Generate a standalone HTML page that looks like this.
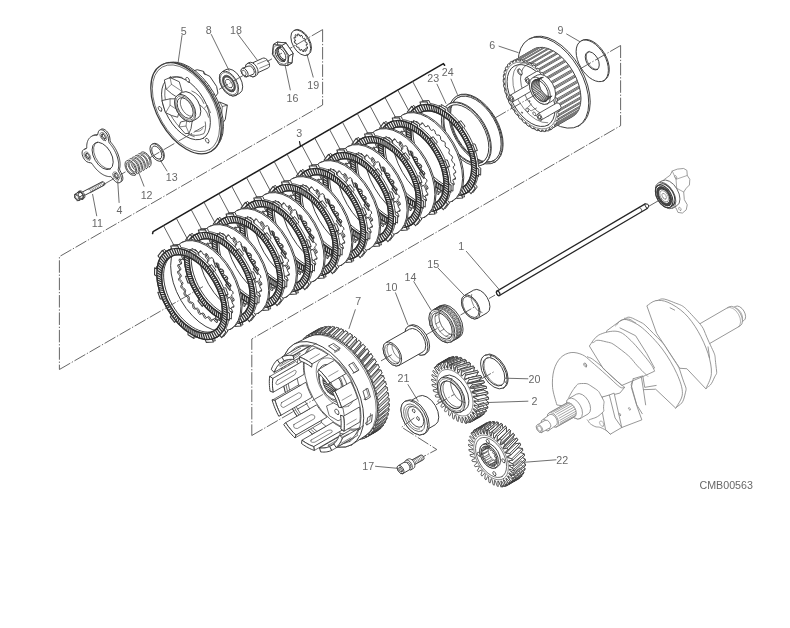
<!DOCTYPE html>
<html><head><meta charset="utf-8"><title>Clutch</title>
<style>
html,body{margin:0;padding:0;background:#fff;}
body{width:790px;height:628px;overflow:hidden;font-family:"Liberation Sans",sans-serif;}
svg{display:block;}
svg text{font-family:"Liberation Sans",sans-serif;}
</style></head><body>
<svg width="790" height="628" viewBox="0 0 790 628" stroke-linejoin="round" stroke-linecap="round">
<defs><filter id="soft" x="0" y="0" width="790" height="628" filterUnits="userSpaceOnUse"><feGaussianBlur stdDeviation="0.45"/></filter></defs>
<rect width="790" height="628" fill="#fff"/>
<g filter="url(#soft)">
<path d="M322.6 29.6 L322.6 105 L59.4 256.6 L59.4 369.5" fill="none" stroke="#4a4a4a" stroke-width="0.85" stroke-dasharray="12.5 1.8 1.3 1.8" stroke-linecap="butt"/>
<path d="M620.6 45.5 L620.6 125.7 L251.8 339 L251.8 435.5" fill="none" stroke="#4a4a4a" stroke-width="0.85" stroke-dasharray="12.5 1.8 1.3 1.8" stroke-linecap="butt"/>
<path d="M81.1 192.67 A2 1.15 60 0 0 81.1 194.98 A2 1.15 60 0 0 83.1 196.13 L104.4 185.13 A2 1.15 60 0 0 104.4 182.82 A2 1.15 60 0 0 102.4 181.67 Z" fill="#fff" stroke="#3a3a3a" stroke-width="0.98" />
<path d="M103.6 185.59 A2 1.15 60 0 0 103.6 183.28 A2 1.15 60 0 0 101.6 182.13 M102 186.52 A2 1.15 60 0 0 102 184.21 A2 1.15 60 0 0 100 183.05 M100.4 187.44 A2 1.15 60 0 0 100.4 185.13 A2 1.15 60 0 0 98.4 183.98 M98.8 188.37 A2 1.15 60 0 0 98.8 186.06 A2 1.15 60 0 0 96.8 184.9 M97.2 189.29 A2 1.15 60 0 0 97.2 186.98 A2 1.15 60 0 0 95.2 185.82 M95.6 190.21 A2 1.15 60 0 0 95.6 187.9 A2 1.15 60 0 0 93.6 186.75 M94 191.14 A2 1.15 60 0 0 94 188.83 A2 1.15 60 0 0 92 187.67 M92.4 192.06 A2 1.15 60 0 0 92.4 189.75 A2 1.15 60 0 0 90.4 188.6 M90.8 192.98 A2 1.15 60 0 0 90.8 190.67 A2 1.15 60 0 0 88.8 189.52 " fill="none" stroke="#3a3a3a" stroke-width="0.61" />
<path d="M78.4 191.47 A4.4 2.54 60 0 0 78.4 196.55 A4.4 2.54 60 0 0 82.8 199.09 L83.8 198.51 A4.4 2.54 60 0 0 83.8 193.43 A4.4 2.54 60 0 0 79.4 190.89 Z" fill="#fff" stroke="#3a3a3a" stroke-width="0.98" />
<path d="M82.8 199.09 A4.4 2.54 60 0 0 82.8 194.01 A4.4 2.54 60 0 0 78.4 191.47 A4.4 2.54 60 0 0 78.4 196.55 A4.4 2.54 60 0 0 82.8 199.09 Z" fill="#fff" stroke="#3a3a3a" stroke-width="0.98" />
<path d="M82.97 197.92 L82.74 194.78 L80.37 192.14 L78.23 192.63 L78.46 195.77 L80.83 198.42Z" fill="#fff" stroke="#3a3a3a" stroke-width="0.85" />
<path d="M79.37 200 L79.14 196.86 L82.74 194.78 L82.97 197.92Z" fill="#fff" stroke="#3a3a3a" stroke-width="0.73" />
<path d="M79.14 196.86 L76.77 194.21 L80.37 192.14 L82.74 194.78Z" fill="#fff" stroke="#3a3a3a" stroke-width="0.73" />
<path d="M76.77 194.21 L74.63 194.71 L78.23 192.63 L80.37 192.14Z" fill="#fff" stroke="#3a3a3a" stroke-width="0.73" />
<path d="M74.63 194.71 L74.86 197.85 L78.46 195.77 L78.23 192.63Z" fill="#fff" stroke="#3a3a3a" stroke-width="0.73" />
<path d="M74.86 197.85 L77.23 200.5 L80.83 198.42 L78.46 195.77Z" fill="#fff" stroke="#3a3a3a" stroke-width="0.73" />
<path d="M77.23 200.5 L79.37 200 L82.97 197.92 L80.83 198.42Z" fill="#fff" stroke="#3a3a3a" stroke-width="0.73" />
<path d="M79.37 200 L79.14 196.86 L76.77 194.21 L74.63 194.71 L74.86 197.85 L77.23 200.5Z" fill="#fff" stroke="#3a3a3a" stroke-width="0.98" />
<path d="M78.1 199.26 A2.2 1.27 60 0 0 78.1 196.72 A2.2 1.27 60 0 0 75.9 195.45 A2.2 1.27 60 0 0 75.9 197.99 A2.2 1.27 60 0 0 78.1 199.26 Z" fill="none" stroke="#3a3a3a" stroke-width="0.61" />
<path d="M119.59 182.03 L120.65 181.96 L121.53 181.55 L122.21 180.84 L122.66 179.83 L122.86 178.53 L122.74 176.92 L122.15 174.9 L120.96 172.4 L119.82 170.16 L119.54 168.88 L119.73 168.05 L119.88 167.19 L119.99 166.3 L120.06 165.37 L120.08 164.42 L120.06 163.44 L119.99 162.44 L119.88 161.42 L119.73 160.38 L119.54 159.33 L119.3 158.26 L119.02 157.19 L118.7 156.12 L118.34 155.04 L117.94 153.96 L117.5 152.88 L117.03 151.81 L116.52 150.75 L115.98 149.7 L115.4 148.67 L114.79 147.65 L114.16 146.66 L113.49 145.69 L112.8 144.74 L112.09 143.82 L111.36 142.94 L110.6 142.09 L110.11 140.59 L109.86 138.04 L109.36 135.55 L108.52 133.71 L107.53 132.2 L106.43 130.96 L105.27 130.01 L104.1 129.34 L102.94 128.99 L101.83 128.99 L100.82 129.4 L99.98 130.43 L99.41 132.28 L98.99 134.07 L98.37 134.66 L97.6 134.58 L96.84 134.56 L96.11 134.6 L95.4 134.69 L94.71 134.84 L94.04 135.04 L93.41 135.3 L92.8 135.62 L92.22 135.99 L91.68 136.41 L91.17 136.88 L90.7 137.4 L90.26 137.97 L89.86 138.59 L89.5 139.26 L89.18 139.97 L88.9 140.71 L88.66 141.5 L88.47 142.33 L88.32 143.19 L88.21 144.09 L88.14 145.01 L88.12 145.97 L88.14 146.94 L87.76 147.74 L86.5 148.25 L84.98 148.85 L84.01 149.81 L83.58 151.04 L83.48 152.43 L83.67 153.9 L84.11 155.41 L84.78 156.92 L85.67 158.37 L86.79 159.72 L88.15 160.9 L90.1 161.66 L92.2 162.06 L93.41 162.73 L94.04 163.73 L94.71 164.7 L95.4 165.64 L96.11 166.56 L96.84 167.44 L97.6 168.3 L98.37 169.11 L99.16 169.89 L99.96 170.63 L100.78 171.32 L101.6 171.97 L102.43 172.58 L103.26 173.14 L104.1 173.64 L104.94 174.1 L105.77 174.51 L106.6 174.86 L107.42 175.16 L108.24 175.4 L109.04 175.59 L109.83 175.73 L110.6 175.8 L111.36 175.82 L112.09 175.79 L113.23 176.71 L115.09 178.99 L116.92 180.88 L118.36 181.7Z" fill="#fff" stroke="#3a3a3a" stroke-width="0.98" />
<path d="M118.19 182.84 L119.25 182.77 L120.13 182.36 L120.81 181.65 L121.26 180.64 L121.46 179.34 L121.34 177.73 L120.75 175.71 L119.56 173.21 L118.42 170.97 L118.14 169.69 L118.33 168.86 L118.48 168 L118.59 167.1 L118.66 166.18 L118.68 165.23 L118.66 164.25 L118.59 163.25 L118.48 162.23 L118.33 161.19 L118.14 160.14 L117.9 159.07 L117.62 158 L117.3 156.92 L116.94 155.84 L116.54 154.76 L116.1 153.69 L115.63 152.62 L115.12 151.56 L114.58 150.51 L114 149.48 L113.39 148.46 L112.76 147.47 L112.09 146.49 L111.4 145.55 L110.69 144.63 L109.96 143.75 L109.2 142.9 L108.71 141.4 L108.46 138.84 L107.96 136.35 L107.12 134.52 L106.13 133.01 L105.03 131.77 L103.87 130.82 L102.7 130.15 L101.54 129.8 L100.43 129.79 L99.42 130.21 L98.58 131.24 L98.01 133.09 L97.59 134.88 L96.97 135.47 L96.2 135.39 L95.44 135.37 L94.71 135.41 L94 135.5 L93.31 135.65 L92.64 135.85 L92.01 136.11 L91.4 136.43 L90.82 136.8 L90.28 137.22 L89.77 137.69 L89.3 138.21 L88.86 138.78 L88.46 139.4 L88.1 140.07 L87.78 140.77 L87.5 141.52 L87.26 142.31 L87.07 143.14 L86.92 144 L86.81 144.9 L86.74 145.82 L86.72 146.77 L86.74 147.75 L86.36 148.55 L85.1 149.06 L83.58 149.65 L82.61 150.62 L82.18 151.85 L82.08 153.24 L82.27 154.71 L82.71 156.22 L83.38 157.73 L84.27 159.18 L85.39 160.53 L86.75 161.71 L88.7 162.47 L90.8 162.87 L92.01 163.54 L92.64 164.53 L93.31 165.51 L94 166.45 L94.71 167.37 L95.44 168.25 L96.2 169.1 L96.97 169.92 L97.76 170.7 L98.56 171.44 L99.38 172.13 L100.2 172.78 L101.03 173.39 L101.86 173.94 L102.7 174.45 L103.54 174.91 L104.37 175.32 L105.2 175.67 L106.02 175.97 L106.84 176.21 L107.64 176.4 L108.43 176.53 L109.2 176.61 L109.96 176.63 L110.69 176.59 L111.83 177.52 L113.69 179.8 L115.52 181.69 L116.96 182.51Z" fill="#fff" stroke="#3a3a3a" stroke-width="0.98" />
<path d="M110.2 168.99 A15 8.66 60 0 0 110.2 151.67 A15 8.66 60 0 0 95.2 143.01 A15 8.66 60 0 0 95.2 160.33 A15 8.66 60 0 0 110.2 168.99 Z" fill="#fff" stroke="#3a3a3a" stroke-width="0.98" />
<path d="M97.28 141.87 A15 8.66 60 0 0 95.41 157.2 A15 8.66 60 0 0 109.4 168.86 " fill="none" stroke="#3a3a3a" stroke-width="0.73" />
<path d="M105.63 140.6 A4.6 2.66 60 0 0 105.63 135.29 A4.6 2.66 60 0 0 101.03 132.63 A4.6 2.66 60 0 0 101.03 137.94 A4.6 2.66 60 0 0 105.63 140.6 Z" fill="none" stroke="#3a3a3a" stroke-width="0.61" />
<path d="M104.78 139.13 A2.9 1.67 60 0 0 104.78 135.78 A2.9 1.67 60 0 0 101.88 134.1 A2.9 1.67 60 0 0 101.88 137.45 A2.9 1.67 60 0 0 104.78 139.13 Z" fill="#fff" stroke="#3a3a3a" stroke-width="0.98" />
<path d="M103.32 133.69 A2.7 1.56 60 0 0 102.22 134.99 A2.7 1.56 60 0 0 103.22 137.57 A2.7 1.56 60 0 0 105.22 138.59 " fill="none" stroke="#3a3a3a" stroke-width="0.98" />
<path d="M89.7 160 A4.6 2.66 60 0 0 89.7 154.69 A4.6 2.66 60 0 0 85.1 152.03 A4.6 2.66 60 0 0 85.1 157.34 A4.6 2.66 60 0 0 89.7 160 Z" fill="none" stroke="#3a3a3a" stroke-width="0.61" />
<path d="M88.85 158.52 A2.9 1.67 60 0 0 88.85 155.18 A2.9 1.67 60 0 0 85.95 153.5 A2.9 1.67 60 0 0 85.95 156.85 A2.9 1.67 60 0 0 88.85 158.52 Z" fill="#fff" stroke="#3a3a3a" stroke-width="0.98" />
<path d="M87.39 153.09 A2.7 1.56 60 0 0 86.29 154.39 A2.7 1.56 60 0 0 87.29 156.97 A2.7 1.56 60 0 0 89.29 157.99 " fill="none" stroke="#3a3a3a" stroke-width="0.98" />
<path d="M118.45 179.97 A4.6 2.66 60 0 0 118.45 174.66 A4.6 2.66 60 0 0 113.85 172 A4.6 2.66 60 0 0 113.85 177.31 A4.6 2.66 60 0 0 118.45 179.97 Z" fill="none" stroke="#3a3a3a" stroke-width="0.61" />
<path d="M117.6 178.49 A2.9 1.67 60 0 0 117.6 175.15 A2.9 1.67 60 0 0 114.7 173.47 A2.9 1.67 60 0 0 114.7 176.82 A2.9 1.67 60 0 0 117.6 178.49 Z" fill="#fff" stroke="#3a3a3a" stroke-width="0.98" />
<path d="M116.14 173.06 A2.7 1.56 60 0 0 115.04 174.36 A2.7 1.56 60 0 0 116.04 176.94 A2.7 1.56 60 0 0 118.04 177.96 " fill="none" stroke="#3a3a3a" stroke-width="0.98" />
<path d="M149.2 166.11 A7.6 4.39 60 0 0 149.2 157.33 A7.6 4.39 60 0 0 141.6 152.95 A7.6 4.39 60 0 0 141.6 161.72 A7.6 4.39 60 0 0 149.2 166.11 Z" fill="none" stroke="#fff" stroke-width="3.17" />
<path d="M149.6 166.8 A8.4 4.85 60 0 0 149.6 157.1 A8.4 4.85 60 0 0 141.2 152.25 A8.4 4.85 60 0 0 141.2 161.95 A8.4 4.85 60 0 0 149.6 166.8 ZM148.75 165.33 A6.7 3.87 60 0 0 148.75 157.59 A6.7 3.87 60 0 0 142.05 153.73 A6.7 3.87 60 0 0 142.05 161.46 A6.7 3.87 60 0 0 148.75 165.33 Z" fill="#fff" stroke="#3a3a3a" stroke-width="0.88" fill-rule="evenodd"/>
<path d="M146.3 167.78 A7.6 4.39 60 0 0 146.3 159.01 A7.6 4.39 60 0 0 138.7 154.62 A7.6 4.39 60 0 0 138.7 163.4 A7.6 4.39 60 0 0 146.3 167.78 Z" fill="none" stroke="#fff" stroke-width="3.17" />
<path d="M146.7 168.48 A8.4 4.85 60 0 0 146.7 158.78 A8.4 4.85 60 0 0 138.3 153.93 A8.4 4.85 60 0 0 138.3 163.63 A8.4 4.85 60 0 0 146.7 168.48 ZM145.85 167.01 A6.7 3.87 60 0 0 145.85 159.27 A6.7 3.87 60 0 0 139.15 155.4 A6.7 3.87 60 0 0 139.15 163.14 A6.7 3.87 60 0 0 145.85 167.01 Z" fill="#fff" stroke="#3a3a3a" stroke-width="0.88" fill-rule="evenodd"/>
<path d="M143.4 169.46 A7.6 4.39 60 0 0 143.4 160.68 A7.6 4.39 60 0 0 135.8 156.3 A7.6 4.39 60 0 0 135.8 165.07 A7.6 4.39 60 0 0 143.4 169.46 Z" fill="none" stroke="#fff" stroke-width="3.17" />
<path d="M143.8 170.15 A8.4 4.85 60 0 0 143.8 160.45 A8.4 4.85 60 0 0 135.4 155.6 A8.4 4.85 60 0 0 135.4 165.3 A8.4 4.85 60 0 0 143.8 170.15 ZM142.95 168.68 A6.7 3.87 60 0 0 142.95 160.94 A6.7 3.87 60 0 0 136.25 157.07 A6.7 3.87 60 0 0 136.25 164.81 A6.7 3.87 60 0 0 142.95 168.68 Z" fill="#fff" stroke="#3a3a3a" stroke-width="0.88" fill-rule="evenodd"/>
<path d="M140.5 171.13 A7.6 4.39 60 0 0 140.5 162.36 A7.6 4.39 60 0 0 132.9 157.97 A7.6 4.39 60 0 0 132.9 166.75 A7.6 4.39 60 0 0 140.5 171.13 Z" fill="none" stroke="#fff" stroke-width="3.17" />
<path d="M140.9 171.83 A8.4 4.85 60 0 0 140.9 162.13 A8.4 4.85 60 0 0 132.5 157.28 A8.4 4.85 60 0 0 132.5 166.98 A8.4 4.85 60 0 0 140.9 171.83 ZM140.05 170.35 A6.7 3.87 60 0 0 140.05 162.62 A6.7 3.87 60 0 0 133.35 158.75 A6.7 3.87 60 0 0 133.35 166.49 A6.7 3.87 60 0 0 140.05 170.35 Z" fill="#fff" stroke="#3a3a3a" stroke-width="0.88" fill-rule="evenodd"/>
<path d="M137.6 172.81 A7.6 4.39 60 0 0 137.6 164.03 A7.6 4.39 60 0 0 130 159.64 A7.6 4.39 60 0 0 130 168.42 A7.6 4.39 60 0 0 137.6 172.81 Z" fill="none" stroke="#fff" stroke-width="3.17" />
<path d="M138 173.5 A8.4 4.85 60 0 0 138 163.8 A8.4 4.85 60 0 0 129.6 158.95 A8.4 4.85 60 0 0 129.6 168.65 A8.4 4.85 60 0 0 138 173.5 ZM137.15 172.03 A6.7 3.87 60 0 0 137.15 164.29 A6.7 3.87 60 0 0 130.45 160.42 A6.7 3.87 60 0 0 130.45 168.16 A6.7 3.87 60 0 0 137.15 172.03 Z" fill="#fff" stroke="#3a3a3a" stroke-width="0.88" fill-rule="evenodd"/>
<path d="M134.7 174.48 A7.6 4.39 60 0 0 134.7 165.71 A7.6 4.39 60 0 0 127.1 161.32 A7.6 4.39 60 0 0 127.1 170.09 A7.6 4.39 60 0 0 134.7 174.48 Z" fill="none" stroke="#fff" stroke-width="3.17" />
<path d="M135.1 175.17 A8.4 4.85 60 0 0 135.1 165.48 A8.4 4.85 60 0 0 126.7 160.63 A8.4 4.85 60 0 0 126.7 170.32 A8.4 4.85 60 0 0 135.1 175.17 ZM134.25 173.7 A6.7 3.87 60 0 0 134.25 165.97 A6.7 3.87 60 0 0 127.55 162.1 A6.7 3.87 60 0 0 127.55 169.83 A6.7 3.87 60 0 0 134.25 173.7 Z" fill="#fff" stroke="#3a3a3a" stroke-width="0.88" fill-rule="evenodd"/>
<path d="M162.45 160.54 A9.7 5.6 60 0 0 162.45 149.34 A9.7 5.6 60 0 0 152.75 143.74 A9.7 5.6 60 0 0 152.75 154.94 A9.7 5.6 60 0 0 162.45 160.54 Z" fill="#fff" stroke="#3a3a3a" stroke-width="0.98" />
<path d="M161.65 161 A9.7 5.6 60 0 0 161.65 149.8 A9.7 5.6 60 0 0 151.95 144.2 A9.7 5.6 60 0 0 151.95 155.4 A9.7 5.6 60 0 0 161.65 161 ZM160.4 158.84 A7.2 4.16 60 0 0 160.4 150.52 A7.2 4.16 60 0 0 153.2 146.36 A7.2 4.16 60 0 0 153.2 154.68 A7.2 4.16 60 0 0 160.4 158.84 Z" fill="#fff" stroke="#3a3a3a" stroke-width="0.98" fill-rule="evenodd"/>
<path d="M193.51 70.89 L197.19 69.72 L203.55 71.39 L203.88 73.4 L209.9 76.41 L216.6 86.45 L217.93 93.14 L215.26 96.82 L208.57 88.46Z" fill="#fff" stroke="#3a3a3a" stroke-width="0.98" />
<path d="M203.55 71.39 L205.56 75.07 L203.88 73.4" fill="none" stroke="#3a3a3a" stroke-width="0.73" />
<path d="M216.93 102.67 L219.94 102.17 L227.3 105.18 L225.29 119.4 L223.62 121.91 L220.28 122.75 L218.6 118.57Z" fill="#fff" stroke="#3a3a3a" stroke-width="0.98" />
<path d="M219.94 102.17 L222.28 106.52 L221.11 121.91" fill="none" stroke="#3a3a3a" stroke-width="0.73" />
<path d="M222.28 106.52 L227.3 105.18" fill="none" stroke="#3a3a3a" stroke-width="0.73" />
<path d="M213.5 148.54 A48.6 28.06 60 0 0 213.5 92.42 A48.6 28.06 60 0 0 164.9 64.36 A48.6 28.06 60 0 0 164.9 120.48 A48.6 28.06 60 0 0 213.5 148.54 Z" fill="#fff" stroke="#3a3a3a" stroke-width="0.98" />
<path d="M222.27 116.73 L221.26 117.93 M221.29 112.22 L220.26 113.32 M219.96 107.65 L218.9 108.66 M218.29 103.06 L217.2 103.98 M216.31 98.52 L215.17 99.33 M214.02 94.06 L212.84 94.78 M211.47 89.73 L210.23 90.36 M208.67 85.59 L207.37 86.13 M205.65 81.67 L204.3 82.14 " fill="none" stroke="#3a3a3a" stroke-width="0.73" />
<path d="M212.1 150.74 A49.8 28.75 60 0 0 212.1 93.23 A49.8 28.75 60 0 0 162.3 64.48 A49.8 28.75 60 0 0 162.3 121.98 A49.8 28.75 60 0 0 212.1 150.74 Z" fill="#fff" stroke="#3a3a3a" stroke-width="0.98" />
<path d="M210.9 151.43 A49.8 28.75 60 0 0 210.9 93.92 A49.8 28.75 60 0 0 161.1 65.17 A49.8 28.75 60 0 0 161.1 122.68 A49.8 28.75 60 0 0 210.9 151.43 Z" fill="#fff" stroke="#3a3a3a" stroke-width="1.22" />
<path d="M209.8 149.52 A47.6 27.48 60 0 0 209.8 94.56 A47.6 27.48 60 0 0 162.2 67.08 A47.6 27.48 60 0 0 162.2 122.04 A47.6 27.48 60 0 0 209.8 149.52 Z" fill="none" stroke="#3a3a3a" stroke-width="0.73" />
<path d="M203.3 138.26 A34.6 19.98 60 0 0 203.3 98.31 A34.6 19.98 60 0 0 168.7 78.34 A34.6 19.98 60 0 0 168.7 118.29 A34.6 19.98 60 0 0 203.3 138.26 Z" fill="none" stroke="#3a3a3a" stroke-width="0.98" />
<path d="M182.12 77.34 A33.2 19.17 60 0 0 165.52 100.95 A33.2 19.17 60 0 0 194.28 136.72 " fill="none" stroke="#3a3a3a" stroke-width="0.73" />
<path d="M164.74 79.76 L170.09 77.58 L179.29 81.76 L182.14 91.47 L176.45 96.82 L171.76 93.81 L166.41 89.29Z" fill="#fff" stroke="#3a3a3a" stroke-width="0.85" />
<path d="M162.23 100.5 L170.09 98.83 L176.11 98.83 L178.46 105.18 L179.29 111.04 L177.62 117.23 L171.76 115.56 L165.74 112.71Z" fill="#fff" stroke="#3a3a3a" stroke-width="0.85" />
<path d="M180.97 121.91 L186.82 120.57 L192.17 121.08 L191 128.6 L188.99 133.29 L185.15 133.62 L179.29 126.93Z" fill="#fff" stroke="#3a3a3a" stroke-width="0.85" />
<path d="M170.09 77.58 L171.43 84.27 L166.41 89.29" fill="none" stroke="#3a3a3a" stroke-width="0.61" />
<path d="M171.43 84.27 L182.14 91.47" fill="none" stroke="#3a3a3a" stroke-width="0.61" />
<path d="M170.09 98.83 L170.09 105.18 L165.74 112.71" fill="none" stroke="#3a3a3a" stroke-width="0.61" />
<path d="M170.09 105.18 L179.29 111.04" fill="none" stroke="#3a3a3a" stroke-width="0.61" />
<path d="M186.82 120.57 L185.98 126.09 L188.99 133.29" fill="none" stroke="#3a3a3a" stroke-width="0.61" />
<path d="M185.98 126.09 L179.29 126.93" fill="none" stroke="#3a3a3a" stroke-width="0.61" />
<path d="M188.83 133.62 Q195.18 137.3 203.88 133.62 Q206.56 128.6 205.22 121.91" fill="none" stroke="#3a3a3a" stroke-width="0.73" />
<path d="M195.18 131.11 Q200.2 132.28 202.71 128.6" fill="none" stroke="#3a3a3a" stroke-width="0.61" />
<path d="M200.2 105.18 Q207.23 110.2 208.57 117.23" fill="none" stroke="#3a3a3a" stroke-width="0.73" />
<path d="M204.38 108.2 L207.23 105.18 L210.57 112.71" fill="none" stroke="#3a3a3a" stroke-width="0.61" />
<path d="M191.84 90.97 Q200.2 94.31 203.88 103.51" fill="none" stroke="#3a3a3a" stroke-width="0.73" />
<path d="M169.76 78.42 L170.43 76.41 L171.76 77.75" fill="none" stroke="#3a3a3a" stroke-width="0.73" />
<path d="M177.7 95.08 A15 8.66 60 0 0 177.7 112.4 A15 8.66 60 0 0 192.7 121.06 L197.7 118.17 A15 8.66 60 0 0 197.7 100.85 A15 8.66 60 0 0 182.7 92.19 Z" fill="#fff" stroke="#3a3a3a" stroke-width="0.98" />
<path d="M192.7 121.06 A15 8.66 60 0 0 192.7 103.74 A15 8.66 60 0 0 177.7 95.08 A15 8.66 60 0 0 177.7 112.4 A15 8.66 60 0 0 192.7 121.06 Z" fill="#fff" stroke="#3a3a3a" stroke-width="0.98" />
<path d="M191.9 119.67 A13.4 7.74 60 0 0 191.9 104.2 A13.4 7.74 60 0 0 178.5 96.46 A13.4 7.74 60 0 0 178.5 111.93 A13.4 7.74 60 0 0 191.9 119.67 Z" fill="none" stroke="#3a3a3a" stroke-width="0.61" />
<path d="M190.9 117.94 A11.4 6.58 60 0 0 190.9 104.78 A11.4 6.58 60 0 0 179.5 98.19 A11.4 6.58 60 0 0 179.5 111.36 A11.4 6.58 60 0 0 190.9 117.94 Z" fill="#fff" stroke="#3a3a3a" stroke-width="0.98" />
<path d="M183.4 97.05 A10.6 6.12 60 0 0 181.56 108.04 A10.6 6.12 60 0 0 192 116.19 " fill="none" stroke="#3a3a3a" stroke-width="0.73" />
<path d="M188.96 82.01 A2.6 1.5 60 0 0 188.96 79.01 A2.6 1.5 60 0 0 186.36 77.51 A2.6 1.5 60 0 0 186.36 80.51 A2.6 1.5 60 0 0 188.96 82.01 Z" fill="#fff" stroke="#3a3a3a" stroke-width="0.85" />
<path d="M161.36 111.12 A2.6 1.5 60 0 0 161.36 108.11 A2.6 1.5 60 0 0 158.76 106.61 A2.6 1.5 60 0 0 158.76 109.61 A2.6 1.5 60 0 0 161.36 111.12 Z" fill="#fff" stroke="#3a3a3a" stroke-width="0.85" />
<path d="M208.53 142.9 A2.6 1.5 60 0 0 208.53 139.9 A2.6 1.5 60 0 0 205.93 138.4 A2.6 1.5 60 0 0 205.93 141.4 A2.6 1.5 60 0 0 208.53 142.9 Z" fill="#fff" stroke="#3a3a3a" stroke-width="0.85" />
<path d="M222.15 71.74 A13.7 7.91 60 0 0 222.15 87.55 A13.7 7.91 60 0 0 235.85 95.46 L239.85 93.16 A13.7 7.91 60 0 0 239.85 77.34 A13.7 7.91 60 0 0 226.15 69.43 Z" fill="#fff" stroke="#3a3a3a" stroke-width="0.98" />
<path d="M235.85 95.46 A13.7 7.91 60 0 0 235.85 79.65 A13.7 7.91 60 0 0 222.15 71.74 A13.7 7.91 60 0 0 222.15 87.55 A13.7 7.91 60 0 0 235.85 95.46 Z" fill="#fff" stroke="#3a3a3a" stroke-width="0.98" />
<path d="M235.15 94.25 A12.3 7.1 60 0 0 235.15 80.05 A12.3 7.1 60 0 0 222.85 72.95 A12.3 7.1 60 0 0 222.85 87.15 A12.3 7.1 60 0 0 235.15 94.25 Z" fill="none" stroke="#3a3a3a" stroke-width="0.61" />
<path d="M233.6 91.57 A9.2 5.31 60 0 0 233.6 80.94 A9.2 5.31 60 0 0 224.4 75.63 A9.2 5.31 60 0 0 224.4 86.26 A9.2 5.31 60 0 0 233.6 91.57 ZM232.6 89.84 A7.2 4.16 60 0 0 232.6 81.52 A7.2 4.16 60 0 0 225.4 77.36 A7.2 4.16 60 0 0 225.4 85.68 A7.2 4.16 60 0 0 232.6 89.84 Z" fill="#555" stroke="#3a3a3a" stroke-width="0.73" fill-rule="evenodd"/>
<path d="M231.4 87.76 A4.8 2.77 60 0 0 231.4 82.21 A4.8 2.77 60 0 0 226.6 79.44 A4.8 2.77 60 0 0 226.6 84.99 A4.8 2.77 60 0 0 231.4 87.76 Z" fill="#fff" stroke="#3a3a3a" stroke-width="0.85" />
<path d="M250.04 64.06 A5.6 3.23 60 0 0 250.04 70.53 A5.6 3.23 60 0 0 255.64 73.76 L268.4 67.84 A5.6 3.23 60 0 0 268.4 61.37 A5.6 3.23 60 0 0 262.8 58.14 Z" fill="#fff" stroke="#3a3a3a" stroke-width="0.98" />
<path d="M255.64 73.76 A5.6 3.23 60 0 0 255.64 67.3 A5.6 3.23 60 0 0 250.04 64.06 A5.6 3.23 60 0 0 250.04 70.53 A5.6 3.23 60 0 0 255.64 73.76 Z" fill="#fff" stroke="#3a3a3a" stroke-width="0.98" />
<path d="M259.66 68.21 L268.92 64.3" fill="none" stroke="#3a3a3a" stroke-width="0.61" />
<path d="M257.51 64 L266.77 60.1" fill="none" stroke="#3a3a3a" stroke-width="0.61" />
<path d="M247.01 63.72 A7.4 4.27 60 0 0 247.01 72.27 A7.4 4.27 60 0 0 254.41 76.54 L256.54 75.32 A7.4 4.27 60 0 0 256.54 66.78 A7.4 4.27 60 0 0 249.14 62.51 Z" fill="#fff" stroke="#3a3a3a" stroke-width="0.98" />
<path d="M254.41 76.54 A7.4 4.27 60 0 0 254.41 67.99 A7.4 4.27 60 0 0 247.01 63.72 A7.4 4.27 60 0 0 247.01 72.27 A7.4 4.27 60 0 0 254.41 76.54 Z" fill="#fff" stroke="#3a3a3a" stroke-width="0.98" />
<path d="M242.23 68.4 A4.8 2.77 60 0 0 242.23 73.95 A4.8 2.77 60 0 0 247.03 76.72 L253.11 74.29 A4.8 2.77 60 0 0 253.11 68.74 A4.8 2.77 60 0 0 248.31 65.97 Z" fill="#fff" stroke="#3a3a3a" stroke-width="0.98" />
<path d="M247.03 76.72 A4.8 2.77 60 0 0 247.03 71.17 A4.8 2.77 60 0 0 242.23 68.4 A4.8 2.77 60 0 0 242.23 73.95 A4.8 2.77 60 0 0 247.03 76.72 Z" fill="#fff" stroke="#3a3a3a" stroke-width="0.98" />
<path d="M245.53 75.5 A3 1.73 60 0 0 245.53 72.04 A3 1.73 60 0 0 242.53 70.31 A3 1.73 60 0 0 242.53 73.77 A3 1.73 60 0 0 245.53 75.5 Z" fill="#fff" stroke="#3a3a3a" stroke-width="0.73" />
<path d="M291.92 62.77 L293 53.19 L285.89 42.89 L277.68 42.18 L276.6 51.76 L283.71 62.06Z" fill="#fff" stroke="#3a3a3a" stroke-width="0.98" />
<path d="M287.72 65.2 L288.8 55.62 L293 53.19 L291.92 62.77Z" fill="#fff" stroke="#3a3a3a" stroke-width="0.85" />
<path d="M288.8 55.62 L281.69 45.32 L285.89 42.89 L293 53.19Z" fill="#fff" stroke="#3a3a3a" stroke-width="0.85" />
<path d="M281.69 45.32 L273.48 44.6 L277.68 42.18 L285.89 42.89Z" fill="#fff" stroke="#3a3a3a" stroke-width="0.85" />
<path d="M273.48 44.6 L272.4 54.18 L276.6 51.76 L277.68 42.18Z" fill="#fff" stroke="#3a3a3a" stroke-width="0.85" />
<path d="M272.4 54.18 L279.51 64.48 L283.71 62.06 L276.6 51.76Z" fill="#fff" stroke="#3a3a3a" stroke-width="0.85" />
<path d="M279.51 64.48 L287.72 65.2 L291.92 62.77 L283.71 62.06Z" fill="#fff" stroke="#3a3a3a" stroke-width="0.85" />
<path d="M287.72 65.2 L288.8 55.62 L281.69 45.32 L273.48 44.6 L272.4 54.18 L279.51 64.48Z" fill="#fff" stroke="#3a3a3a" stroke-width="0.98" />
<path d="M285.8 63.91 A10.4 6 60 0 0 285.8 51.9 A10.4 6 60 0 0 275.4 45.89 A10.4 6 60 0 0 275.4 57.9 A10.4 6 60 0 0 285.8 63.91 Z" fill="none" stroke="#3a3a3a" stroke-width="0.61" />
<path d="M284.4 61.48 A7.6 4.39 60 0 0 284.4 52.71 A7.6 4.39 60 0 0 276.8 48.32 A7.6 4.39 60 0 0 276.8 57.09 A7.6 4.39 60 0 0 284.4 61.48 Z" fill="#fff" stroke="#3a3a3a" stroke-width="0.98" />
<path d="M280.81 47.18 A7.6 4.39 60 0 0 276.94 49.68 A7.6 4.39 60 0 0 278.87 56.92 A7.6 4.39 60 0 0 284.47 60.91 " fill="none" stroke="#3a3a3a" stroke-width="1.46" />
<path d="M280.98 46.42 A7.4 4.27 60 0 0 278.77 52.69 A7.4 4.27 60 0 0 284.95 59.79 " fill="none" stroke="#3a3a3a" stroke-width="0.98" />
<path d="M308.65 54.55 A14.1 8.14 60 0 0 308.65 38.27 A14.1 8.14 60 0 0 294.55 30.13 A14.1 8.14 60 0 0 294.55 46.41 A14.1 8.14 60 0 0 308.65 54.55 Z" fill="#fff" stroke="#3a3a3a" stroke-width="0.98" />
<path d="M307.85 55.01 A14.1 8.14 60 0 0 307.85 38.73 A14.1 8.14 60 0 0 293.75 30.59 A14.1 8.14 60 0 0 293.75 46.87 A14.1 8.14 60 0 0 307.85 55.01 ZM305.6 51.11 L306.59 50.24 L305.65 48.64 L306.05 47.8 L307.36 48.61 L307.59 46.92 L306.31 45.82 L306.19 44.59 L307.36 44.56 L306.77 42.5 L305.5 42.19 L304.9 40.9 L305.6 40.03 L304.35 38.16 L303.43 38.72 L302.5 37.73 L302.56 36.24 L300.98 35.07 L300.66 36.35 L299.65 35.91 L299.04 34.21 L297.56 34.04 L297.92 35.71 L297.11 35.94 L296 34.49 L295.01 35.36 L295.95 36.96 L295.55 37.8 L294.24 36.99 L294.01 38.68 L295.29 39.78 L295.41 41.01 L294.24 41.04 L294.83 43.1 L296.1 43.41 L296.7 44.7 L296 45.57 L297.25 47.44 L298.17 46.88 L299.1 47.87 L299.04 49.36 L300.62 50.53 L300.94 49.25 L301.95 49.69 L302.56 51.39 L304.04 51.56 L303.68 49.89 L304.49 49.66Z" fill="#fff" stroke="#3a3a3a" stroke-width="0.98" fill-rule="evenodd"/>
<path d="M604.65 80.21 A22.9 13.22 60 0 0 604.65 53.77 A22.9 13.22 60 0 0 581.75 40.55 A22.9 13.22 60 0 0 581.75 66.99 A22.9 13.22 60 0 0 604.65 80.21 Z" fill="#fff" stroke="#3a3a3a" stroke-width="0.98" />
<path d="M603.75 80.73 A22.9 13.22 60 0 0 603.75 54.29 A22.9 13.22 60 0 0 580.85 41.07 A22.9 13.22 60 0 0 580.85 67.51 A22.9 13.22 60 0 0 603.75 80.73 ZM597.3 69.56 A10 5.77 60 0 0 597.3 58.01 A10 5.77 60 0 0 587.3 52.24 A10 5.77 60 0 0 587.3 63.79 A10 5.77 60 0 0 597.3 69.56 Z" fill="#fff" stroke="#3a3a3a" stroke-width="0.98" fill-rule="evenodd"/>
<path d="M589.14 51.35 A10 5.77 60 0 0 587.41 61.72 A10 5.77 60 0 0 597.26 69.41 " fill="none" stroke="#3a3a3a" stroke-width="0.73" />
<path d="M580 125.1 A50 28.87 60 0 0 580 67.37 A50 28.87 60 0 0 530 38.5 A50 28.87 60 0 0 530 96.24 A50 28.87 60 0 0 580 125.1 Z" fill="#fff" stroke="#3a3a3a" stroke-width="0.98" />
<path d="M578.5 125.97 A50 28.87 60 0 0 578.5 68.23 A50 28.87 60 0 0 528.5 39.37 A50 28.87 60 0 0 528.5 97.1 A50 28.87 60 0 0 578.5 125.97 Z" fill="#fff" stroke="#3a3a3a" stroke-width="0.98" />
<path d="M511.65 61.91 A38.9 22.46 60 0 0 511.65 106.83 A38.9 22.46 60 0 0 550.55 129.29 L572.95 116.36 A38.9 22.46 60 0 0 572.95 71.44 A38.9 22.46 60 0 0 534.05 48.98 Z" fill="#fff" stroke="#3a3a3a" stroke-width="0.98" />
<path d="M553.35 127.12 L575.25 114.47 M554.1 126 L576 113.35 M555.61 124.17 L577.51 111.53 M556.14 122.81 L578.04 110.16 M557.26 120.52 L579.16 107.87 M557.56 118.95 L579.46 106.3 M558.27 116.25 L580.17 103.61 M558.32 114.51 L580.22 101.87 M558.61 111.48 L580.51 98.84 M558.42 109.61 L580.32 96.97 M558.27 106.32 L580.17 93.67 M557.85 104.36 L579.75 91.72 M557.26 100.89 L579.16 88.24 M556.61 98.9 L578.51 86.26 M555.61 95.33 L577.51 82.69 M554.75 93.36 L576.65 80.72 M553.35 89.78 L575.25 77.13 M552.31 87.87 L574.21 75.23 M550.55 84.37 L572.45 71.73 M549.34 82.57 L571.24 69.93 M547.27 79.24 L569.17 66.59 M545.92 77.6 L567.82 64.95 M543.59 74.51 L565.49 61.87 M542.14 73.06 L564.04 60.42 M539.6 70.3 L561.5 57.66 M538.09 69.09 L559.99 56.44 M535.4 66.71 L557.3 54.07 M533.87 65.76 L555.77 53.12 M531.1 63.84 L553 51.19 M529.57 63.17 L551.47 50.52 M526.8 61.75 L548.7 49.1 M525.32 61.38 L547.22 48.73 M522.6 60.49 L544.5 47.84 M521.2 60.43 L543.1 47.78 M518.61 60.09 L540.51 47.45 M517.33 60.34 L539.23 47.7 M514.93 60.57 L536.83 47.93 M513.8 61.13 L535.7 48.48 " fill="none" stroke="#3a3a3a" stroke-width="0.79" />
<path d="M553.8 126.65 L575.7 114 M555.95 123.57 L577.85 110.93 M557.49 119.8 L579.39 107.16 M558.38 115.44 L580.28 102.8 M558.6 110.59 L580.5 97.94 M558.14 105.37 L580.04 92.72 M557.01 99.91 L578.91 87.26 M555.25 94.34 L577.15 81.7 M552.89 88.8 L574.79 76.16 M550 83.43 L571.9 70.79 M546.64 78.37 L568.54 65.72 M542.9 73.72 L564.8 61.08 M538.87 69.61 L560.77 56.97 M534.64 66.15 L556.54 53.5 M530.33 63.41 L552.23 50.76 M526.04 61.46 L547.94 48.82 M521.87 60.35 L543.77 47.71 M517.93 60.11 L539.83 47.47 M514.32 60.75 L536.22 48.1 " fill="none" stroke="#7a7a7a" stroke-width="1.22" />
<path d="M550.85 129.81 L552.34 128.81 L551.61 127.36 L552.66 126.43 L553.7 127.6 L554.91 126.2 L554.06 124.82 L554.88 123.6 L555.99 124.61 L556.9 122.84 L555.94 121.56 L556.52 120.07 L557.66 120.9 L558.26 118.81 L557.21 117.66 L557.54 115.94 L558.69 116.57 L558.94 114.21 L557.83 113.22 L557.9 111.32 L559.03 111.73 L558.94 109.15 L557.8 108.34 L557.6 106.3 L558.69 106.48 L558.26 103.75 L557.11 103.16 L556.65 101.02 L557.66 100.97 L556.9 98.16 L555.78 97.78 L555.07 95.61 L555.99 95.33 L554.91 92.5 L553.84 92.35 L552.9 90.2 L553.7 89.69 L552.34 86.92 L551.34 87 L550.2 84.92 L550.85 84.2 L549.24 81.55 L548.34 81.87 L547.02 79.9 L547.52 78.99 L545.69 76.53 L544.92 77.07 L543.45 75.27 L543.78 74.18 L541.79 71.97 L541.16 72.73 L539.58 71.14 L539.73 69.91 L537.62 68 L537.15 68.95 L535.5 67.62 L535.47 66.27 L533.29 64.71 L532.99 65.82 L531.31 64.78 L531.1 63.35 L528.91 62.18 L528.79 63.44 L527.12 62.7 L526.73 61.22 L524.58 60.48 L524.64 61.84 L523.02 61.43 L522.47 59.94 L520.41 59.63 L520.65 61.07 L519.12 61 L518.42 59.54 L516.51 59.68 L516.92 61.15 L515.52 61.43 L514.68 60.03 L512.96 60.6 L513.54 62.09 L512.3 62.69 L511.35 61.39 L509.86 62.39 L510.59 63.84 L509.54 64.77 L508.5 63.6 L507.29 65 L508.14 66.38 L507.32 67.6 L506.21 66.59 L505.3 68.36 L506.26 69.64 L505.68 71.13 L504.54 70.3 L503.94 72.39 L504.99 73.54 L504.66 75.26 L503.51 74.63 L503.26 76.99 L504.37 77.98 L504.3 79.88 L503.17 79.47 L503.26 82.05 L504.4 82.86 L504.6 84.9 L503.51 84.72 L503.94 87.45 L505.09 88.04 L505.55 90.18 L504.54 90.23 L505.3 93.04 L506.42 93.42 L507.13 95.59 L506.21 95.87 L507.29 98.7 L508.36 98.85 L509.3 101 L508.5 101.51 L509.86 104.28 L510.86 104.2 L512 106.28 L511.35 107 L512.96 109.65 L513.86 109.33 L515.18 111.3 L514.68 112.21 L516.51 114.67 L517.28 114.13 L518.75 115.93 L518.42 117.02 L520.41 119.23 L521.04 118.47 L522.62 120.06 L522.47 121.29 L524.58 123.2 L525.05 122.25 L526.7 123.58 L526.73 124.93 L528.91 126.49 L529.21 125.38 L530.89 126.42 L531.1 127.85 L533.29 129.02 L533.41 127.76 L535.08 128.5 L535.47 129.98 L537.62 130.72 L537.56 129.36 L539.18 129.77 L539.73 131.26 L541.79 131.57 L541.55 130.13 L543.08 130.2 L543.78 131.66 L545.69 131.52 L545.28 130.05 L546.68 129.77 L547.52 131.17 L549.24 130.6 L548.66 129.11 L549.9 128.51Z" fill="#fff" stroke="#3a3a3a" stroke-width="0.85" />
<path d="M549.45 127.38 A36.7 21.19 60 0 0 549.45 85.01 A36.7 21.19 60 0 0 512.75 63.82 A36.7 21.19 60 0 0 512.75 106.19 A36.7 21.19 60 0 0 549.45 127.38 Z" fill="none" stroke="#3a3a3a" stroke-width="0.61" />
<path d="M548.1 125.04 A34 19.63 60 0 0 548.1 85.79 A34 19.63 60 0 0 514.1 66.16 A34 19.63 60 0 0 514.1 105.41 A34 19.63 60 0 0 548.1 125.04 Z" fill="#fff" stroke="#3a3a3a" stroke-width="0.98" />
<path d="M526.24 62.6 A33 19.05 60 0 0 512.8 77.7 A33 19.05 60 0 0 523.85 108.57 A33 19.05 60 0 0 547.77 122.78 " fill="none" stroke="#3a3a3a" stroke-width="0.61" />
<path d="M535.79 63.89 A29 16.74 60 0 0 521.15 72.85 A29 16.74 60 0 0 527.47 99.64 A29 16.74 60 0 0 548.11 116.13 " fill="none" stroke="#3a3a3a" stroke-width="0.73" />
<path d="M521.6 74.94 A3.4 1.96 60 0 0 521.6 71.02 A3.4 1.96 60 0 0 518.2 69.06 A3.4 1.96 60 0 0 518.2 72.98 A3.4 1.96 60 0 0 521.6 74.94 Z" fill="#fff" stroke="#3a3a3a" stroke-width="0.85" />
<path d="M519.3 68.71 A3.2 1.85 60 0 0 518.75 72.03 A3.2 1.85 60 0 0 521.9 74.49 " fill="none" stroke="#3a3a3a" stroke-width="0.73" />
<path d="M528.2 111.73 A2 1.15 60 0 0 528.2 109.42 A2 1.15 60 0 0 526.2 108.27 A2 1.15 60 0 0 526.2 110.58 A2 1.15 60 0 0 528.2 111.73 Z" fill="#fff" stroke="#3a3a3a" stroke-width="0.73" />
<path d="M522.35 113.11 A0.7 0.4 60 0 0 522.35 112.3 A0.7 0.4 60 0 0 521.65 111.89 A0.7 0.4 60 0 0 521.65 112.7 A0.7 0.4 60 0 0 522.35 113.11 Z" fill="#3a3a3a" stroke="#3a3a3a" stroke-width="0.49" />
<path d="M529.9 101.52 A0.6 0.35 60 0 0 529.9 100.83 A0.6 0.35 60 0 0 529.3 100.48 A0.6 0.35 60 0 0 529.3 101.17 A0.6 0.35 60 0 0 529.9 101.52 Z" fill="#3a3a3a" stroke="#3a3a3a" stroke-width="0.49" />
<path d="M525.92 77.59 A3.5 2.02 60 0 0 525.92 81.63 A3.5 2.02 60 0 0 529.42 83.65 L540.42 77.3 A3.5 2.02 60 0 0 540.42 73.26 A3.5 2.02 60 0 0 536.92 71.23 Z" fill="#fff" stroke="#3a3a3a" stroke-width="0.85" />
<path d="M529.42 83.65 A3.5 2.02 60 0 0 529.42 79.61 A3.5 2.02 60 0 0 525.92 77.59 A3.5 2.02 60 0 0 525.92 81.63 A3.5 2.02 60 0 0 529.42 83.65 Z" fill="#fff" stroke="#3a3a3a" stroke-width="0.85" />
<path d="M528.62 82.26 A1.9 1.1 60 0 0 528.62 80.07 A1.9 1.1 60 0 0 526.72 78.97 A1.9 1.1 60 0 0 526.72 81.16 A1.9 1.1 60 0 0 528.62 82.26 Z" fill="#fff" stroke="#3a3a3a" stroke-width="0.98" />
<path d="M509.74 95.47 A3.5 2.02 60 0 0 509.74 99.51 A3.5 2.02 60 0 0 513.24 101.53 L532.24 90.56 A3.5 2.02 60 0 0 532.24 86.52 A3.5 2.02 60 0 0 528.74 84.5 Z" fill="#fff" stroke="#3a3a3a" stroke-width="0.85" />
<path d="M513.24 101.53 A3.5 2.02 60 0 0 513.24 97.49 A3.5 2.02 60 0 0 509.74 95.47 A3.5 2.02 60 0 0 509.74 99.51 A3.5 2.02 60 0 0 513.24 101.53 Z" fill="#fff" stroke="#3a3a3a" stroke-width="0.85" />
<path d="M512.44 100.15 A1.9 1.1 60 0 0 512.44 97.95 A1.9 1.1 60 0 0 510.54 96.85 A1.9 1.1 60 0 0 510.54 99.05 A1.9 1.1 60 0 0 512.44 100.15 Z" fill="#fff" stroke="#3a3a3a" stroke-width="0.98" />
<path d="M532.5 77.81 A15 8.66 60 0 0 532.5 95.13 A15 8.66 60 0 0 547.5 103.79 L552.5 100.9 A15 8.66 60 0 0 552.5 83.58 A15 8.66 60 0 0 537.5 74.92 Z" fill="#fff" stroke="#3a3a3a" stroke-width="0.85" />
<path d="M547.5 103.79 A15 8.66 60 0 0 547.5 86.47 A15 8.66 60 0 0 532.5 77.81 A15 8.66 60 0 0 532.5 95.13 A15 8.66 60 0 0 547.5 103.79 Z" fill="#fff" stroke="#3a3a3a" stroke-width="0.85" />
<path d="M546 101.19 A12 6.93 60 0 0 546 87.34 A12 6.93 60 0 0 534 80.41 A12 6.93 60 0 0 534 94.26 A12 6.93 60 0 0 546 101.19 Z" fill="#fff" stroke="#3a3a3a" stroke-width="0.98" />
<path d="M536.41 79.85 L543.33 77.37 M535.38 79.91 L542.42 77.43 M534.43 80.19 L541.58 77.68 M533.6 80.67 L540.84 78.1 M532.88 81.36 L540.21 78.7 M532.31 82.22 L539.71 79.47 M531.89 83.25 L539.33 80.38 M531.62 84.43 L539.1 81.42 M531.52 85.73 L539.01 82.57 M531.58 87.13 L539.06 83.81 M531.8 88.6 L539.26 85.11 M532.19 90.12 L539.6 86.45 M532.73 91.65 L540.08 87.8 M533.41 93.16 L540.68 89.13 M534.21 94.62 L541.39 90.43 M535.13 96.02 L542.2 91.65 M536.15 97.31 L543.1 92.79 M537.24 98.47 L544.06 93.82 M538.38 99.48 L545.07 94.72 M539.56 100.33 L546.11 95.46 M540.74 100.99 L547.15 96.05 M541.91 101.45 L548.19 96.45 M543.04 101.7 L549.19 96.68 M544.11 101.74 L550.13 96.71 M545.11 101.57 L551.01 96.56 M546 101.19 L551.8 96.23 " fill="none" stroke="#3a3a3a" stroke-width="0.85" />
<path d="M542.2 77.48 A10.6 6.12 60 0 0 539.08 84.02 A10.6 6.12 60 0 0 544.14 93.9 A10.6 6.12 60 0 0 551.8 96.23 " fill="none" stroke="#3a3a3a" stroke-width="0.73" />
<path d="M531.5 104 L527.5 107.5 L531 111 L536.5 108" fill="none" stroke="#3a3a3a" stroke-width="0.61" />
<path d="M537.78 113.95 A3.5 2.02 60 0 0 537.78 117.99 A3.5 2.02 60 0 0 541.28 120.01 L560.28 109.04 A3.5 2.02 60 0 0 560.28 105 A3.5 2.02 60 0 0 556.78 102.98 Z" fill="#fff" stroke="#3a3a3a" stroke-width="0.85" />
<path d="M541.28 120.01 A3.5 2.02 60 0 0 541.28 115.97 A3.5 2.02 60 0 0 537.78 113.95 A3.5 2.02 60 0 0 537.78 117.99 A3.5 2.02 60 0 0 541.28 120.01 Z" fill="#fff" stroke="#3a3a3a" stroke-width="0.85" />
<path d="M540.48 118.62 A1.9 1.1 60 0 0 540.48 116.43 A1.9 1.1 60 0 0 538.58 115.33 A1.9 1.1 60 0 0 538.58 117.53 A1.9 1.1 60 0 0 540.48 118.62 Z" fill="#fff" stroke="#3a3a3a" stroke-width="0.98" />
<path d="M535.35 115.62 A2.1 1.21 60 0 0 535.35 113.19 A2.1 1.21 60 0 0 533.25 111.98 A2.1 1.21 60 0 0 533.25 114.41 A2.1 1.21 60 0 0 535.35 115.62 Z" fill="#fff" stroke="#3a3a3a" stroke-width="0.73" />
<path d="M377.15 426.44 L379.54 429.11 L380.83 427.99 L379.2 424.65 L379.74 424.09 L382.23 426.53 L383.34 425.15 L381.5 421.9 L381.95 421.23 L384.52 423.39 L385.43 421.78 L383.4 418.66 L383.76 417.89 L386.38 419.75 L387.09 417.92 L384.88 414.97 L385.15 414.1 L387.79 415.65 L388.28 413.61 L385.93 410.87 L386.1 409.91 L388.73 411.12 L389 408.91 L386.54 406.4 L386.61 405.38 L389.19 406.23 L389.24 403.88 L386.68 401.63 L386.66 400.54 L389.16 401.04 L388.99 398.56 L386.38 396.6 L386.25 395.47 L388.65 395.59 L388.25 393.03 L385.62 391.38 L385.39 390.21 L387.66 389.97 L387.05 387.34 L384.41 386.03 L384.09 384.84 L386.2 384.23 L385.38 381.57 L382.78 380.6 L382.37 379.41 L384.29 378.44 L383.27 375.78 L380.74 375.17 L380.24 373.98 L381.96 372.67 L380.75 370.04 L378.31 369.8 L377.73 368.63 L379.22 366.98 L377.84 364.41 L375.52 364.54 L374.87 363.41 L376.12 361.45 L374.58 358.97 L372.41 359.47 L371.69 358.38 L372.68 356.13 L371 353.78 L369.01 354.64 L368.23 353.61 L368.95 351.1 L367.15 348.89 L365.36 350.1 L364.53 349.15 L364.98 346.4 L363.08 344.37 L361.51 345.92 L360.64 345.05 L360.8 342.1 L358.82 340.27 L357.49 342.14 L356.59 341.36 L356.47 338.25 L354.44 336.63 L353.37 338.8 L352.45 338.13 L352.04 334.88 L349.98 333.51 L349.17 335.94 L348.24 335.38 L347.56 332.04 L345.49 330.92 L344.96 333.6 L344.04 333.16 L343.08 329.77 L341.03 328.92 L340.78 331.81 L339.87 331.49 L338.65 328.08 L336.65 327.51 L336.69 330.58 L335.8 330.39 L334.34 327.01 L332.4 326.72 L332.72 329.93 L331.87 329.86 L330.18 326.55 L328.33 326.55 L328.94 329.87 L328.13 329.93 L326.23 326.72 L324.49 327.01 L325.37 330.39 L324.62 330.59 L322.53 327.52 L320.93 328.09 L322.07 331.5 L321.38 331.82 L319.13 328.93 L317.67 329.78 L319.07 333.18 L318.45 333.62 L316.06 330.94 L314.77 332.06 L316.4 335.4 L315.86 335.96 L313.37 333.53 L312.26 334.91 L314.1 338.15 L313.65 338.82 L311.08 336.66 L310.17 338.28 L312.2 341.39 L311.84 342.17 L309.22 340.31 L308.51 342.14 L310.72 345.09 L310.45 345.96 L307.81 344.41 L307.32 346.44 L309.67 349.19 L309.5 350.14 L306.87 348.94 L306.6 351.14 L309.06 353.65 L308.99 354.68 L306.41 353.82 L306.36 356.18 L308.92 358.43 L308.94 359.51 L306.44 359.02 L306.61 361.5 L309.22 363.45 L309.35 364.59 L306.95 364.46 L307.35 367.03 L309.98 368.68 L310.21 369.84 L307.94 370.09 L308.55 372.72 L311.19 374.03 L311.51 375.22 L309.4 375.83 L310.22 378.49 L312.82 379.45 L313.23 380.65 L311.31 381.62 L312.33 384.28 L314.86 384.89 L315.36 386.08 L313.64 387.39 L314.85 390.02 L317.29 390.26 L317.87 391.43 L316.38 393.08 L317.76 395.64 L320.08 395.52 L320.73 396.65 L319.48 398.61 L321.02 401.08 L323.19 400.59 L323.91 401.67 L322.92 403.92 L324.6 406.28 L326.59 405.42 L327.37 406.45 L326.65 408.96 L328.45 411.16 L330.24 409.95 L331.07 410.91 L330.62 413.65 L332.52 415.68 L334.09 414.14 L334.96 415.01 L334.8 417.96 L336.78 419.79 L338.11 417.92 L339.01 418.7 L339.13 421.81 L341.16 423.42 L342.23 421.26 L343.15 421.93 L343.56 425.18 L345.62 426.55 L346.43 424.12 L347.36 424.68 L348.04 428.02 L350.11 429.13 L350.64 426.46 L351.56 426.9 L352.52 430.29 L354.57 431.14 L354.82 428.25 L355.73 428.57 L356.95 431.98 L358.95 432.55 L358.91 429.48 L359.8 429.67 L361.26 433.05 L363.2 433.34 L362.88 430.13 L363.73 430.19 L365.42 433.51 L367.27 433.51 L366.66 430.19 L367.47 430.13 L369.37 433.33 L371.11 433.05 L370.23 429.66 L370.98 429.47 L373.07 432.54 L374.67 431.96 L373.53 428.56 L374.22 428.24 L376.47 431.12 L377.93 430.27 L376.53 426.88Z" fill="#fff" stroke="#3a3a3a" stroke-width="0.73" />
<path d="M367.02 432.21 L367.61 431.73 L379.74 424.09 L379.2 424.65ZM369.56 429.8 L370.07 429.2 L381.95 421.23 L381.5 421.9ZM371.72 426.87 L372.14 426.16 L383.76 417.89 L383.4 418.66ZM373.48 423.46 L373.81 422.65 L385.15 414.1 L384.88 414.97ZM374.81 419.62 L375.04 418.72 L386.1 409.91 L385.93 410.87ZM375.7 415.38 L375.83 414.4 L386.61 405.38 L386.54 406.4ZM376.14 410.8 L376.18 409.75 L386.66 400.54 L386.68 401.63ZM376.13 405.93 L376.06 404.83 L386.25 395.47 L386.38 396.6ZM375.66 400.83 L375.49 399.68 L385.39 390.21 L385.62 391.38ZM374.74 395.55 L374.48 394.37 L384.09 384.84 L384.41 386.03ZM373.38 390.17 L373.03 388.97 L382.37 379.41 L382.78 380.6ZM371.6 384.73 L371.15 383.54 L380.24 373.98 L380.74 375.17ZM369.42 379.31 L368.89 378.13 L377.73 368.63 L378.31 369.8ZM366.86 373.97 L366.25 372.82 L374.87 363.41 L375.52 364.54ZM363.95 368.78 L363.27 367.66 L371.69 358.38 L372.41 359.47ZM360.74 363.78 L359.99 362.72 L368.23 353.61 L369.01 354.64ZM357.24 359.05 L356.44 358.05 L364.53 349.15 L365.36 350.1ZM353.52 354.63 L352.67 353.71 L360.64 345.05 L361.51 345.92ZM349.6 350.59 L348.72 349.75 L356.59 341.36 L357.49 342.14ZM345.54 346.96 L344.63 346.22 L352.45 338.13 L353.37 338.8ZM341.38 343.79 L340.46 343.15 L348.24 335.38 L349.17 335.94ZM337.17 341.11 L336.25 340.59 L344.04 333.16 L344.96 333.6ZM332.97 338.96 L332.05 338.56 L339.87 331.49 L340.78 331.81ZM328.82 337.37 L327.91 337.09 L335.8 330.39 L336.69 330.58ZM324.76 336.34 L323.89 336.2 L331.87 329.86 L332.72 329.93ZM320.86 335.9 L320.02 335.88 L328.13 329.93 L328.94 329.87ZM317.14 336.05 L316.35 336.16 L324.62 330.59 L325.37 330.39ZM313.66 336.78 L312.93 337.02 L321.38 331.82 L322.07 331.5ZM310.46 338.09 L309.8 338.46 L318.45 333.62 L319.07 333.18ZM307.58 339.97 L306.99 340.46 L315.86 335.96 L316.4 335.4ZM305.04 342.38 L304.53 342.99 L313.65 338.82 L314.1 338.15ZM360.94 435.4 L361.67 435.16 L374.22 428.24 L373.53 428.56ZM364.14 434.09 L364.8 433.72 L377.15 426.44 L376.53 426.88Z" fill="#c4c4c4" stroke="#3a3a3a" stroke-width="0.73" />
<path d="M364.8 433.72 L367.1 436.54 L379.54 429.11 L377.15 426.44ZM367.61 431.73 L370.04 434.32 L382.23 426.53 L379.74 424.09ZM370.07 429.2 L372.6 431.53 L384.52 423.39 L381.95 421.23ZM372.14 426.16 L374.74 428.22 L386.38 419.75 L383.76 417.89ZM373.81 422.65 L376.44 424.41 L387.79 415.65 L385.15 414.1ZM375.04 418.72 L377.68 420.14 L388.73 411.12 L386.1 409.91ZM375.83 414.4 L378.45 415.48 L389.19 406.23 L386.61 405.38ZM376.18 409.75 L378.73 410.48 L389.16 401.04 L386.66 400.54ZM376.06 404.83 L378.54 405.19 L388.65 395.59 L386.25 395.47ZM375.49 399.68 L377.85 399.67 L387.66 389.97 L385.39 390.21ZM374.48 394.37 L376.69 394 L386.2 384.23 L384.09 384.84ZM373.03 388.97 L375.07 388.23 L384.29 378.44 L382.37 379.41ZM371.15 383.54 L373.01 382.44 L381.96 372.67 L380.24 373.98ZM368.89 378.13 L370.53 376.69 L379.22 366.98 L377.73 368.63ZM366.25 372.82 L367.66 371.05 L376.12 361.45 L374.87 363.41ZM363.27 367.66 L364.43 365.59 L372.68 356.13 L371.69 358.38ZM359.99 362.72 L360.89 360.37 L368.95 351.1 L368.23 353.61ZM356.44 358.05 L357.07 355.45 L364.98 346.4 L364.53 349.15ZM352.67 353.71 L353.01 350.89 L360.8 342.1 L360.64 345.05ZM348.72 349.75 L348.77 346.74 L356.47 338.25 L356.59 341.36ZM344.63 346.22 L344.4 343.05 L352.04 334.88 L352.45 338.13ZM340.46 343.15 L339.95 339.87 L347.56 332.04 L348.24 335.38ZM336.25 340.59 L335.46 337.23 L343.08 329.77 L344.04 333.16ZM332.05 338.56 L331 335.16 L338.65 328.08 L339.87 331.49ZM327.91 337.09 L326.6 333.69 L334.34 327.01 L335.8 330.39ZM323.89 336.2 L322.34 332.83 L330.18 326.55 L331.87 329.86ZM320.02 335.88 L318.25 332.6 L326.23 326.72 L328.13 329.93ZM316.35 336.16 L314.38 333 L322.53 327.52 L324.62 330.59ZM312.93 337.02 L310.78 334.01 L319.13 328.93 L321.38 331.82ZM309.8 338.46 L307.5 335.64 L316.06 330.94 L318.45 333.62ZM306.99 340.46 L304.56 337.86 L313.37 333.53 L315.86 335.96ZM358.25 436.02 L360.22 439.18 L373.07 432.54 L370.98 429.47ZM361.67 435.16 L363.82 438.17 L376.47 431.12 L374.22 428.24Z" fill="#c4c4c4" stroke="#3a3a3a" stroke-width="0.73" />
<path d="M368.5 435.59 L367.02 432.21 L379.2 424.65 L380.83 427.99ZM371.27 433.11 L369.56 429.8 L381.5 421.9 L383.34 425.15ZM373.63 430.07 L371.72 426.87 L383.4 418.66 L385.43 421.78ZM375.57 426.52 L373.48 423.46 L384.88 414.97 L387.09 417.92ZM377.07 422.5 L374.81 419.62 L385.93 410.87 L388.28 413.61ZM378.09 418.05 L375.7 415.38 L386.54 406.4 L389 408.91ZM378.64 413.22 L376.14 410.8 L386.68 401.63 L389.24 403.88ZM378.7 408.08 L376.13 405.93 L386.38 396.6 L388.99 398.56ZM378.28 402.68 L375.66 400.83 L385.62 391.38 L388.25 393.03ZM377.38 397.08 L374.74 395.55 L384.41 386.03 L387.05 387.34ZM376.01 391.36 L373.38 390.17 L382.78 380.6 L385.38 381.57ZM374.18 385.57 L371.6 384.73 L380.74 375.17 L383.27 375.78ZM371.92 379.79 L369.42 379.31 L378.31 369.8 L380.75 370.04ZM369.26 374.08 L366.86 373.97 L375.52 364.54 L377.84 364.41ZM366.22 368.52 L363.95 368.78 L372.41 359.47 L374.58 358.97ZM362.84 363.16 L360.74 363.78 L369.01 354.64 L371 353.78ZM359.16 358.07 L357.24 359.05 L365.36 350.1 L367.15 348.89ZM355.23 353.3 L353.52 354.63 L361.51 345.92 L363.08 344.37ZM351.08 348.93 L349.6 350.59 L357.49 342.14 L358.82 340.27ZM346.78 344.98 L345.54 346.96 L353.37 338.8 L354.44 336.63ZM342.36 341.52 L341.38 343.79 L349.17 335.94 L349.98 333.51ZM337.88 338.59 L337.17 341.11 L344.96 333.6 L345.49 330.92ZM333.4 336.21 L332.97 338.96 L340.78 331.81 L341.03 328.92ZM328.96 334.41 L328.82 337.37 L336.69 330.58 L336.65 327.51ZM324.62 333.22 L324.76 336.34 L332.72 329.93 L332.4 326.72ZM320.43 332.65 L320.86 335.9 L328.94 329.87 L328.33 326.55ZM316.44 332.71 L317.14 336.05 L325.37 330.39 L324.49 327.01ZM312.69 333.39 L313.66 336.78 L322.07 331.5 L320.93 328.09ZM309.23 334.69 L310.46 338.09 L319.07 333.18 L317.67 329.78ZM306.1 336.59 L307.58 339.97 L316.4 335.4 L314.77 332.06ZM303.33 339.07 L305.04 342.38 L314.1 338.15 L312.26 334.91ZM361.91 438.79 L360.94 435.4 L373.53 428.56 L374.67 431.96ZM365.37 437.49 L364.14 434.09 L376.53 426.88 L377.93 430.27Z" fill="#c4c4c4" stroke="#3a3a3a" stroke-width="0.73" />
<path d="M367.1 436.54 L368.5 435.59 L380.83 427.99 L379.54 429.11ZM370.04 434.32 L371.27 433.11 L383.34 425.15 L382.23 426.53ZM372.6 431.53 L373.63 430.07 L385.43 421.78 L384.52 423.39ZM374.74 428.22 L375.57 426.52 L387.09 417.92 L386.38 419.75ZM376.44 424.41 L377.07 422.5 L388.28 413.61 L387.79 415.65ZM377.68 420.14 L378.09 418.05 L389 408.91 L388.73 411.12ZM378.45 415.48 L378.64 413.22 L389.24 403.88 L389.19 406.23ZM378.73 410.48 L378.7 408.08 L388.99 398.56 L389.16 401.04ZM378.54 405.19 L378.28 402.68 L388.25 393.03 L388.65 395.59ZM377.85 399.67 L377.38 397.08 L387.05 387.34 L387.66 389.97ZM376.69 394 L376.01 391.36 L385.38 381.57 L386.2 384.23ZM375.07 388.23 L374.18 385.57 L383.27 375.78 L384.29 378.44ZM373.01 382.44 L371.92 379.79 L380.75 370.04 L381.96 372.67ZM370.53 376.69 L369.26 374.08 L377.84 364.41 L379.22 366.98ZM367.66 371.05 L366.22 368.52 L374.58 358.97 L376.12 361.45ZM364.43 365.59 L362.84 363.16 L371 353.78 L372.68 356.13ZM360.89 360.37 L359.16 358.07 L367.15 348.89 L368.95 351.1ZM357.07 355.45 L355.23 353.3 L363.08 344.37 L364.98 346.4ZM353.01 350.89 L351.08 348.93 L358.82 340.27 L360.8 342.1ZM348.77 346.74 L346.78 344.98 L354.44 336.63 L356.47 338.25ZM344.4 343.05 L342.36 341.52 L349.98 333.51 L352.04 334.88ZM339.95 339.87 L337.88 338.59 L345.49 330.92 L347.56 332.04ZM335.46 337.23 L333.4 336.21 L341.03 328.92 L343.08 329.77ZM331 335.16 L328.96 334.41 L336.65 327.51 L338.65 328.08ZM326.6 333.69 L324.62 333.22 L332.4 326.72 L334.34 327.01ZM322.34 332.83 L320.43 332.65 L328.33 326.55 L330.18 326.55ZM318.25 332.6 L316.44 332.71 L324.49 327.01 L326.23 326.72ZM314.38 333 L312.69 333.39 L320.93 328.09 L322.53 327.52ZM310.78 334.01 L309.23 334.69 L317.67 329.78 L319.13 328.93ZM307.5 335.64 L306.1 336.59 L314.77 332.06 L316.06 330.94ZM304.56 337.86 L303.33 339.07 L312.26 334.91 L313.37 333.53ZM360.22 439.18 L361.91 438.79 L374.67 431.96 L373.07 432.54ZM363.82 438.17 L365.37 437.49 L377.93 430.27 L376.47 431.12Z" fill="#fff" stroke="#3a3a3a" stroke-width="0.73" />
<path d="M364.8 433.72 L367.1 436.54 L368.5 435.59 L367.02 432.21 L367.61 431.73 L370.04 434.32 L371.27 433.11 L369.56 429.8 L370.07 429.2 L372.6 431.53 L373.63 430.07 L371.72 426.87 L372.14 426.16 L374.74 428.22 L375.57 426.52 L373.48 423.46 L373.81 422.65 L376.44 424.41 L377.07 422.5 L374.81 419.62 L375.04 418.72 L377.68 420.14 L378.09 418.05 L375.7 415.38 L375.83 414.4 L378.45 415.48 L378.64 413.22 L376.14 410.8 L376.18 409.75 L378.73 410.48 L378.7 408.08 L376.13 405.93 L376.06 404.83 L378.54 405.19 L378.28 402.68 L375.66 400.83 L375.49 399.68 L377.85 399.67 L377.38 397.08 L374.74 395.55 L374.48 394.37 L376.69 394 L376.01 391.36 L373.38 390.17 L373.03 388.97 L375.07 388.23 L374.18 385.57 L371.6 384.73 L371.15 383.54 L373.01 382.44 L371.92 379.79 L369.42 379.31 L368.89 378.13 L370.53 376.69 L369.26 374.08 L366.86 373.97 L366.25 372.82 L367.66 371.05 L366.22 368.52 L363.95 368.78 L363.27 367.66 L364.43 365.59 L362.84 363.16 L360.74 363.78 L359.99 362.72 L360.89 360.37 L359.16 358.07 L357.24 359.05 L356.44 358.05 L357.07 355.45 L355.23 353.3 L353.52 354.63 L352.67 353.71 L353.01 350.89 L351.08 348.93 L349.6 350.59 L348.72 349.75 L348.77 346.74 L346.78 344.98 L345.54 346.96 L344.63 346.22 L344.4 343.05 L342.36 341.52 L341.38 343.79 L340.46 343.15 L339.95 339.87 L337.88 338.59 L337.17 341.11 L336.25 340.59 L335.46 337.23 L333.4 336.21 L332.97 338.96 L332.05 338.56 L331 335.16 L328.96 334.41 L328.82 337.37 L327.91 337.09 L326.6 333.69 L324.62 333.22 L324.76 336.34 L323.89 336.2 L322.34 332.83 L320.43 332.65 L320.86 335.9 L320.02 335.88 L318.25 332.6 L316.44 332.71 L317.14 336.05 L316.35 336.16 L314.38 333 L312.69 333.39 L313.66 336.78 L312.93 337.02 L310.78 334.01 L309.23 334.69 L310.46 338.09 L309.8 338.46 L307.5 335.64 L306.1 336.59 L307.58 339.97 L306.99 340.46 L304.56 337.86 L303.33 339.07 L305.04 342.38 L304.53 342.99 L302 340.65 L300.97 342.11 L302.88 345.31 L302.46 346.02 L299.86 343.96 L299.03 345.66 L301.12 348.72 L300.79 349.53 L298.16 347.78 L297.53 349.68 L299.79 352.56 L299.56 353.46 L296.92 352.04 L296.51 354.13 L298.9 356.8 L298.77 357.78 L296.15 356.7 L295.96 358.96 L298.46 361.38 L298.42 362.43 L295.87 361.7 L295.9 364.1 L298.47 366.25 L298.54 367.36 L296.06 366.99 L296.32 369.51 L298.94 371.35 L299.11 372.5 L296.75 372.51 L297.22 375.1 L299.86 376.63 L300.12 377.81 L297.91 378.18 L298.59 380.83 L301.22 382.02 L301.57 383.21 L299.53 383.95 L300.42 386.61 L303 387.45 L303.45 388.65 L301.59 389.74 L302.68 392.39 L305.18 392.87 L305.71 394.05 L304.07 395.49 L305.34 398.1 L307.74 398.21 L308.35 399.37 L306.94 401.13 L308.38 403.67 L310.65 403.41 L311.33 404.52 L310.17 406.59 L311.76 409.03 L313.86 408.4 L314.61 409.46 L313.71 411.81 L315.44 414.12 L317.36 413.13 L318.16 414.13 L317.53 416.73 L319.37 418.88 L321.08 417.55 L321.93 418.47 L321.59 421.29 L323.52 423.26 L325 421.59 L325.88 422.43 L325.83 425.44 L327.82 427.2 L329.06 425.22 L329.97 425.96 L330.2 429.13 L332.24 430.66 L333.22 428.4 L334.14 429.03 L334.65 432.31 L336.72 433.6 L337.43 431.07 L338.35 431.59 L339.14 434.95 L341.2 435.98 L341.63 433.22 L342.55 433.62 L343.6 437.02 L345.64 437.77 L345.78 434.81 L346.69 435.09 L348 438.49 L349.98 438.96 L349.84 435.84 L350.71 435.99 L352.26 439.35 L354.17 439.53 L353.74 436.28 L354.58 436.3 L356.35 439.58 L358.16 439.48 L357.46 436.13 L358.25 436.02 L360.22 439.18 L361.91 438.79 L360.94 435.4 L361.67 435.16 L363.82 438.17 L365.37 437.49 L364.14 434.09Z" fill="#fff" stroke="#3a3a3a" stroke-width="0.73" />
<path d="M293.8 344.23 A58 33.49 60 0 0 293.8 411.21 A58 33.49 60 0 0 351.8 444.69 L365.8 435.45 A57 32.91 60 0 0 365.8 369.64 A57 32.91 60 0 0 308.8 336.73 Z" fill="#fff" stroke="#3a3a3a" stroke-width="0.98" />
<path d="M351.8 444.69 A58 33.49 60 0 0 351.8 377.72 A58 33.49 60 0 0 293.8 344.23 A58 33.49 60 0 0 293.8 411.21 A58 33.49 60 0 0 351.8 444.69 Z" fill="#fff" stroke="#3a3a3a" stroke-width="0.98" />
<path d="M364.45 436.58 A57.3 33.08 60 0 0 364.45 370.42 A57.3 33.08 60 0 0 307.15 337.33 " fill="none" stroke="#3a3a3a" stroke-width="0.61" />
<path d="M366.78 424.71 L367.58 417.67 L372.34 414.63 L371.54 421.63Z" fill="#fff" stroke="#3a3a3a" stroke-width="0.85" />
<path d="M366.78 424.71 L365.05 423.3 L369.81 420.22 L370.57 413.53" fill="none" stroke="#3a3a3a" stroke-width="0.61" />
<path d="M365.53 399.64 L362.97 391.2 L367.76 388.32 L370.3 396.71Z" fill="#fff" stroke="#3a3a3a" stroke-width="0.85" />
<path d="M365.53 399.64 L363.85 399.31 L368.62 396.38 L366.19 388.36" fill="none" stroke="#3a3a3a" stroke-width="0.61" />
<path d="M353.9 372.55 L348.67 364.99 L353.54 362.26 L358.74 369.78Z" fill="#fff" stroke="#3a3a3a" stroke-width="0.85" />
<path d="M353.9 372.55 L352.73 373.4 L357.56 370.63 L352.59 363.44" fill="none" stroke="#3a3a3a" stroke-width="0.61" />
<path d="M335.01 350.72 L328.51 346.05 L333.5 343.44 L339.96 348.08Z" fill="#fff" stroke="#3a3a3a" stroke-width="0.85" />
<path d="M335.01 350.72 L334.65 352.52 L339.6 349.88 L333.43 345.43" fill="none" stroke="#3a3a3a" stroke-width="0.61" />
<path d="M349.9 441.4 A54.2 31.29 60 0 0 349.9 378.82 A54.2 31.29 60 0 0 295.7 347.52 A54.2 31.29 60 0 0 295.7 410.11 A54.2 31.29 60 0 0 349.9 441.4 Z" fill="#fff" stroke="#3a3a3a" stroke-width="0.73" />
<path d="M316.16 343.54 A47.6 27.48 60 0 0 305.05 375.86 A47.6 27.48 60 0 0 330.04 419.14 A47.6 27.48 60 0 0 363.58 425.67 " fill="none" stroke="#3a3a3a" stroke-width="0.73" />
<path d="M348.8 405.87 A27 15.59 60 0 0 348.8 374.7 A27 15.59 60 0 0 321.8 359.11 A27 15.59 60 0 0 321.8 390.28 A27 15.59 60 0 0 348.8 405.87 Z" fill="none" stroke="#3a3a3a" stroke-width="0.61" />
<path d="M343.8 401.83 A21 12.12 60 0 0 343.8 377.58 A21 12.12 60 0 0 322.8 365.46 A21 12.12 60 0 0 322.8 389.71 A21 12.12 60 0 0 343.8 401.83 Z" fill="#fff" stroke="#3a3a3a" stroke-width="0.85" />
<path d="M339.8 399.52 A17 9.81 60 0 0 339.8 379.89 A17 9.81 60 0 0 322.8 370.08 A17 9.81 60 0 0 322.8 389.71 A17 9.81 60 0 0 339.8 399.52 Z" fill="#fff" stroke="#3a3a3a" stroke-width="0.85" />
<path d="M337.3 395.19 A12 6.93 60 0 0 337.3 381.34 A12 6.93 60 0 0 325.3 374.41 A12 6.93 60 0 0 325.3 388.26 A12 6.93 60 0 0 337.3 395.19 Z" fill="#fff" stroke="#3a3a3a" stroke-width="0.85" />
<path d="M326.64 374.42 L332.15 374.07 M325.6 374.81 L331.34 374.39 M324.72 375.48 L330.65 374.91 M324.02 376.41 L330.1 375.63 M323.52 377.57 L329.71 376.54 M323.24 378.92 L329.49 377.6 M323.17 380.44 L329.44 378.79 M323.33 382.07 L329.56 380.07 M323.71 383.78 L329.86 381.41 M324.29 385.52 L330.32 382.77 M325.07 387.24 L330.92 384.11 M326.02 388.89 L331.67 385.4 M327.11 390.43 L332.52 386.61 M328.32 391.82 L333.47 387.69 M329.61 393.01 L334.48 388.63 M330.95 393.98 L335.52 389.38 M332.29 394.69 L336.58 389.94 M333.61 395.14 L337.61 390.29 M334.86 395.3 L338.59 390.42 M336.02 395.17 L339.5 390.32 " fill="none" stroke="#3a3a3a" stroke-width="1.1" />
<path d="M339.8 389.13 A8 4.62 60 0 0 339.8 379.89 A8 4.62 60 0 0 331.8 375.27 A8 4.62 60 0 0 331.8 384.51 A8 4.62 60 0 0 339.8 389.13 Z" fill="#fff" stroke="#3a3a3a" stroke-width="0.73" />
<path d="M326.87 405.82 L333.56 402.92 L342.92 408.05 L344.71 418.08 L338.02 420.76 L329.55 415.85Z" fill="#fff" stroke="#3a3a3a" stroke-width="0.73" />
<path d="M338.41 414.44 A3 1.73 60 0 0 338.41 410.98 A3 1.73 60 0 0 335.41 409.24 A3 1.73 60 0 0 335.41 412.71 A3 1.73 60 0 0 338.41 414.44 Z" fill="#fff" stroke="#3a3a3a" stroke-width="0.85" />
<path d="M323.53 373.5 L331.33 371.72 L340.7 378.4 L345.82 393.56 L342.92 404.71" fill="none" stroke="#3a3a3a" stroke-width="0.73" />
<path d="M289.19 363.69 L287.74 370.13 L296.74 364.93 L298.19 358.49Z" fill="#fff" stroke="#3a3a3a" stroke-width="0.73" />
<path d="M288.14 383.58 L290.03 391.82 L299.03 386.62 L297.14 378.39Z" fill="#fff" stroke="#3a3a3a" stroke-width="0.73" />
<path d="M296.1 406.55 L300.83 414.37 L309.83 409.18 L305.1 401.35Z" fill="#fff" stroke="#3a3a3a" stroke-width="0.73" />
<path d="M310.95 426.43 L317.25 431.75 L326.25 426.55 L319.95 421.23Z" fill="#fff" stroke="#3a3a3a" stroke-width="0.73" />
<path d="M328.71 437.9 L334.9 439.29 L343.9 434.09 L337.71 432.7Z" fill="#fff" stroke="#3a3a3a" stroke-width="0.73" />
<path d="M279.57 363.77 L277.11 360.15 L303.11 345.14 L305.57 348.76Z" fill="#fff" stroke="#3a3a3a" stroke-width="0.73" />
<path d="M272.74 378.79 L269.65 376.53 L295.65 361.52 L298.74 363.77Z" fill="#fff" stroke="#3a3a3a" stroke-width="0.73" />
<path d="M275.03 400.48 L272.15 400.19 L298.15 385.17 L301.03 385.47Z" fill="#fff" stroke="#3a3a3a" stroke-width="0.73" />
<path d="M295.95 435.09 L294.97 437.93 L320.97 422.92 L321.95 420.08Z" fill="#fff" stroke="#3a3a3a" stroke-width="0.73" />
<path d="M313.71 446.56 L314.34 450.44 L340.34 435.43 L339.71 431.55Z" fill="#fff" stroke="#3a3a3a" stroke-width="0.73" />
<path d="M329.62 446.55 L331.68 450.43 L357.68 435.41 L355.62 431.54Z" fill="#fff" stroke="#3a3a3a" stroke-width="0.73" />
<path d="M279.57 363.77 L278.72 364.61 L277.91 365.53 L277.16 366.51 L276.46 367.55 L275.81 368.66 L275.21 369.83 L274.67 371.06 L274.19 372.35 L305.19 354.45 L305.67 353.16 L306.21 351.93 L306.81 350.76 L307.46 349.65 L308.16 348.61 L308.91 347.63 L309.72 346.72 L310.57 345.87Z" fill="#fff" stroke="#3a3a3a" stroke-width="0.85" />
<path d="M282.41 363.29 L299.41 353.47 Q301.96 352.83 297.6 356.34 L280.6 366.16 Q277.96 366.69 282.41 363.29 Z" fill="none" stroke="#3a3a3a" stroke-width="0.61" />
<path d="M272.74 378.79 L272.58 380.34 L272.48 381.94 L272.44 383.58 L272.46 385.26 L272.54 386.96 L272.68 388.7 L272.88 390.46 L273.14 392.24 L304.14 374.35 L303.88 372.56 L303.68 370.8 L303.54 369.06 L303.46 367.36 L303.44 365.68 L303.48 364.05 L303.58 362.45 L303.74 360.89Z" fill="#fff" stroke="#3a3a3a" stroke-width="0.85" />
<path d="M277.44 380.15 L294.44 370.33 Q297.96 370.53 294.58 374.84 L277.58 384.65 Q273.96 384.39 277.44 380.15 Z" fill="none" stroke="#3a3a3a" stroke-width="0.61" />
<path d="M275.03 400.48 L275.6 402.33 L276.23 404.19 L276.92 406.05 L277.66 407.9 L278.44 409.75 L279.28 411.58 L280.17 413.4 L281.1 415.21 L312.1 397.31 L311.17 395.51 L310.28 393.69 L309.44 391.85 L308.66 390 L307.92 388.15 L307.23 386.29 L306.6 384.44 L306.03 382.58Z" fill="#fff" stroke="#3a3a3a" stroke-width="0.85" />
<path d="M281.69 402.54 L298.69 392.73 Q303.16 393.18 300.72 397.66 L283.72 407.47 Q279.16 407.04 281.69 402.54 Z" fill="none" stroke="#3a3a3a" stroke-width="0.61" />
<path d="M285.83 423.03 L286.99 424.69 L288.18 426.31 L289.41 427.89 L290.67 429.42 L291.95 430.91 L293.26 432.36 L294.6 433.75 L295.95 435.09 L326.95 417.19 L325.6 415.85 L324.26 414.46 L322.95 413.02 L321.67 411.52 L320.41 409.99 L319.18 408.41 L317.99 406.79 L316.83 405.14Z" fill="#fff" stroke="#3a3a3a" stroke-width="0.85" />
<path d="M294 424.48 L311 414.66 Q316.17 414.7 314.39 418.7 L297.39 428.51 Q292.17 428.56 294 424.48 Z" fill="none" stroke="#3a3a3a" stroke-width="0.61" />
<path d="M302.25 440.41 L303.69 441.42 L305.12 442.37 L306.56 443.24 L308 444.05 L309.44 444.79 L310.87 445.45 L312.29 446.04 L313.71 446.56 L344.71 428.66 L343.29 428.15 L341.87 427.55 L340.44 426.89 L339 426.15 L337.56 425.34 L336.12 424.47 L334.69 423.52 L333.25 422.51Z" fill="#fff" stroke="#3a3a3a" stroke-width="0.85" />
<path d="M311.08 440.07 L328.08 430.26 Q333.5 429.33 331.91 432.31 L314.91 442.13 Q309.5 443.18 311.08 440.07 Z" fill="none" stroke="#3a3a3a" stroke-width="0.61" />
<path d="M319.9 447.95 L321.21 448.04 L322.51 448.06 L323.77 448 L325.01 447.87 L326.22 447.65 L327.39 447.36 L328.52 446.99 L329.62 446.55 L360.62 428.65 L359.52 429.09 L358.39 429.46 L357.22 429.75 L356.01 429.97 L354.77 430.11 L353.51 430.16 L352.21 430.15 L350.9 430.05Z" fill="#fff" stroke="#3a3a3a" stroke-width="0.85" />
<path d="M328.36 445.15 L345.36 435.33 Q350.51 433.14 348.61 434.86 L331.61 444.68 Q326.51 447 328.36 445.15 Z" fill="none" stroke="#3a3a3a" stroke-width="0.61" />
<path d="M336.49 447.25 L337.42 446.33 L338.3 445.33 L339.12 444.26 L339.89 443.12 L340.6 441.91 L341.25 440.64 L341.83 439.29 L342.36 437.89 L358.36 428.65 L357.83 430.06 L357.25 431.4 L356.6 432.67 L355.89 433.88 L355.12 435.02 L354.3 436.09 L353.42 437.09 L352.49 438.01Z" fill="#fff" stroke="#3a3a3a" stroke-width="0.85" />
<path d="M341.42 443.09 L350.92 437.61" fill="none" stroke="#3a3a3a" stroke-width="0.55" />
<path d="M343.95 430.87 L344.12 429.17 L344.23 427.43 L344.28 425.64 L344.25 423.81 L344.17 421.95 L344.01 420.06 L343.79 418.14 L343.51 416.19 L359.51 406.96 L359.79 408.9 L360.01 410.82 L360.17 412.72 L360.25 414.58 L360.28 416.4 L360.23 418.19 L360.12 419.93 L359.95 421.63Z" fill="#fff" stroke="#3a3a3a" stroke-width="0.85" />
<path d="M346.77 424.65 L356.27 419.16" fill="none" stroke="#3a3a3a" stroke-width="0.55" />
<path d="M341.45 407.21 L340.82 405.19 L340.13 403.16 L339.39 401.14 L338.58 399.12 L337.72 397.1 L336.81 395.1 L335.84 393.12 L334.82 391.15 L350.82 381.91 L351.84 383.88 L352.81 385.87 L353.72 387.87 L354.58 389.88 L355.39 391.9 L356.13 393.93 L356.82 395.95 L357.45 397.98Z" fill="#fff" stroke="#3a3a3a" stroke-width="0.85" />
<path d="M342.08 400.2 L351.58 394.72" fill="none" stroke="#3a3a3a" stroke-width="0.55" />
<path d="M329.67 382.62 L328.4 380.81 L327.1 379.05 L325.76 377.32 L324.39 375.65 L322.99 374.02 L321.56 372.45 L320.11 370.93 L318.63 369.47 L334.63 360.23 L336.11 361.69 L337.56 363.21 L338.99 364.79 L340.39 366.41 L341.76 368.09 L343.1 369.81 L344.4 371.57 L345.67 373.38Z" fill="#fff" stroke="#3a3a3a" stroke-width="0.85" />
<path d="M328.6 376.31 L338.1 370.82" fill="none" stroke="#3a3a3a" stroke-width="0.55" />
<path d="M311.76 363.67 L310.2 362.56 L308.63 361.53 L307.06 360.58 L305.49 359.7 L303.92 358.89 L302.36 358.17 L300.81 357.52 L299.26 356.96 L315.26 347.72 L316.81 348.29 L318.36 348.93 L319.92 349.66 L321.49 350.46 L323.06 351.34 L324.63 352.3 L326.2 353.33 L327.76 354.43Z" fill="#fff" stroke="#3a3a3a" stroke-width="0.85" />
<path d="M309.95 359.37 L319.45 353.88" fill="none" stroke="#3a3a3a" stroke-width="0.55" />
<path d="M292.52 355.45 L291.08 355.34 L289.67 355.32 L288.29 355.39 L286.94 355.54 L285.63 355.77 L284.35 356.09 L283.11 356.49 L281.92 356.97 L297.92 347.74 L299.11 347.25 L300.35 346.85 L301.63 346.53 L302.94 346.3 L304.29 346.15 L305.67 346.08 L307.08 346.1 L308.52 346.21Z" fill="#fff" stroke="#3a3a3a" stroke-width="0.85" />
<path d="M291.13 353.92 L300.63 348.43" fill="none" stroke="#3a3a3a" stroke-width="0.55" />
<path d="M336.49 447.25 L337.42 446.33 L338.3 445.33 L339.12 444.26 L339.89 443.12 L340.6 441.91 L341.25 440.64 L341.83 439.29 L342.36 437.89 L339.41 435.05 L338.93 436.34 L338.39 437.57 L337.79 438.74 L337.14 439.85 L336.44 440.89 L335.69 441.87 L334.88 442.79 L334.03 443.63Z" fill="#fff" stroke="#3a3a3a" stroke-width="0.98" />
<path d="M343.95 430.87 L344.12 429.17 L344.23 427.43 L344.28 425.64 L344.25 423.81 L344.17 421.95 L344.01 420.06 L343.79 418.14 L343.51 416.19 L340.46 415.16 L340.72 416.94 L340.92 418.7 L341.06 420.44 L341.14 422.14 L341.16 423.82 L341.12 425.46 L341.02 427.06 L340.86 428.61Z" fill="#fff" stroke="#3a3a3a" stroke-width="0.98" />
<path d="M341.45 407.21 L340.82 405.19 L340.13 403.16 L339.39 401.14 L338.58 399.12 L337.72 397.1 L336.81 395.1 L335.84 393.12 L334.82 391.15 L332.5 392.19 L333.43 394 L334.32 395.82 L335.16 397.65 L335.94 399.5 L336.68 401.35 L337.37 403.21 L338 405.07 L338.57 406.92Z" fill="#fff" stroke="#3a3a3a" stroke-width="0.98" />
<path d="M329.67 382.62 L328.4 380.81 L327.1 379.05 L325.76 377.32 L324.39 375.65 L322.99 374.02 L321.56 372.45 L320.11 370.93 L318.63 369.47 L317.65 372.31 L319 373.65 L320.34 375.04 L321.65 376.49 L322.93 377.98 L324.19 379.51 L325.42 381.09 L326.61 382.71 L327.77 384.37Z" fill="#fff" stroke="#3a3a3a" stroke-width="0.98" />
<path d="M311.76 363.67 L310.2 362.56 L308.63 361.53 L307.06 360.58 L305.49 359.7 L303.92 358.89 L302.36 358.17 L300.81 357.52 L299.26 356.96 L299.89 360.84 L301.31 361.36 L302.73 361.95 L304.16 362.61 L305.6 363.35 L307.04 364.16 L308.48 365.03 L309.91 365.98 L311.35 366.99Z" fill="#fff" stroke="#3a3a3a" stroke-width="0.98" />
<path d="M292.52 355.45 L291.08 355.34 L289.67 355.32 L288.29 355.39 L286.94 355.54 L285.63 355.77 L284.35 356.09 L283.11 356.49 L281.92 356.97 L283.98 360.85 L285.08 360.41 L286.21 360.04 L287.38 359.75 L288.59 359.53 L289.83 359.4 L291.09 359.34 L292.39 359.36 L293.7 359.45Z" fill="#fff" stroke="#3a3a3a" stroke-width="0.98" />
<path d="M277.11 360.15 L276.18 361.07 L275.3 362.07 L274.48 363.14 L273.71 364.28 L273 365.49 L272.35 366.76 L271.77 368.11 L271.24 369.51 L274.19 372.35 L274.67 371.06 L275.21 369.83 L275.81 368.66 L276.46 367.55 L277.16 366.51 L277.91 365.53 L278.72 364.61 L279.57 363.77Z" fill="#fff" stroke="#3a3a3a" stroke-width="0.98" />
<path d="M269.65 376.53 L269.48 378.23 L269.37 379.97 L269.32 381.76 L269.35 383.59 L269.43 385.45 L269.59 387.34 L269.81 389.26 L270.09 391.21 L273.14 392.24 L272.88 390.46 L272.68 388.7 L272.54 386.96 L272.46 385.26 L272.44 383.58 L272.48 381.94 L272.58 380.34 L272.74 378.79Z" fill="#fff" stroke="#3a3a3a" stroke-width="0.98" />
<path d="M272.15 400.19 L272.78 402.21 L273.47 404.24 L274.21 406.26 L275.02 408.28 L275.88 410.3 L276.79 412.3 L277.76 414.28 L278.78 416.25 L281.1 415.21 L280.17 413.4 L279.28 411.58 L278.44 409.75 L277.66 407.9 L276.92 406.05 L276.23 404.19 L275.6 402.33 L275.03 400.48Z" fill="#fff" stroke="#3a3a3a" stroke-width="0.98" />
<path d="M283.93 424.78 L285.2 426.59 L286.5 428.35 L287.84 430.08 L289.21 431.75 L290.61 433.38 L292.04 434.95 L293.49 436.47 L294.97 437.93 L295.95 435.09 L294.6 433.75 L293.26 432.36 L291.95 430.91 L290.67 429.42 L289.41 427.89 L288.18 426.31 L286.99 424.69 L285.83 423.03Z" fill="#fff" stroke="#3a3a3a" stroke-width="0.98" />
<path d="M301.84 443.73 L303.4 444.84 L304.97 445.87 L306.54 446.82 L308.11 447.7 L309.68 448.51 L311.24 449.23 L312.79 449.88 L314.34 450.44 L313.71 446.56 L312.29 446.04 L310.87 445.45 L309.44 444.79 L308 444.05 L306.56 443.24 L305.12 442.37 L303.69 441.42 L302.25 440.41Z" fill="#fff" stroke="#3a3a3a" stroke-width="0.98" />
<path d="M321.08 451.95 L322.52 452.06 L323.93 452.08 L325.31 452.01 L326.66 451.86 L327.97 451.63 L329.25 451.31 L330.49 450.91 L331.68 450.43 L329.62 446.55 L328.52 446.99 L327.39 447.36 L326.22 447.65 L325.01 447.87 L323.77 448 L322.51 448.06 L321.21 448.04 L319.9 447.95Z" fill="#fff" stroke="#3a3a3a" stroke-width="0.98" />
<path d="M730.6 309.2 A8.2 4.73 60 0 0 730.6 318.67 A8.2 4.73 60 0 0 738.8 323.4 L743.9 320.5 A8.2 4.73 60 0 0 743.9 311.03 A8.2 4.73 60 0 0 735.7 306.3 Z" fill="#fff" stroke="#858585" stroke-width="0.85" />
<path d="M741 322.13 A8.2 4.73 60 0 0 741 312.66 A8.2 4.73 60 0 0 732.8 307.93 " fill="none" stroke="#858585" stroke-width="0.61" />
<path d="M694.5 326.87 A11 6.35 60 0 0 694.5 339.58 A11 6.35 60 0 0 705.5 345.93 L740.2 325.83 A11 6.35 60 0 0 740.2 313.12 A11 6.35 60 0 0 729.2 306.77 Z" fill="#fff" stroke="#858585" stroke-width="0.85" />
<path d="M738.4 326.87 A11 6.35 60 0 0 738.4 314.16 A11 6.35 60 0 0 727.4 307.81 " fill="none" stroke="#858585" stroke-width="0.61" />
<path d="M655.67 300.73 C660.87 300.95 658.64 296.05 671.27 301.4 C683.9 306.75 680.93 303.11 693.56 316.78 C706.19 330.45 701.74 326.44 709.17 342.42 C716.6 358.39 714.37 352.45 715.85 364.71 C717.34 376.97 716.97 371.17 713.62 379.2 C710.28 387.22 708.42 385.59 705.82 388.78 " fill="#fff" stroke="#858585" stroke-width="0.85" />
<path d="M647.2 305.64 C648.61 304.82 652.21 301.29 655.67 300.73 C659.12 300.17 663.1 300.17 667.93 302.29 C672.76 304.41 679.63 308.61 684.65 313.44 C689.66 318.27 694.12 324.58 698.02 331.27 C701.92 337.96 705.82 346.5 708.05 353.56 C710.28 360.62 711.77 367.75 711.4 373.62 C711.02 379.49 706.75 386.26 705.82 388.78 L686.87 368.72 L679.74 368.27 L656.78 333.5 Z" fill="#fff" stroke="#858585" stroke-width="0.85" />
<path d="M670.16 307.86 L674.61 310.09" fill="none" stroke="#858585" stroke-width="0.85" />
<path d="M708.05 346.87 L709.61 358.02" fill="none" stroke="#858585" stroke-width="0.85" />
<path d="M624.46 318.34 C628.17 318.79 625.94 314.63 635.6 319.68 C645.26 324.73 641.55 321.46 653.44 333.5 C665.33 345.54 661.61 340.93 671.27 355.79 C680.93 370.65 677.96 364.71 682.42 378.08 C686.87 391.46 686.87 385.88 684.65 395.92 C682.42 405.95 678.7 404.09 675.73 408.18 " fill="#fff" stroke="#858585" stroke-width="0.85" />
<path d="M620 321.24 C621.11 320.98 622.97 318.56 626.69 319.68 C630.4 320.79 636.35 323.02 642.29 327.93 C648.24 332.83 656.6 341.49 662.35 349.1 C668.11 356.72 673.5 366.19 676.84 373.62 C680.19 381.06 682.6 387.93 682.42 393.69 C682.23 399.45 676.84 405.76 675.73 408.18 L655.67 389.23 L643.41 389.67 L641.18 375.85 L633.37 378.08 L611.08 353.56 L606.63 331.27 Z" fill="#fff" stroke="#858585" stroke-width="0.85" />
<path d="M641.18 375.85 L654.55 368.05 L646.75 353.56 L635.6 335.73 L620 327.93" fill="none" stroke="#858585" stroke-width="0.85" />
<path d="M633.37 378.08 L631.15 384.77 L636.72 404.83 L642.29 413.75" fill="none" stroke="#858585" stroke-width="0.85" />
<path d="M643.41 389.67 L645.64 404.83" fill="none" stroke="#858585" stroke-width="0.85" />
<path d="M620 337.96 C622.97 339.44 622.23 336.47 628.92 342.42 C635.6 348.36 633.75 346.87 640.06 355.79 C646.38 364.71 645.26 364.71 647.86 369.17 " fill="none" stroke="#858585" stroke-width="0.85" />
<path d="M589.61 345.73 C591.14 343.95 594.2 337.42 598.79 335.03 C603.37 332.63 611.78 330.44 617.13 331.36 C622.48 332.28 625.54 335.44 630.89 340.53 C636.24 345.63 645.26 356.84 649.23 361.93 C653.2 367.03 653.82 369.58 654.73 371.1 L645.56 375.38 L621.72 385.47 L603.37 368.66 Z" fill="#fff" stroke="#858585" stroke-width="0.85" />
<path d="M592.67 342.67 C596.24 342.16 593.69 338.6 603.37 341.14 C613.05 343.69 609.49 341.14 621.72 350.31 C633.94 359.49 631.4 360 640.06 368.66 C648.72 377.32 645.15 373.75 647.7 376.3 " fill="none" stroke="#858585" stroke-width="0.85" />
<path d="M615.6 325.86 C618.66 323.62 618.15 320.15 624.77 319.13 C631.4 318.11 631.91 321.58 635.47 322.8 " fill="none" stroke="#858585" stroke-width="0.85" />
<path d="M556.76 404.56 C556.06 401.69 553.04 393.09 552.56 387.35 C552.08 381.62 552.56 375.08 553.9 370.15 C555.23 365.21 557.72 360.65 560.59 357.72 C563.45 354.79 567.44 353.04 571.1 352.56 C574.77 352.08 579.23 353.35 582.57 354.85 C585.92 356.35 587.19 358.2 591.17 361.54 C595.16 364.89 601.69 370.69 606.47 374.92 C611.25 379.16 616.82 384.9 619.85 386.97 C622.88 389.04 623.83 387.29 624.63 387.35 L619.85 393.09 L604.56 396.91 L587.35 398.82 L568.23 406.47 Z" fill="#fff" stroke="#858585" stroke-width="0.85" />
<path d="M587.35 356.76 C590.54 358.68 588.62 355.81 596.91 362.5 C605.19 369.19 602.96 368.55 612.2 376.84 C621.44 385.12 620.49 383.85 624.63 387.35 " fill="none" stroke="#858585" stroke-width="0.85" />
<path d="M586.35 366.89 A2.2 1.27 60 0 0 586.35 364.35 A2.2 1.27 60 0 0 584.15 363.08 A2.2 1.27 60 0 0 584.15 365.62 A2.2 1.27 60 0 0 586.35 366.89 Z" fill="#fff" stroke="#858585" stroke-width="0.85" />
<path d="M586.23 365.83 A1.2 0.69 60 0 0 586.23 364.45 A1.2 0.69 60 0 0 585.03 363.75 A1.2 0.69 60 0 0 585.03 365.14 A1.2 0.69 60 0 0 586.23 365.83 Z" fill="none" stroke="#858585" stroke-width="0.61" />
<path d="M602.64 396.91 L609.33 395 L614.11 393.09 L621.76 427.5 L610.29 434.19 L605.51 429.41 L602.64 414.11Z" fill="#fff" stroke="#858585" stroke-width="0.85" />
<path d="M609.33 395 L615.07 417.94 L621.76 427.5" fill="none" stroke="#858585" stroke-width="0.85" />
<path d="M633.23 378.75 L642.79 375.88 L644.7 387.35 L656.17 385.44" fill="none" stroke="#858585" stroke-width="0.85" />
<path d="M633.23 378.75 L631.32 387.35 L637.05 406.47 L641.83 419.85 L621.76 427.5" fill="none" stroke="#858585" stroke-width="0.85" />
<path d="M620.5 415.62 A1.3 0.75 60 0 0 620.5 414.12 A1.3 0.75 60 0 0 619.2 413.37 A1.3 0.75 60 0 0 619.2 414.87 A1.3 0.75 60 0 0 620.5 415.62 Z" fill="none" stroke="#858585" stroke-width="0.73" />
<path d="M630.06 409.89 A1.3 0.75 60 0 0 630.06 408.39 A1.3 0.75 60 0 0 628.76 407.64 A1.3 0.75 60 0 0 628.76 409.14 A1.3 0.75 60 0 0 630.06 409.89 Z" fill="none" stroke="#858585" stroke-width="0.73" />
<path d="M587.35 419.85 C589.26 421.76 587.99 422.72 593.09 425.58 C598.18 428.45 596.91 425.58 602.64 428.45 C608.38 431.32 607.74 432.27 610.29 434.19 " fill="none" stroke="#858585" stroke-width="0.85" />
<path d="M603.19 426.27 A3 1.73 60 0 0 603.19 422.81 A3 1.73 60 0 0 600.19 421.07 A3 1.73 60 0 0 600.19 424.54 A3 1.73 60 0 0 603.19 426.27 Z" fill="none" stroke="#858585" stroke-width="0.61" />
<path d="M574.92 387.35 C577.15 386.08 575.56 383.53 581.62 383.53 C587.67 383.53 586.39 382.89 593.09 387.35 C599.78 391.81 598.18 390.54 601.69 396.91 C605.19 403.28 603.92 400.73 603.6 406.47 C603.28 412.2 605.51 409.65 600.73 414.11 C595.95 418.57 593.09 417.94 589.26 419.85 " fill="#fff" stroke="#858585" stroke-width="0.85" />
<path d="M574.92 387.35 C573.65 389.26 573.33 389.26 571.1 393.09 C568.87 396.91 569.19 396.91 568.23 398.82 " fill="none" stroke="#858585" stroke-width="0.85" />
<path d="M568.7 398.62 A11.5 6.64 60 0 0 568.7 411.9 A11.5 6.64 60 0 0 580.2 418.54 L588.2 413.92 A11.5 6.64 60 0 0 588.2 400.64 A11.5 6.64 60 0 0 576.7 394 Z" fill="#fff" stroke="#858585" stroke-width="0.85" />
<path d="M580.2 418.54 A11.5 6.64 60 0 0 580.2 405.26 A11.5 6.64 60 0 0 568.7 398.62 A11.5 6.64 60 0 0 568.7 411.9 A11.5 6.64 60 0 0 580.2 418.54 Z" fill="#fff" stroke="#858585" stroke-width="0.85" />
<path d="M548.94 412.92 A8 4.62 60 0 0 548.94 422.16 A8 4.62 60 0 0 556.94 426.78 L574.53 416.84 A8 4.62 60 0 0 574.53 407.6 A8 4.62 60 0 0 566.53 402.98 Z" fill="#fff" stroke="#858585" stroke-width="0.85" />
<path d="M556.94 426.78 A8 4.62 60 0 0 556.94 417.54 A8 4.62 60 0 0 548.94 412.92 A8 4.62 60 0 0 548.94 422.16 A8 4.62 60 0 0 556.94 426.78 Z" fill="#fff" stroke="#858585" stroke-width="0.85" />
<path d="M559.07 425.4 L575.16 416.33 M559.82 424.11 L575.91 415.03 M560.1 422.36 L576.18 413.29 M559.88 420.32 L575.97 411.25 M559.18 418.16 L575.27 409.09 M558.08 416.08 L574.16 407 M556.65 414.25 L572.74 405.17 M555.03 412.83 L571.12 403.75 M553.36 411.95 L569.45 402.87 M551.78 411.68 L567.87 402.61 " fill="none" stroke="#858585" stroke-width="0.73" />
<path d="M542.46 419.81 A6.2 3.58 60 0 0 542.46 426.97 A6.2 3.58 60 0 0 548.66 430.55 L556.04 425.22 A6.2 3.58 60 0 0 556.04 418.06 A6.2 3.58 60 0 0 549.84 414.48 Z" fill="#fff" stroke="#858585" stroke-width="0.85" />
<path d="M548.66 430.55 A6.2 3.58 60 0 0 548.66 423.39 A6.2 3.58 60 0 0 542.46 419.81 A6.2 3.58 60 0 0 542.46 426.97 A6.2 3.58 60 0 0 548.66 430.55 Z" fill="#fff" stroke="#858585" stroke-width="0.85" />
<path d="M537.36 424.83 A4.4 2.54 60 0 0 537.36 429.91 A4.4 2.54 60 0 0 541.76 432.45 L549.76 427.83 A4.4 2.54 60 0 0 549.76 422.75 A4.4 2.54 60 0 0 545.36 420.21 Z" fill="#fff" stroke="#858585" stroke-width="0.85" />
<path d="M541.76 432.45 A4.4 2.54 60 0 0 541.76 427.37 A4.4 2.54 60 0 0 537.36 424.83 A4.4 2.54 60 0 0 537.36 429.91 A4.4 2.54 60 0 0 541.76 432.45 Z" fill="#fff" stroke="#858585" stroke-width="0.85" />
<path d="M541.06 431.24 A3 1.73 60 0 0 541.06 427.78 A3 1.73 60 0 0 538.06 426.04 A3 1.73 60 0 0 538.06 429.51 A3 1.73 60 0 0 541.06 431.24 Z" fill="none" stroke="#858585" stroke-width="0.73" />
<path d="M670.32 174.84 L672.23 171.02 L677.32 169.11 L683.69 168.47 L686.88 170.38 L687.26 175.48 L689.81 179.3 L689.43 185.03 L686.24 188.22 L683.69 192.04 L684.33 199.68 L687.26 204.78 L686.24 209.87 L682.42 213.06 L677.96 212.42 L676.05 207.96 L670.96 206.05 L662.04 188.22 L663.31 180.57Z" fill="#fff" stroke="#8a8a8a" stroke-width="0.85" />
<path d="M672.23 171.02 L676.05 179.3 L676.69 188.22 L683.69 192.04" fill="none" stroke="#8a8a8a" stroke-width="0.73" />
<path d="M676.05 179.3 L687.26 175.48" fill="none" stroke="#8a8a8a" stroke-width="0.73" />
<path d="M676.47 178.39 A1.6 0.92 60 0 0 676.47 176.54 A1.6 0.92 60 0 0 674.87 175.62 A1.6 0.92 60 0 0 674.87 177.47 A1.6 0.92 60 0 0 676.47 178.39 Z" fill="none" stroke="#8a8a8a" stroke-width="0.73" />
<path d="M680.77 210.41 A1.8 1.04 60 0 0 680.77 208.33 A1.8 1.04 60 0 0 678.97 207.29 A1.8 1.04 60 0 0 678.97 209.37 A1.8 1.04 60 0 0 680.77 210.41 Z" fill="none" stroke="#8a8a8a" stroke-width="0.73" />
<path d="M658.45 182.88 A14.5 8.37 60 0 0 658.45 199.62 A14.5 8.37 60 0 0 672.95 207.99 L676.95 205.68 A14.5 8.37 60 0 0 676.95 188.94 A14.5 8.37 60 0 0 662.45 180.57 Z" fill="#fff" stroke="#666" stroke-width="0.98" />
<path d="M672.95 207.99 A14.5 8.37 60 0 0 672.95 191.25 A14.5 8.37 60 0 0 658.45 182.88 A14.5 8.37 60 0 0 658.45 199.62 A14.5 8.37 60 0 0 672.95 207.99 Z" fill="#fff" stroke="#666" stroke-width="0.98" />
<path d="M658 185.56 A12.4 7.16 60 0 0 658 199.88 A12.4 7.16 60 0 0 670.4 207.04 L672.4 205.88 A12.4 7.16 60 0 0 672.4 191.57 A12.4 7.16 60 0 0 660 184.41 Z" fill="#fff" stroke="#3a3a3a" stroke-width="1.1" />
<path d="M670.4 207.04 A12.4 7.16 60 0 0 670.4 192.72 A12.4 7.16 60 0 0 658 185.56 A12.4 7.16 60 0 0 658 199.88 A12.4 7.16 60 0 0 670.4 207.04 Z" fill="#fff" stroke="#3a3a3a" stroke-width="1.1" />
<path d="M669.5 205.48 A10.6 6.12 60 0 0 669.5 193.24 A10.6 6.12 60 0 0 658.9 187.12 A10.6 6.12 60 0 0 658.9 199.36 A10.6 6.12 60 0 0 669.5 205.48 ZM668.2 203.23 A8 4.62 60 0 0 668.2 193.99 A8 4.62 60 0 0 660.2 189.37 A8 4.62 60 0 0 660.2 198.61 A8 4.62 60 0 0 668.2 203.23 Z" fill="#444" stroke="#3a3a3a" stroke-width="0.98" fill-rule="evenodd"/>
<path d="M667.3 201.67 A6.2 3.58 60 0 0 667.3 194.51 A6.2 3.58 60 0 0 661.1 190.93 A6.2 3.58 60 0 0 661.1 198.09 A6.2 3.58 60 0 0 667.3 201.67 Z" fill="none" stroke="#777" stroke-width="0.73" />
<path d="M665.8 199.07 A3.2 1.85 60 0 0 665.8 195.38 A3.2 1.85 60 0 0 662.6 193.53 A3.2 1.85 60 0 0 662.6 197.22 A3.2 1.85 60 0 0 665.8 199.07 Z" fill="none" stroke="#777" stroke-width="0.73" />
<path d="M496.95 291.13 A2.5 1.44 60 0 0 496.95 294.02 A2.5 1.44 60 0 0 499.45 295.47 L647.25 208.47 A2.5 1.44 60 0 0 647.25 205.58 A2.5 1.44 60 0 0 644.75 204.13 Z" fill="#fff" stroke="#262626" stroke-width="1.28" />
<path d="M499.45 295.47 A2.5 1.44 60 0 0 499.45 292.58 A2.5 1.44 60 0 0 496.95 291.13 A2.5 1.44 60 0 0 496.95 294.02 A2.5 1.44 60 0 0 499.45 295.47 Z" fill="#fff" stroke="#262626" stroke-width="1.28" />
<path d="M647.25 208.47 L648.8 206.07 L647.6 203.99 L644.75 204.13Z" fill="#fff" stroke="#2a2a2a" stroke-width="0.98" />
<path d="M641.25 211.93 A2.5 1.44 60 0 0 641.25 209.04 A2.5 1.44 60 0 0 638.75 207.6 " fill="none" stroke="#2a2a2a" stroke-width="0.73" />
<path d="M464.2 295.57 A13.2 7.62 60 0 0 464.2 310.81 A13.2 7.62 60 0 0 477.4 318.43 L487.2 312.77 A13.2 7.62 60 0 0 487.2 297.53 A13.2 7.62 60 0 0 474 289.91 Z" fill="#fff" stroke="#3a3a3a" stroke-width="0.98" />
<path d="M477.4 318.43 A13.2 7.62 60 0 0 477.4 303.19 A13.2 7.62 60 0 0 464.2 295.57 A13.2 7.62 60 0 0 464.2 310.81 A13.2 7.62 60 0 0 477.4 318.43 Z" fill="#fff" stroke="#3a3a3a" stroke-width="0.98" />
<path d="M476.6 317.05 A11.6 6.7 60 0 0 476.6 303.65 A11.6 6.7 60 0 0 465 296.95 A11.6 6.7 60 0 0 465 310.35 A11.6 6.7 60 0 0 476.6 317.05 Z" fill="#fff" stroke="#3a3a3a" stroke-width="0.85" />
<path d="M471.59 294.4 A11.6 6.7 60 0 0 473.5 305.44 A11.6 6.7 60 0 0 482.11 312.61 " fill="none" stroke="#3a3a3a" stroke-width="0.61" />
<path d="M432.8 310.07 A18.4 10.62 60 0 0 432.8 331.31 A18.4 10.62 60 0 0 451.2 341.93 L459.2 337.32 A18.4 10.62 60 0 0 459.2 316.07 A18.4 10.62 60 0 0 440.8 305.45 Z" fill="#fff" stroke="#3a3a3a" stroke-width="0.98" />
<path d="M454.79 339.65 L455.67 338.63 L459.27 336.55 L458.39 337.58ZM456.19 337.77 L456.77 336.4 L460.37 334.32 L459.79 335.69ZM457.08 335.31 L457.34 333.66 L460.94 331.58 L460.68 333.23ZM457.41 332.39 L457.34 330.51 L460.94 328.44 L461.01 330.31ZM457.17 329.12 L456.77 327.12 L460.37 325.04 L460.77 327.04ZM456.38 325.66 L455.67 323.61 L459.27 321.53 L459.98 323.58ZM455.06 322.15 L454.07 320.14 L457.67 318.07 L458.66 320.07ZM453.27 318.75 L452.05 316.88 L455.65 314.8 L456.87 316.67ZM451.1 315.61 L449.69 313.94 L453.29 311.87 L454.7 313.53ZM448.64 312.85 L447.11 311.48 L450.71 309.4 L452.24 310.78ZM445.99 310.62 L444.4 309.59 L448 307.51 L449.59 308.54ZM443.27 308.99 L441.69 308.36 L445.29 306.28 L446.87 306.91ZM440.6 308.05 L439.11 307.83 L442.71 305.76 L444.2 305.97ZM438.09 307.83 L436.75 308.04 L440.35 305.97 L441.69 305.75ZM435.86 308.35 L434.73 308.98 L438.33 306.9 L439.46 306.27Z" fill="#bbb" stroke="#3a3a3a" stroke-width="0.73" />
<path d="M453 340.9 A18.4 10.62 60 0 0 453 319.65 A18.4 10.62 60 0 0 434.6 309.03 " fill="none" stroke="#3a3a3a" stroke-width="0.73" />
<path d="M457.8 338.12 A18.4 10.62 60 0 0 457.8 316.88 A18.4 10.62 60 0 0 439.4 306.25 " fill="none" stroke="#3a3a3a" stroke-width="0.73" />
<path d="M451.2 341.93 A18.4 10.62 60 0 0 451.2 320.69 A18.4 10.62 60 0 0 432.8 310.07 A18.4 10.62 60 0 0 432.8 331.31 A18.4 10.62 60 0 0 451.2 341.93 ZM449.3 338.64 A14.6 8.43 60 0 0 449.3 321.79 A14.6 8.43 60 0 0 434.7 313.36 A14.6 8.43 60 0 0 434.7 330.21 A14.6 8.43 60 0 0 449.3 338.64 Z" fill="#fff" stroke="#3a3a3a" stroke-width="0.98" fill-rule="evenodd"/>
<path d="M450.3 340.38 A16.6 9.58 60 0 0 450.3 321.21 A16.6 9.58 60 0 0 433.7 311.62 A16.6 9.58 60 0 0 433.7 330.79 A16.6 9.58 60 0 0 450.3 340.38 Z" fill="none" stroke="#3a3a3a" stroke-width="0.61" />
<path d="M438.06 311.66 A14.4 8.31 60 0 0 437.37 327.66 A14.4 8.31 60 0 0 451.55 337.05 " fill="none" stroke="#3a3a3a" stroke-width="0.61" />
<path d="M440.66 310.4 A14.4 8.31 60 0 0 441.49 325.57 A14.4 8.31 60 0 0 454.09 335.08 " fill="none" stroke="#3a3a3a" stroke-width="0.73" />
<path d="M434.97 316.44 L438.97 314.13" fill="none" stroke="#3a3a3a" stroke-width="0.61" />
<path d="M435.77 323.91 L439.77 321.6" fill="none" stroke="#3a3a3a" stroke-width="0.61" />
<path d="M439.91 331.51 L443.91 329.2" fill="none" stroke="#3a3a3a" stroke-width="0.61" />
<path d="M445.89 336.49 L449.89 334.18" fill="none" stroke="#3a3a3a" stroke-width="0.61" />
<path d="M438.63 309.54 L438.96 311.15" fill="none" stroke="#3a3a3a" stroke-width="0.73" />
<path d="M430.21 312.84 L431.36 314.13" fill="none" stroke="#3a3a3a" stroke-width="0.73" />
<path d="M430.21 325.54 L431.36 325.59" fill="none" stroke="#3a3a3a" stroke-width="0.73" />
<path d="M445.37 342.46 L445.04 340.85" fill="none" stroke="#3a3a3a" stroke-width="0.73" />
<path d="M408.2 326.2 A16.4 9.47 60 0 0 408.2 345.13 A16.4 9.47 60 0 0 424.6 354.6 L426.2 353.68 A16.4 9.47 60 0 0 426.2 334.74 A16.4 9.47 60 0 0 409.8 325.27 Z" fill="#fff" stroke="#3a3a3a" stroke-width="0.98" />
<path d="M424.6 354.6 A16.4 9.47 60 0 0 424.6 335.67 A16.4 9.47 60 0 0 408.2 326.2 A16.4 9.47 60 0 0 408.2 345.13 A16.4 9.47 60 0 0 424.6 354.6 Z" fill="#fff" stroke="#3a3a3a" stroke-width="0.98" />
<path d="M385.8 342.57 A13.2 7.62 60 0 0 385.8 357.81 A13.2 7.62 60 0 0 399 365.43 L423 351.83 A13.2 7.62 60 0 0 423 336.59 A13.2 7.62 60 0 0 409.8 328.97 Z" fill="#fff" stroke="#3a3a3a" stroke-width="0.98" />
<path d="M399 365.43 A13.2 7.62 60 0 0 399 350.19 A13.2 7.62 60 0 0 385.8 342.57 A13.2 7.62 60 0 0 385.8 357.81 A13.2 7.62 60 0 0 399 365.43 Z" fill="#fff" stroke="#3a3a3a" stroke-width="0.98" />
<path d="M397.9 363.53 A11 6.35 60 0 0 397.9 350.82 A11 6.35 60 0 0 386.9 344.47 A11 6.35 60 0 0 386.9 357.18 A11 6.35 60 0 0 397.9 363.53 Z" fill="#fff" stroke="#3a3a3a" stroke-width="0.85" />
<path d="M389.58 343.43 A10.6 6.12 60 0 0 388.45 354.68 A10.6 6.12 60 0 0 398.7 362.42 " fill="none" stroke="#3a3a3a" stroke-width="0.61" />
<path d="M392.16 343.54 A10.6 6.12 60 0 0 394.1 353.02 A10.6 6.12 60 0 0 401.34 359.44 " fill="none" stroke="#3a3a3a" stroke-width="0.61" />
<path d="M504.3 387.5 A18.8 10.85 60 0 0 504.3 365.8 A18.8 10.85 60 0 0 485.5 354.94 A18.8 10.85 60 0 0 485.5 376.65 A18.8 10.85 60 0 0 504.3 387.5 Z" fill="#fff" stroke="#3a3a3a" stroke-width="0.98" />
<path d="M503.3 388.08 A18.8 10.85 60 0 0 503.3 366.37 A18.8 10.85 60 0 0 484.5 355.52 A18.8 10.85 60 0 0 484.5 377.23 A18.8 10.85 60 0 0 503.3 388.08 ZM501.7 385.31 A15.6 9.01 60 0 0 501.7 367.3 A15.6 9.01 60 0 0 486.1 358.29 A15.6 9.01 60 0 0 486.1 376.3 A15.6 9.01 60 0 0 501.7 385.31 Z" fill="#fff" stroke="#3a3a3a" stroke-width="0.98" fill-rule="evenodd"/>
<path d="M487.81 357.37 A15.6 9.01 60 0 0 486.15 373.92 A15.6 9.01 60 0 0 501.23 385.31 " fill="none" stroke="#3a3a3a" stroke-width="0.61" />
<path d="M490.64 355.88 L490.9 357.13" fill="none" stroke="#3a3a3a" stroke-width="0.98" />
<path d="M485 376.94 L485.7 376.53" fill="none" stroke="#3a3a3a" stroke-width="0.98" />
<path d="M506.06 382.58 L505.1 381.73" fill="none" stroke="#3a3a3a" stroke-width="0.98" />
<path d="M476.95 411.07 L480.38 416.25 L481.28 415.83 L478.9 410.18 L479.52 409.76 L483.4 414.42 L484.13 413.73 L481.11 408.29 L481.6 407.67 L485.79 411.65 L486.34 410.72 L482.78 405.67 L483.11 404.88 L487.48 408.04 L487.83 406.89 L483.85 402.41 L484.02 401.47 L488.42 403.71 L488.54 402.39 L484.28 398.63 L484.29 397.57 L488.56 398.81 L488.46 397.36 L484.07 394.44 L483.91 393.31 L487.91 393.5 L487.59 391.97 L483.21 390 L482.89 388.82 L486.49 387.97 L485.96 386.41 L481.74 385.45 L481.26 384.27 L484.34 382.41 L483.62 380.87 L479.71 380.96 L479.1 379.82 L481.54 376.99 L480.65 375.53 L477.18 376.66 L476.45 375.6 L478.18 371.92 L477.16 370.58 L474.25 372.72 L473.43 371.77 L474.38 367.35 L473.25 366.19 L471 369.26 L470.12 368.45 L470.27 363.45 L469.08 362.5 L467.56 366.4 L466.65 365.77 L465.98 360.35 L464.77 359.64 L464.04 364.24 L463.13 363.8 L461.67 358.16 L460.48 357.72 L460.56 362.85 L459.67 362.62 L457.48 356.94 L456.35 356.78 L457.23 362.28 L456.41 362.27 L453.55 356.74 L452.52 356.87 L454.18 362.55 L453.45 362.75 L450.02 357.58 L449.12 357.99 L451.5 363.64 L450.88 364.06 L447 359.41 L446.27 360.09 L449.29 365.54 L448.8 366.15 L444.61 362.17 L444.06 363.1 L447.62 368.15 L447.29 368.94 L442.92 365.78 L442.57 366.93 L446.55 371.41 L446.38 372.35 L441.98 370.11 L441.86 371.43 L446.12 375.2 L446.11 376.25 L441.84 375.01 L441.94 376.47 L446.33 379.38 L446.49 380.52 L442.49 380.32 L442.81 381.85 L447.19 383.82 L447.51 385 L443.91 385.85 L444.44 387.41 L448.66 388.37 L449.14 389.55 L446.06 391.42 L446.78 392.96 L450.69 392.86 L451.3 394.01 L448.86 396.83 L449.75 398.29 L453.22 397.16 L453.95 398.22 L452.22 401.91 L453.24 403.24 L456.15 401.1 L456.97 402.05 L456.02 406.47 L457.15 407.64 L459.4 404.56 L460.28 405.37 L460.13 410.37 L461.32 411.32 L462.84 407.42 L463.75 408.06 L464.42 413.47 L465.63 414.18 L466.36 409.59 L467.27 410.02 L468.73 415.67 L469.92 416.11 L469.84 410.97 L470.73 411.2 L472.92 416.88 L474.05 417.04 L473.17 411.54 L473.99 411.56 L476.85 417.08 L477.88 416.95 L476.22 411.28Z" fill="#fff" stroke="#3a3a3a" stroke-width="0.79" />
<path d="M470.21 414.9 L470.75 414.35 L479.52 409.76 L478.9 410.18ZM472.07 412.52 L472.47 411.79 L481.6 407.67 L481.11 408.29ZM473.35 409.47 L473.58 408.58 L483.11 404.88 L482.78 405.67ZM474.01 405.85 L474.07 404.83 L484.02 401.47 L483.85 402.41ZM474.01 401.78 L473.91 400.67 L484.29 397.57 L484.28 398.63ZM473.37 397.41 L473.1 396.25 L483.91 393.31 L484.07 394.44ZM472.11 392.89 L471.68 391.7 L482.89 388.82 L483.21 390ZM470.26 388.36 L469.69 387.2 L481.26 384.27 L481.74 385.45ZM467.89 383.98 L467.2 382.88 L479.1 379.82 L479.71 380.96ZM465.08 379.9 L464.29 378.9 L476.45 375.6 L477.18 376.66ZM461.93 376.26 L461.07 375.4 L473.43 371.77 L474.25 372.72ZM458.54 373.18 L457.64 372.49 L470.12 368.45 L471 369.26ZM455.04 370.77 L454.12 370.27 L466.65 365.77 L467.56 366.4ZM451.53 369.12 L450.63 368.82 L463.13 363.8 L464.04 364.24ZM448.14 368.27 L447.29 368.18 L459.67 362.62 L460.56 362.85ZM444.98 368.25 L444.21 368.38 L456.41 362.27 L457.23 362.28ZM442.16 369.07 L441.5 369.42 L453.45 362.75 L454.18 362.55ZM439.79 370.7 L439.25 371.25 L450.88 364.06 L451.5 363.64ZM437.93 373.08 L437.53 373.81 L448.8 366.15 L449.29 365.54ZM465.02 417.35 L465.79 417.22 L473.99 411.56 L473.17 411.54ZM467.84 416.53 L468.5 416.18 L476.95 411.07 L476.22 411.28Z" fill="#fff" stroke="#3a3a3a" stroke-width="0.79" />
<path d="M468.5 416.18 L472.24 421.03 L480.38 416.25 L476.95 411.07ZM470.75 414.35 L474.85 418.57 L483.4 414.42 L479.52 409.76ZM472.47 411.79 L476.79 415.24 L485.79 411.65 L481.6 407.67ZM473.58 408.58 L477.99 411.14 L487.48 408.04 L483.11 404.88ZM474.07 404.83 L478.41 406.41 L488.42 403.71 L484.02 401.47ZM473.91 400.67 L478.02 401.22 L488.56 398.81 L484.29 397.57ZM473.1 396.25 L476.86 395.75 L487.91 393.5 L483.91 393.31ZM471.68 391.7 L474.94 390.17 L486.49 387.97 L482.89 388.82ZM469.69 387.2 L472.35 384.69 L484.34 382.41 L481.26 384.27ZM467.2 382.88 L469.17 379.48 L481.54 376.99 L479.1 379.82ZM464.29 378.9 L465.51 374.72 L478.18 371.92 L476.45 375.6ZM461.07 375.4 L461.49 370.58 L474.38 367.35 L473.43 371.77ZM457.64 372.49 L457.25 367.2 L470.27 363.45 L470.12 368.45ZM454.12 370.27 L452.93 364.68 L465.98 360.35 L466.65 365.77ZM450.63 368.82 L448.68 363.13 L461.67 358.16 L463.13 363.8ZM447.29 368.18 L444.64 362.58 L457.48 356.94 L459.67 362.62ZM444.21 368.38 L440.96 363.07 L453.55 356.74 L456.41 362.27ZM441.5 369.42 L437.76 364.57 L450.02 357.58 L453.45 362.75ZM439.25 371.25 L435.15 367.03 L447 359.41 L450.88 364.06ZM462.71 417.42 L465.36 423.02 L472.92 416.88 L470.73 411.2ZM465.79 417.22 L469.04 422.53 L476.85 417.08 L473.99 411.56Z" fill="#fff" stroke="#3a3a3a" stroke-width="0.79" />
<path d="M473.03 420.44 L470.21 414.9 L478.9 410.18 L481.28 415.83ZM475.47 417.72 L472.07 412.52 L481.11 408.29 L484.13 413.73ZM477.21 414.16 L473.35 409.47 L482.78 405.67 L486.34 410.72ZM478.19 409.87 L474.01 405.85 L483.85 402.41 L487.83 406.89ZM478.38 405 L474.01 401.78 L484.28 398.63 L488.54 402.39ZM477.77 399.71 L473.37 397.41 L484.07 394.44 L488.46 397.36ZM476.39 394.19 L472.11 392.89 L483.21 390 L487.59 391.97ZM474.28 388.62 L470.26 388.36 L481.74 385.45 L485.96 386.41ZM471.52 383.19 L467.89 383.98 L479.71 380.96 L483.62 380.87ZM468.19 378.09 L465.08 379.9 L477.18 376.66 L480.65 375.53ZM464.41 373.49 L461.93 376.26 L474.25 372.72 L477.16 370.58ZM460.32 369.55 L458.54 373.18 L471 369.26 L473.25 366.19ZM456.04 366.4 L455.04 370.77 L467.56 366.4 L469.08 362.5ZM451.72 364.15 L451.53 369.12 L464.04 364.24 L464.77 359.64ZM447.52 362.87 L448.14 368.27 L460.56 362.85 L460.48 357.72ZM443.57 362.62 L444.98 368.25 L457.23 362.28 L456.35 356.78ZM440.01 363.39 L442.16 369.07 L454.18 362.55 L452.52 356.87ZM436.97 365.16 L439.79 370.7 L451.5 363.64 L449.12 357.99ZM434.53 367.88 L437.93 373.08 L449.29 365.54 L446.27 360.09ZM466.43 422.98 L465.02 417.35 L473.17 411.54 L474.05 417.04ZM469.99 422.21 L467.84 416.53 L476.22 411.28 L477.88 416.95Z" fill="#fff" stroke="#3a3a3a" stroke-width="0.79" />
<path d="M472.24 421.03 L473.03 420.44 L481.28 415.83 L480.38 416.25ZM474.85 418.57 L475.47 417.72 L484.13 413.73 L483.4 414.42ZM476.79 415.24 L477.21 414.16 L486.34 410.72 L485.79 411.65ZM477.99 411.14 L478.19 409.87 L487.83 406.89 L487.48 408.04ZM478.41 406.41 L478.38 405 L488.54 402.39 L488.42 403.71ZM478.02 401.22 L477.77 399.71 L488.46 397.36 L488.56 398.81ZM476.86 395.75 L476.39 394.19 L487.59 391.97 L487.91 393.5ZM474.94 390.17 L474.28 388.62 L485.96 386.41 L486.49 387.97ZM472.35 384.69 L471.52 383.19 L483.62 380.87 L484.34 382.41ZM469.17 379.48 L468.19 378.09 L480.65 375.53 L481.54 376.99ZM465.51 374.72 L464.41 373.49 L477.16 370.58 L478.18 371.92ZM461.49 370.58 L460.32 369.55 L473.25 366.19 L474.38 367.35ZM457.25 367.2 L456.04 366.4 L469.08 362.5 L470.27 363.45ZM452.93 364.68 L451.72 364.15 L464.77 359.64 L465.98 360.35ZM448.68 363.13 L447.52 362.87 L460.48 357.72 L461.67 358.16ZM444.64 362.58 L443.57 362.62 L456.35 356.78 L457.48 356.94ZM440.96 363.07 L440.01 363.39 L452.52 356.87 L453.55 356.74ZM437.76 364.57 L436.97 365.16 L449.12 357.99 L450.02 357.58ZM435.15 367.03 L434.53 367.88 L446.27 360.09 L447 359.41ZM465.36 423.02 L466.43 422.98 L474.05 417.04 L472.92 416.88ZM469.04 422.53 L469.99 422.21 L477.88 416.95 L476.85 417.08Z" fill="#fff" stroke="#3a3a3a" stroke-width="0.79" />
<path d="M468.5 416.18 L472.24 421.03 L473.03 420.44 L470.21 414.9 L470.75 414.35 L474.85 418.57 L475.47 417.72 L472.07 412.52 L472.47 411.79 L476.79 415.24 L477.21 414.16 L473.35 409.47 L473.58 408.58 L477.99 411.14 L478.19 409.87 L474.01 405.85 L474.07 404.83 L478.41 406.41 L478.38 405 L474.01 401.78 L473.91 400.67 L478.02 401.22 L477.77 399.71 L473.37 397.41 L473.1 396.25 L476.86 395.75 L476.39 394.19 L472.11 392.89 L471.68 391.7 L474.94 390.17 L474.28 388.62 L470.26 388.36 L469.69 387.2 L472.35 384.69 L471.52 383.19 L467.89 383.98 L467.2 382.88 L469.17 379.48 L468.19 378.09 L465.08 379.9 L464.29 378.9 L465.51 374.72 L464.41 373.49 L461.93 376.26 L461.07 375.4 L461.49 370.58 L460.32 369.55 L458.54 373.18 L457.64 372.49 L457.25 367.2 L456.04 366.4 L455.04 370.77 L454.12 370.27 L452.93 364.68 L451.72 364.15 L451.53 369.12 L450.63 368.82 L448.68 363.13 L447.52 362.87 L448.14 368.27 L447.29 368.18 L444.64 362.58 L443.57 362.62 L444.98 368.25 L444.21 368.38 L440.96 363.07 L440.01 363.39 L442.16 369.07 L441.5 369.42 L437.76 364.57 L436.97 365.16 L439.79 370.7 L439.25 371.25 L435.15 367.03 L434.53 367.88 L437.93 373.08 L437.53 373.81 L433.21 370.36 L432.79 371.44 L436.65 376.13 L436.42 377.02 L432.01 374.46 L431.81 375.73 L435.99 379.75 L435.93 380.77 L431.59 379.19 L431.62 380.6 L435.99 383.82 L436.09 384.93 L431.98 384.38 L432.23 385.89 L436.63 388.19 L436.9 389.35 L433.14 389.85 L433.61 391.41 L437.89 392.71 L438.32 393.9 L435.06 395.43 L435.72 396.98 L439.74 397.24 L440.31 398.4 L437.65 400.91 L438.48 402.41 L442.11 401.62 L442.8 402.72 L440.83 406.12 L441.81 407.51 L444.92 405.7 L445.71 406.7 L444.49 410.88 L445.59 412.11 L448.07 409.34 L448.93 410.2 L448.51 415.02 L449.68 416.05 L451.46 412.42 L452.36 413.11 L452.75 418.4 L453.96 419.2 L454.96 414.83 L455.88 415.33 L457.07 420.92 L458.28 421.45 L458.47 416.48 L459.37 416.78 L461.32 422.47 L462.48 422.73 L461.86 417.33 L462.71 417.42 L465.36 423.02 L466.43 422.98 L465.02 417.35 L465.79 417.22 L469.04 422.53 L469.99 422.21 L467.84 416.53Z" fill="#fff" stroke="#3a3a3a" stroke-width="0.79" />
<path d="M467.8 414.97 A25.6 14.78 60 0 0 467.8 385.41 A25.6 14.78 60 0 0 442.2 370.63 A25.6 14.78 60 0 0 442.2 400.19 A25.6 14.78 60 0 0 467.8 414.97 Z" fill="none" stroke="#3a3a3a" stroke-width="0.61" />
<path d="M441.5 377.93 A19.6 11.32 60 0 0 441.5 400.56 A19.6 11.32 60 0 0 461.1 411.87 L464.8 409.77 A19.6 11.32 60 0 0 464.8 387.14 A19.6 11.32 60 0 0 445.2 375.83 Z" fill="#fff" stroke="#3a3a3a" stroke-width="0.98" />
<path d="M461.1 411.87 A19.6 11.32 60 0 0 461.1 389.24 A19.6 11.32 60 0 0 441.5 377.93 A19.6 11.32 60 0 0 441.5 400.56 A19.6 11.32 60 0 0 461.1 411.87 Z" fill="#fff" stroke="#3a3a3a" stroke-width="0.98" />
<path d="M460.3 410.49 A18 10.39 60 0 0 460.3 389.7 A18 10.39 60 0 0 442.3 379.31 A18 10.39 60 0 0 442.3 400.1 A18 10.39 60 0 0 460.3 410.49 Z" fill="none" stroke="#3a3a3a" stroke-width="0.61" />
<path d="M458.9 408.06 A15.2 8.78 60 0 0 458.9 390.51 A15.2 8.78 60 0 0 443.7 381.74 A15.2 8.78 60 0 0 443.7 399.29 A15.2 8.78 60 0 0 458.9 408.06 Z" fill="#fff" stroke="#3a3a3a" stroke-width="1.1" />
<path d="M446.96 380.37 A14.9 8.6 60 0 0 444.89 396.21 A14.9 8.6 60 0 0 459.64 407.12 " fill="none" stroke="#3a3a3a" stroke-width="0.73" />
<path d="M451.75 378.47 A14.9 8.6 60 0 0 453.53 392.86 A14.9 8.6 60 0 0 464.9 402.64 " fill="none" stroke="#3a3a3a" stroke-width="0.73" />
<path d="M517.29 472.18 L521.21 476.57 L521.86 475.83 L518.7 470.59 L519.12 469.94 L523.31 473.62 L523.78 472.65 L520.12 467.86 L520.4 467.05 L524.72 469.89 L524.98 468.73 L520.96 464.55 L521.08 463.6 L525.38 465.51 L525.43 464.19 L521.18 460.76 L521.13 459.72 L525.27 460.63 L525.1 459.19 L520.77 456.64 L520.56 455.53 L524.39 455.41 L524.02 453.91 L519.75 452.31 L519.39 451.17 L522.79 450.03 L522.21 448.52 L518.15 447.93 L517.65 446.81 L520.5 444.68 L519.74 443.21 L516.04 443.65 L515.41 442.57 L517.6 439.53 L516.7 438.15 L513.47 439.61 L512.73 438.62 L514.21 434.76 L513.18 433.52 L510.53 435.95 L509.72 435.07 L510.42 430.54 L509.31 429.48 L507.34 432.79 L506.47 432.07 L506.38 427.01 L505.22 426.16 L503.98 430.24 L503.1 429.69 L502.21 424.29 L501.04 423.68 L500.59 428.4 L499.72 428.04 L498.06 422.46 L496.93 422.12 L497.28 427.31 L496.44 427.16 L494.08 421.6 L493.01 421.54 L494.15 427.02 L493.38 427.08 L490.39 421.73 L489.43 421.95 L491.32 427.54 L490.64 427.8 L487.13 422.85 L486.3 423.34 L488.87 428.85 L488.31 429.31 L484.39 424.92 L483.74 425.66 L486.9 430.9 L486.48 431.55 L482.29 427.87 L481.82 428.84 L485.48 433.63 L485.2 434.44 L480.88 431.6 L480.62 432.76 L484.64 436.94 L484.52 437.89 L480.22 435.98 L480.17 437.3 L484.42 440.73 L484.47 441.77 L480.33 440.86 L480.5 442.3 L484.83 444.85 L485.04 445.96 L481.21 446.08 L481.58 447.58 L485.85 449.18 L486.21 450.32 L482.81 451.46 L483.39 452.97 L487.45 453.56 L487.95 454.68 L485.1 456.81 L485.86 458.28 L489.56 457.84 L490.19 458.92 L488 461.96 L488.9 463.34 L492.13 461.88 L492.87 462.87 L491.39 466.73 L492.42 467.97 L495.07 465.54 L495.88 466.42 L495.18 470.95 L496.29 472.01 L498.26 468.7 L499.13 469.42 L499.22 474.48 L500.38 475.33 L501.62 471.25 L502.5 471.8 L503.39 477.2 L504.56 477.81 L505.01 473.09 L505.88 473.45 L507.54 479.03 L508.67 479.37 L508.32 474.18 L509.16 474.33 L511.52 479.89 L512.59 479.95 L511.45 474.47 L512.22 474.41 L515.21 479.76 L516.17 479.54 L514.28 473.95 L514.96 473.69 L518.47 478.64 L519.3 478.15 L516.73 472.64Z" fill="#fff" stroke="#3a3a3a" stroke-width="0.79" />
<path d="M505.75 478.78 L506.27 478.25 L519.12 469.94 L518.7 470.59ZM507.54 476.49 L507.92 475.78 L520.4 467.05 L520.12 467.86ZM508.77 473.55 L509 472.69 L521.08 463.6 L520.96 464.55ZM509.4 470.07 L509.47 469.08 L521.13 459.72 L521.18 460.76ZM509.41 466.15 L509.31 465.08 L520.56 455.53 L520.77 456.64ZM508.79 461.94 L508.53 460.82 L519.39 451.17 L519.75 452.31ZM507.57 457.58 L507.16 456.44 L517.65 446.81 L518.15 447.93ZM505.79 453.22 L505.24 452.1 L515.41 442.57 L516.04 443.65ZM503.51 449 L502.85 447.95 L512.73 438.62 L513.47 439.61ZM500.81 445.08 L500.05 444.12 L509.72 435.07 L510.53 435.95ZM497.77 441.57 L496.94 440.74 L506.47 432.07 L507.34 432.79ZM494.51 438.61 L493.64 437.94 L503.1 429.69 L503.98 430.24ZM491.13 436.29 L490.25 435.8 L499.72 428.04 L500.59 428.4ZM487.76 434.69 L486.89 434.4 L496.44 427.16 L497.28 427.31ZM484.49 433.87 L483.67 433.79 L493.38 427.08 L494.15 427.02ZM481.45 433.86 L480.71 433.99 L490.64 427.8 L491.32 427.54ZM478.74 434.65 L478.1 434.98 L488.31 429.31 L488.87 428.85ZM476.45 436.22 L475.93 436.75 L486.48 431.55 L486.9 430.9ZM474.66 438.51 L474.28 439.22 L485.2 434.44 L485.48 433.63ZM500.75 481.14 L501.49 481.01 L514.96 473.69 L514.28 473.95ZM503.46 480.35 L504.1 480.02 L517.29 472.18 L516.73 472.64Z" fill="#fff" stroke="#3a3a3a" stroke-width="0.79" />
<path d="M504.1 480.02 L507.77 484.8 L521.21 476.57 L517.29 472.18ZM506.27 478.25 L510.29 482.42 L523.31 473.62 L519.12 469.94ZM507.92 475.78 L512.17 479.19 L524.72 469.89 L520.4 467.05ZM509 472.69 L513.33 475.23 L525.38 465.51 L521.08 463.6ZM509.47 469.08 L513.73 470.66 L525.27 460.63 L521.13 459.72ZM509.31 465.08 L513.36 465.64 L524.39 455.41 L520.56 455.53ZM508.53 460.82 L512.23 460.35 L522.79 450.03 L519.39 451.17ZM507.16 456.44 L510.38 454.96 L520.5 444.68 L517.65 446.81ZM505.24 452.1 L507.88 449.66 L517.6 439.53 L515.41 442.57ZM502.85 447.95 L504.8 444.62 L514.21 434.76 L512.73 438.62ZM500.05 444.12 L501.26 440.02 L510.42 430.54 L509.72 435.07ZM496.94 440.74 L497.37 436.02 L506.38 427.01 L506.47 432.07ZM493.64 437.94 L493.27 432.75 L502.21 424.29 L503.1 429.69ZM490.25 435.8 L489.1 430.32 L498.06 422.46 L499.72 428.04ZM486.89 434.4 L484.99 428.81 L494.08 421.6 L496.44 427.16ZM483.67 433.79 L481.09 428.29 L490.39 421.73 L493.38 427.08ZM480.71 433.99 L477.53 428.76 L487.13 422.85 L490.64 427.8ZM478.1 434.98 L474.43 430.2 L484.39 424.92 L488.31 429.31ZM475.93 436.75 L471.91 432.58 L482.29 427.87 L486.48 431.55ZM498.53 481.21 L501.11 486.71 L515.21 479.76 L512.22 474.41ZM501.49 481.01 L504.67 486.24 L518.47 478.64 L514.96 473.69Z" fill="#fff" stroke="#3a3a3a" stroke-width="0.79" />
<path d="M508.53 484.22 L505.75 478.78 L518.7 470.59 L521.86 475.83ZM510.89 481.6 L507.54 476.49 L520.12 467.86 L523.78 472.65ZM512.57 478.15 L508.77 473.55 L520.96 464.55 L524.98 468.73ZM513.52 474 L509.4 470.07 L521.18 460.76 L525.43 464.19ZM513.7 469.29 L509.41 466.15 L520.77 456.64 L525.1 459.19ZM513.12 464.18 L508.79 461.94 L519.75 452.31 L524.02 453.91ZM511.78 458.84 L507.57 457.58 L518.15 447.93 L522.21 448.52ZM509.74 453.46 L505.79 453.22 L516.04 443.65 L519.74 443.21ZM507.07 448.21 L503.51 449 L513.47 439.61 L516.7 438.15ZM503.85 443.28 L500.81 445.08 L510.53 435.95 L513.18 433.52ZM500.2 438.83 L497.77 441.57 L507.34 432.79 L509.31 429.48ZM496.24 435.02 L494.51 438.61 L503.98 430.24 L505.22 426.16ZM492.1 431.98 L491.13 436.29 L500.59 428.4 L501.04 423.68ZM487.93 429.8 L487.76 434.69 L497.28 427.31 L496.93 422.12ZM483.87 428.57 L484.49 433.87 L494.15 427.02 L493.01 421.54ZM480.05 428.32 L481.45 433.86 L491.32 427.54 L489.43 421.95ZM476.61 429.07 L478.74 434.65 L488.87 428.85 L486.3 423.34ZM473.67 430.78 L476.45 436.22 L486.9 430.9 L483.74 425.66ZM471.31 433.4 L474.66 438.51 L485.48 433.63 L481.82 428.84ZM502.15 486.68 L500.75 481.14 L514.28 473.95 L516.17 479.54ZM505.59 485.93 L503.46 480.35 L516.73 472.64 L519.3 478.15Z" fill="#fff" stroke="#3a3a3a" stroke-width="0.79" />
<path d="M507.77 484.8 L508.53 484.22 L521.86 475.83 L521.21 476.57ZM510.29 482.42 L510.89 481.6 L523.78 472.65 L523.31 473.62ZM512.17 479.19 L512.57 478.15 L524.98 468.73 L524.72 469.89ZM513.33 475.23 L513.52 474 L525.43 464.19 L525.38 465.51ZM513.73 470.66 L513.7 469.29 L525.1 459.19 L525.27 460.63ZM513.36 465.64 L513.12 464.18 L524.02 453.91 L524.39 455.41ZM512.23 460.35 L511.78 458.84 L522.21 448.52 L522.79 450.03ZM510.38 454.96 L509.74 453.46 L519.74 443.21 L520.5 444.68ZM507.88 449.66 L507.07 448.21 L516.7 438.15 L517.6 439.53ZM504.8 444.62 L503.85 443.28 L513.18 433.52 L514.21 434.76ZM501.26 440.02 L500.2 438.83 L509.31 429.48 L510.42 430.54ZM497.37 436.02 L496.24 435.02 L505.22 426.16 L506.38 427.01ZM493.27 432.75 L492.1 431.98 L501.04 423.68 L502.21 424.29ZM489.1 430.32 L487.93 429.8 L496.93 422.12 L498.06 422.46ZM484.99 428.81 L483.87 428.57 L493.01 421.54 L494.08 421.6ZM481.09 428.29 L480.05 428.32 L489.43 421.95 L490.39 421.73ZM477.53 428.76 L476.61 429.07 L486.3 423.34 L487.13 422.85ZM474.43 430.2 L473.67 430.78 L483.74 425.66 L484.39 424.92ZM471.91 432.58 L471.31 433.4 L481.82 428.84 L482.29 427.87ZM501.11 486.71 L502.15 486.68 L516.17 479.54 L515.21 479.76ZM504.67 486.24 L505.59 485.93 L519.3 478.15 L518.47 478.64Z" fill="#fff" stroke="#3a3a3a" stroke-width="0.79" />
<path d="M504.1 480.02 L507.77 484.8 L508.53 484.22 L505.75 478.78 L506.27 478.25 L510.29 482.42 L510.89 481.6 L507.54 476.49 L507.92 475.78 L512.17 479.19 L512.57 478.15 L508.77 473.55 L509 472.69 L513.33 475.23 L513.52 474 L509.4 470.07 L509.47 469.08 L513.73 470.66 L513.7 469.29 L509.41 466.15 L509.31 465.08 L513.36 465.64 L513.12 464.18 L508.79 461.94 L508.53 460.82 L512.23 460.35 L511.78 458.84 L507.57 457.58 L507.16 456.44 L510.38 454.96 L509.74 453.46 L505.79 453.22 L505.24 452.1 L507.88 449.66 L507.07 448.21 L503.51 449 L502.85 447.95 L504.8 444.62 L503.85 443.28 L500.81 445.08 L500.05 444.12 L501.26 440.02 L500.2 438.83 L497.77 441.57 L496.94 440.74 L497.37 436.02 L496.24 435.02 L494.51 438.61 L493.64 437.94 L493.27 432.75 L492.1 431.98 L491.13 436.29 L490.25 435.8 L489.1 430.32 L487.93 429.8 L487.76 434.69 L486.89 434.4 L484.99 428.81 L483.87 428.57 L484.49 433.87 L483.67 433.79 L481.09 428.29 L480.05 428.32 L481.45 433.86 L480.71 433.99 L477.53 428.76 L476.61 429.07 L478.74 434.65 L478.1 434.98 L474.43 430.2 L473.67 430.78 L476.45 436.22 L475.93 436.75 L471.91 432.58 L471.31 433.4 L474.66 438.51 L474.28 439.22 L470.03 435.81 L469.63 436.85 L473.43 441.45 L473.2 442.31 L468.87 439.77 L468.68 441 L472.8 444.93 L472.73 445.92 L468.47 444.34 L468.5 445.71 L472.79 448.85 L472.89 449.92 L468.84 449.36 L469.08 450.82 L473.41 453.06 L473.67 454.18 L469.97 454.65 L470.42 456.16 L474.63 457.42 L475.04 458.56 L471.82 460.04 L472.46 461.54 L476.41 461.78 L476.96 462.9 L474.32 465.34 L475.13 466.79 L478.69 466 L479.35 467.05 L477.4 470.38 L478.35 471.72 L481.39 469.92 L482.15 470.88 L480.94 474.98 L482 476.17 L484.43 473.43 L485.26 474.26 L484.83 478.98 L485.96 479.98 L487.69 476.39 L488.56 477.06 L488.93 482.25 L490.1 483.02 L491.07 478.71 L491.95 479.2 L493.1 484.68 L494.27 485.2 L494.44 480.31 L495.31 480.6 L497.21 486.19 L498.33 486.43 L497.71 481.13 L498.53 481.21 L501.11 486.71 L502.15 486.68 L500.75 481.14 L501.49 481.01 L504.67 486.24 L505.59 485.93 L503.46 480.35Z" fill="#fff" stroke="#3a3a3a" stroke-width="0.79" />
<path d="M503.4 478.8 A24.6 14.2 60 0 0 503.4 450.4 A24.6 14.2 60 0 0 478.8 436.2 A24.6 14.2 60 0 0 478.8 464.6 A24.6 14.2 60 0 0 503.4 478.8 Z" fill="none" stroke="#3a3a3a" stroke-width="0.61" />
<path d="M502.1 476.55 A22 12.7 60 0 0 502.1 451.15 A22 12.7 60 0 0 480.1 438.45 A22 12.7 60 0 0 480.1 463.85 A22 12.7 60 0 0 502.1 476.55 Z" fill="none" stroke="#3a3a3a" stroke-width="0.73" />
<path d="M504.49 462.7 A2.2 1.27 60 0 0 504.49 460.16 A2.2 1.27 60 0 0 502.29 458.89 A2.2 1.27 60 0 0 502.29 461.43 A2.2 1.27 60 0 0 504.49 462.7 Z" fill="#fff" stroke="#3a3a3a" stroke-width="0.85" />
<path d="M488.91 443.31 A2.2 1.27 60 0 0 488.91 440.77 A2.2 1.27 60 0 0 486.71 439.5 A2.2 1.27 60 0 0 486.71 442.04 A2.2 1.27 60 0 0 488.91 443.31 Z" fill="#fff" stroke="#3a3a3a" stroke-width="0.85" />
<path d="M479.91 456.11 A2.2 1.27 60 0 0 479.91 453.57 A2.2 1.27 60 0 0 477.71 452.3 A2.2 1.27 60 0 0 477.71 454.84 A2.2 1.27 60 0 0 479.91 456.11 Z" fill="#fff" stroke="#3a3a3a" stroke-width="0.85" />
<path d="M495.49 475.5 A2.2 1.27 60 0 0 495.49 472.96 A2.2 1.27 60 0 0 493.29 471.69 A2.2 1.27 60 0 0 493.29 474.23 A2.2 1.27 60 0 0 495.49 475.5 Z" fill="#fff" stroke="#3a3a3a" stroke-width="0.85" />
<path d="M482.45 444.78 A13.3 7.68 60 0 0 482.45 460.14 A13.3 7.68 60 0 0 495.75 467.82 L497.75 466.66 A13.3 7.68 60 0 0 497.75 451.31 A13.3 7.68 60 0 0 484.45 443.63 Z" fill="#fff" stroke="#3a3a3a" stroke-width="0.98" />
<path d="M495.75 467.82 A13.3 7.68 60 0 0 495.75 452.46 A13.3 7.68 60 0 0 482.45 444.78 A13.3 7.68 60 0 0 482.45 460.14 A13.3 7.68 60 0 0 495.75 467.82 Z" fill="#fff" stroke="#3a3a3a" stroke-width="0.98" />
<path d="M494.7 466 A11.2 6.47 60 0 0 494.7 453.07 A11.2 6.47 60 0 0 483.5 446.6 A11.2 6.47 60 0 0 483.5 459.53 A11.2 6.47 60 0 0 494.7 466 Z" fill="#fff" stroke="#3a3a3a" stroke-width="0.98" />
<path d="M494.2 465.13 L495.12 464.36 L494.32 462.92 L494.79 462.05 L495.91 462.98 L496.25 461.54 L495.16 460.43 L495.16 459.17 L496.27 459.51 L495.96 457.69 L494.79 457.12 L494.32 455.71 L495.21 455.39 L494.31 453.55 L493.3 453.65 L492.45 452.37 L492.94 451.46 L491.63 449.97 L490.98 450.71 L489.92 449.81 L489.91 448.49 L488.45 447.63 L488.28 448.87 L487.22 448.54 L486.72 447.06 L485.4 447.01 L485.75 448.51 L484.9 448.8 L484 447.47 L483.08 448.24 L483.88 449.68 L483.41 450.55 L482.29 449.62 L481.95 451.06 L483.04 452.17 L483.04 453.43 L481.93 453.09 L482.24 454.91 L483.41 455.48 L483.88 456.89 L482.99 457.21 L483.89 459.05 L484.9 458.95 L485.75 460.23 L485.26 461.14 L486.57 462.63 L487.22 461.89 L488.28 462.79 L488.29 464.11 L489.75 464.97 L489.92 463.73 L490.98 464.06 L491.48 465.54 L492.8 465.59 L492.45 464.09 L493.3 463.8Z" fill="#fff" stroke="#3a3a3a" stroke-width="0.73" />
<path d="M484.8 448.85 L489.8 445.97 M483.12 448.19 L488.12 445.3 M483.36 450.67 L488.36 447.78 M481.96 450.98 L486.96 448.09 M483.06 453.6 L488.06 450.71 M482.22 454.82 L487.22 451.93 M483.95 457.06 L488.95 454.18 M483.84 458.96 L488.84 456.07 M485.86 460.38 L490.86 457.49 M486.5 462.57 L491.5 459.68 M488.42 462.88 L493.42 460 M489.67 464.93 L494.67 462.05 M491.11 464.09 L496.11 461.2 M492.74 465.59 L497.74 462.7 " fill="none" stroke="#3a3a3a" stroke-width="0.73" />
<path d="M489.44 446.21 A8.6 4.97 60 0 0 489.62 455.57 A8.6 4.97 60 0 0 497.59 461.18 " fill="none" stroke="#3a3a3a" stroke-width="0.61" />
<path d="M407.55 402.64 A16.5 9.53 60 0 0 407.55 421.7 A16.5 9.53 60 0 0 424.05 431.22 L435.35 424.7 A16.5 9.53 60 0 0 435.35 405.65 A16.5 9.53 60 0 0 418.85 396.12 Z" fill="#fff" stroke="#3a3a3a" stroke-width="0.98" />
<path d="M404.85 401.43 A18.9 10.91 60 0 0 404.85 423.26 A18.9 10.91 60 0 0 423.75 434.17 L425.25 433.3 A18.9 10.91 60 0 0 425.25 411.48 A18.9 10.91 60 0 0 406.35 400.57 Z" fill="#fff" stroke="#3a3a3a" stroke-width="0.98" />
<path d="M423.75 434.17 A18.9 10.91 60 0 0 423.75 412.34 A18.9 10.91 60 0 0 404.85 401.43 A18.9 10.91 60 0 0 404.85 423.26 A18.9 10.91 60 0 0 423.75 434.17 Z" fill="#fff" stroke="#3a3a3a" stroke-width="0.98" />
<path d="M421.9 430.96 A15.2 8.78 60 0 0 421.9 413.41 A15.2 8.78 60 0 0 406.7 404.64 A15.2 8.78 60 0 0 406.7 422.19 A15.2 8.78 60 0 0 421.9 430.96 Z" fill="none" stroke="#3a3a3a" stroke-width="0.73" />
<path d="M421.5 426.81 A11.4 6.58 60 0 0 421.5 413.64 A11.4 6.58 60 0 0 410.1 407.06 A11.4 6.58 60 0 0 410.1 420.22 A11.4 6.58 60 0 0 421.5 426.81 Z" fill="#fff" stroke="#3a3a3a" stroke-width="0.85" />
<path d="M412.19 406.42 A12.6 7.27 60 0 0 405.68 411.1 A12.6 7.27 60 0 0 409.82 423.74 A12.6 7.27 60 0 0 419.61 429.06 " fill="none" stroke="#3a3a3a" stroke-width="0.61" />
<path d="M414.7 412.53 A2 1.15 60 0 0 414.7 410.22 A2 1.15 60 0 0 412.7 409.07 A2 1.15 60 0 0 412.7 411.38 A2 1.15 60 0 0 414.7 412.53 Z" fill="#fff" stroke="#3a3a3a" stroke-width="0.85" />
<path d="M419 420.23 A2 1.15 60 0 0 419 417.92 A2 1.15 60 0 0 417 416.77 A2 1.15 60 0 0 417 419.08 A2 1.15 60 0 0 419 420.23 Z" fill="#fff" stroke="#3a3a3a" stroke-width="0.85" />
<path d="M409.75 461.2 A2.7 1.56 60 0 0 409.75 464.32 A2.7 1.56 60 0 0 412.45 465.88 L423.55 459.64 A2.7 1.56 60 0 0 423.55 456.52 A2.7 1.56 60 0 0 420.85 454.96 Z" fill="#fff" stroke="#3a3a3a" stroke-width="0.85" />
<path d="M422.65 460.16 A2.7 1.56 60 0 0 422.65 457.04 A2.7 1.56 60 0 0 419.95 455.48 M421.15 461.02 A2.7 1.56 60 0 0 421.15 457.91 A2.7 1.56 60 0 0 418.45 456.35 M419.65 461.89 A2.7 1.56 60 0 0 419.65 458.77 A2.7 1.56 60 0 0 416.95 457.21 M418.15 462.76 A2.7 1.56 60 0 0 418.15 459.64 A2.7 1.56 60 0 0 415.45 458.08 M416.65 463.62 A2.7 1.56 60 0 0 416.65 460.5 A2.7 1.56 60 0 0 413.95 458.95 M415.15 464.49 A2.7 1.56 60 0 0 415.15 461.37 A2.7 1.56 60 0 0 412.45 459.81 " fill="none" stroke="#3a3a3a" stroke-width="0.61" />
<path d="M405.9 460.3 A5.4 3.12 60 0 0 405.9 466.54 A5.4 3.12 60 0 0 411.3 469.66 L413.8 468.21 A5.4 3.12 60 0 0 413.8 461.98 A5.4 3.12 60 0 0 408.4 458.86 Z" fill="#fff" stroke="#3a3a3a" stroke-width="0.85" />
<path d="M411.3 469.66 A5.4 3.12 60 0 0 411.3 463.42 A5.4 3.12 60 0 0 405.9 460.3 A5.4 3.12 60 0 0 405.9 466.54 A5.4 3.12 60 0 0 411.3 469.66 Z" fill="#fff" stroke="#3a3a3a" stroke-width="0.85" />
<path d="M405 463.36 A3.2 1.85 60 0 0 405 467.06 A3.2 1.85 60 0 0 408.2 468.91 L410.2 467.75 A3.2 1.85 60 0 0 410.2 464.06 A3.2 1.85 60 0 0 407 462.21 Z" fill="#fff" stroke="#3a3a3a" stroke-width="0.85" />
<path d="M398.3 465.62 A4.6 2.66 60 0 0 398.3 470.93 A4.6 2.66 60 0 0 402.9 473.58 L408.9 470.12 A4.6 2.66 60 0 0 408.9 464.81 A4.6 2.66 60 0 0 404.3 462.15 Z" fill="#fff" stroke="#3a3a3a" stroke-width="0.98" />
<path d="M402.9 473.58 A4.6 2.66 60 0 0 402.9 468.27 A4.6 2.66 60 0 0 398.3 465.62 A4.6 2.66 60 0 0 398.3 470.93 A4.6 2.66 60 0 0 402.9 473.58 Z" fill="#fff" stroke="#3a3a3a" stroke-width="0.98" />
<path d="M401.9 471.85 A2.6 1.5 60 0 0 401.9 468.85 A2.6 1.5 60 0 0 399.3 467.35 A2.6 1.5 60 0 0 399.3 470.35 A2.6 1.5 60 0 0 401.9 471.85 Z" fill="#fff" stroke="#3a3a3a" stroke-width="0.85" />
<path d="M400.63 466.86 A2.4 1.39 60 0 0 400.21 469.34 A2.4 1.39 60 0 0 402.57 471.19 " fill="none" stroke="#3a3a3a" stroke-width="0.73" />
<path d="M495.35 161.83 A38.1 22 60 0 0 495.35 117.84 A38.1 22 60 0 0 457.25 95.84 A38.1 22 60 0 0 457.25 139.84 A38.1 22 60 0 0 495.35 161.83 ZM494.5 160.36 A36.4 21.02 60 0 0 494.5 118.33 A36.4 21.02 60 0 0 458.1 97.31 A36.4 21.02 60 0 0 458.1 139.35 A36.4 21.02 60 0 0 494.5 160.36 Z" fill="#fff" stroke="#3a3a3a" stroke-width="0.98" fill-rule="evenodd"/>
<path d="M494.55 162.3 A38.1 22 60 0 0 494.55 118.3 A38.1 22 60 0 0 456.45 96.3 A38.1 22 60 0 0 456.45 140.3 A38.1 22 60 0 0 494.55 162.3 ZM493.7 160.82 A36.4 21.02 60 0 0 493.7 118.79 A36.4 21.02 60 0 0 457.3 97.78 A36.4 21.02 60 0 0 457.3 139.81 A36.4 21.02 60 0 0 493.7 160.82 Z" fill="#fff" stroke="#3a3a3a" stroke-width="0.98" fill-rule="evenodd"/>
<path d="M484.2 163.98 A34.8 20.09 60 0 0 484.2 123.79 A34.8 20.09 60 0 0 449.4 103.7 A34.8 20.09 60 0 0 449.4 143.88 A34.8 20.09 60 0 0 484.2 163.98 ZM483 161.9 A32.4 18.71 60 0 0 483 124.49 A32.4 18.71 60 0 0 450.6 105.78 A32.4 18.71 60 0 0 450.6 143.19 A32.4 18.71 60 0 0 483 161.9 Z" fill="#fff" stroke="#3a3a3a" stroke-width="0.98" fill-rule="evenodd"/>
<path d="M483.4 164.44 A34.8 20.09 60 0 0 483.4 124.25 A34.8 20.09 60 0 0 448.6 104.16 A34.8 20.09 60 0 0 448.6 144.35 A34.8 20.09 60 0 0 483.4 164.44 ZM482.2 162.36 A32.4 18.71 60 0 0 482.2 124.95 A32.4 18.71 60 0 0 449.8 106.24 A32.4 18.71 60 0 0 449.8 143.65 A32.4 18.71 60 0 0 482.2 162.36 Z" fill="#fff" stroke="#3a3a3a" stroke-width="0.98" fill-rule="evenodd"/>
<path d="M467.54 192.4 L468.26 192.01 L468.96 191.57 L469.64 191.11 L470.3 190.61 L470.93 190.07 L472.98 192.6 L477.26 187 L475.3 184.37 L475.7 183.54 L476.08 182.68 L476.44 181.8 L476.76 180.89 L477.06 179.95 L477.06 179.95 L477.39 178.79 L477.67 177.6 L477.91 176.37 L478.12 175.1 L478.28 173.81 L480.63 175.17 L480.79 168.11 L478.44 166.62 L478.35 165.17 L478.21 163.7 L478.03 162.21 L477.8 160.71 L477.54 159.19 L477.54 159.19 L477.21 157.52 L476.83 155.84 L476.4 154.15 L475.93 152.46 L475.41 150.75 L477.44 150.59 L475 143.97 L472.91 144.01 L472.18 142.32 L471.4 140.64 L470.59 138.97 L469.73 137.31 L468.84 135.67 L468.84 135.67 L467.91 134.04 L466.95 132.44 L465.95 130.85 L464.92 129.3 L463.86 127.77 L465.04 126.12 L460.71 120.55 L459.44 122.09 L458.25 120.73 L457.04 119.41 L455.81 118.13 L454.56 116.89 L453.3 115.7 L453.3 115.7 L452.12 114.64 L450.92 113.62 L449.72 112.64 L448.51 111.7 L447.29 110.82 L447.29 108.11 L441.26 104.44 L441.15 107.08 L439.92 106.49 L438.7 105.94 L437.49 105.45 L436.28 105.01 L435.08 104.63 L435.08 104.63 L434.09 104.35 L433.1 104.1 L432.12 103.9 L431.16 103.73 L430.2 103.61 L429.01 100.57 L421.97 100.92 L423.02 103.96 L422.19 104.18 L421.38 104.43 L420.59 104.73 L419.81 105.06 L419.06 105.42 L419.06 105.42 L418.34 105.82 L417.64 106.25 L416.96 106.72 L416.3 107.22 L415.67 107.75 L413.62 105.22 L409.34 110.82 L411.3 113.46 L410.9 114.28 L410.52 115.14 L410.16 116.02 L409.84 116.93 L409.54 117.87 L409.54 117.87 L409.21 119.03 L408.93 120.23 L408.69 121.46 L408.48 122.72 L408.32 124.02 L405.97 122.66 L405.81 129.71 L408.16 131.2 L408.25 132.66 L408.39 134.13 L408.57 135.61 L408.8 137.12 L409.06 138.64 L409.06 138.64 L409.39 140.3 L409.77 141.98 L410.2 143.67 L410.67 145.37 L411.19 147.07 L409.16 147.24 L411.6 153.85 L413.69 153.82 L414.42 155.51 L415.2 157.19 L416.01 158.86 L416.87 160.51 L417.76 162.15 L417.76 162.15 L418.69 163.78 L419.65 165.39 L420.65 166.97 L421.68 168.53 L422.74 170.06 L421.56 171.71 L425.89 177.28 L427.16 175.73 L428.35 177.09 L429.56 178.42 L430.79 179.7 L432.04 180.93 L433.3 182.12 L433.3 182.12 L434.48 183.19 L435.68 184.21 L436.88 185.19 L438.09 186.12 L439.31 187.01 L439.31 189.72 L445.34 193.38 L445.45 190.74 L446.68 191.34 L447.9 191.88 L449.11 192.37 L450.32 192.81 L451.52 193.2 L451.52 193.2 L452.51 193.48 L453.5 193.72 L454.48 193.92 L455.44 194.09 L456.4 194.22 L457.59 197.26 L464.63 196.91 L463.58 193.86 L464.41 193.65 L465.22 193.39 L466.01 193.1 L466.79 192.77 L467.54 192.4ZM464.8 186.15 L466.93 184.65 L468.8 182.76 L470.39 180.49 L471.69 177.88 L472.67 174.96 L473.33 171.74 L473.66 168.28 L473.66 164.61 L473.33 160.76 L472.67 156.78 L471.69 152.72 L470.39 148.61 L468.8 144.51 L466.93 140.46 L464.8 136.5 L462.43 132.67 L459.86 129.03 L457.1 125.6 L454.2 122.43 L451.17 119.54 L448.06 116.98 L444.89 114.77 L441.71 112.93 L438.54 111.49 L435.43 110.46 L432.4 109.84 L429.5 109.66 L426.74 109.91 L424.17 110.58 L421.8 111.67 L419.67 113.17 L417.8 115.07 L416.21 117.33 L414.91 119.94 L413.93 122.87 L413.27 126.08 L412.94 129.54 L412.94 133.22 L413.27 137.07 L413.93 141.04 L414.91 145.11 L416.21 149.21 L417.8 153.31 L419.67 157.36 L421.8 161.32 L424.17 165.15 L426.74 168.8 L429.5 172.22 L432.4 175.4 L435.43 178.28 L438.54 180.84 L441.71 183.05 L444.89 184.89 L448.06 186.34 L451.17 187.37 L454.2 187.98 L457.1 188.16 L459.86 187.92 L462.43 187.24Z" fill="#fff" stroke="#3a3a3a" stroke-width="0.98" fill-rule="evenodd"/>
<path d="M465.54 193.56 L466.26 193.16 L466.96 192.73 L467.64 192.26 L468.3 191.76 L468.93 191.23 L470.98 193.76 L475.26 188.16 L473.3 185.52 L473.7 184.69 L474.08 183.84 L474.44 182.96 L474.76 182.05 L475.06 181.11 L475.06 181.11 L475.39 179.95 L475.67 178.75 L475.91 177.52 L476.12 176.26 L476.28 174.96 L478.63 176.32 L478.79 169.27 L476.44 167.77 L476.35 166.32 L476.21 164.85 L476.03 163.36 L475.8 161.86 L475.54 160.34 L475.54 160.34 L475.21 158.68 L474.83 157 L474.4 155.31 L473.93 153.61 L473.41 151.91 L475.44 151.74 L473 145.12 L470.91 145.16 L470.18 143.47 L469.4 141.79 L468.59 140.12 L467.73 138.46 L466.84 136.82 L466.84 136.82 L465.91 135.2 L464.95 133.59 L463.95 132.01 L462.92 130.45 L461.86 128.92 L463.04 127.27 L458.71 121.7 L457.44 123.25 L456.25 121.88 L455.04 120.56 L453.81 119.28 L452.56 118.05 L451.3 116.85 L451.3 116.85 L450.12 115.79 L448.92 114.77 L447.72 113.79 L446.51 112.86 L445.29 111.97 L445.29 109.26 L439.26 105.6 L439.15 108.24 L437.92 107.64 L436.7 107.1 L435.49 106.61 L434.28 106.17 L433.08 105.78 L433.08 105.78 L432.09 105.5 L431.1 105.26 L430.12 105.05 L429.16 104.89 L428.2 104.76 L427.01 101.72 L419.97 102.07 L421.02 105.12 L420.19 105.33 L419.38 105.59 L418.59 105.88 L417.81 106.21 L417.06 106.58 L417.06 106.58 L416.34 106.97 L415.64 107.4 L414.96 107.87 L414.3 108.37 L413.67 108.91 L411.62 106.38 L407.34 111.97 L409.3 114.61 L408.9 115.44 L408.52 116.29 L408.16 117.18 L407.84 118.09 L407.54 119.02 L407.54 119.02 L407.21 120.19 L406.93 121.38 L406.69 122.61 L406.48 123.88 L406.32 125.17 L403.97 123.81 L403.81 130.87 L406.16 132.36 L406.25 133.81 L406.39 135.28 L406.57 136.77 L406.8 138.27 L407.06 139.79 L407.06 139.79 L407.39 141.46 L407.77 143.14 L408.2 144.83 L408.67 146.52 L409.19 148.22 L407.16 148.39 L409.6 155.01 L411.69 154.97 L412.42 156.66 L413.2 158.34 L414.01 160.01 L414.87 161.67 L415.76 163.31 L415.76 163.31 L416.69 164.94 L417.65 166.54 L418.65 168.12 L419.68 169.68 L420.74 171.21 L419.56 172.86 L423.89 178.43 L425.16 176.89 L426.35 178.25 L427.56 179.57 L428.79 180.85 L430.04 182.09 L431.3 183.28 L431.3 183.28 L432.48 184.34 L433.68 185.36 L434.88 186.34 L436.09 187.27 L437.31 188.16 L437.31 190.87 L443.34 194.53 L443.45 191.9 L444.68 192.49 L445.9 193.04 L447.11 193.53 L448.32 193.97 L449.52 194.35 L449.52 194.35 L450.51 194.63 L451.5 194.87 L452.48 195.08 L453.44 195.25 L454.4 195.37 L455.59 198.41 L462.63 198.06 L461.58 195.02 L462.41 194.8 L463.22 194.55 L464.01 194.25 L464.79 193.92 L465.54 193.56ZM462.8 187.31 L464.93 185.8 L466.8 183.91 L468.39 181.65 L469.69 179.04 L470.67 176.11 L471.33 172.9 L471.66 169.43 L471.66 165.76 L471.33 161.91 L470.67 157.94 L469.69 153.87 L468.39 149.77 L466.8 145.67 L464.93 141.61 L462.8 137.65 L460.43 133.83 L457.86 130.18 L455.1 126.75 L452.2 123.58 L449.17 120.7 L446.06 118.14 L442.89 115.92 L439.71 114.09 L436.54 112.64 L433.43 111.61 L430.4 111 L427.5 110.81 L424.74 111.06 L422.17 111.73 L419.8 112.83 L417.67 114.33 L415.8 116.22 L414.21 118.49 L412.91 121.1 L411.93 124.02 L411.27 127.24 L410.94 130.7 L410.94 134.37 L411.27 138.22 L411.93 142.2 L412.91 146.26 L414.21 150.36 L415.8 154.47 L417.67 158.52 L419.8 162.48 L422.17 166.3 L424.74 169.95 L427.5 173.38 L430.4 176.55 L433.43 179.44 L436.54 182 L439.71 184.21 L442.89 186.05 L446.06 187.49 L449.17 188.52 L452.2 189.14 L455.1 189.32 L457.86 189.07 L460.43 188.4Z" fill="#fff" stroke="#3a3a3a" stroke-width="1.1" fill-rule="evenodd"/>
<path d="M466 192.85 L463 187.65 M468.06 191.44 L464.81 186.42 M469.88 189.75 L466.41 184.93 M471.46 187.83 L467.8 183.24 M472.78 185.72 L468.96 181.39 M473.86 183.47 L469.91 179.41 M474.71 181.13 L470.65 177.36 M475.35 178.72 L471.22 175.24 M475.8 176.27 L471.61 173.09 M476.09 173.8 L471.86 170.91 M476.22 171.31 L471.98 168.73 M476.21 168.81 L471.97 166.54 M476.07 166.33 L471.85 164.35 M475.82 163.85 L471.63 162.17 M475.46 161.38 L471.31 160.01 M475 158.93 L470.91 157.86 M474.45 156.5 L470.43 155.72 M473.81 154.09 L469.86 153.6 M473.09 151.71 L469.23 151.51 M472.29 149.35 L468.53 149.44 M471.41 147.02 L467.76 147.39 M470.47 144.71 L466.92 145.36 M469.45 142.44 L466.03 143.36 M468.36 140.19 L465.08 141.39 M467.21 137.98 L464.07 139.45 M466 135.81 L463 137.54 M464.72 133.67 L461.88 135.66 M463.38 131.56 L460.7 133.81 M461.98 129.5 L459.47 132 M460.52 127.48 L458.19 130.23 M459 125.51 L456.85 128.49 M457.42 123.59 L455.46 126.8 M455.77 121.71 L454.02 125.16 M454.07 119.9 L452.52 123.56 M452.3 118.14 L450.97 122.02 M450.47 116.44 L449.36 120.53 M448.58 114.82 L447.7 119.1 M446.63 113.28 L445.98 117.75 M444.61 111.82 L444.2 116.47 M442.52 110.46 L442.37 115.27 M440.36 109.21 L440.48 114.17 M438.14 108.07 L438.53 113.18 M435.86 107.08 L436.52 112.3 M433.51 106.25 L434.46 111.57 M431.11 105.6 L432.34 111 M428.65 105.17 L430.19 110.62 M426.17 104.98 L428.01 110.45 M423.68 105.07 L425.82 110.53 M421.22 105.47 L423.66 110.89 M418.84 106.21 L421.57 111.53 M416.6 107.28 L419.6 112.48 M414.54 108.69 L417.79 113.71 M412.72 110.38 L416.19 115.2 M411.14 112.31 L414.8 116.89 M409.82 114.42 L413.64 118.75 M408.74 116.66 L412.69 120.72 M407.89 119.01 L411.95 122.78 M407.25 121.41 L411.38 124.89 M406.8 123.86 L410.99 127.05 M406.51 126.34 L410.74 129.22 M406.38 128.83 L410.62 131.41 M406.39 131.32 L410.63 133.6 M406.53 133.81 L410.75 135.78 M406.78 136.29 L410.97 137.96 M407.14 138.75 L411.29 140.13 M407.6 141.2 L411.69 142.28 M408.15 143.63 L412.17 144.41 M408.79 146.04 L412.74 146.53 M409.51 148.42 L413.37 148.62 M410.31 150.78 L414.07 150.7 M411.19 153.12 L414.84 152.75 M412.13 155.42 L415.68 154.77 M413.15 157.7 L416.57 156.77 M414.24 159.94 L417.52 158.74 M415.39 162.15 L418.53 160.68 M416.6 164.33 L419.6 162.6 M417.88 166.47 L420.72 164.47 M419.22 168.57 L421.9 166.32 M420.62 170.63 L423.13 168.13 M422.08 172.65 L424.41 169.91 M423.6 174.62 L425.75 171.64 M425.18 176.55 L427.14 173.33 M426.83 178.42 L428.58 174.98 M428.53 180.24 L430.08 176.57 M430.3 182 L431.63 178.12 M432.13 183.69 L433.24 179.6 M434.02 185.31 L434.9 181.03 M435.97 186.85 L436.62 182.39 M437.99 188.31 L438.4 183.67 M440.08 189.67 L440.23 184.86 M442.24 190.93 L442.12 185.96 M444.46 192.06 L444.07 186.96 M446.74 193.05 L446.08 187.83 M449.09 193.88 L448.14 188.56 M451.49 194.53 L450.26 189.13 M453.95 194.97 L452.41 189.51 M456.43 195.16 L454.59 189.68 M458.92 195.07 L456.78 189.6 M461.38 194.66 L458.94 189.25 M463.76 193.93 L461.03 188.6 " fill="none" stroke="#333" stroke-width="1.3" stroke-linecap="butt"/>
<path d="M466.2 193.19 A49.8 28.75 60 0 0 466.2 135.69 A49.8 28.75 60 0 0 416.4 106.94 A49.8 28.75 60 0 0 416.4 164.44 A49.8 28.75 60 0 0 466.2 193.19 Z" fill="none" stroke="#2e2e2e" stroke-width="1.37" />
<path d="M462.8 187.31 A43 24.83 60 0 0 462.8 137.65 A43 24.83 60 0 0 419.8 112.83 A43 24.83 60 0 0 419.8 162.48 A43 24.83 60 0 0 462.8 187.31 Z" fill="none" stroke="#2e2e2e" stroke-width="1.37" />
<path d="M453.55 200.5 A49.8 28.75 60 0 0 453.55 142.99 A49.8 28.75 60 0 0 403.75 114.24 A49.8 28.75 60 0 0 403.75 171.75 A49.8 28.75 60 0 0 453.55 200.5 ZM448.65 192.01 L449.55 191.44 L449.35 189.86 L449.09 188.29 L449.83 187.61 L451.1 188.26 L452.37 188.85 L453.06 187.97 L452.6 186.32 L452.09 184.69 L452.61 183.73 L453.83 184.06 L455.06 184.32 L455.49 183.16 L454.8 181.51 L454.06 179.9 L454.34 178.71 L455.47 178.7 L456.59 178.61 L456.76 177.22 L455.85 175.65 L454.92 174.13 L454.95 172.75 L455.94 172.4 L456.9 171.97 L456.8 170.41 L455.72 168.98 L454.63 167.62 L454.41 166.12 L455.21 165.44 L455.97 164.69 L455.6 163.04 L454.41 161.81 L453.21 160.66 L452.75 159.1 L453.32 158.14 L453.85 157.09 L453.23 155.41 L451.97 154.45 L450.71 153.56 L450.03 152.01 L450.36 150.79 L450.63 149.51 L449.79 147.87 L448.51 147.21 L447.25 146.63 L446.37 145.16 L446.44 143.74 L446.45 142.27 L445.42 140.75 L444.18 140.42 L442.98 140.17 L441.95 138.84 L441.75 137.28 L441.49 135.68 L440.32 134.35 L439.17 134.37 L438.08 134.46 L436.94 133.33 L436.48 131.7 L435.97 130.05 L434.7 128.96 L433.71 129.32 L432.76 129.75 L431.56 128.87 L430.88 127.24 L430.13 125.61 L428.83 124.81 L428.02 125.5 L427.27 126.24 L426.06 125.65 L425.17 124.1 L424.23 122.56 L422.94 122.09 L422.36 123.07 L421.84 124.1 L420.68 123.82 L419.62 122.41 L418.51 121.03 L417.31 120.9 L416.98 122.14 L416.71 123.41 L415.64 123.46 L414.46 122.25 L413.25 121.09 L412.17 121.31 L412.1 122.75 L412.1 124.21 L411.17 124.58 L409.92 123.63 L408.65 122.73 L407.75 123.3 L407.95 124.88 L408.21 126.45 L407.47 127.13 L406.2 126.48 L404.93 125.89 L404.24 126.77 L404.7 128.42 L405.21 130.05 L404.69 131.01 L403.47 130.68 L402.24 130.42 L401.81 131.58 L402.5 133.23 L403.24 134.84 L402.96 136.03 L401.83 136.04 L400.71 136.13 L400.54 137.52 L401.45 139.09 L402.38 140.61 L402.35 141.99 L401.36 142.34 L400.4 142.77 L400.5 144.33 L401.58 145.76 L402.67 147.12 L402.89 148.62 L402.09 149.3 L401.33 150.05 L401.7 151.71 L402.89 152.93 L404.09 154.08 L404.55 155.64 L403.98 156.6 L403.45 157.65 L404.07 159.33 L405.33 160.29 L406.59 161.18 L407.27 162.73 L406.94 163.95 L406.67 165.23 L407.51 166.87 L408.79 167.53 L410.05 168.11 L410.93 169.58 L410.86 171 L410.85 172.47 L411.88 173.99 L413.12 174.32 L414.32 174.57 L415.35 175.9 L415.55 177.46 L415.81 179.06 L416.98 180.39 L418.13 180.37 L419.22 180.28 L420.36 181.41 L420.82 183.04 L421.33 184.69 L422.6 185.78 L423.59 185.42 L424.54 184.99 L425.74 185.87 L426.42 187.5 L427.17 189.13 L428.47 189.93 L429.28 189.24 L430.03 188.5 L431.24 189.09 L432.13 190.64 L433.07 192.18 L434.36 192.65 L434.94 191.67 L435.46 190.64 L436.62 190.92 L437.68 192.33 L438.79 193.71 L439.99 193.84 L440.32 192.6 L440.59 191.33 L441.66 191.28 L442.84 192.49 L444.05 193.65 L445.13 193.43 L445.2 191.99 L445.2 190.53 L446.13 190.16 L447.38 191.11Z" fill="#fff" stroke="#3a3a3a" stroke-width="0.98" fill-rule="evenodd"/>
<path d="M452.35 201.19 A49.8 28.75 60 0 0 452.35 143.69 A49.8 28.75 60 0 0 402.55 114.93 A49.8 28.75 60 0 0 402.55 172.44 A49.8 28.75 60 0 0 452.35 201.19 ZM447.45 192.7 L448.35 192.14 L448.15 190.56 L447.89 188.98 L448.63 188.3 L449.9 188.95 L451.17 189.55 L451.86 188.66 L451.4 187.01 L450.89 185.38 L451.41 184.43 L452.63 184.76 L453.86 185.01 L454.29 183.85 L453.6 182.2 L452.86 180.59 L453.14 179.4 L454.27 179.39 L455.39 179.3 L455.56 177.91 L454.65 176.34 L453.72 174.82 L453.75 173.44 L454.74 173.09 L455.7 172.66 L455.6 171.1 L454.52 169.68 L453.43 168.31 L453.21 166.81 L454.01 166.14 L454.77 165.38 L454.4 163.73 L453.21 162.51 L452.01 161.36 L451.55 159.8 L452.12 158.83 L452.65 157.79 L452.03 156.1 L450.77 155.14 L449.51 154.26 L448.83 152.71 L449.16 151.49 L449.43 150.2 L448.59 148.57 L447.31 147.9 L446.05 147.32 L445.17 145.85 L445.24 144.43 L445.25 142.96 L444.22 141.44 L442.98 141.11 L441.78 140.86 L440.75 139.53 L440.55 137.98 L440.29 136.38 L439.12 135.05 L437.97 135.06 L436.88 135.15 L435.74 134.02 L435.28 132.4 L434.77 130.74 L433.5 129.66 L432.51 130.01 L431.56 130.44 L430.36 129.56 L429.68 127.94 L428.93 126.3 L427.63 125.51 L426.82 126.19 L426.07 126.94 L424.86 126.34 L423.97 124.8 L423.03 123.25 L421.74 122.78 L421.16 123.76 L420.64 124.79 L419.48 124.52 L418.42 123.11 L417.31 121.72 L416.11 121.6 L415.78 122.83 L415.51 124.11 L414.44 124.15 L413.26 122.95 L412.05 121.78 L410.97 122.01 L410.9 123.45 L410.9 124.9 L409.97 125.27 L408.72 124.32 L407.45 123.42 L406.55 123.99 L406.75 125.57 L407.01 127.15 L406.27 127.83 L405 127.17 L403.73 126.58 L403.04 127.47 L403.5 129.11 L404.01 130.74 L403.49 131.7 L402.27 131.37 L401.04 131.11 L400.61 132.28 L401.3 133.92 L402.04 135.53 L401.76 136.73 L400.63 136.74 L399.51 136.82 L399.34 138.22 L400.25 139.79 L401.18 141.31 L401.15 142.69 L400.16 143.03 L399.2 143.46 L399.3 145.02 L400.38 146.45 L401.47 147.81 L401.69 149.32 L400.89 149.99 L400.13 150.74 L400.5 152.4 L401.69 153.62 L402.89 154.77 L403.35 156.33 L402.78 157.3 L402.25 158.34 L402.87 160.02 L404.13 160.98 L405.39 161.87 L406.07 163.42 L405.74 164.64 L405.47 165.93 L406.31 167.56 L407.59 168.22 L408.85 168.8 L409.73 170.27 L409.66 171.69 L409.65 173.17 L410.68 174.68 L411.92 175.01 L413.12 175.27 L414.15 176.6 L414.35 178.15 L414.61 179.75 L415.78 181.08 L416.93 181.07 L418.02 180.98 L419.16 182.11 L419.62 183.73 L420.13 185.38 L421.4 186.47 L422.39 186.11 L423.34 185.69 L424.54 186.57 L425.22 188.19 L425.97 189.82 L427.27 190.62 L428.08 189.93 L428.83 189.19 L430.04 189.78 L430.93 191.33 L431.87 192.88 L433.16 193.35 L433.74 192.36 L434.26 191.33 L435.42 191.61 L436.48 193.02 L437.59 194.41 L438.79 194.53 L439.12 193.29 L439.39 192.02 L440.46 191.97 L441.64 193.18 L442.85 194.35 L443.93 194.12 L444 192.68 L444 191.23 L444.93 190.85 L446.18 191.8Z" fill="#fff" stroke="#3a3a3a" stroke-width="0.98" fill-rule="evenodd"/>
<path d="M439.84 208.39 L440.56 208 L441.26 207.57 L441.94 207.1 L442.6 206.6 L443.23 206.06 L445.28 208.59 L449.56 203 L447.6 200.36 L448 199.53 L448.38 198.68 L448.74 197.79 L449.06 196.88 L449.36 195.95 L449.36 195.95 L449.69 194.79 L449.97 193.59 L450.21 192.36 L450.42 191.09 L450.58 189.8 L452.93 191.16 L453.09 184.11 L450.74 182.61 L450.65 181.16 L450.51 179.69 L450.33 178.2 L450.1 176.7 L449.84 175.18 L449.84 175.18 L449.51 173.51 L449.13 171.83 L448.7 170.15 L448.23 168.45 L447.71 166.75 L449.74 166.58 L447.3 159.96 L445.21 160 L444.48 158.31 L443.7 156.63 L442.89 154.96 L442.03 153.3 L441.14 151.66 L441.14 151.66 L440.21 150.04 L439.25 148.43 L438.25 146.85 L437.22 145.29 L436.16 143.76 L437.34 142.11 L433.01 136.54 L431.74 138.08 L430.55 136.72 L429.34 135.4 L428.11 134.12 L426.86 132.88 L425.6 131.69 L425.6 131.69 L424.42 130.63 L423.22 129.61 L422.02 128.63 L420.81 127.7 L419.59 126.81 L419.59 124.1 L413.56 120.44 L413.45 123.08 L412.22 122.48 L411 121.94 L409.79 121.44 L408.58 121.01 L407.38 120.62 L407.38 120.62 L406.39 120.34 L405.4 120.1 L404.42 119.89 L403.46 119.73 L402.5 119.6 L401.31 116.56 L394.27 116.91 L395.32 119.95 L394.49 120.17 L393.68 120.43 L392.89 120.72 L392.11 121.05 L391.36 121.41 L391.36 121.41 L390.64 121.81 L389.94 122.24 L389.26 122.71 L388.6 123.21 L387.97 123.74 L385.92 121.21 L381.64 126.81 L383.6 129.45 L383.2 130.28 L382.82 131.13 L382.46 132.02 L382.14 132.93 L381.84 133.86 L381.84 133.86 L381.51 135.02 L381.23 136.22 L380.99 137.45 L380.78 138.71 L380.62 140.01 L378.27 138.65 L378.11 145.7 L380.46 147.2 L380.55 148.65 L380.69 150.12 L380.87 151.61 L381.1 153.11 L381.36 154.63 L381.36 154.63 L381.69 156.3 L382.07 157.97 L382.5 159.66 L382.97 161.36 L383.49 163.06 L381.46 163.23 L383.9 169.85 L385.99 169.81 L386.72 171.5 L387.5 173.18 L388.31 174.85 L389.17 176.51 L390.06 178.15 L390.06 178.15 L390.99 179.77 L391.95 181.38 L392.95 182.96 L393.98 184.52 L395.04 186.05 L393.86 187.7 L398.19 193.27 L399.46 191.72 L400.65 193.09 L401.86 194.41 L403.09 195.69 L404.34 196.93 L405.6 198.12 L405.6 198.12 L406.78 199.18 L407.98 200.2 L409.18 201.18 L410.39 202.11 L411.61 203 L411.61 205.71 L417.64 209.37 L417.75 206.73 L418.98 207.33 L420.2 207.87 L421.41 208.36 L422.62 208.8 L423.82 209.19 L423.82 209.19 L424.81 209.47 L425.8 209.71 L426.78 209.92 L427.74 210.08 L428.7 210.21 L429.89 213.25 L436.93 212.9 L435.88 209.86 L436.71 209.64 L437.52 209.38 L438.31 209.09 L439.09 208.76 L439.84 208.39ZM437.1 202.14 L439.23 200.64 L441.1 198.75 L442.69 196.49 L443.99 193.88 L444.97 190.95 L445.63 187.74 L445.96 184.27 L445.96 180.6 L445.63 176.75 L444.97 172.77 L443.99 168.71 L442.69 164.61 L441.1 160.51 L439.23 156.45 L437.1 152.49 L434.73 148.67 L432.16 145.02 L429.4 141.59 L426.5 138.42 L423.47 135.53 L420.36 132.97 L417.19 130.76 L414.01 128.92 L410.84 127.48 L407.73 126.45 L404.7 125.84 L401.8 125.65 L399.04 125.9 L396.47 126.57 L394.1 127.67 L391.97 129.17 L390.1 131.06 L388.51 133.32 L387.21 135.93 L386.23 138.86 L385.57 142.07 L385.24 145.54 L385.24 149.21 L385.57 153.06 L386.23 157.03 L387.21 161.1 L388.51 165.2 L390.1 169.3 L391.97 173.36 L394.1 177.32 L396.47 181.14 L399.04 184.79 L401.8 188.22 L404.7 191.39 L407.73 194.27 L410.84 196.84 L414.01 199.05 L417.19 200.88 L420.36 202.33 L423.47 203.36 L426.5 203.97 L429.4 204.16 L432.16 203.91 L434.73 203.24Z" fill="#fff" stroke="#3a3a3a" stroke-width="0.98" fill-rule="evenodd"/>
<path d="M437.84 209.55 L438.56 209.15 L439.26 208.72 L439.94 208.26 L440.6 207.75 L441.23 207.22 L443.28 209.75 L447.56 204.15 L445.6 201.51 L446 200.69 L446.38 199.83 L446.74 198.95 L447.06 198.04 L447.36 197.1 L447.36 197.1 L447.69 195.94 L447.97 194.74 L448.21 193.51 L448.42 192.25 L448.58 190.96 L450.93 192.31 L451.09 185.26 L448.74 183.77 L448.65 182.32 L448.51 180.85 L448.33 179.36 L448.1 177.85 L447.84 176.34 L447.84 176.34 L447.51 174.67 L447.13 172.99 L446.7 171.3 L446.23 169.6 L445.71 167.9 L447.74 167.74 L445.3 161.12 L443.21 161.16 L442.48 159.46 L441.7 157.78 L440.89 156.11 L440.03 154.46 L439.14 152.82 L439.14 152.82 L438.21 151.19 L437.25 149.58 L436.25 148 L435.22 146.45 L434.16 144.92 L435.34 143.26 L431.01 137.69 L429.74 139.24 L428.55 137.88 L427.34 136.55 L426.11 135.27 L424.86 134.04 L423.6 132.85 L423.6 132.85 L422.42 131.78 L421.22 130.76 L420.02 129.79 L418.81 128.85 L417.59 127.96 L417.59 125.26 L411.56 121.59 L411.45 124.23 L410.22 123.63 L409 123.09 L407.79 122.6 L406.58 122.16 L405.38 121.78 L405.38 121.78 L404.39 121.49 L403.4 121.25 L402.42 121.05 L401.46 120.88 L400.5 120.75 L399.31 117.72 L392.27 118.06 L393.32 121.11 L392.49 121.33 L391.68 121.58 L390.89 121.87 L390.11 122.2 L389.36 122.57 L389.36 122.57 L388.64 122.97 L387.94 123.4 L387.26 123.86 L386.6 124.36 L385.97 124.9 L383.92 122.37 L379.64 127.97 L381.6 130.6 L381.2 131.43 L380.82 132.29 L380.46 133.17 L380.14 134.08 L379.84 135.02 L379.84 135.02 L379.51 136.18 L379.23 137.37 L378.99 138.61 L378.78 139.87 L378.62 141.16 L376.27 139.8 L376.11 146.86 L378.46 148.35 L378.55 149.8 L378.69 151.27 L378.87 152.76 L379.1 154.26 L379.36 155.78 L379.36 155.78 L379.69 157.45 L380.07 159.13 L380.5 160.82 L380.97 162.51 L381.49 164.22 L379.46 164.38 L381.9 171 L383.99 170.96 L384.72 172.65 L385.5 174.34 L386.31 176.01 L387.17 177.66 L388.06 179.3 L388.06 179.3 L388.99 180.93 L389.95 182.53 L390.95 184.12 L391.98 185.67 L393.04 187.2 L391.86 188.86 L396.19 194.43 L397.46 192.88 L398.65 194.24 L399.86 195.56 L401.09 196.84 L402.34 198.08 L403.6 199.27 L403.6 199.27 L404.78 200.33 L405.98 201.35 L407.18 202.33 L408.39 203.27 L409.61 204.15 L409.61 206.86 L415.64 210.53 L415.75 207.89 L416.98 208.48 L418.2 209.03 L419.41 209.52 L420.62 209.96 L421.82 210.34 L421.82 210.34 L422.81 210.62 L423.8 210.87 L424.78 211.07 L425.74 211.24 L426.7 211.37 L427.89 214.4 L434.93 214.05 L433.88 211.01 L434.71 210.79 L435.52 210.54 L436.31 210.25 L437.09 209.92 L437.84 209.55ZM435.1 203.3 L437.23 201.8 L439.1 199.9 L440.69 197.64 L441.99 195.03 L442.97 192.1 L443.63 188.89 L443.96 185.43 L443.96 181.75 L443.63 177.91 L442.97 173.93 L441.99 169.87 L440.69 165.76 L439.1 161.66 L437.23 157.61 L435.1 153.65 L432.73 149.82 L430.16 146.17 L427.4 142.75 L424.5 139.57 L421.47 136.69 L418.36 134.13 L415.19 131.92 L412.01 130.08 L408.84 128.64 L405.73 127.6 L402.7 126.99 L399.8 126.81 L397.04 127.05 L394.47 127.73 L392.1 128.82 L389.97 130.32 L388.1 132.21 L386.51 134.48 L385.21 137.09 L384.23 140.02 L383.57 143.23 L383.24 146.69 L383.24 150.37 L383.57 154.21 L384.23 158.19 L385.21 162.25 L386.51 166.36 L388.1 170.46 L389.97 174.51 L392.1 178.47 L394.47 182.3 L397.04 185.94 L399.8 189.37 L402.7 192.55 L405.73 195.43 L408.84 197.99 L412.01 200.2 L415.19 202.04 L418.36 203.48 L421.47 204.52 L424.5 205.13 L427.4 205.31 L430.16 205.07 L432.73 204.39Z" fill="#fff" stroke="#3a3a3a" stroke-width="1.1" fill-rule="evenodd"/>
<path d="M438.3 208.84 L435.3 203.64 M440.36 207.44 L437.11 202.41 M442.18 205.75 L438.71 200.93 M443.76 203.82 L440.1 199.23 M445.08 201.71 L441.26 197.38 M446.16 199.46 L442.21 195.41 M447.01 197.12 L442.95 193.35 M447.65 194.71 L443.52 191.23 M448.1 192.26 L443.91 189.08 M448.39 189.79 L444.16 186.91 M448.52 187.3 L444.28 184.72 M448.51 184.81 L444.27 182.53 M448.37 182.32 L444.15 180.34 M448.12 179.84 L443.93 178.17 M447.76 177.37 L443.61 176 M447.3 174.92 L443.21 173.85 M446.75 172.49 L442.73 171.71 M446.11 170.09 L442.16 169.6 M445.39 167.7 L441.53 167.5 M444.59 165.34 L440.83 165.43 M443.71 163.01 L440.06 163.38 M442.77 160.7 L439.22 161.35 M441.75 158.43 L438.33 159.36 M440.66 156.19 L437.38 157.38 M439.51 153.97 L436.37 155.44 M438.3 151.8 L435.3 153.53 M437.02 149.66 L434.18 151.65 M435.68 147.56 L433 149.8 M434.28 145.5 L431.77 147.99 M432.82 143.48 L430.49 146.22 M431.3 141.5 L429.15 144.49 M429.72 139.58 L427.76 142.8 M428.07 137.71 L426.32 141.15 M426.37 135.89 L424.82 139.55 M424.6 134.13 L423.27 138.01 M422.77 132.44 L421.66 136.52 M420.88 130.82 L420 135.1 M418.93 129.27 L418.28 133.74 M416.91 127.81 L416.5 132.46 M414.82 126.45 L414.67 131.26 M412.66 125.2 L412.78 130.16 M410.44 124.07 L410.83 129.17 M408.16 123.08 L408.82 128.3 M405.81 122.24 L406.76 127.56 M403.41 121.59 L404.64 126.99 M400.95 121.16 L402.49 126.61 M398.47 120.97 L400.31 126.45 M395.98 121.06 L398.12 126.52 M393.52 121.46 L395.96 126.88 M391.14 122.2 L393.87 127.53 M388.9 123.28 L391.9 128.47 M386.84 124.68 L390.09 129.71 M385.02 126.37 L388.49 131.19 M383.44 128.3 L387.1 132.89 M382.12 130.41 L385.94 134.74 M381.04 132.66 L384.99 136.71 M380.19 135 L384.25 138.77 M379.55 137.41 L383.68 140.89 M379.1 139.86 L383.29 143.04 M378.81 142.33 L383.04 145.21 M378.68 144.82 L382.92 147.4 M378.69 147.31 L382.93 149.59 M378.83 149.8 L383.05 151.77 M379.08 152.28 L383.27 153.95 M379.44 154.74 L383.59 156.12 M379.9 157.19 L383.99 158.27 M380.45 159.62 L384.47 160.41 M381.09 162.03 L385.04 162.52 M381.81 164.42 L385.67 164.62 M382.61 166.78 L386.37 166.69 M383.49 169.11 L387.14 168.74 M384.43 171.41 L387.98 170.76 M385.45 173.69 L388.87 172.76 M386.54 175.93 L389.82 174.73 M387.69 178.14 L390.83 176.68 M388.9 180.32 L391.9 178.59 M390.18 182.46 L393.02 180.47 M391.52 184.56 L394.2 182.31 M392.92 186.62 L395.43 184.12 M394.38 188.64 L396.71 185.9 M395.9 190.61 L398.05 187.63 M397.48 192.54 L399.44 189.32 M399.13 194.41 L400.88 190.97 M400.83 196.23 L402.38 192.57 M402.6 197.99 L403.93 194.11 M404.43 199.68 L405.54 195.6 M406.32 201.3 L407.2 197.02 M408.27 202.85 L408.92 198.38 M410.29 204.3 L410.7 199.66 M412.38 205.67 L412.53 200.86 M414.54 206.92 L414.42 201.96 M416.76 208.05 L416.37 202.95 M419.04 209.04 L418.38 203.82 M421.39 209.88 L420.44 204.55 M423.79 210.52 L422.56 205.12 M426.25 210.96 L424.71 205.51 M428.73 211.15 L426.89 205.67 M431.22 211.06 L429.08 205.59 M433.68 210.66 L431.24 205.24 M436.06 209.92 L433.33 204.59 " fill="none" stroke="#333" stroke-width="1.3" stroke-linecap="butt"/>
<path d="M438.5 209.19 A49.8 28.75 60 0 0 438.5 151.68 A49.8 28.75 60 0 0 388.7 122.93 A49.8 28.75 60 0 0 388.7 180.44 A49.8 28.75 60 0 0 438.5 209.19 Z" fill="none" stroke="#2e2e2e" stroke-width="1.37" />
<path d="M435.1 203.3 A43 24.83 60 0 0 435.1 153.65 A43 24.83 60 0 0 392.1 128.82 A43 24.83 60 0 0 392.1 178.47 A43 24.83 60 0 0 435.1 203.3 Z" fill="none" stroke="#2e2e2e" stroke-width="1.37" />
<path d="M425.85 216.49 A49.8 28.75 60 0 0 425.85 158.99 A49.8 28.75 60 0 0 376.05 130.23 A49.8 28.75 60 0 0 376.05 187.74 A49.8 28.75 60 0 0 425.85 216.49 ZM420.95 208 L421.85 207.44 L421.65 205.86 L421.39 204.28 L422.13 203.6 L423.4 204.25 L424.67 204.85 L425.36 203.96 L424.9 202.31 L424.39 200.68 L424.91 199.73 L426.13 200.05 L427.36 200.31 L427.79 199.15 L427.1 197.5 L426.36 195.89 L426.64 194.7 L427.77 194.69 L428.89 194.6 L429.06 193.21 L428.15 191.64 L427.22 190.12 L427.25 188.74 L428.24 188.39 L429.2 187.96 L429.1 186.4 L428.02 184.98 L426.93 183.61 L426.71 182.11 L427.51 181.44 L428.27 180.68 L427.9 179.03 L426.71 177.81 L425.51 176.66 L425.05 175.1 L425.62 174.13 L426.15 173.09 L425.53 171.4 L424.27 170.44 L423.01 169.56 L422.33 168.01 L422.66 166.79 L422.93 165.5 L422.09 163.87 L420.81 163.2 L419.55 162.62 L418.67 161.15 L418.74 159.73 L418.75 158.26 L417.72 156.74 L416.48 156.41 L415.28 156.16 L414.25 154.83 L414.05 153.28 L413.79 151.68 L412.62 150.35 L411.47 150.36 L410.38 150.45 L409.24 149.32 L408.78 147.7 L408.27 146.04 L407 144.96 L406.01 145.31 L405.06 145.74 L403.86 144.86 L403.18 143.24 L402.43 141.6 L401.13 140.81 L400.32 141.49 L399.57 142.24 L398.36 141.64 L397.47 140.09 L396.53 138.55 L395.24 138.08 L394.66 139.06 L394.14 140.09 L392.98 139.82 L391.92 138.41 L390.81 137.02 L389.61 136.9 L389.28 138.13 L389.01 139.4 L387.94 139.45 L386.76 138.25 L385.55 137.08 L384.47 137.3 L384.4 138.74 L384.4 140.2 L383.47 140.57 L382.22 139.62 L380.95 138.72 L380.05 139.29 L380.25 140.87 L380.51 142.45 L379.77 143.13 L378.5 142.47 L377.23 141.88 L376.54 142.76 L377 144.41 L377.51 146.04 L376.99 147 L375.77 146.67 L374.54 146.41 L374.11 147.58 L374.8 149.22 L375.54 150.83 L375.26 152.03 L374.13 152.04 L373.01 152.12 L372.84 153.52 L373.75 155.09 L374.68 156.61 L374.65 157.99 L373.66 158.33 L372.7 158.76 L372.8 160.32 L373.88 161.75 L374.97 163.11 L375.19 164.62 L374.39 165.29 L373.63 166.04 L374 167.7 L375.19 168.92 L376.39 170.07 L376.85 171.63 L376.28 172.6 L375.75 173.64 L376.37 175.32 L377.63 176.28 L378.89 177.17 L379.57 178.72 L379.24 179.94 L378.97 181.23 L379.81 182.86 L381.09 183.52 L382.35 184.1 L383.23 185.57 L383.16 186.99 L383.15 188.47 L384.18 189.98 L385.42 190.31 L386.62 190.56 L387.65 191.9 L387.85 193.45 L388.11 195.05 L389.28 196.38 L390.43 196.37 L391.52 196.28 L392.66 197.41 L393.12 199.03 L393.63 200.68 L394.9 201.77 L395.89 201.41 L396.84 200.99 L398.04 201.87 L398.72 203.49 L399.47 205.12 L400.77 205.92 L401.58 205.23 L402.33 204.49 L403.54 205.08 L404.43 206.63 L405.37 208.17 L406.66 208.65 L407.24 207.66 L407.76 206.63 L408.92 206.91 L409.98 208.32 L411.09 209.71 L412.29 209.83 L412.62 208.59 L412.89 207.32 L413.96 207.27 L415.14 208.48 L416.35 209.65 L417.43 209.42 L417.5 207.98 L417.5 206.52 L418.43 206.15 L419.68 207.1Z" fill="#fff" stroke="#3a3a3a" stroke-width="0.98" fill-rule="evenodd"/>
<path d="M424.65 217.18 A49.8 28.75 60 0 0 424.65 159.68 A49.8 28.75 60 0 0 374.85 130.93 A49.8 28.75 60 0 0 374.85 188.43 A49.8 28.75 60 0 0 424.65 217.18 ZM419.75 208.7 L420.65 208.13 L420.45 206.55 L420.19 204.97 L420.93 204.29 L422.2 204.95 L423.47 205.54 L424.16 204.65 L423.7 203.01 L423.19 201.38 L423.71 200.42 L424.93 200.75 L426.16 201.01 L426.59 199.84 L425.9 198.2 L425.16 196.59 L425.44 195.39 L426.57 195.38 L427.69 195.29 L427.86 193.9 L426.95 192.33 L426.02 190.81 L426.05 189.43 L427.04 189.08 L428 188.65 L427.9 187.1 L426.82 185.67 L425.73 184.3 L425.51 182.8 L426.31 182.13 L427.07 181.38 L426.7 179.72 L425.51 178.5 L424.31 177.35 L423.85 175.79 L424.42 174.82 L424.95 173.78 L424.33 172.1 L423.07 171.13 L421.81 170.25 L421.13 168.7 L421.46 167.48 L421.73 166.19 L420.89 164.56 L419.61 163.9 L418.35 163.32 L417.47 161.84 L417.54 160.43 L417.55 158.95 L416.52 157.44 L415.28 157.1 L414.08 156.85 L413.05 155.52 L412.85 153.97 L412.59 152.37 L411.42 151.04 L410.27 151.05 L409.18 151.14 L408.04 150.01 L407.58 148.39 L407.07 146.73 L405.8 145.65 L404.81 146.01 L403.86 146.43 L402.66 145.55 L401.98 143.93 L401.23 142.3 L399.93 141.5 L399.12 142.18 L398.37 142.93 L397.16 142.34 L396.27 140.79 L395.33 139.24 L394.04 138.77 L393.46 139.76 L392.94 140.79 L391.78 140.51 L390.72 139.1 L389.61 137.71 L388.41 137.59 L388.08 138.83 L387.81 140.1 L386.74 140.15 L385.56 138.94 L384.35 137.77 L383.27 138 L383.2 139.44 L383.2 140.89 L382.27 141.27 L381.02 140.31 L379.75 139.41 L378.85 139.98 L379.05 141.56 L379.31 143.14 L378.57 143.82 L377.3 143.16 L376.03 142.57 L375.34 143.46 L375.8 145.1 L376.31 146.73 L375.79 147.69 L374.57 147.36 L373.34 147.11 L372.91 148.27 L373.6 149.91 L374.34 151.52 L374.06 152.72 L372.93 152.73 L371.81 152.82 L371.64 154.21 L372.55 155.78 L373.48 157.3 L373.45 158.68 L372.46 159.03 L371.5 159.46 L371.6 161.01 L372.68 162.44 L373.77 163.81 L373.99 165.31 L373.19 165.98 L372.43 166.73 L372.8 168.39 L373.99 169.61 L375.19 170.76 L375.65 172.32 L375.08 173.29 L374.55 174.33 L375.17 176.01 L376.43 176.98 L377.69 177.86 L378.37 179.41 L378.04 180.63 L377.77 181.92 L378.61 183.55 L379.89 184.21 L381.15 184.79 L382.03 186.27 L381.96 187.68 L381.95 189.16 L382.98 190.68 L384.22 191.01 L385.42 191.26 L386.45 192.59 L386.65 194.14 L386.91 195.74 L388.08 197.07 L389.23 197.06 L390.32 196.97 L391.46 198.1 L391.92 199.72 L392.43 201.38 L393.7 202.46 L394.69 202.11 L395.64 201.68 L396.84 202.56 L397.52 204.18 L398.27 205.82 L399.57 206.61 L400.38 205.93 L401.13 205.18 L402.34 205.77 L403.23 207.32 L404.17 208.87 L405.46 209.34 L406.04 208.35 L406.56 207.32 L407.72 207.6 L408.78 209.01 L409.89 210.4 L411.09 210.52 L411.42 209.28 L411.69 208.01 L412.76 207.97 L413.94 209.17 L415.15 210.34 L416.23 210.11 L416.3 208.67 L416.3 207.22 L417.23 206.85 L418.48 207.8Z" fill="#fff" stroke="#3a3a3a" stroke-width="0.98" fill-rule="evenodd"/>
<path d="M412.14 224.39 L412.86 223.99 L413.56 223.56 L414.24 223.09 L414.9 222.59 L415.53 222.06 L417.58 224.59 L421.86 218.99 L419.9 216.35 L420.3 215.53 L420.68 214.67 L421.04 213.79 L421.36 212.88 L421.66 211.94 L421.66 211.94 L421.99 210.78 L422.27 209.58 L422.51 208.35 L422.72 207.09 L422.88 205.79 L425.23 207.15 L425.39 200.1 L423.04 198.61 L422.95 197.15 L422.81 195.68 L422.63 194.2 L422.4 192.69 L422.14 191.17 L422.14 191.17 L421.81 189.51 L421.43 187.83 L421 186.14 L420.53 184.44 L420.01 182.74 L422.04 182.57 L419.6 175.95 L417.51 175.99 L416.78 174.3 L416 172.62 L415.19 170.95 L414.33 169.29 L413.44 167.65 L413.44 167.65 L412.51 166.03 L411.55 164.42 L410.55 162.84 L409.52 161.28 L408.46 159.75 L409.64 158.1 L405.31 152.53 L404.04 154.08 L402.85 152.71 L401.64 151.39 L400.41 150.11 L399.16 148.88 L397.9 147.68 L397.9 147.68 L396.72 146.62 L395.52 145.6 L394.32 144.62 L393.11 143.69 L391.89 142.8 L391.89 140.09 L385.86 136.43 L385.75 139.07 L384.52 138.47 L383.3 137.93 L382.09 137.44 L380.88 137 L379.68 136.61 L379.68 136.61 L378.69 136.33 L377.7 136.09 L376.72 135.89 L375.76 135.72 L374.8 135.59 L373.61 132.55 L366.57 132.9 L367.62 135.95 L366.79 136.16 L365.98 136.42 L365.19 136.71 L364.41 137.04 L363.66 137.41 L363.66 137.41 L362.94 137.8 L362.24 138.24 L361.56 138.7 L360.9 139.2 L360.27 139.74 L358.22 137.21 L353.94 142.81 L355.9 145.44 L355.5 146.27 L355.12 147.12 L354.76 148.01 L354.44 148.92 L354.14 149.86 L354.14 149.86 L353.81 151.02 L353.53 152.21 L353.29 153.44 L353.08 154.71 L352.92 156 L350.57 154.64 L350.41 161.7 L352.76 163.19 L352.85 164.64 L352.99 166.11 L353.17 167.6 L353.4 169.1 L353.66 170.62 L353.66 170.62 L353.99 172.29 L354.37 173.97 L354.8 175.66 L355.27 177.35 L355.79 179.05 L353.76 179.22 L356.2 185.84 L358.29 185.8 L359.02 187.49 L359.8 189.17 L360.61 190.84 L361.47 192.5 L362.36 194.14 L362.36 194.14 L363.29 195.77 L364.25 197.37 L365.25 198.95 L366.28 200.51 L367.34 202.04 L366.16 203.69 L370.49 209.26 L371.76 207.72 L372.95 209.08 L374.16 210.4 L375.39 211.68 L376.64 212.92 L377.9 214.11 L377.9 214.11 L379.08 215.17 L380.28 216.19 L381.48 217.17 L382.69 218.1 L383.91 218.99 L383.91 221.7 L389.94 225.36 L390.05 222.73 L391.28 223.32 L392.5 223.87 L393.71 224.36 L394.92 224.8 L396.12 225.18 L396.12 225.18 L397.11 225.46 L398.1 225.7 L399.08 225.91 L400.04 226.08 L401 226.2 L402.19 229.24 L409.23 228.89 L408.18 225.85 L409.01 225.63 L409.82 225.38 L410.61 225.08 L411.39 224.75 L412.14 224.39ZM409.4 218.14 L411.53 216.63 L413.4 214.74 L414.99 212.48 L416.29 209.87 L417.27 206.94 L417.93 203.73 L418.26 200.27 L418.26 196.59 L417.93 192.74 L417.27 188.77 L416.29 184.7 L414.99 180.6 L413.4 176.5 L411.53 172.44 L409.4 168.48 L407.03 164.66 L404.46 161.01 L401.7 157.58 L398.8 154.41 L395.77 151.53 L392.66 148.97 L389.49 146.75 L386.31 144.92 L383.14 143.47 L380.03 142.44 L377 141.83 L374.1 141.64 L371.34 141.89 L368.77 142.56 L366.4 143.66 L364.27 145.16 L362.4 147.05 L360.81 149.32 L359.51 151.93 L358.53 154.85 L357.87 158.07 L357.54 161.53 L357.54 165.2 L357.87 169.05 L358.53 173.03 L359.51 177.09 L360.81 181.2 L362.4 185.3 L364.27 189.35 L366.4 193.31 L368.77 197.13 L371.34 200.78 L374.1 204.21 L377 207.38 L380.03 210.27 L383.14 212.83 L386.31 215.04 L389.49 216.88 L392.66 218.32 L395.77 219.35 L398.8 219.97 L401.7 220.15 L404.46 219.9 L407.03 219.23Z" fill="#fff" stroke="#3a3a3a" stroke-width="0.98" fill-rule="evenodd"/>
<path d="M410.14 225.54 L410.86 225.15 L411.56 224.71 L412.24 224.25 L412.9 223.75 L413.53 223.21 L415.58 225.74 L419.86 220.14 L417.9 217.51 L418.3 216.68 L418.68 215.82 L419.04 214.94 L419.36 214.03 L419.66 213.09 L419.66 213.09 L419.99 211.93 L420.27 210.74 L420.51 209.51 L420.72 208.24 L420.88 206.95 L423.23 208.31 L423.39 201.25 L421.04 199.76 L420.95 198.31 L420.81 196.84 L420.63 195.35 L420.4 193.85 L420.14 192.33 L420.14 192.33 L419.81 190.66 L419.43 188.98 L419 187.29 L418.53 185.6 L418.01 183.89 L420.04 183.73 L417.6 177.11 L415.51 177.15 L414.78 175.46 L414 173.78 L413.19 172.11 L412.33 170.45 L411.44 168.81 L411.44 168.81 L410.51 167.18 L409.55 165.58 L408.55 163.99 L407.52 162.44 L406.46 160.91 L407.64 159.26 L403.31 153.69 L402.04 155.23 L400.85 153.87 L399.64 152.55 L398.41 151.27 L397.16 150.03 L395.9 148.84 L395.9 148.84 L394.72 147.78 L393.52 146.76 L392.32 145.78 L391.11 144.84 L389.89 143.96 L389.89 141.25 L383.86 137.58 L383.75 140.22 L382.52 139.63 L381.3 139.08 L380.09 138.59 L378.88 138.15 L377.68 137.77 L377.68 137.77 L376.69 137.49 L375.7 137.24 L374.72 137.04 L373.76 136.87 L372.8 136.75 L371.61 133.71 L364.57 134.06 L365.62 137.1 L364.79 137.32 L363.98 137.57 L363.19 137.87 L362.41 138.2 L361.66 138.56 L361.66 138.56 L360.94 138.96 L360.24 139.39 L359.56 139.86 L358.9 140.36 L358.27 140.89 L356.22 138.36 L351.94 143.96 L353.9 146.6 L353.5 147.42 L353.12 148.28 L352.76 149.16 L352.44 150.07 L352.14 151.01 L352.14 151.01 L351.81 152.17 L351.53 153.37 L351.29 154.6 L351.08 155.86 L350.92 157.16 L348.57 155.8 L348.41 162.85 L350.76 164.34 L350.85 165.8 L350.99 167.27 L351.17 168.75 L351.4 170.26 L351.66 171.78 L351.66 171.78 L351.99 173.44 L352.37 175.12 L352.8 176.81 L353.27 178.51 L353.79 180.21 L351.76 180.38 L354.2 186.99 L356.29 186.96 L357.02 188.65 L357.8 190.33 L358.61 192 L359.47 193.65 L360.36 195.29 L360.36 195.29 L361.29 196.92 L362.25 198.53 L363.25 200.11 L364.28 201.67 L365.34 203.2 L364.16 204.85 L368.49 210.42 L369.76 208.87 L370.95 210.23 L372.16 211.56 L373.39 212.84 L374.64 214.07 L375.9 215.26 L375.9 215.26 L377.08 216.33 L378.28 217.35 L379.48 218.33 L380.69 219.26 L381.91 220.15 L381.91 222.86 L387.94 226.52 L388.05 223.88 L389.28 224.48 L390.5 225.02 L391.71 225.51 L392.92 225.95 L394.12 226.34 L394.12 226.34 L395.11 226.62 L396.1 226.86 L397.08 227.06 L398.04 227.23 L399 227.36 L400.19 230.4 L407.23 230.05 L406.18 227 L407.01 226.79 L407.82 226.53 L408.61 226.24 L409.39 225.91 L410.14 225.54ZM407.4 219.29 L409.53 217.79 L411.4 215.9 L412.99 213.63 L414.29 211.02 L415.27 208.1 L415.93 204.88 L416.26 201.42 L416.26 197.74 L415.93 193.9 L415.27 189.92 L414.29 185.86 L412.99 181.75 L411.4 177.65 L409.53 173.6 L407.4 169.64 L405.03 165.81 L402.46 162.17 L399.7 158.74 L396.8 155.57 L393.77 152.68 L390.66 150.12 L387.49 147.91 L384.31 146.07 L381.14 144.63 L378.03 143.6 L375 142.98 L372.1 142.8 L369.34 143.05 L366.77 143.72 L364.4 144.81 L362.27 146.31 L360.4 148.21 L358.81 150.47 L357.51 153.08 L356.53 156.01 L355.87 159.22 L355.54 162.68 L355.54 166.36 L355.87 170.21 L356.53 174.18 L357.51 178.25 L358.81 182.35 L360.4 186.45 L362.27 190.5 L364.4 194.46 L366.77 198.29 L369.34 201.94 L372.1 205.36 L375 208.54 L378.03 211.42 L381.14 213.98 L384.31 216.19 L387.49 218.03 L390.66 219.48 L393.77 220.51 L396.8 221.12 L399.7 221.3 L402.46 221.06 L405.03 220.38Z" fill="#fff" stroke="#3a3a3a" stroke-width="1.1" fill-rule="evenodd"/>
<path d="M410.6 224.83 L407.6 219.64 M412.66 223.43 L409.41 218.4 M414.48 221.74 L411.01 216.92 M416.06 219.81 L412.4 215.23 M417.38 217.7 L413.56 213.37 M418.46 215.46 L414.51 211.4 M419.31 213.11 L415.25 209.34 M419.95 210.71 L415.82 207.23 M420.4 208.26 L416.21 205.07 M420.69 205.78 L416.46 202.9 M420.82 203.29 L416.58 200.71 M420.81 200.8 L416.57 198.52 M420.67 198.31 L416.45 196.34 M420.42 195.83 L416.23 194.16 M420.06 193.37 L415.91 191.99 M419.6 190.92 L415.51 189.84 M419.05 188.49 L415.03 187.71 M418.41 186.08 L414.46 185.59 M417.69 183.69 L413.83 183.49 M416.89 181.33 L413.13 181.42 M416.01 179 L412.36 179.37 M415.07 176.7 L411.52 177.35 M414.05 174.42 L410.63 175.35 M412.96 172.18 L409.68 173.38 M411.81 169.97 L408.67 171.44 M410.6 167.79 L407.6 169.52 M409.32 165.65 L406.48 167.64 M407.98 163.55 L405.3 165.8 M406.58 161.49 L404.07 163.99 M405.12 159.47 L402.79 162.21 M403.6 157.5 L401.45 160.48 M402.02 155.57 L400.06 158.79 M400.37 153.7 L398.62 157.14 M398.67 151.88 L397.12 155.55 M396.9 150.12 L395.57 154 M395.07 148.43 L393.96 152.51 M393.18 146.81 L392.3 151.09 M391.23 145.26 L390.58 149.73 M389.21 143.81 L388.8 148.45 M387.12 142.44 L386.97 147.26 M384.96 141.19 L385.08 146.15 M382.74 140.06 L383.13 145.16 M380.46 139.07 L381.12 144.29 M378.11 138.24 L379.06 143.56 M375.71 137.59 L376.94 142.99 M373.25 137.15 L374.79 142.6 M370.77 136.96 L372.61 142.44 M368.28 137.05 L370.42 142.52 M365.82 137.45 L368.26 142.87 M363.44 138.19 L366.17 143.52 M361.2 139.27 L364.2 144.47 M359.14 140.67 L362.39 145.7 M357.32 142.36 L360.79 147.18 M355.74 144.29 L359.4 148.88 M354.42 146.4 L358.24 150.73 M353.34 148.65 L357.29 152.71 M352.49 150.99 L356.55 154.76 M351.85 153.4 L355.98 156.88 M351.4 155.85 L355.59 159.03 M351.11 158.32 L355.34 161.21 M350.98 160.81 L355.22 163.39 M350.99 163.3 L355.23 165.58 M351.13 165.79 L355.35 167.77 M351.38 168.27 L355.57 169.94 M351.74 170.74 L355.89 172.11 M352.2 173.19 L356.29 174.26 M352.75 175.62 L356.77 176.4 M353.39 178.02 L357.34 178.51 M354.11 180.41 L357.97 180.61 M354.91 182.77 L358.67 182.68 M355.79 185.1 L359.44 184.73 M356.73 187.41 L360.28 186.76 M357.75 189.68 L361.17 188.76 M358.84 191.93 L362.12 190.73 M359.99 194.14 L363.13 192.67 M361.2 196.31 L364.2 194.58 M362.48 198.45 L365.32 196.46 M363.82 200.55 L366.5 198.31 M365.22 202.61 L367.73 200.12 M366.68 204.63 L369.01 201.89 M368.2 206.61 L370.35 203.62 M369.78 208.53 L371.74 205.32 M371.43 210.4 L373.18 206.96 M373.13 212.22 L374.68 208.56 M374.9 213.98 L376.23 210.1 M376.73 215.67 L377.84 211.59 M378.62 217.3 L379.5 213.02 M380.57 218.84 L381.22 214.37 M382.59 220.3 L383 215.65 M384.68 221.66 L384.83 216.85 M386.84 222.91 L386.72 217.95 M389.06 224.04 L388.67 218.94 M391.34 225.04 L390.68 219.82 M393.69 225.87 L392.74 220.55 M396.09 226.52 L394.86 221.12 M398.55 226.95 L397.01 221.5 M401.03 227.14 L399.19 221.67 M403.52 227.05 L401.38 221.59 M405.98 226.65 L403.54 221.23 M408.36 225.91 L405.63 220.59 " fill="none" stroke="#333" stroke-width="1.3" stroke-linecap="butt"/>
<path d="M410.8 225.18 A49.8 28.75 60 0 0 410.8 167.68 A49.8 28.75 60 0 0 361 138.92 A49.8 28.75 60 0 0 361 196.43 A49.8 28.75 60 0 0 410.8 225.18 Z" fill="none" stroke="#2e2e2e" stroke-width="1.37" />
<path d="M407.4 219.29 A43 24.83 60 0 0 407.4 169.64 A43 24.83 60 0 0 364.4 144.81 A43 24.83 60 0 0 364.4 194.46 A43 24.83 60 0 0 407.4 219.29 Z" fill="none" stroke="#2e2e2e" stroke-width="1.37" />
<path d="M398.15 232.48 A49.8 28.75 60 0 0 398.15 174.98 A49.8 28.75 60 0 0 348.35 146.23 A49.8 28.75 60 0 0 348.35 203.73 A49.8 28.75 60 0 0 398.15 232.48 ZM393.25 224 L394.15 223.43 L393.95 221.85 L393.69 220.27 L394.43 219.59 L395.7 220.25 L396.97 220.84 L397.66 219.95 L397.2 218.31 L396.69 216.68 L397.21 215.72 L398.43 216.05 L399.66 216.3 L400.09 215.14 L399.4 213.5 L398.66 211.89 L398.94 210.69 L400.07 210.68 L401.19 210.59 L401.36 209.2 L400.45 207.63 L399.52 206.11 L399.55 204.73 L400.54 204.38 L401.5 203.95 L401.4 202.4 L400.32 200.97 L399.23 199.6 L399.01 198.1 L399.81 197.43 L400.57 196.68 L400.2 195.02 L399.01 193.8 L397.81 192.65 L397.35 191.09 L397.92 190.12 L398.45 189.08 L397.83 187.4 L396.57 186.43 L395.31 185.55 L394.63 184 L394.96 182.78 L395.23 181.49 L394.39 179.86 L393.11 179.2 L391.85 178.62 L390.97 177.14 L391.04 175.73 L391.05 174.25 L390.02 172.74 L388.78 172.4 L387.58 172.15 L386.55 170.82 L386.35 169.27 L386.09 167.67 L384.92 166.34 L383.77 166.35 L382.68 166.44 L381.54 165.31 L381.08 163.69 L380.57 162.03 L379.3 160.95 L378.31 161.3 L377.36 161.73 L376.16 160.85 L375.48 159.23 L374.73 157.59 L373.43 156.8 L372.62 157.48 L371.87 158.23 L370.66 157.64 L369.77 156.09 L368.83 154.54 L367.54 154.07 L366.96 155.06 L366.44 156.09 L365.28 155.81 L364.22 154.4 L363.11 153.01 L361.91 152.89 L361.58 154.13 L361.31 155.4 L360.24 155.45 L359.06 154.24 L357.85 153.07 L356.77 153.3 L356.7 154.74 L356.7 156.19 L355.77 156.57 L354.52 155.61 L353.25 154.71 L352.35 155.28 L352.55 156.86 L352.81 158.44 L352.07 159.12 L350.8 158.46 L349.53 157.87 L348.84 158.76 L349.3 160.4 L349.81 162.03 L349.29 162.99 L348.07 162.66 L346.84 162.41 L346.41 163.57 L347.1 165.21 L347.84 166.82 L347.56 168.02 L346.43 168.03 L345.31 168.12 L345.14 169.51 L346.05 171.08 L346.98 172.6 L346.95 173.98 L345.96 174.33 L345 174.76 L345.1 176.31 L346.18 177.74 L347.27 179.11 L347.49 180.61 L346.69 181.28 L345.93 182.03 L346.3 183.69 L347.49 184.91 L348.69 186.06 L349.15 187.62 L348.58 188.59 L348.05 189.63 L348.67 191.31 L349.93 192.28 L351.19 193.16 L351.87 194.71 L351.54 195.93 L351.27 197.22 L352.11 198.85 L353.39 199.51 L354.65 200.09 L355.53 201.57 L355.46 202.98 L355.45 204.46 L356.48 205.98 L357.72 206.31 L358.92 206.56 L359.95 207.89 L360.15 209.44 L360.41 211.04 L361.58 212.37 L362.73 212.36 L363.82 212.27 L364.96 213.4 L365.42 215.02 L365.93 216.68 L367.2 217.76 L368.19 217.41 L369.14 216.98 L370.34 217.86 L371.02 219.48 L371.77 221.12 L373.07 221.91 L373.88 221.23 L374.63 220.48 L375.84 221.07 L376.73 222.62 L377.67 224.17 L378.96 224.64 L379.54 223.65 L380.06 222.62 L381.22 222.9 L382.28 224.31 L383.39 225.7 L384.59 225.82 L384.92 224.58 L385.19 223.31 L386.26 223.27 L387.44 224.47 L388.65 225.64 L389.73 225.41 L389.8 223.97 L389.8 222.52 L390.73 222.15 L391.98 223.1Z" fill="#fff" stroke="#3a3a3a" stroke-width="0.98" fill-rule="evenodd"/>
<path d="M396.95 233.18 A49.8 28.75 60 0 0 396.95 175.67 A49.8 28.75 60 0 0 347.15 146.92 A49.8 28.75 60 0 0 347.15 204.42 A49.8 28.75 60 0 0 396.95 233.18 ZM392.05 224.69 L392.95 224.12 L392.75 222.54 L392.49 220.97 L393.23 220.29 L394.5 220.94 L395.77 221.53 L396.46 220.65 L396 219 L395.49 217.37 L396.01 216.41 L397.23 216.74 L398.46 217 L398.89 215.83 L398.2 214.19 L397.46 212.58 L397.74 211.38 L398.87 211.37 L399.99 211.29 L400.16 209.9 L399.25 208.33 L398.32 206.8 L398.35 205.43 L399.34 205.08 L400.3 204.65 L400.2 203.09 L399.12 201.66 L398.03 200.3 L397.81 198.79 L398.61 198.12 L399.37 197.37 L399 195.71 L397.81 194.49 L396.61 193.34 L396.15 191.78 L396.72 190.81 L397.25 189.77 L396.63 188.09 L395.37 187.13 L394.11 186.24 L393.43 184.69 L393.76 183.47 L394.03 182.19 L393.19 180.55 L391.91 179.89 L390.65 179.31 L389.77 177.84 L389.84 176.42 L389.85 174.94 L388.82 173.43 L387.58 173.1 L386.38 172.85 L385.35 171.52 L385.15 169.96 L384.89 168.36 L383.72 167.03 L382.57 167.04 L381.48 167.13 L380.34 166 L379.88 164.38 L379.37 162.73 L378.1 161.64 L377.11 162 L376.16 162.42 L374.96 161.54 L374.28 159.92 L373.53 158.29 L372.23 157.49 L371.42 158.18 L370.67 158.92 L369.46 158.33 L368.57 156.78 L367.63 155.24 L366.34 154.77 L365.76 155.75 L365.24 156.78 L364.08 156.5 L363.02 155.09 L361.91 153.71 L360.71 153.58 L360.38 154.82 L360.11 156.09 L359.04 156.14 L357.86 154.93 L356.65 153.76 L355.57 153.99 L355.5 155.43 L355.5 156.89 L354.57 157.26 L353.32 156.31 L352.05 155.41 L351.15 155.98 L351.35 157.55 L351.61 159.13 L350.87 159.81 L349.6 159.16 L348.33 158.56 L347.64 159.45 L348.1 161.1 L348.61 162.73 L348.09 163.69 L346.87 163.36 L345.64 163.1 L345.21 164.26 L345.9 165.91 L346.64 167.52 L346.36 168.71 L345.23 168.72 L344.11 168.81 L343.94 170.2 L344.85 171.77 L345.78 173.29 L345.75 174.67 L344.76 175.02 L343.8 175.45 L343.9 177.01 L344.98 178.43 L346.07 179.8 L346.29 181.3 L345.49 181.97 L344.73 182.73 L345.1 184.38 L346.29 185.6 L347.49 186.75 L347.95 188.32 L347.38 189.28 L346.85 190.33 L347.47 192.01 L348.73 192.97 L349.99 193.85 L350.67 195.4 L350.34 196.62 L350.07 197.91 L350.91 199.54 L352.19 200.21 L353.45 200.79 L354.33 202.26 L354.26 203.68 L354.25 205.15 L355.28 206.67 L356.52 207 L357.72 207.25 L358.75 208.58 L358.95 210.14 L359.21 211.73 L360.38 213.06 L361.53 213.05 L362.62 212.96 L363.76 214.09 L364.22 215.72 L364.73 217.37 L366 218.46 L366.99 218.1 L367.94 217.67 L369.14 218.55 L369.82 220.17 L370.57 221.81 L371.87 222.6 L372.68 221.92 L373.43 221.17 L374.64 221.77 L375.53 223.32 L376.47 224.86 L377.76 225.33 L378.34 224.35 L378.86 223.32 L380.02 223.6 L381.08 225 L382.19 226.39 L383.39 226.52 L383.72 225.28 L383.99 224.01 L385.06 223.96 L386.24 225.16 L387.45 226.33 L388.53 226.11 L388.6 224.67 L388.6 223.21 L389.53 222.84 L390.78 223.79Z" fill="#fff" stroke="#3a3a3a" stroke-width="0.98" fill-rule="evenodd"/>
<path d="M384.44 240.38 L385.16 239.98 L385.86 239.55 L386.54 239.09 L387.2 238.58 L387.83 238.05 L389.88 240.58 L394.16 234.98 L392.2 232.35 L392.6 231.52 L392.98 230.66 L393.34 229.78 L393.66 228.87 L393.96 227.93 L393.96 227.93 L394.29 226.77 L394.57 225.57 L394.81 224.34 L395.02 223.08 L395.18 221.79 L397.53 223.14 L397.69 216.09 L395.34 214.6 L395.25 213.15 L395.11 211.68 L394.93 210.19 L394.7 208.68 L394.44 207.17 L394.44 207.17 L394.11 205.5 L393.73 203.82 L393.3 202.13 L392.83 200.43 L392.31 198.73 L394.34 198.57 L391.9 191.95 L389.81 191.99 L389.08 190.29 L388.3 188.61 L387.49 186.94 L386.63 185.29 L385.74 183.65 L385.74 183.65 L384.81 182.02 L383.85 180.41 L382.85 178.83 L381.82 177.28 L380.76 175.75 L381.94 174.09 L377.61 168.52 L376.34 170.07 L375.15 168.71 L373.94 167.39 L372.71 166.11 L371.46 164.87 L370.2 163.68 L370.2 163.68 L369.02 162.61 L367.82 161.59 L366.62 160.62 L365.41 159.68 L364.19 158.79 L364.19 156.09 L358.16 152.42 L358.05 155.06 L356.82 154.46 L355.6 153.92 L354.39 153.43 L353.18 152.99 L351.98 152.61 L351.98 152.61 L350.99 152.33 L350 152.08 L349.02 151.88 L348.06 151.71 L347.1 151.58 L345.91 148.55 L338.87 148.89 L339.92 151.94 L339.09 152.16 L338.28 152.41 L337.49 152.7 L336.71 153.03 L335.96 153.4 L335.96 153.4 L335.24 153.8 L334.54 154.23 L333.86 154.69 L333.2 155.19 L332.57 155.73 L330.52 153.2 L326.24 158.8 L328.2 161.43 L327.8 162.26 L327.42 163.12 L327.06 164 L326.74 164.91 L326.44 165.85 L326.44 165.85 L326.11 167.01 L325.83 168.21 L325.59 169.44 L325.38 170.7 L325.22 171.99 L322.87 170.64 L322.71 177.69 L325.06 179.18 L325.15 180.63 L325.29 182.1 L325.47 183.59 L325.7 185.1 L325.96 186.61 L325.96 186.61 L326.29 188.28 L326.67 189.96 L327.1 191.65 L327.57 193.35 L328.09 195.05 L326.06 195.21 L328.5 201.83 L330.59 201.79 L331.32 203.48 L332.1 205.17 L332.91 206.84 L333.77 208.49 L334.66 210.13 L334.66 210.13 L335.59 211.76 L336.55 213.36 L337.55 214.95 L338.58 216.5 L339.64 218.03 L338.46 219.69 L342.79 225.26 L344.06 223.71 L345.25 225.07 L346.46 226.39 L347.69 227.67 L348.94 228.91 L350.2 230.1 L350.2 230.1 L351.38 231.16 L352.58 232.19 L353.78 233.16 L354.99 234.1 L356.21 234.99 L356.21 237.69 L362.24 241.36 L362.35 238.72 L363.58 239.31 L364.8 239.86 L366.01 240.35 L367.22 240.79 L368.42 241.17 L368.42 241.17 L369.41 241.45 L370.4 241.7 L371.38 241.9 L372.34 242.07 L373.3 242.2 L374.49 245.23 L381.53 244.88 L380.48 241.84 L381.31 241.62 L382.12 241.37 L382.91 241.08 L383.69 240.75 L384.44 240.38ZM381.7 234.13 L383.83 232.63 L385.7 230.73 L387.29 228.47 L388.59 225.86 L389.57 222.93 L390.23 219.72 L390.56 216.26 L390.56 212.58 L390.23 208.74 L389.57 204.76 L388.59 200.7 L387.29 196.59 L385.7 192.49 L383.83 188.44 L381.7 184.48 L379.33 180.65 L376.76 177.01 L374 173.58 L371.1 170.4 L368.07 167.52 L364.96 164.96 L361.79 162.75 L358.61 160.91 L355.44 159.47 L352.33 158.43 L349.3 157.82 L346.4 157.64 L343.64 157.88 L341.07 158.56 L338.7 159.65 L336.57 161.15 L334.7 163.05 L333.11 165.31 L331.81 167.92 L330.83 170.85 L330.17 174.06 L329.84 177.52 L329.84 181.2 L330.17 185.04 L330.83 189.02 L331.81 193.08 L333.11 197.19 L334.7 201.29 L336.57 205.34 L338.7 209.3 L341.07 213.13 L343.64 216.77 L346.4 220.2 L349.3 223.38 L352.33 226.26 L355.44 228.82 L358.61 231.03 L361.79 232.87 L364.96 234.31 L368.07 235.35 L371.1 235.96 L374 236.14 L376.76 235.9 L379.33 235.22Z" fill="#fff" stroke="#3a3a3a" stroke-width="0.98" fill-rule="evenodd"/>
<path d="M382.44 241.53 L383.16 241.14 L383.86 240.71 L384.54 240.24 L385.2 239.74 L385.83 239.2 L387.88 241.73 L392.16 236.14 L390.2 233.5 L390.6 232.67 L390.98 231.82 L391.34 230.93 L391.66 230.02 L391.96 229.09 L391.96 229.09 L392.29 227.93 L392.57 226.73 L392.81 225.5 L393.02 224.23 L393.18 222.94 L395.53 224.3 L395.69 217.25 L393.34 215.75 L393.25 214.3 L393.11 212.83 L392.93 211.34 L392.7 209.84 L392.44 208.32 L392.44 208.32 L392.11 206.65 L391.73 204.97 L391.3 203.29 L390.83 201.59 L390.31 199.89 L392.34 199.72 L389.9 193.1 L387.81 193.14 L387.08 191.45 L386.3 189.77 L385.49 188.1 L384.63 186.44 L383.74 184.8 L383.74 184.8 L382.81 183.18 L381.85 181.57 L380.85 179.99 L379.82 178.43 L378.76 176.9 L379.94 175.25 L375.61 169.68 L374.34 171.22 L373.15 169.86 L371.94 168.54 L370.71 167.26 L369.46 166.02 L368.2 164.83 L368.2 164.83 L367.02 163.77 L365.82 162.75 L364.62 161.77 L363.41 160.84 L362.19 159.95 L362.19 157.24 L356.16 153.58 L356.05 156.22 L354.82 155.62 L353.6 155.08 L352.39 154.58 L351.18 154.15 L349.98 153.76 L349.98 153.76 L348.99 153.48 L348 153.24 L347.02 153.03 L346.06 152.87 L345.1 152.74 L343.91 149.7 L336.87 150.05 L337.92 153.09 L337.09 153.31 L336.28 153.57 L335.49 153.86 L334.71 154.19 L333.96 154.55 L333.96 154.55 L333.24 154.95 L332.54 155.38 L331.86 155.85 L331.2 156.35 L330.57 156.88 L328.52 154.35 L324.24 159.95 L326.2 162.59 L325.8 163.42 L325.42 164.27 L325.06 165.16 L324.74 166.07 L324.44 167 L324.44 167 L324.11 168.16 L323.83 169.36 L323.59 170.59 L323.38 171.85 L323.22 173.15 L320.87 171.79 L320.71 178.84 L323.06 180.34 L323.15 181.79 L323.29 183.26 L323.47 184.75 L323.7 186.25 L323.96 187.77 L323.96 187.77 L324.29 189.43 L324.67 191.11 L325.1 192.8 L325.57 194.5 L326.09 196.2 L324.06 196.37 L326.5 202.99 L328.59 202.95 L329.32 204.64 L330.1 206.32 L330.91 207.99 L331.77 209.65 L332.66 211.29 L332.66 211.29 L333.59 212.91 L334.55 214.52 L335.55 216.1 L336.58 217.66 L337.64 219.19 L336.46 220.84 L340.79 226.41 L342.06 224.86 L343.25 226.23 L344.46 227.55 L345.69 228.83 L346.94 230.07 L348.2 231.26 L348.2 231.26 L349.38 232.32 L350.58 233.34 L351.78 234.32 L352.99 235.25 L354.21 236.14 L354.21 238.85 L360.24 242.51 L360.35 239.87 L361.58 240.47 L362.8 241.01 L364.01 241.5 L365.22 241.94 L366.42 242.33 L366.42 242.33 L367.41 242.61 L368.4 242.85 L369.38 243.06 L370.34 243.22 L371.3 243.35 L372.49 246.39 L379.53 246.04 L378.48 243 L379.31 242.78 L380.12 242.52 L380.91 242.23 L381.69 241.9 L382.44 241.53ZM379.7 235.28 L381.83 233.78 L383.7 231.89 L385.29 229.63 L386.59 227.02 L387.57 224.09 L388.23 220.88 L388.56 217.41 L388.56 213.74 L388.23 209.89 L387.57 205.91 L386.59 201.85 L385.29 197.75 L383.7 193.65 L381.83 189.59 L379.7 185.63 L377.33 181.81 L374.76 178.16 L372 174.73 L369.1 171.56 L366.07 168.67 L362.96 166.11 L359.79 163.9 L356.61 162.06 L353.44 160.62 L350.33 159.59 L347.3 158.98 L344.4 158.79 L341.64 159.04 L339.07 159.71 L336.7 160.81 L334.57 162.31 L332.7 164.2 L331.11 166.46 L329.81 169.07 L328.83 172 L328.17 175.21 L327.84 178.68 L327.84 182.35 L328.17 186.2 L328.83 190.17 L329.81 194.24 L331.11 198.34 L332.7 202.44 L334.57 206.5 L336.7 210.46 L339.07 214.28 L341.64 217.93 L344.4 221.36 L347.3 224.53 L350.33 227.41 L353.44 229.98 L356.61 232.19 L359.79 234.02 L362.96 235.47 L366.07 236.5 L369.1 237.11 L372 237.3 L374.76 237.05 L377.33 236.38Z" fill="#fff" stroke="#3a3a3a" stroke-width="1.1" fill-rule="evenodd"/>
<path d="M382.9 240.83 L379.9 235.63 M384.96 239.42 L381.71 234.4 M386.78 237.73 L383.31 232.91 M388.36 235.8 L384.7 231.22 M389.68 233.69 L385.86 229.36 M390.76 231.45 L386.81 227.39 M391.61 229.11 L387.55 225.33 M392.25 226.7 L388.12 223.22 M392.7 224.25 L388.51 221.07 M392.99 221.77 L388.76 218.89 M393.12 219.28 L388.88 216.7 M393.11 216.79 L388.87 214.52 M392.97 214.3 L388.75 212.33 M392.72 211.83 L388.53 210.15 M392.36 209.36 L388.21 207.99 M391.9 206.91 L387.81 205.83 M391.35 204.48 L387.33 203.7 M390.71 202.07 L386.76 201.58 M389.99 199.69 L386.13 199.49 M389.19 197.33 L385.43 197.41 M388.31 194.99 L384.66 195.36 M387.37 192.69 L383.82 193.34 M386.35 190.41 L382.93 191.34 M385.26 188.17 L381.98 189.37 M384.11 185.96 L380.97 187.43 M382.9 183.78 L379.9 185.52 M381.62 181.64 L378.78 183.64 M380.28 179.54 L377.6 181.79 M378.88 177.48 L376.37 179.98 M377.42 175.46 L375.09 178.21 M375.9 173.49 L373.75 176.47 M374.32 171.56 L372.36 174.78 M372.67 169.69 L370.92 173.13 M370.97 167.87 L369.42 171.54 M369.2 166.12 L367.87 169.99 M367.37 164.42 L366.26 168.51 M365.48 162.8 L364.6 167.08 M363.53 161.26 L362.88 165.72 M361.51 159.8 L361.1 164.44 M359.42 158.44 L359.27 163.25 M357.26 157.18 L357.38 162.15 M355.04 156.05 L355.43 161.15 M352.76 155.06 L353.42 160.28 M350.41 154.23 L351.36 159.55 M348.01 153.58 L349.24 158.98 M345.55 153.14 L347.09 158.6 M343.07 152.95 L344.91 158.43 M340.58 153.04 L342.72 158.51 M338.12 153.45 L340.56 158.86 M335.74 154.18 L338.47 159.51 M333.5 155.26 L336.5 160.46 M331.44 156.67 L334.69 161.69 M329.62 158.36 L333.09 163.18 M328.04 160.28 L331.7 164.87 M326.72 162.4 L330.54 166.72 M325.64 164.64 L329.59 168.7 M324.79 166.98 L328.85 170.76 M324.15 169.39 L328.28 172.87 M323.7 171.84 L327.89 175.02 M323.41 174.32 L327.64 177.2 M323.28 176.8 L327.52 179.38 M323.29 179.3 L327.53 181.57 M323.43 181.78 L327.65 183.76 M323.68 184.26 L327.87 185.94 M324.04 186.73 L328.19 188.1 M324.5 189.18 L328.59 190.26 M325.05 191.61 L329.07 192.39 M325.69 194.02 L329.64 194.51 M326.41 196.4 L330.27 196.6 M327.21 198.76 L330.97 198.67 M328.09 201.1 L331.74 200.72 M329.03 203.4 L332.58 202.75 M330.05 205.67 L333.47 204.75 M331.14 207.92 L334.42 206.72 M332.29 210.13 L335.43 208.66 M333.5 212.3 L336.5 210.57 M334.78 214.44 L337.62 212.45 M336.12 216.55 L338.8 214.3 M337.52 218.61 L340.03 216.11 M338.98 220.63 L341.31 217.88 M340.5 222.6 L342.65 219.62 M342.08 224.52 L344.04 221.31 M343.73 226.4 L345.48 222.95 M345.43 228.22 L346.98 224.55 M347.2 229.97 L348.53 226.1 M349.03 231.67 L350.14 227.58 M350.92 233.29 L351.8 229.01 M352.87 234.83 L353.52 230.36 M354.89 236.29 L355.3 231.64 M356.98 237.65 L357.13 232.84 M359.14 238.9 L359.02 233.94 M361.36 240.04 L360.97 234.94 M363.64 241.03 L362.98 235.81 M365.99 241.86 L365.04 236.54 M368.39 242.51 L367.16 237.11 M370.85 242.94 L369.31 237.49 M373.33 243.13 L371.49 237.66 M375.82 243.04 L373.68 237.58 M378.28 242.64 L375.84 237.23 M380.66 241.9 L377.93 236.58 " fill="none" stroke="#333" stroke-width="1.3" stroke-linecap="butt"/>
<path d="M383.1 241.17 A49.8 28.75 60 0 0 383.1 183.67 A49.8 28.75 60 0 0 333.3 154.92 A49.8 28.75 60 0 0 333.3 212.42 A49.8 28.75 60 0 0 383.1 241.17 Z" fill="none" stroke="#2e2e2e" stroke-width="1.37" />
<path d="M379.7 235.28 A43 24.83 60 0 0 379.7 185.63 A43 24.83 60 0 0 336.7 160.81 A43 24.83 60 0 0 336.7 210.46 A43 24.83 60 0 0 379.7 235.28 Z" fill="none" stroke="#2e2e2e" stroke-width="1.37" />
<path d="M370.45 248.48 A49.8 28.75 60 0 0 370.45 190.97 A49.8 28.75 60 0 0 320.65 162.22 A49.8 28.75 60 0 0 320.65 219.72 A49.8 28.75 60 0 0 370.45 248.48 ZM365.55 239.99 L366.45 239.42 L366.25 237.84 L365.99 236.27 L366.73 235.59 L368 236.24 L369.27 236.83 L369.96 235.95 L369.5 234.3 L368.99 232.67 L369.51 231.71 L370.73 232.04 L371.96 232.3 L372.39 231.13 L371.7 229.49 L370.96 227.88 L371.24 226.68 L372.37 226.67 L373.49 226.59 L373.66 225.2 L372.75 223.63 L371.82 222.1 L371.85 220.73 L372.84 220.38 L373.8 219.95 L373.7 218.39 L372.62 216.96 L371.53 215.6 L371.31 214.09 L372.11 213.42 L372.87 212.67 L372.5 211.01 L371.31 209.79 L370.11 208.64 L369.65 207.08 L370.22 206.11 L370.75 205.07 L370.13 203.39 L368.87 202.43 L367.61 201.54 L366.93 199.99 L367.26 198.77 L367.53 197.49 L366.69 195.85 L365.41 195.19 L364.15 194.61 L363.27 193.14 L363.34 191.72 L363.35 190.24 L362.32 188.73 L361.08 188.4 L359.88 188.15 L358.85 186.82 L358.65 185.26 L358.39 183.66 L357.22 182.33 L356.07 182.34 L354.98 182.43 L353.84 181.3 L353.38 179.68 L352.87 178.03 L351.6 176.94 L350.61 177.3 L349.66 177.72 L348.46 176.84 L347.78 175.22 L347.03 173.59 L345.73 172.79 L344.92 173.48 L344.17 174.22 L342.96 173.63 L342.07 172.08 L341.13 170.54 L339.84 170.06 L339.26 171.05 L338.74 172.08 L337.58 171.8 L336.52 170.39 L335.41 169.01 L334.21 168.88 L333.88 170.12 L333.61 171.39 L332.54 171.44 L331.36 170.23 L330.15 169.06 L329.07 169.29 L329 170.73 L329 172.19 L328.07 172.56 L326.82 171.61 L325.55 170.71 L324.65 171.28 L324.85 172.85 L325.11 174.43 L324.37 175.11 L323.1 174.46 L321.83 173.86 L321.14 174.75 L321.6 176.4 L322.11 178.03 L321.59 178.98 L320.37 178.66 L319.14 178.4 L318.71 179.56 L319.4 181.21 L320.14 182.82 L319.86 184.01 L318.73 184.02 L317.61 184.11 L317.44 185.5 L318.35 187.07 L319.28 188.59 L319.25 189.97 L318.26 190.32 L317.3 190.75 L317.4 192.31 L318.48 193.73 L319.57 195.1 L319.79 196.6 L318.99 197.27 L318.23 198.03 L318.6 199.68 L319.79 200.9 L320.99 202.05 L321.45 203.61 L320.88 204.58 L320.35 205.63 L320.97 207.31 L322.23 208.27 L323.49 209.15 L324.17 210.7 L323.84 211.92 L323.57 213.21 L324.41 214.84 L325.69 215.51 L326.95 216.09 L327.83 217.56 L327.76 218.98 L327.75 220.45 L328.78 221.97 L330.02 222.3 L331.22 222.55 L332.25 223.88 L332.45 225.44 L332.71 227.03 L333.88 228.36 L335.03 228.35 L336.12 228.26 L337.26 229.39 L337.72 231.02 L338.23 232.67 L339.5 233.76 L340.49 233.4 L341.44 232.97 L342.64 233.85 L343.32 235.47 L344.07 237.11 L345.37 237.9 L346.18 237.22 L346.93 236.47 L348.14 237.07 L349.03 238.62 L349.97 240.16 L351.26 240.63 L351.84 239.65 L352.36 238.62 L353.52 238.9 L354.58 240.3 L355.69 241.69 L356.89 241.82 L357.22 240.58 L357.49 239.31 L358.56 239.26 L359.74 240.46 L360.95 241.63 L362.03 241.41 L362.1 239.97 L362.1 238.51 L363.03 238.14 L364.28 239.09Z" fill="#fff" stroke="#3a3a3a" stroke-width="0.98" fill-rule="evenodd"/>
<path d="M369.25 249.17 A49.8 28.75 60 0 0 369.25 191.66 A49.8 28.75 60 0 0 319.45 162.91 A49.8 28.75 60 0 0 319.45 220.42 A49.8 28.75 60 0 0 369.25 249.17 ZM364.35 240.68 L365.25 240.11 L365.05 238.53 L364.79 236.96 L365.53 236.28 L366.8 236.93 L368.07 237.52 L368.76 236.64 L368.3 234.99 L367.79 233.36 L368.31 232.4 L369.53 232.73 L370.76 232.99 L371.19 231.83 L370.5 230.18 L369.76 228.57 L370.04 227.38 L371.17 227.37 L372.29 227.28 L372.46 225.89 L371.55 224.32 L370.62 222.8 L370.65 221.42 L371.64 221.07 L372.6 220.64 L372.5 219.08 L371.42 217.66 L370.33 216.29 L370.11 214.79 L370.91 214.11 L371.67 213.36 L371.3 211.71 L370.11 210.48 L368.91 209.33 L368.45 207.77 L369.02 206.81 L369.55 205.76 L368.93 204.08 L367.67 203.12 L366.41 202.23 L365.73 200.68 L366.06 199.47 L366.33 198.18 L365.49 196.54 L364.21 195.88 L362.95 195.3 L362.07 193.83 L362.14 192.41 L362.15 190.94 L361.12 189.42 L359.88 189.09 L358.68 188.84 L357.65 187.51 L357.45 185.95 L357.19 184.35 L356.02 183.02 L354.87 183.04 L353.78 183.13 L352.64 182 L352.18 180.37 L351.67 178.72 L350.4 177.63 L349.41 177.99 L348.46 178.42 L347.26 177.54 L346.58 175.91 L345.83 174.28 L344.53 173.48 L343.72 174.17 L342.97 174.91 L341.76 174.32 L340.87 172.77 L339.93 171.23 L338.64 170.76 L338.06 171.74 L337.54 172.77 L336.38 172.49 L335.32 171.09 L334.21 169.7 L333.01 169.57 L332.68 170.81 L332.41 172.08 L331.34 172.13 L330.16 170.93 L328.95 169.76 L327.87 169.98 L327.8 171.42 L327.8 172.88 L326.87 173.25 L325.62 172.3 L324.35 171.4 L323.45 171.97 L323.65 173.55 L323.91 175.12 L323.17 175.8 L321.9 175.15 L320.63 174.56 L319.94 175.44 L320.4 177.09 L320.91 178.72 L320.39 179.68 L319.17 179.35 L317.94 179.09 L317.51 180.25 L318.2 181.9 L318.94 183.51 L318.66 184.7 L317.53 184.71 L316.41 184.8 L316.24 186.19 L317.15 187.76 L318.08 189.29 L318.05 190.66 L317.06 191.01 L316.1 191.44 L316.2 193 L317.28 194.43 L318.37 195.79 L318.59 197.29 L317.79 197.97 L317.03 198.72 L317.4 200.38 L318.59 201.6 L319.79 202.75 L320.25 204.31 L319.68 205.28 L319.15 206.32 L319.77 208 L321.03 208.96 L322.29 209.85 L322.97 211.4 L322.64 212.62 L322.37 213.9 L323.21 215.54 L324.49 216.2 L325.75 216.78 L326.63 218.25 L326.56 219.67 L326.55 221.15 L327.58 222.66 L328.82 222.99 L330.02 223.24 L331.05 224.57 L331.25 226.13 L331.51 227.73 L332.68 229.06 L333.83 229.04 L334.92 228.95 L336.06 230.08 L336.52 231.71 L337.03 233.36 L338.3 234.45 L339.29 234.09 L340.24 233.66 L341.44 234.55 L342.12 236.17 L342.87 237.8 L344.17 238.6 L344.98 237.91 L345.73 237.17 L346.94 237.76 L347.83 239.31 L348.77 240.85 L350.06 241.32 L350.64 240.34 L351.16 239.31 L352.32 239.59 L353.38 241 L354.49 242.38 L355.69 242.51 L356.02 241.27 L356.29 240 L357.36 239.95 L358.54 241.16 L359.75 242.33 L360.83 242.1 L360.9 240.66 L360.9 239.2 L361.83 238.83 L363.08 239.78Z" fill="#fff" stroke="#3a3a3a" stroke-width="0.98" fill-rule="evenodd"/>
<path d="M356.74 256.37 L357.46 255.98 L358.16 255.54 L358.84 255.08 L359.5 254.58 L360.13 254.04 L362.18 256.57 L366.46 250.97 L364.5 248.34 L364.9 247.51 L365.28 246.65 L365.64 245.77 L365.96 244.86 L366.26 243.92 L366.26 243.92 L366.59 242.76 L366.87 241.57 L367.11 240.34 L367.32 239.07 L367.48 237.78 L369.83 239.14 L369.99 232.08 L367.64 230.59 L367.55 229.14 L367.41 227.67 L367.23 226.18 L367 224.68 L366.74 223.16 L366.74 223.16 L366.41 221.49 L366.03 219.81 L365.6 218.12 L365.13 216.43 L364.61 214.72 L366.64 214.56 L364.2 207.94 L362.11 207.98 L361.38 206.29 L360.6 204.61 L359.79 202.94 L358.93 201.28 L358.04 199.64 L358.04 199.64 L357.11 198.01 L356.15 196.41 L355.15 194.83 L354.12 193.27 L353.06 191.74 L354.24 190.09 L349.91 184.52 L348.64 186.06 L347.45 184.7 L346.24 183.38 L345.01 182.1 L343.76 180.86 L342.5 179.67 L342.5 179.67 L341.32 178.61 L340.12 177.59 L338.92 176.61 L337.71 175.68 L336.49 174.79 L336.49 172.08 L330.46 168.42 L330.35 171.05 L329.12 170.46 L327.9 169.91 L326.69 169.42 L325.48 168.98 L324.28 168.6 L324.28 168.6 L323.29 168.32 L322.3 168.07 L321.32 167.87 L320.36 167.7 L319.4 167.58 L318.21 164.54 L311.17 164.89 L312.22 167.93 L311.39 168.15 L310.58 168.4 L309.79 168.7 L309.01 169.03 L308.26 169.39 L308.26 169.39 L307.54 169.79 L306.84 170.22 L306.16 170.69 L305.5 171.19 L304.87 171.72 L302.82 169.19 L298.54 174.79 L300.5 177.43 L300.1 178.25 L299.72 179.11 L299.36 179.99 L299.04 180.9 L298.74 181.84 L298.74 181.84 L298.41 183 L298.13 184.2 L297.89 185.43 L297.68 186.69 L297.52 187.99 L295.17 186.63 L295.01 193.68 L297.36 195.17 L297.45 196.63 L297.59 198.1 L297.77 199.58 L298 201.09 L298.26 202.61 L298.26 202.61 L298.59 204.27 L298.97 205.95 L299.4 207.64 L299.87 209.34 L300.39 211.04 L298.36 211.21 L300.8 217.82 L302.89 217.79 L303.62 219.48 L304.4 221.16 L305.21 222.83 L306.07 224.48 L306.96 226.12 L306.96 226.12 L307.89 227.75 L308.85 229.36 L309.85 230.94 L310.88 232.5 L311.94 234.03 L310.76 235.68 L315.09 241.25 L316.36 239.7 L317.55 241.06 L318.76 242.39 L319.99 243.67 L321.24 244.9 L322.5 246.1 L322.5 246.1 L323.68 247.16 L324.88 248.18 L326.08 249.16 L327.29 250.09 L328.51 250.98 L328.51 253.69 L334.54 257.35 L334.65 254.71 L335.88 255.31 L337.1 255.85 L338.31 256.34 L339.52 256.78 L340.72 257.17 L340.72 257.17 L341.71 257.45 L342.7 257.69 L343.68 257.89 L344.64 258.06 L345.6 258.19 L346.79 261.23 L353.83 260.88 L352.78 257.83 L353.61 257.62 L354.42 257.36 L355.21 257.07 L355.99 256.74 L356.74 256.37ZM354 250.12 L356.13 248.62 L358 246.73 L359.59 244.46 L360.89 241.85 L361.87 238.93 L362.53 235.71 L362.86 232.25 L362.86 228.58 L362.53 224.73 L361.87 220.75 L360.89 216.69 L359.59 212.58 L358 208.48 L356.13 204.43 L354 200.47 L351.63 196.64 L349.06 193 L346.3 189.57 L343.4 186.4 L340.37 183.51 L337.26 180.95 L334.09 178.74 L330.91 176.9 L327.74 175.46 L324.63 174.43 L321.6 173.81 L318.7 173.63 L315.94 173.88 L313.37 174.55 L311 175.64 L308.87 177.14 L307 179.04 L305.41 181.3 L304.11 183.91 L303.13 186.84 L302.47 190.05 L302.14 193.51 L302.14 197.19 L302.47 201.04 L303.13 205.01 L304.11 209.08 L305.41 213.18 L307 217.28 L308.87 221.33 L311 225.3 L313.37 229.12 L315.94 232.77 L318.7 236.2 L321.6 239.37 L324.63 242.25 L327.74 244.81 L330.91 247.02 L334.09 248.86 L337.26 250.31 L340.37 251.34 L343.4 251.95 L346.3 252.13 L349.06 251.89 L351.63 251.21Z" fill="#fff" stroke="#3a3a3a" stroke-width="0.98" fill-rule="evenodd"/>
<path d="M354.74 257.53 L355.46 257.13 L356.16 256.7 L356.84 256.23 L357.5 255.73 L358.13 255.2 L360.18 257.73 L364.46 252.13 L362.5 249.49 L362.9 248.67 L363.28 247.81 L363.64 246.93 L363.96 246.02 L364.26 245.08 L364.26 245.08 L364.59 243.92 L364.87 242.72 L365.11 241.49 L365.32 240.23 L365.48 238.93 L367.83 240.29 L367.99 233.24 L365.64 231.74 L365.55 230.29 L365.41 228.82 L365.23 227.34 L365 225.83 L364.74 224.31 L364.74 224.31 L364.41 222.65 L364.03 220.97 L363.6 219.28 L363.13 217.58 L362.61 215.88 L364.64 215.71 L362.2 209.09 L360.11 209.13 L359.38 207.44 L358.6 205.76 L357.79 204.09 L356.93 202.43 L356.04 200.79 L356.04 200.79 L355.11 199.17 L354.15 197.56 L353.15 195.98 L352.12 194.42 L351.06 192.89 L352.24 191.24 L347.91 185.67 L346.64 187.22 L345.45 185.85 L344.24 184.53 L343.01 183.25 L341.76 182.02 L340.5 180.82 L340.5 180.82 L339.32 179.76 L338.12 178.74 L336.92 177.76 L335.71 176.83 L334.49 175.94 L334.49 173.23 L328.46 169.57 L328.35 172.21 L327.12 171.61 L325.9 171.07 L324.69 170.58 L323.48 170.14 L322.28 169.75 L322.28 169.75 L321.29 169.47 L320.3 169.23 L319.32 169.03 L318.36 168.86 L317.4 168.73 L316.21 165.69 L309.17 166.04 L310.22 169.09 L309.39 169.3 L308.58 169.56 L307.79 169.85 L307.01 170.18 L306.26 170.55 L306.26 170.55 L305.54 170.94 L304.84 171.37 L304.16 171.84 L303.5 172.34 L302.87 172.88 L300.82 170.35 L296.54 175.94 L298.5 178.58 L298.1 179.41 L297.72 180.26 L297.36 181.15 L297.04 182.06 L296.74 182.99 L296.74 182.99 L296.41 184.16 L296.13 185.35 L295.89 186.58 L295.68 187.85 L295.52 189.14 L293.17 187.78 L293.01 194.84 L295.36 196.33 L295.45 197.78 L295.59 199.25 L295.77 200.74 L296 202.24 L296.26 203.76 L296.26 203.76 L296.59 205.43 L296.97 207.11 L297.4 208.8 L297.87 210.49 L298.39 212.19 L296.36 212.36 L298.8 218.98 L300.89 218.94 L301.62 220.63 L302.4 222.31 L303.21 223.98 L304.07 225.64 L304.96 227.28 L304.96 227.28 L305.89 228.91 L306.85 230.51 L307.85 232.09 L308.88 233.65 L309.94 235.18 L308.76 236.83 L313.09 242.4 L314.36 240.86 L315.55 242.22 L316.76 243.54 L317.99 244.82 L319.24 246.06 L320.5 247.25 L320.5 247.25 L321.68 248.31 L322.88 249.33 L324.08 250.31 L325.29 251.24 L326.51 252.13 L326.51 254.84 L332.54 258.5 L332.65 255.87 L333.88 256.46 L335.1 257.01 L336.31 257.5 L337.52 257.94 L338.72 258.32 L338.72 258.32 L339.71 258.6 L340.7 258.84 L341.68 259.05 L342.64 259.22 L343.6 259.34 L344.79 262.38 L351.83 262.03 L350.78 258.99 L351.61 258.77 L352.42 258.52 L353.21 258.22 L353.99 257.89 L354.74 257.53ZM352 251.28 L354.13 249.77 L356 247.88 L357.59 245.62 L358.89 243.01 L359.87 240.08 L360.53 236.87 L360.86 233.41 L360.86 229.73 L360.53 225.88 L359.87 221.91 L358.89 217.84 L357.59 213.74 L356 209.64 L354.13 205.58 L352 201.62 L349.63 197.8 L347.06 194.15 L344.3 190.72 L341.4 187.55 L338.37 184.67 L335.26 182.11 L332.09 179.89 L328.91 178.06 L325.74 176.61 L322.63 175.58 L319.6 174.97 L316.7 174.78 L313.94 175.03 L311.37 175.7 L309 176.8 L306.87 178.3 L305 180.19 L303.41 182.46 L302.11 185.07 L301.13 187.99 L300.47 191.21 L300.14 194.67 L300.14 198.34 L300.47 202.19 L301.13 206.17 L302.11 210.23 L303.41 214.33 L305 218.44 L306.87 222.49 L309 226.45 L311.37 230.27 L313.94 233.92 L316.7 237.35 L319.6 240.52 L322.63 243.41 L325.74 245.97 L328.91 248.18 L332.09 250.02 L335.26 251.46 L338.37 252.49 L341.4 253.11 L344.3 253.29 L347.06 253.04 L349.63 252.37Z" fill="#fff" stroke="#3a3a3a" stroke-width="1.1" fill-rule="evenodd"/>
<path d="M355.2 256.82 L352.2 251.62 M357.26 255.41 L354.01 250.39 M359.08 253.72 L355.61 248.9 M360.66 251.8 L357 247.21 M361.98 249.69 L358.16 245.36 M363.06 247.44 L359.11 243.38 M363.91 245.1 L359.85 241.33 M364.55 242.69 L360.42 239.21 M365 240.24 L360.81 237.06 M365.29 237.77 L361.06 234.88 M365.42 235.28 L361.18 232.7 M365.41 232.79 L361.17 230.51 M365.27 230.3 L361.05 228.32 M365.02 227.82 L360.83 226.14 M364.66 225.35 L360.51 223.98 M364.2 222.9 L360.11 221.83 M363.65 220.47 L359.63 219.69 M363.01 218.06 L359.06 217.58 M362.29 215.68 L358.43 215.48 M361.49 213.32 L357.73 213.41 M360.61 210.99 L356.96 211.36 M359.67 208.68 L356.12 209.33 M358.65 206.41 L355.23 207.33 M357.56 204.16 L354.28 205.36 M356.41 201.95 L353.27 203.42 M355.2 199.78 L352.2 201.51 M353.92 197.64 L351.08 199.63 M352.58 195.54 L349.9 197.78 M351.18 193.47 L348.67 195.97 M349.72 191.46 L347.39 194.2 M348.2 189.48 L346.05 192.46 M346.62 187.56 L344.66 190.77 M344.97 185.68 L343.22 189.13 M343.27 183.87 L341.72 187.53 M341.5 182.11 L340.17 185.99 M339.67 180.41 L338.56 184.5 M337.78 178.79 L336.9 183.07 M335.83 177.25 L335.18 181.72 M333.81 175.79 L333.4 180.44 M331.72 174.43 L331.57 179.24 M329.56 173.18 L329.68 178.14 M327.34 172.05 L327.73 177.15 M325.06 171.05 L325.72 176.27 M322.71 170.22 L323.66 175.54 M320.31 169.57 L321.54 174.97 M317.85 169.14 L319.39 174.59 M315.37 168.95 L317.21 174.42 M312.88 169.04 L315.02 174.5 M310.42 169.44 L312.86 174.86 M308.04 170.18 L310.77 175.5 M305.8 171.26 L308.8 176.45 M303.74 172.66 L306.99 177.68 M301.92 174.35 L305.39 179.17 M300.34 176.28 L304 180.86 M299.02 178.39 L302.84 182.72 M297.94 180.63 L301.89 184.69 M297.09 182.98 L301.15 186.75 M296.45 185.38 L300.58 188.86 M296 187.83 L300.19 191.02 M295.71 190.31 L299.94 193.19 M295.58 192.8 L299.82 195.38 M295.59 195.29 L299.83 197.57 M295.73 197.78 L299.95 199.75 M295.98 200.26 L300.17 201.93 M296.34 202.72 L300.49 204.1 M296.8 205.17 L300.89 206.25 M297.35 207.6 L301.37 208.38 M297.99 210.01 L301.94 210.5 M298.71 212.39 L302.57 212.59 M299.51 214.75 L303.27 214.67 M300.39 217.09 L304.04 216.72 M301.33 219.39 L304.88 218.74 M302.35 221.67 L305.77 220.74 M303.44 223.91 L306.72 222.71 M304.59 226.12 L307.73 224.65 M305.8 228.3 L308.8 226.57 M307.08 230.44 L309.92 228.45 M308.42 232.54 L311.1 230.29 M309.82 234.6 L312.33 232.1 M311.28 236.62 L313.61 233.88 M312.8 238.59 L314.95 235.61 M314.38 240.52 L316.34 237.3 M316.03 242.39 L317.78 238.95 M317.73 244.21 L319.28 240.54 M319.5 245.97 L320.83 242.09 M321.33 247.66 L322.44 243.58 M323.22 249.28 L324.1 245 M325.17 250.82 L325.82 246.36 M327.19 252.28 L327.6 247.64 M329.28 253.64 L329.43 248.83 M331.44 254.9 L331.32 249.93 M333.66 256.03 L333.27 250.93 M335.94 257.02 L335.28 251.8 M338.29 257.85 L337.34 252.53 M340.69 258.5 L339.46 253.1 M343.15 258.94 L341.61 253.48 M345.63 259.13 L343.79 253.65 M348.12 259.04 L345.98 253.57 M350.58 258.64 L348.14 253.22 M352.96 257.9 L350.23 252.57 " fill="none" stroke="#333" stroke-width="1.3" stroke-linecap="butt"/>
<path d="M355.4 257.17 A49.8 28.75 60 0 0 355.4 199.66 A49.8 28.75 60 0 0 305.6 170.91 A49.8 28.75 60 0 0 305.6 228.41 A49.8 28.75 60 0 0 355.4 257.17 Z" fill="none" stroke="#2e2e2e" stroke-width="1.37" />
<path d="M352 251.28 A43 24.83 60 0 0 352 201.62 A43 24.83 60 0 0 309 176.8 A43 24.83 60 0 0 309 226.45 A43 24.83 60 0 0 352 251.28 Z" fill="none" stroke="#2e2e2e" stroke-width="1.37" />
<path d="M342.75 264.47 A49.8 28.75 60 0 0 342.75 206.96 A49.8 28.75 60 0 0 292.95 178.21 A49.8 28.75 60 0 0 292.95 235.72 A49.8 28.75 60 0 0 342.75 264.47 ZM337.85 255.98 L338.75 255.41 L338.55 253.83 L338.29 252.26 L339.03 251.58 L340.3 252.23 L341.57 252.82 L342.26 251.94 L341.8 250.29 L341.29 248.66 L341.81 247.7 L343.03 248.03 L344.26 248.29 L344.69 247.13 L344 245.48 L343.26 243.87 L343.54 242.68 L344.67 242.67 L345.79 242.58 L345.96 241.19 L345.05 239.62 L344.12 238.1 L344.15 236.72 L345.14 236.37 L346.1 235.94 L346 234.38 L344.92 232.95 L343.83 231.59 L343.61 230.09 L344.41 229.41 L345.17 228.66 L344.8 227.01 L343.61 225.78 L342.41 224.63 L341.95 223.07 L342.52 222.11 L343.05 221.06 L342.43 219.38 L341.17 218.42 L339.91 217.53 L339.23 215.98 L339.56 214.76 L339.83 213.48 L338.99 211.84 L337.71 211.18 L336.45 210.6 L335.57 209.13 L335.64 207.71 L335.65 206.24 L334.62 204.72 L333.38 204.39 L332.18 204.14 L331.15 202.81 L330.95 201.25 L330.69 199.65 L329.52 198.32 L328.37 198.34 L327.28 198.43 L326.14 197.3 L325.68 195.67 L325.17 194.02 L323.9 192.93 L322.91 193.29 L321.96 193.72 L320.76 192.84 L320.08 191.21 L319.33 189.58 L318.03 188.78 L317.22 189.47 L316.47 190.21 L315.26 189.62 L314.37 188.07 L313.43 186.53 L312.14 186.06 L311.56 187.04 L311.04 188.07 L309.88 187.79 L308.82 186.38 L307.71 185 L306.51 184.87 L306.18 186.11 L305.91 187.38 L304.84 187.43 L303.66 186.22 L302.45 185.06 L301.37 185.28 L301.3 186.72 L301.3 188.18 L300.37 188.55 L299.12 187.6 L297.85 186.7 L296.95 187.27 L297.15 188.85 L297.41 190.42 L296.67 191.1 L295.4 190.45 L294.13 189.86 L293.44 190.74 L293.9 192.39 L294.41 194.02 L293.89 194.98 L292.67 194.65 L291.44 194.39 L291.01 195.55 L291.7 197.2 L292.44 198.81 L292.16 200 L291.03 200.01 L289.91 200.1 L289.74 201.49 L290.65 203.06 L291.58 204.58 L291.55 205.96 L290.56 206.31 L289.6 206.74 L289.7 208.3 L290.78 209.73 L291.87 211.09 L292.09 212.59 L291.29 213.27 L290.53 214.02 L290.9 215.68 L292.09 216.9 L293.29 218.05 L293.75 219.61 L293.18 220.57 L292.65 221.62 L293.27 223.3 L294.53 224.26 L295.79 225.15 L296.47 226.7 L296.14 227.92 L295.87 229.2 L296.71 230.84 L297.99 231.5 L299.25 232.08 L300.13 233.55 L300.06 234.97 L300.05 236.45 L301.08 237.96 L302.32 238.29 L303.52 238.54 L304.55 239.87 L304.75 241.43 L305.01 243.03 L306.18 244.36 L307.33 244.34 L308.42 244.25 L309.56 245.38 L310.02 247.01 L310.53 248.66 L311.8 249.75 L312.79 249.39 L313.74 248.96 L314.94 249.84 L315.62 251.47 L316.37 253.1 L317.67 253.9 L318.48 253.21 L319.23 252.47 L320.44 253.06 L321.33 254.61 L322.27 256.15 L323.56 256.62 L324.14 255.64 L324.66 254.61 L325.82 254.89 L326.88 256.3 L327.99 257.68 L329.19 257.81 L329.52 256.57 L329.79 255.3 L330.86 255.25 L332.04 256.46 L333.25 257.63 L334.33 257.4 L334.4 255.96 L334.4 254.5 L335.33 254.13 L336.58 255.08Z" fill="#fff" stroke="#3a3a3a" stroke-width="0.98" fill-rule="evenodd"/>
<path d="M341.55 265.16 A49.8 28.75 60 0 0 341.55 207.66 A49.8 28.75 60 0 0 291.75 178.91 A49.8 28.75 60 0 0 291.75 236.41 A49.8 28.75 60 0 0 341.55 265.16 ZM336.65 256.67 L337.55 256.11 L337.35 254.53 L337.09 252.95 L337.83 252.27 L339.1 252.92 L340.37 253.52 L341.06 252.63 L340.6 250.98 L340.09 249.35 L340.61 248.4 L341.83 248.73 L343.06 248.98 L343.49 247.82 L342.8 246.17 L342.06 244.56 L342.34 243.37 L343.47 243.36 L344.59 243.27 L344.76 241.88 L343.85 240.31 L342.92 238.79 L342.95 237.41 L343.94 237.06 L344.9 236.63 L344.8 235.07 L343.72 233.65 L342.63 232.28 L342.41 230.78 L343.21 230.11 L343.97 229.35 L343.6 227.7 L342.41 226.48 L341.21 225.33 L340.75 223.77 L341.32 222.8 L341.85 221.76 L341.23 220.07 L339.97 219.11 L338.71 218.23 L338.03 216.68 L338.36 215.46 L338.63 214.17 L337.79 212.54 L336.51 211.88 L335.25 211.29 L334.37 209.82 L334.44 208.4 L334.45 206.93 L333.42 205.41 L332.18 205.08 L330.98 204.83 L329.95 203.5 L329.75 201.95 L329.49 200.35 L328.32 199.02 L327.17 199.03 L326.08 199.12 L324.94 197.99 L324.48 196.37 L323.97 194.71 L322.7 193.63 L321.71 193.98 L320.76 194.41 L319.56 193.53 L318.88 191.91 L318.13 190.27 L316.83 189.48 L316.02 190.16 L315.27 190.91 L314.06 190.31 L313.17 188.77 L312.23 187.22 L310.94 186.75 L310.36 187.73 L309.84 188.76 L308.68 188.49 L307.62 187.08 L306.51 185.69 L305.31 185.57 L304.98 186.8 L304.71 188.08 L303.64 188.12 L302.46 186.92 L301.25 185.75 L300.17 185.98 L300.1 187.42 L300.1 188.87 L299.17 189.24 L297.92 188.29 L296.65 187.39 L295.75 187.96 L295.95 189.54 L296.21 191.12 L295.47 191.8 L294.2 191.14 L292.93 190.55 L292.24 191.44 L292.7 193.08 L293.21 194.71 L292.69 195.67 L291.47 195.34 L290.24 195.08 L289.81 196.25 L290.5 197.89 L291.24 199.5 L290.96 200.7 L289.83 200.71 L288.71 200.8 L288.54 202.19 L289.45 203.76 L290.38 205.28 L290.35 206.66 L289.36 207.01 L288.4 207.44 L288.5 208.99 L289.58 210.42 L290.67 211.78 L290.89 213.29 L290.09 213.96 L289.33 214.71 L289.7 216.37 L290.89 217.59 L292.09 218.74 L292.55 220.3 L291.98 221.27 L291.45 222.31 L292.07 223.99 L293.33 224.95 L294.59 225.84 L295.27 227.39 L294.94 228.61 L294.67 229.9 L295.51 231.53 L296.79 232.19 L298.05 232.77 L298.93 234.24 L298.86 235.66 L298.85 237.14 L299.88 238.65 L301.12 238.98 L302.32 239.24 L303.35 240.57 L303.55 242.12 L303.81 243.72 L304.98 245.05 L306.13 245.04 L307.22 244.95 L308.36 246.08 L308.82 247.7 L309.33 249.35 L310.6 250.44 L311.59 250.08 L312.54 249.66 L313.74 250.54 L314.42 252.16 L315.17 253.79 L316.47 254.59 L317.28 253.9 L318.03 253.16 L319.24 253.75 L320.13 255.3 L321.07 256.85 L322.36 257.32 L322.94 256.33 L323.46 255.3 L324.62 255.58 L325.68 256.99 L326.79 258.38 L327.99 258.5 L328.32 257.26 L328.59 255.99 L329.66 255.94 L330.84 257.15 L332.05 258.32 L333.13 258.09 L333.2 256.65 L333.2 255.2 L334.13 254.82 L335.38 255.77Z" fill="#fff" stroke="#3a3a3a" stroke-width="0.98" fill-rule="evenodd"/>
<path d="M329.04 272.36 L329.76 271.97 L330.46 271.54 L331.14 271.07 L331.8 270.57 L332.43 270.04 L334.48 272.57 L338.76 266.97 L336.8 264.33 L337.2 263.5 L337.58 262.65 L337.94 261.76 L338.26 260.85 L338.56 259.92 L338.56 259.92 L338.89 258.76 L339.17 257.56 L339.41 256.33 L339.62 255.07 L339.78 253.77 L342.13 255.13 L342.29 248.08 L339.94 246.58 L339.85 245.13 L339.71 243.66 L339.53 242.17 L339.3 240.67 L339.04 239.15 L339.04 239.15 L338.71 237.48 L338.33 235.8 L337.9 234.12 L337.43 232.42 L336.91 230.72 L338.94 230.55 L336.5 223.93 L334.41 223.97 L333.68 222.28 L332.9 220.6 L332.09 218.93 L331.23 217.27 L330.34 215.63 L330.34 215.63 L329.41 214.01 L328.45 212.4 L327.45 210.82 L326.42 209.26 L325.36 207.73 L326.54 206.08 L322.21 200.51 L320.94 202.05 L319.75 200.69 L318.54 199.37 L317.31 198.09 L316.06 196.85 L314.8 195.66 L314.8 195.66 L313.62 194.6 L312.42 193.58 L311.22 192.6 L310.01 191.67 L308.79 190.78 L308.79 188.07 L302.76 184.41 L302.65 187.05 L301.42 186.45 L300.2 185.91 L298.99 185.41 L297.78 184.98 L296.58 184.59 L296.58 184.59 L295.59 184.31 L294.6 184.07 L293.62 183.86 L292.66 183.7 L291.7 183.57 L290.51 180.53 L283.47 180.88 L284.52 183.92 L283.69 184.14 L282.88 184.4 L282.09 184.69 L281.31 185.02 L280.56 185.39 L280.56 185.39 L279.84 185.78 L279.14 186.21 L278.46 186.68 L277.8 187.18 L277.17 187.71 L275.12 185.18 L270.84 190.78 L272.8 193.42 L272.4 194.25 L272.02 195.1 L271.66 195.99 L271.34 196.9 L271.04 197.83 L271.04 197.83 L270.71 198.99 L270.43 200.19 L270.19 201.42 L269.98 202.68 L269.82 203.98 L267.47 202.62 L267.31 209.67 L269.66 211.17 L269.75 212.62 L269.89 214.09 L270.07 215.58 L270.3 217.08 L270.56 218.6 L270.56 218.6 L270.89 220.27 L271.27 221.94 L271.7 223.63 L272.17 225.33 L272.69 227.03 L270.66 227.2 L273.1 233.82 L275.19 233.78 L275.92 235.47 L276.7 237.15 L277.51 238.82 L278.37 240.48 L279.26 242.12 L279.26 242.12 L280.19 243.74 L281.15 245.35 L282.15 246.93 L283.18 248.49 L284.24 250.02 L283.06 251.67 L287.39 257.24 L288.66 255.7 L289.85 257.06 L291.06 258.38 L292.29 259.66 L293.54 260.9 L294.8 262.09 L294.8 262.09 L295.98 263.15 L297.18 264.17 L298.38 265.15 L299.59 266.08 L300.81 266.97 L300.81 269.68 L306.84 273.34 L306.95 270.7 L308.18 271.3 L309.4 271.84 L310.61 272.34 L311.82 272.77 L313.02 273.16 L313.02 273.16 L314.01 273.44 L315 273.68 L315.98 273.89 L316.94 274.05 L317.9 274.18 L319.09 277.22 L326.13 276.87 L325.08 273.83 L325.91 273.61 L326.72 273.35 L327.51 273.06 L328.29 272.73 L329.04 272.36ZM326.3 266.11 L328.43 264.61 L330.3 262.72 L331.89 260.46 L333.19 257.85 L334.17 254.92 L334.83 251.71 L335.16 248.24 L335.16 244.57 L334.83 240.72 L334.17 236.74 L333.19 232.68 L331.89 228.58 L330.3 224.48 L328.43 220.42 L326.3 216.46 L323.93 212.64 L321.36 208.99 L318.6 205.56 L315.7 202.39 L312.67 199.51 L309.56 196.94 L306.39 194.73 L303.21 192.89 L300.04 191.45 L296.93 190.42 L293.9 189.81 L291 189.62 L288.24 189.87 L285.67 190.54 L283.3 191.64 L281.17 193.14 L279.3 195.03 L277.71 197.29 L276.41 199.9 L275.43 202.83 L274.77 206.04 L274.44 209.51 L274.44 213.18 L274.77 217.03 L275.43 221.01 L276.41 225.07 L277.71 229.17 L279.3 233.27 L281.17 237.33 L283.3 241.29 L285.67 245.11 L288.24 248.76 L291 252.19 L293.9 255.36 L296.93 258.24 L300.04 260.81 L303.21 263.02 L306.39 264.85 L309.56 266.3 L312.67 267.33 L315.7 267.94 L318.6 268.13 L321.36 267.88 L323.93 267.21Z" fill="#fff" stroke="#3a3a3a" stroke-width="0.98" fill-rule="evenodd"/>
<path d="M327.04 273.52 L327.76 273.12 L328.46 272.69 L329.14 272.23 L329.8 271.72 L330.43 271.19 L332.48 273.72 L336.76 268.12 L334.8 265.49 L335.2 264.66 L335.58 263.8 L335.94 262.92 L336.26 262.01 L336.56 261.07 L336.56 261.07 L336.89 259.91 L337.17 258.71 L337.41 257.48 L337.62 256.22 L337.78 254.93 L340.13 256.28 L340.29 249.23 L337.94 247.74 L337.85 246.29 L337.71 244.82 L337.53 243.33 L337.3 241.82 L337.04 240.31 L337.04 240.31 L336.71 238.64 L336.33 236.96 L335.9 235.27 L335.43 233.57 L334.91 231.87 L336.94 231.71 L334.5 225.09 L332.41 225.13 L331.68 223.43 L330.9 221.75 L330.09 220.08 L329.23 218.43 L328.34 216.79 L328.34 216.79 L327.41 215.16 L326.45 213.55 L325.45 211.97 L324.42 210.42 L323.36 208.89 L324.54 207.23 L320.21 201.66 L318.94 203.21 L317.75 201.85 L316.54 200.53 L315.31 199.24 L314.06 198.01 L312.8 196.82 L312.8 196.82 L311.62 195.75 L310.42 194.73 L309.22 193.76 L308.01 192.82 L306.79 191.93 L306.79 189.23 L300.76 185.56 L300.65 188.2 L299.42 187.6 L298.2 187.06 L296.99 186.57 L295.78 186.13 L294.58 185.75 L294.58 185.75 L293.59 185.46 L292.6 185.22 L291.62 185.02 L290.66 184.85 L289.7 184.72 L288.51 181.69 L281.47 182.03 L282.52 185.08 L281.69 185.3 L280.88 185.55 L280.09 185.84 L279.31 186.17 L278.56 186.54 L278.56 186.54 L277.84 186.94 L277.14 187.37 L276.46 187.83 L275.8 188.33 L275.17 188.87 L273.12 186.34 L268.84 191.94 L270.8 194.57 L270.4 195.4 L270.02 196.26 L269.66 197.14 L269.34 198.05 L269.04 198.99 L269.04 198.99 L268.71 200.15 L268.43 201.35 L268.19 202.58 L267.98 203.84 L267.82 205.13 L265.47 203.78 L265.31 210.83 L267.66 212.32 L267.75 213.77 L267.89 215.24 L268.07 216.73 L268.3 218.24 L268.56 219.75 L268.56 219.75 L268.89 221.42 L269.27 223.1 L269.7 224.79 L270.17 226.49 L270.69 228.19 L268.66 228.35 L271.1 234.97 L273.19 234.93 L273.92 236.62 L274.7 238.31 L275.51 239.98 L276.37 241.63 L277.26 243.27 L277.26 243.27 L278.19 244.9 L279.15 246.5 L280.15 248.09 L281.18 249.64 L282.24 251.17 L281.06 252.83 L285.39 258.4 L286.66 256.85 L287.85 258.21 L289.06 259.53 L290.29 260.81 L291.54 262.05 L292.8 263.24 L292.8 263.24 L293.98 264.3 L295.18 265.33 L296.38 266.3 L297.59 267.24 L298.81 268.12 L298.81 270.83 L304.84 274.5 L304.95 271.86 L306.18 272.45 L307.4 273 L308.61 273.49 L309.82 273.93 L311.02 274.31 L311.02 274.31 L312.01 274.59 L313 274.84 L313.98 275.04 L314.94 275.21 L315.9 275.34 L317.09 278.37 L324.13 278.02 L323.08 274.98 L323.91 274.76 L324.72 274.51 L325.51 274.22 L326.29 273.89 L327.04 273.52ZM324.3 267.27 L326.43 265.77 L328.3 263.87 L329.89 261.61 L331.19 259 L332.17 256.07 L332.83 252.86 L333.16 249.4 L333.16 245.72 L332.83 241.88 L332.17 237.9 L331.19 233.84 L329.89 229.73 L328.3 225.63 L326.43 221.58 L324.3 217.62 L321.93 213.79 L319.36 210.15 L316.6 206.72 L313.7 203.54 L310.67 200.66 L307.56 198.1 L304.39 195.89 L301.21 194.05 L298.04 192.61 L294.93 191.57 L291.9 190.96 L289 190.78 L286.24 191.02 L283.67 191.7 L281.3 192.79 L279.17 194.29 L277.3 196.19 L275.71 198.45 L274.41 201.06 L273.43 203.99 L272.77 207.2 L272.44 210.66 L272.44 214.34 L272.77 218.18 L273.43 222.16 L274.41 226.22 L275.71 230.33 L277.3 234.43 L279.17 238.48 L281.3 242.44 L283.67 246.27 L286.24 249.91 L289 253.34 L291.9 256.52 L294.93 259.4 L298.04 261.96 L301.21 264.17 L304.39 266.01 L307.56 267.45 L310.67 268.49 L313.7 269.1 L316.6 269.28 L319.36 269.04 L321.93 268.36Z" fill="#fff" stroke="#3a3a3a" stroke-width="1.1" fill-rule="evenodd"/>
<path d="M327.5 272.81 L324.5 267.62 M329.56 271.41 L326.31 266.38 M331.38 269.72 L327.91 264.9 M332.96 267.79 L329.3 263.2 M334.28 265.68 L330.46 261.35 M335.36 263.43 L331.41 259.38 M336.21 261.09 L332.15 257.32 M336.85 258.68 L332.72 255.2 M337.3 256.23 L333.11 253.05 M337.59 253.76 L333.36 250.88 M337.72 251.27 L333.48 248.69 M337.71 248.78 L333.47 246.5 M337.57 246.29 L333.35 244.31 M337.32 243.81 L333.13 242.14 M336.96 241.34 L332.81 239.97 M336.5 238.9 L332.41 237.82 M335.95 236.47 L331.93 235.68 M335.31 234.06 L331.36 233.57 M334.59 231.67 L330.73 231.47 M333.79 229.31 L330.03 229.4 M332.91 226.98 L329.26 227.35 M331.97 224.67 L328.42 225.32 M330.95 222.4 L327.53 223.33 M329.86 220.16 L326.58 221.35 M328.71 217.95 L325.57 219.41 M327.5 215.77 L324.5 217.5 M326.22 213.63 L323.38 215.62 M324.88 211.53 L322.2 213.77 M323.48 209.47 L320.97 211.96 M322.02 207.45 L319.69 210.19 M320.5 205.47 L318.35 208.46 M318.92 203.55 L316.96 206.77 M317.27 201.68 L315.52 205.12 M315.57 199.86 L314.02 203.52 M313.8 198.1 L312.47 201.98 M311.97 196.41 L310.86 200.49 M310.08 194.79 L309.2 199.07 M308.13 193.24 L307.48 197.71 M306.11 191.78 L305.7 196.43 M304.02 190.42 L303.87 195.23 M301.86 189.17 L301.98 194.13 M299.64 188.04 L300.03 193.14 M297.36 187.05 L298.02 192.27 M295.01 186.21 L295.96 191.53 M292.61 185.56 L293.84 190.97 M290.15 185.13 L291.69 190.58 M287.67 184.94 L289.51 190.42 M285.18 185.03 L287.32 190.49 M282.72 185.43 L285.16 190.85 M280.34 186.17 L283.07 191.5 M278.1 187.25 L281.1 192.44 M276.04 188.65 L279.29 193.68 M274.22 190.34 L277.69 195.16 M272.64 192.27 L276.3 196.86 M271.32 194.38 L275.14 198.71 M270.24 196.63 L274.19 200.68 M269.39 198.97 L273.45 202.74 M268.75 201.38 L272.88 204.86 M268.3 203.83 L272.49 207.01 M268.01 206.3 L272.24 209.18 M267.88 208.79 L272.12 211.37 M267.89 211.28 L272.13 213.56 M268.03 213.77 L272.25 215.74 M268.28 216.25 L272.47 217.92 M268.64 218.71 L272.79 220.09 M269.1 221.16 L273.19 222.24 M269.65 223.59 L273.67 224.38 M270.29 226 L274.24 226.49 M271.01 228.39 L274.87 228.59 M271.81 230.75 L275.57 230.66 M272.69 233.08 L276.34 232.71 M273.63 235.39 L277.18 234.73 M274.65 237.66 L278.07 236.73 M275.74 239.9 L279.02 238.7 M276.89 242.11 L280.03 240.65 M278.1 244.29 L281.1 242.56 M279.38 246.43 L282.22 244.44 M280.72 248.53 L283.4 246.28 M282.12 250.59 L284.63 248.1 M283.58 252.61 L285.91 249.87 M285.1 254.58 L287.25 251.6 M286.68 256.51 L288.64 253.29 M288.33 258.38 L290.08 254.94 M290.03 260.2 L291.58 256.54 M291.8 261.96 L293.13 258.08 M293.63 263.65 L294.74 259.57 M295.52 265.27 L296.4 260.99 M297.47 266.82 L298.12 262.35 M299.49 268.28 L299.9 263.63 M301.58 269.64 L301.73 264.83 M303.74 270.89 L303.62 265.93 M305.96 272.02 L305.57 266.92 M308.24 273.01 L307.58 267.79 M310.59 273.85 L309.64 268.52 M312.99 274.49 L311.76 269.09 M315.45 274.93 L313.91 269.48 M317.93 275.12 L316.09 269.64 M320.42 275.03 L318.28 269.56 M322.88 274.63 L320.44 269.21 M325.26 273.89 L322.53 268.56 " fill="none" stroke="#333" stroke-width="1.3" stroke-linecap="butt"/>
<path d="M327.7 273.16 A49.8 28.75 60 0 0 327.7 215.65 A49.8 28.75 60 0 0 277.9 186.9 A49.8 28.75 60 0 0 277.9 244.41 A49.8 28.75 60 0 0 327.7 273.16 Z" fill="none" stroke="#2e2e2e" stroke-width="1.37" />
<path d="M324.3 267.27 A43 24.83 60 0 0 324.3 217.62 A43 24.83 60 0 0 281.3 192.79 A43 24.83 60 0 0 281.3 242.44 A43 24.83 60 0 0 324.3 267.27 Z" fill="none" stroke="#2e2e2e" stroke-width="1.37" />
<path d="M315.05 280.46 A49.8 28.75 60 0 0 315.05 222.96 A49.8 28.75 60 0 0 265.25 194.21 A49.8 28.75 60 0 0 265.25 251.71 A49.8 28.75 60 0 0 315.05 280.46 ZM310.15 271.97 L311.05 271.41 L310.85 269.83 L310.59 268.25 L311.33 267.57 L312.6 268.22 L313.87 268.82 L314.56 267.93 L314.1 266.28 L313.59 264.65 L314.11 263.7 L315.33 264.03 L316.56 264.28 L316.99 263.12 L316.3 261.47 L315.56 259.86 L315.84 258.67 L316.97 258.66 L318.09 258.57 L318.26 257.18 L317.35 255.61 L316.42 254.09 L316.45 252.71 L317.44 252.36 L318.4 251.93 L318.3 250.37 L317.22 248.95 L316.13 247.58 L315.91 246.08 L316.71 245.41 L317.47 244.65 L317.1 243 L315.91 241.78 L314.71 240.63 L314.25 239.07 L314.82 238.1 L315.35 237.06 L314.73 235.37 L313.47 234.41 L312.21 233.53 L311.53 231.98 L311.86 230.76 L312.13 229.47 L311.29 227.84 L310.01 227.18 L308.75 226.59 L307.87 225.12 L307.94 223.7 L307.95 222.23 L306.92 220.71 L305.68 220.38 L304.48 220.13 L303.45 218.8 L303.25 217.25 L302.99 215.65 L301.82 214.32 L300.67 214.33 L299.58 214.42 L298.44 213.29 L297.98 211.67 L297.47 210.01 L296.2 208.93 L295.21 209.28 L294.26 209.71 L293.06 208.83 L292.38 207.21 L291.63 205.57 L290.33 204.78 L289.52 205.46 L288.77 206.21 L287.56 205.61 L286.67 204.07 L285.73 202.52 L284.44 202.05 L283.86 203.03 L283.34 204.06 L282.18 203.79 L281.12 202.38 L280.01 200.99 L278.81 200.87 L278.48 202.1 L278.21 203.38 L277.14 203.42 L275.96 202.22 L274.75 201.05 L273.67 201.28 L273.6 202.72 L273.6 204.17 L272.67 204.54 L271.42 203.59 L270.15 202.69 L269.25 203.26 L269.45 204.84 L269.71 206.42 L268.97 207.1 L267.7 206.44 L266.43 205.85 L265.74 206.74 L266.2 208.38 L266.71 210.01 L266.19 210.97 L264.97 210.64 L263.74 210.38 L263.31 211.55 L264 213.19 L264.74 214.8 L264.46 216 L263.33 216.01 L262.21 216.1 L262.04 217.49 L262.95 219.06 L263.88 220.58 L263.85 221.96 L262.86 222.3 L261.9 222.73 L262 224.29 L263.08 225.72 L264.17 227.08 L264.39 228.59 L263.59 229.26 L262.83 230.01 L263.2 231.67 L264.39 232.89 L265.59 234.04 L266.05 235.6 L265.48 236.57 L264.95 237.61 L265.57 239.29 L266.83 240.25 L268.09 241.14 L268.77 242.69 L268.44 243.91 L268.17 245.2 L269.01 246.83 L270.29 247.49 L271.55 248.07 L272.43 249.54 L272.36 250.96 L272.35 252.44 L273.38 253.95 L274.62 254.28 L275.82 254.54 L276.85 255.87 L277.05 257.42 L277.31 259.02 L278.48 260.35 L279.63 260.34 L280.72 260.25 L281.86 261.38 L282.32 263 L282.83 264.65 L284.1 265.74 L285.09 265.38 L286.04 264.96 L287.24 265.84 L287.92 267.46 L288.67 269.09 L289.97 269.89 L290.78 269.2 L291.53 268.46 L292.74 269.05 L293.63 270.6 L294.57 272.15 L295.86 272.62 L296.44 271.63 L296.96 270.6 L298.12 270.88 L299.18 272.29 L300.29 273.68 L301.49 273.8 L301.82 272.56 L302.09 271.29 L303.16 271.24 L304.34 272.45 L305.55 273.62 L306.63 273.39 L306.7 271.95 L306.7 270.5 L307.63 270.12 L308.88 271.07Z" fill="#fff" stroke="#3a3a3a" stroke-width="0.98" fill-rule="evenodd"/>
<path d="M313.85 281.15 A49.8 28.75 60 0 0 313.85 223.65 A49.8 28.75 60 0 0 264.05 194.9 A49.8 28.75 60 0 0 264.05 252.4 A49.8 28.75 60 0 0 313.85 281.15 ZM308.95 272.67 L309.85 272.1 L309.65 270.52 L309.39 268.94 L310.13 268.26 L311.4 268.92 L312.67 269.51 L313.36 268.62 L312.9 266.98 L312.39 265.35 L312.91 264.39 L314.13 264.72 L315.36 264.98 L315.79 263.81 L315.1 262.17 L314.36 260.56 L314.64 259.36 L315.77 259.35 L316.89 259.26 L317.06 257.87 L316.15 256.3 L315.22 254.78 L315.25 253.4 L316.24 253.05 L317.2 252.62 L317.1 251.07 L316.02 249.64 L314.93 248.27 L314.71 246.77 L315.51 246.1 L316.27 245.35 L315.9 243.69 L314.71 242.47 L313.51 241.32 L313.05 239.76 L313.62 238.79 L314.15 237.75 L313.53 236.07 L312.27 235.1 L311.01 234.22 L310.33 232.67 L310.66 231.45 L310.93 230.16 L310.09 228.53 L308.81 227.87 L307.55 227.29 L306.67 225.81 L306.74 224.4 L306.75 222.92 L305.72 221.41 L304.48 221.07 L303.28 220.82 L302.25 219.49 L302.05 217.94 L301.79 216.34 L300.62 215.01 L299.47 215.02 L298.38 215.11 L297.24 213.98 L296.78 212.36 L296.27 210.71 L295 209.62 L294.01 209.98 L293.06 210.4 L291.86 209.52 L291.18 207.9 L290.43 206.27 L289.13 205.47 L288.32 206.15 L287.57 206.9 L286.36 206.31 L285.47 204.76 L284.53 203.21 L283.24 202.74 L282.66 203.73 L282.14 204.76 L280.98 204.48 L279.92 203.07 L278.81 201.68 L277.61 201.56 L277.28 202.8 L277.01 204.07 L275.94 204.12 L274.76 202.91 L273.55 201.74 L272.47 201.97 L272.4 203.41 L272.4 204.86 L271.47 205.24 L270.22 204.29 L268.95 203.38 L268.05 203.95 L268.25 205.53 L268.51 207.11 L267.77 207.79 L266.5 207.13 L265.23 206.54 L264.54 207.43 L265 209.08 L265.51 210.7 L264.99 211.66 L263.77 211.33 L262.54 211.08 L262.11 212.24 L262.8 213.88 L263.54 215.5 L263.26 216.69 L262.13 216.7 L261.01 216.79 L260.84 218.18 L261.75 219.75 L262.68 221.27 L262.65 222.65 L261.66 223 L260.7 223.43 L260.8 224.98 L261.88 226.41 L262.97 227.78 L263.19 229.28 L262.39 229.95 L261.63 230.71 L262 232.36 L263.19 233.58 L264.39 234.73 L264.85 236.29 L264.28 237.26 L263.75 238.3 L264.37 239.98 L265.63 240.95 L266.89 241.83 L267.57 243.38 L267.24 244.6 L266.97 245.89 L267.81 247.52 L269.09 248.18 L270.35 248.76 L271.23 250.24 L271.16 251.66 L271.15 253.13 L272.18 254.65 L273.42 254.98 L274.62 255.23 L275.65 256.56 L275.85 258.11 L276.11 259.71 L277.28 261.04 L278.43 261.03 L279.52 260.94 L280.66 262.07 L281.12 263.69 L281.63 265.35 L282.9 266.43 L283.89 266.08 L284.84 265.65 L286.04 266.53 L286.72 268.15 L287.47 269.79 L288.77 270.58 L289.58 269.9 L290.33 269.15 L291.54 269.75 L292.43 271.29 L293.37 272.84 L294.66 273.31 L295.24 272.33 L295.76 271.3 L296.92 271.57 L297.98 272.98 L299.09 274.37 L300.29 274.49 L300.62 273.25 L300.89 271.98 L301.96 271.94 L303.14 273.14 L304.35 274.31 L305.43 274.08 L305.5 272.64 L305.5 271.19 L306.43 270.82 L307.68 271.77Z" fill="#fff" stroke="#3a3a3a" stroke-width="0.98" fill-rule="evenodd"/>
<path d="M301.34 288.36 L302.06 287.96 L302.76 287.53 L303.44 287.06 L304.1 286.56 L304.73 286.03 L306.78 288.56 L311.06 282.96 L309.1 280.32 L309.5 279.5 L309.88 278.64 L310.24 277.76 L310.56 276.85 L310.86 275.91 L310.86 275.91 L311.19 274.75 L311.47 273.55 L311.71 272.32 L311.92 271.06 L312.08 269.76 L314.43 271.12 L314.59 264.07 L312.24 262.58 L312.15 261.12 L312.01 259.65 L311.83 258.17 L311.6 256.66 L311.34 255.14 L311.34 255.14 L311.01 253.48 L310.63 251.8 L310.2 250.11 L309.73 248.41 L309.21 246.71 L311.24 246.54 L308.8 239.92 L306.71 239.96 L305.98 238.27 L305.2 236.59 L304.39 234.92 L303.53 233.27 L302.64 231.63 L302.64 231.63 L301.71 230 L300.75 228.39 L299.75 226.81 L298.72 225.25 L297.66 223.72 L298.84 222.07 L294.51 216.5 L293.24 218.05 L292.05 216.69 L290.84 215.36 L289.61 214.08 L288.36 212.85 L287.1 211.65 L287.1 211.65 L285.92 210.59 L284.72 209.57 L283.52 208.59 L282.31 207.66 L281.09 206.77 L281.09 204.06 L275.06 200.4 L274.95 203.04 L273.72 202.44 L272.5 201.9 L271.29 201.41 L270.08 200.97 L268.88 200.58 L268.88 200.58 L267.89 200.3 L266.9 200.06 L265.92 199.86 L264.96 199.69 L264 199.56 L262.81 196.52 L255.77 196.87 L256.82 199.92 L255.99 200.13 L255.18 200.39 L254.39 200.68 L253.61 201.01 L252.86 201.38 L252.86 201.38 L252.14 201.77 L251.44 202.21 L250.76 202.67 L250.1 203.17 L249.47 203.71 L247.42 201.18 L243.14 206.78 L245.1 209.41 L244.7 210.24 L244.32 211.1 L243.96 211.98 L243.64 212.89 L243.34 213.83 L243.34 213.83 L243.01 214.99 L242.73 216.18 L242.49 217.41 L242.28 218.68 L242.12 219.97 L239.77 218.61 L239.61 225.67 L241.96 227.16 L242.05 228.61 L242.19 230.08 L242.37 231.57 L242.6 233.07 L242.86 234.59 L242.86 234.59 L243.19 236.26 L243.57 237.94 L244 239.63 L244.47 241.32 L244.99 243.02 L242.96 243.19 L245.4 249.81 L247.49 249.77 L248.22 251.46 L249 253.14 L249.81 254.81 L250.67 256.47 L251.56 258.11 L251.56 258.11 L252.49 259.74 L253.45 261.34 L254.45 262.92 L255.48 264.48 L256.54 266.01 L255.36 267.66 L259.69 273.23 L260.96 271.69 L262.15 273.05 L263.36 274.37 L264.59 275.65 L265.84 276.89 L267.1 278.08 L267.1 278.08 L268.28 279.14 L269.48 280.16 L270.68 281.14 L271.89 282.07 L273.11 282.96 L273.11 285.67 L279.14 289.33 L279.25 286.7 L280.48 287.29 L281.7 287.84 L282.91 288.33 L284.12 288.77 L285.32 289.15 L285.32 289.15 L286.31 289.43 L287.3 289.67 L288.28 289.88 L289.24 290.05 L290.2 290.17 L291.39 293.21 L298.43 292.86 L297.38 289.82 L298.21 289.6 L299.02 289.35 L299.81 289.05 L300.59 288.72 L301.34 288.36ZM298.6 282.11 L300.73 280.61 L302.6 278.71 L304.19 276.45 L305.49 273.84 L306.47 270.91 L307.13 267.7 L307.46 264.24 L307.46 260.56 L307.13 256.71 L306.47 252.74 L305.49 248.67 L304.19 244.57 L302.6 240.47 L300.73 236.42 L298.6 232.45 L296.23 228.63 L293.66 224.98 L290.9 221.55 L288 218.38 L284.97 215.5 L281.86 212.94 L278.69 210.72 L275.51 208.89 L272.34 207.44 L269.23 206.41 L266.2 205.8 L263.3 205.62 L260.54 205.86 L257.97 206.53 L255.6 207.63 L253.47 209.13 L251.6 211.02 L250.01 213.29 L248.71 215.9 L247.73 218.82 L247.07 222.04 L246.74 225.5 L246.74 229.17 L247.07 233.02 L247.73 237 L248.71 241.06 L250.01 245.17 L251.6 249.27 L253.47 253.32 L255.6 257.28 L257.97 261.11 L260.54 264.75 L263.3 268.18 L266.2 271.35 L269.23 274.24 L272.34 276.8 L275.51 279.01 L278.69 280.85 L281.86 282.29 L284.97 283.32 L288 283.94 L290.9 284.12 L293.66 283.87 L296.23 283.2Z" fill="#fff" stroke="#3a3a3a" stroke-width="0.98" fill-rule="evenodd"/>
<path d="M299.34 289.51 L300.06 289.12 L300.76 288.68 L301.44 288.22 L302.1 287.72 L302.73 287.18 L304.78 289.71 L309.06 284.11 L307.1 281.48 L307.5 280.65 L307.88 279.79 L308.24 278.91 L308.56 278 L308.86 277.06 L308.86 277.06 L309.19 275.9 L309.47 274.71 L309.71 273.48 L309.92 272.21 L310.08 270.92 L312.43 272.28 L312.59 265.22 L310.24 263.73 L310.15 262.28 L310.01 260.81 L309.83 259.32 L309.6 257.82 L309.34 256.3 L309.34 256.3 L309.01 254.63 L308.63 252.95 L308.2 251.26 L307.73 249.57 L307.21 247.86 L309.24 247.7 L306.8 241.08 L304.71 241.12 L303.98 239.43 L303.2 237.75 L302.39 236.08 L301.53 234.42 L300.64 232.78 L300.64 232.78 L299.71 231.15 L298.75 229.55 L297.75 227.96 L296.72 226.41 L295.66 224.88 L296.84 223.23 L292.51 217.66 L291.24 219.2 L290.05 217.84 L288.84 216.52 L287.61 215.24 L286.36 214 L285.1 212.81 L285.1 212.81 L283.92 211.75 L282.72 210.73 L281.52 209.75 L280.31 208.82 L279.09 207.93 L279.09 205.22 L273.06 201.55 L272.95 204.19 L271.72 203.6 L270.5 203.05 L269.29 202.56 L268.08 202.12 L266.88 201.74 L266.88 201.74 L265.89 201.46 L264.9 201.21 L263.92 201.01 L262.96 200.84 L262 200.72 L260.81 197.68 L253.77 198.03 L254.82 201.07 L253.99 201.29 L253.18 201.54 L252.39 201.84 L251.61 202.17 L250.86 202.53 L250.86 202.53 L250.14 202.93 L249.44 203.36 L248.76 203.83 L248.1 204.33 L247.47 204.86 L245.42 202.33 L241.14 207.93 L243.1 210.57 L242.7 211.39 L242.32 212.25 L241.96 213.13 L241.64 214.04 L241.34 214.98 L241.34 214.98 L241.01 216.14 L240.73 217.34 L240.49 218.57 L240.28 219.83 L240.12 221.13 L237.77 219.77 L237.61 226.82 L239.96 228.31 L240.05 229.77 L240.19 231.24 L240.37 232.72 L240.6 234.23 L240.86 235.75 L240.86 235.75 L241.19 237.41 L241.57 239.09 L242 240.78 L242.47 242.48 L242.99 244.18 L240.96 244.35 L243.4 250.96 L245.49 250.93 L246.22 252.62 L247 254.3 L247.81 255.97 L248.67 257.62 L249.56 259.26 L249.56 259.26 L250.49 260.89 L251.45 262.5 L252.45 264.08 L253.48 265.64 L254.54 267.17 L253.36 268.82 L257.69 274.39 L258.96 272.84 L260.15 274.2 L261.36 275.53 L262.59 276.81 L263.84 278.04 L265.1 279.24 L265.1 279.24 L266.28 280.3 L267.48 281.32 L268.68 282.3 L269.89 283.23 L271.11 284.12 L271.11 286.83 L277.14 290.49 L277.25 287.85 L278.48 288.45 L279.7 288.99 L280.91 289.48 L282.12 289.92 L283.32 290.31 L283.32 290.31 L284.31 290.59 L285.3 290.83 L286.28 291.03 L287.24 291.2 L288.2 291.33 L289.39 294.37 L296.43 294.02 L295.38 290.97 L296.21 290.76 L297.02 290.5 L297.81 290.21 L298.59 289.88 L299.34 289.51ZM296.6 283.26 L298.73 281.76 L300.6 279.87 L302.19 277.6 L303.49 274.99 L304.47 272.07 L305.13 268.85 L305.46 265.39 L305.46 261.72 L305.13 257.87 L304.47 253.89 L303.49 249.83 L302.19 245.72 L300.6 241.62 L298.73 237.57 L296.6 233.61 L294.23 229.78 L291.66 226.14 L288.9 222.71 L286 219.54 L282.97 216.65 L279.86 214.09 L276.69 211.88 L273.51 210.04 L270.34 208.6 L267.23 207.57 L264.2 206.95 L261.3 206.77 L258.54 207.02 L255.97 207.69 L253.6 208.78 L251.47 210.28 L249.6 212.18 L248.01 214.44 L246.71 217.05 L245.73 219.98 L245.07 223.19 L244.74 226.65 L244.74 230.33 L245.07 234.18 L245.73 238.15 L246.71 242.22 L248.01 246.32 L249.6 250.42 L251.47 254.47 L253.6 258.44 L255.97 262.26 L258.54 265.91 L261.3 269.34 L264.2 272.51 L267.23 275.39 L270.34 277.95 L273.51 280.16 L276.69 282 L279.86 283.45 L282.97 284.48 L286 285.09 L288.9 285.27 L291.66 285.03 L294.23 284.35Z" fill="#fff" stroke="#3a3a3a" stroke-width="1.1" fill-rule="evenodd"/>
<path d="M299.8 288.8 L296.8 283.61 M301.86 287.4 L298.61 282.37 M303.68 285.71 L300.21 280.89 M305.26 283.78 L301.6 279.2 M306.58 281.67 L302.76 277.34 M307.66 279.43 L303.71 275.37 M308.51 277.08 L304.45 273.31 M309.15 274.68 L305.02 271.2 M309.6 272.23 L305.41 269.04 M309.89 269.75 L305.66 266.87 M310.02 267.26 L305.78 264.68 M310.01 264.77 L305.77 262.49 M309.87 262.28 L305.65 260.31 M309.62 259.8 L305.43 258.13 M309.26 257.34 L305.11 255.96 M308.8 254.89 L304.71 253.81 M308.25 252.46 L304.23 251.68 M307.61 250.05 L303.66 249.56 M306.89 247.66 L303.03 247.46 M306.09 245.3 L302.33 245.39 M305.21 242.97 L301.56 243.34 M304.27 240.67 L300.72 241.32 M303.25 238.39 L299.83 239.32 M302.16 236.15 L298.88 237.35 M301.01 233.94 L297.87 235.41 M299.8 231.76 L296.8 233.49 M298.52 229.62 L295.68 231.61 M297.18 227.52 L294.5 229.77 M295.78 225.46 L293.27 227.96 M294.32 223.44 L291.99 226.18 M292.8 221.47 L290.65 224.45 M291.22 219.54 L289.26 222.76 M289.57 217.67 L287.82 221.11 M287.87 215.85 L286.32 219.52 M286.1 214.09 L284.77 217.97 M284.27 212.4 L283.16 216.48 M282.38 210.78 L281.5 215.06 M280.43 209.23 L279.78 213.7 M278.41 207.78 L278 212.42 M276.32 206.42 L276.17 211.23 M274.16 205.16 L274.28 210.12 M271.94 204.03 L272.33 209.13 M269.66 203.04 L270.32 208.26 M267.31 202.21 L268.26 207.53 M264.91 201.56 L266.14 206.96 M262.45 201.12 L263.99 206.58 M259.97 200.93 L261.81 206.41 M257.48 201.02 L259.62 206.49 M255.02 201.42 L257.46 206.84 M252.64 202.16 L255.37 207.49 M250.4 203.24 L253.4 208.44 M248.34 204.64 L251.59 209.67 M246.52 206.34 L249.99 211.16 M244.94 208.26 L248.6 212.85 M243.62 210.37 L247.44 214.7 M242.54 212.62 L246.49 216.68 M241.69 214.96 L245.75 218.73 M241.05 217.37 L245.18 220.85 M240.6 219.82 L244.79 223 M240.31 222.29 L244.54 225.18 M240.18 224.78 L244.42 227.36 M240.19 227.27 L244.43 229.55 M240.33 229.76 L244.55 231.74 M240.58 232.24 L244.77 233.91 M240.94 234.71 L245.09 236.08 M241.4 237.16 L245.49 238.23 M241.95 239.59 L245.97 240.37 M242.59 242 L246.54 242.48 M243.31 244.38 L247.17 244.58 M244.11 246.74 L247.87 246.65 M244.99 249.07 L248.64 248.7 M245.93 251.38 L249.48 250.73 M246.95 253.65 L250.37 252.73 M248.04 255.9 L251.32 254.7 M249.19 258.11 L252.33 256.64 M250.4 260.28 L253.4 258.55 M251.68 262.42 L254.52 260.43 M253.02 264.52 L255.7 262.28 M254.42 266.59 L256.93 264.09 M255.88 268.6 L258.21 265.86 M257.4 270.58 L259.55 267.59 M258.98 272.5 L260.94 269.29 M260.63 274.38 L262.38 270.93 M262.33 276.19 L263.88 272.53 M264.1 277.95 L265.43 274.07 M265.93 279.64 L267.04 275.56 M267.82 281.27 L268.7 276.99 M269.77 282.81 L270.42 278.34 M271.79 284.27 L272.2 279.62 M273.88 285.63 L274.03 280.82 M276.04 286.88 L275.92 281.92 M278.26 288.01 L277.87 282.91 M280.54 289.01 L279.88 283.79 M282.89 289.84 L281.94 284.52 M285.29 290.49 L284.06 285.09 M287.75 290.92 L286.21 285.47 M290.23 291.11 L288.39 285.64 M292.72 291.02 L290.58 285.56 M295.18 290.62 L292.74 285.2 M297.56 289.88 L294.83 284.56 " fill="none" stroke="#333" stroke-width="1.3" stroke-linecap="butt"/>
<path d="M300 289.15 A49.8 28.75 60 0 0 300 231.65 A49.8 28.75 60 0 0 250.2 202.89 A49.8 28.75 60 0 0 250.2 260.4 A49.8 28.75 60 0 0 300 289.15 Z" fill="none" stroke="#2e2e2e" stroke-width="1.37" />
<path d="M296.6 283.26 A43 24.83 60 0 0 296.6 233.61 A43 24.83 60 0 0 253.6 208.78 A43 24.83 60 0 0 253.6 258.44 A43 24.83 60 0 0 296.6 283.26 Z" fill="none" stroke="#2e2e2e" stroke-width="1.37" />
<path d="M287.35 296.45 A49.8 28.75 60 0 0 287.35 238.95 A49.8 28.75 60 0 0 237.55 210.2 A49.8 28.75 60 0 0 237.55 267.7 A49.8 28.75 60 0 0 287.35 296.45 ZM282.45 287.97 L283.35 287.4 L283.15 285.82 L282.89 284.24 L283.63 283.56 L284.9 284.22 L286.17 284.81 L286.86 283.92 L286.4 282.28 L285.89 280.65 L286.41 279.69 L287.63 280.02 L288.86 280.28 L289.29 279.11 L288.6 277.47 L287.86 275.86 L288.14 274.66 L289.27 274.65 L290.39 274.56 L290.56 273.17 L289.65 271.6 L288.72 270.08 L288.75 268.7 L289.74 268.35 L290.7 267.92 L290.6 266.37 L289.52 264.94 L288.43 263.57 L288.21 262.07 L289.01 261.4 L289.77 260.65 L289.4 258.99 L288.21 257.77 L287.01 256.62 L286.55 255.06 L287.12 254.09 L287.65 253.05 L287.03 251.37 L285.77 250.4 L284.51 249.52 L283.83 247.97 L284.16 246.75 L284.43 245.46 L283.59 243.83 L282.31 243.17 L281.05 242.59 L280.17 241.11 L280.24 239.7 L280.25 238.22 L279.22 236.71 L277.98 236.37 L276.78 236.12 L275.75 234.79 L275.55 233.24 L275.29 231.64 L274.12 230.31 L272.97 230.32 L271.88 230.41 L270.74 229.28 L270.28 227.66 L269.77 226.01 L268.5 224.92 L267.51 225.28 L266.56 225.7 L265.36 224.82 L264.68 223.2 L263.93 221.57 L262.63 220.77 L261.82 221.45 L261.07 222.2 L259.86 221.61 L258.97 220.06 L258.03 218.51 L256.74 218.04 L256.16 219.03 L255.64 220.06 L254.48 219.78 L253.42 218.37 L252.31 216.98 L251.11 216.86 L250.78 218.1 L250.51 219.37 L249.44 219.42 L248.26 218.21 L247.05 217.04 L245.97 217.27 L245.9 218.71 L245.9 220.16 L244.97 220.54 L243.72 219.58 L242.45 218.68 L241.55 219.25 L241.75 220.83 L242.01 222.41 L241.27 223.09 L240 222.43 L238.73 221.84 L238.04 222.73 L238.5 224.38 L239.01 226 L238.49 226.96 L237.27 226.63 L236.04 226.38 L235.61 227.54 L236.3 229.18 L237.04 230.8 L236.76 231.99 L235.63 232 L234.51 232.09 L234.34 233.48 L235.25 235.05 L236.18 236.57 L236.15 237.95 L235.16 238.3 L234.2 238.73 L234.3 240.28 L235.38 241.71 L236.47 243.08 L236.69 244.58 L235.89 245.25 L235.13 246.01 L235.5 247.66 L236.69 248.88 L237.89 250.03 L238.35 251.59 L237.78 252.56 L237.25 253.6 L237.87 255.28 L239.13 256.25 L240.39 257.13 L241.07 258.68 L240.74 259.9 L240.47 261.19 L241.31 262.82 L242.59 263.48 L243.85 264.06 L244.73 265.54 L244.66 266.95 L244.65 268.43 L245.68 269.95 L246.92 270.28 L248.12 270.53 L249.15 271.86 L249.35 273.41 L249.61 275.01 L250.78 276.34 L251.93 276.33 L253.02 276.24 L254.16 277.37 L254.62 278.99 L255.13 280.65 L256.4 281.73 L257.39 281.38 L258.34 280.95 L259.54 281.83 L260.22 283.45 L260.97 285.09 L262.27 285.88 L263.08 285.2 L263.83 284.45 L265.04 285.04 L265.93 286.59 L266.87 288.14 L268.16 288.61 L268.74 287.63 L269.26 286.6 L270.42 286.87 L271.48 288.28 L272.59 289.67 L273.79 289.79 L274.12 288.55 L274.39 287.28 L275.46 287.24 L276.64 288.44 L277.85 289.61 L278.93 289.38 L279 287.94 L279 286.49 L279.93 286.12 L281.18 287.07Z" fill="#fff" stroke="#3a3a3a" stroke-width="0.98" fill-rule="evenodd"/>
<path d="M286.15 297.15 A49.8 28.75 60 0 0 286.15 239.64 A49.8 28.75 60 0 0 236.35 210.89 A49.8 28.75 60 0 0 236.35 268.39 A49.8 28.75 60 0 0 286.15 297.15 ZM281.25 288.66 L282.15 288.09 L281.95 286.51 L281.69 284.94 L282.43 284.26 L283.7 284.91 L284.97 285.5 L285.66 284.62 L285.2 282.97 L284.69 281.34 L285.21 280.38 L286.43 280.71 L287.66 280.97 L288.09 279.8 L287.4 278.16 L286.66 276.55 L286.94 275.35 L288.07 275.34 L289.19 275.26 L289.36 273.87 L288.45 272.3 L287.52 270.77 L287.55 269.4 L288.54 269.05 L289.5 268.62 L289.4 267.06 L288.32 265.63 L287.23 264.27 L287.01 262.76 L287.81 262.09 L288.57 261.34 L288.2 259.68 L287.01 258.46 L285.81 257.31 L285.35 255.75 L285.92 254.78 L286.45 253.74 L285.83 252.06 L284.57 251.1 L283.31 250.21 L282.63 248.66 L282.96 247.44 L283.23 246.16 L282.39 244.52 L281.11 243.86 L279.85 243.28 L278.97 241.81 L279.04 240.39 L279.05 238.91 L278.02 237.4 L276.78 237.07 L275.58 236.82 L274.55 235.49 L274.35 233.93 L274.09 232.33 L272.92 231 L271.77 231.02 L270.68 231.1 L269.54 229.97 L269.08 228.35 L268.57 226.7 L267.3 225.61 L266.31 225.97 L265.36 226.39 L264.16 225.51 L263.48 223.89 L262.73 222.26 L261.43 221.46 L260.62 222.15 L259.87 222.89 L258.66 222.3 L257.77 220.75 L256.83 219.21 L255.54 218.74 L254.96 219.72 L254.44 220.75 L253.28 220.47 L252.22 219.06 L251.11 217.68 L249.91 217.55 L249.58 218.79 L249.31 220.06 L248.24 220.11 L247.06 218.9 L245.85 217.73 L244.77 217.96 L244.7 219.4 L244.7 220.86 L243.77 221.23 L242.52 220.28 L241.25 219.38 L240.35 219.95 L240.55 221.52 L240.81 223.1 L240.07 223.78 L238.8 223.13 L237.53 222.54 L236.84 223.42 L237.3 225.07 L237.81 226.7 L237.29 227.66 L236.07 227.33 L234.84 227.07 L234.41 228.23 L235.1 229.88 L235.84 231.49 L235.56 232.68 L234.43 232.69 L233.31 232.78 L233.14 234.17 L234.05 235.74 L234.98 237.26 L234.95 238.64 L233.96 238.99 L233 239.42 L233.1 240.98 L234.18 242.4 L235.27 243.77 L235.49 245.27 L234.69 245.95 L233.93 246.7 L234.3 248.35 L235.49 249.57 L236.69 250.73 L237.15 252.29 L236.58 253.25 L236.05 254.3 L236.67 255.98 L237.93 256.94 L239.19 257.82 L239.87 259.37 L239.54 260.59 L239.27 261.88 L240.11 263.52 L241.39 264.18 L242.65 264.76 L243.53 266.23 L243.46 267.65 L243.45 269.12 L244.48 270.64 L245.72 270.97 L246.92 271.22 L247.95 272.55 L248.15 274.11 L248.41 275.71 L249.58 277.04 L250.73 277.02 L251.82 276.93 L252.96 278.06 L253.42 279.69 L253.93 281.34 L255.2 282.43 L256.19 282.07 L257.14 281.64 L258.34 282.52 L259.02 284.14 L259.77 285.78 L261.07 286.58 L261.88 285.89 L262.63 285.15 L263.84 285.74 L264.73 287.29 L265.67 288.83 L266.96 289.3 L267.54 288.32 L268.06 287.29 L269.22 287.57 L270.28 288.97 L271.39 290.36 L272.59 290.49 L272.92 289.25 L273.19 287.98 L274.26 287.93 L275.44 289.13 L276.65 290.3 L277.73 290.08 L277.8 288.64 L277.8 287.18 L278.73 286.81 L279.98 287.76Z" fill="#fff" stroke="#3a3a3a" stroke-width="0.98" fill-rule="evenodd"/>
<path d="M273.64 304.35 L274.36 303.95 L275.06 303.52 L275.74 303.06 L276.4 302.56 L277.03 302.02 L279.08 304.55 L283.36 298.95 L281.4 296.32 L281.8 295.49 L282.18 294.63 L282.54 293.75 L282.86 292.84 L283.16 291.9 L283.16 291.9 L283.49 290.74 L283.77 289.54 L284.01 288.31 L284.22 287.05 L284.38 285.76 L286.73 287.11 L286.89 280.06 L284.54 278.57 L284.45 277.12 L284.31 275.65 L284.13 274.16 L283.9 272.65 L283.64 271.14 L283.64 271.14 L283.31 269.47 L282.93 267.79 L282.5 266.1 L282.03 264.4 L281.51 262.7 L283.54 262.54 L281.1 255.92 L279.01 255.96 L278.28 254.27 L277.5 252.58 L276.69 250.91 L275.83 249.26 L274.94 247.62 L274.94 247.62 L274.01 245.99 L273.05 244.39 L272.05 242.8 L271.02 241.25 L269.96 239.72 L271.14 238.06 L266.81 232.49 L265.54 234.04 L264.35 232.68 L263.14 231.36 L261.91 230.08 L260.66 228.84 L259.4 227.65 L259.4 227.65 L258.22 226.58 L257.02 225.56 L255.82 224.59 L254.61 223.65 L253.39 222.76 L253.39 220.06 L247.36 216.39 L247.25 219.03 L246.02 218.44 L244.8 217.89 L243.59 217.4 L242.38 216.96 L241.18 216.58 L241.18 216.58 L240.19 216.3 L239.2 216.05 L238.22 215.85 L237.26 215.68 L236.3 215.55 L235.11 212.52 L228.07 212.87 L229.12 215.91 L228.29 216.13 L227.48 216.38 L226.69 216.67 L225.91 217 L225.16 217.37 L225.16 217.37 L224.44 217.77 L223.74 218.2 L223.06 218.66 L222.4 219.16 L221.77 219.7 L219.72 217.17 L215.44 222.77 L217.4 225.4 L217 226.23 L216.62 227.09 L216.26 227.97 L215.94 228.88 L215.64 229.82 L215.64 229.82 L215.31 230.98 L215.03 232.18 L214.79 233.41 L214.58 234.67 L214.42 235.96 L212.07 234.61 L211.91 241.66 L214.26 243.15 L214.35 244.6 L214.49 246.07 L214.67 247.56 L214.9 249.07 L215.16 250.58 L215.16 250.58 L215.49 252.25 L215.87 253.93 L216.3 255.62 L216.77 257.32 L217.29 259.02 L215.26 259.18 L217.7 265.8 L219.79 265.76 L220.52 267.46 L221.3 269.14 L222.11 270.81 L222.97 272.46 L223.86 274.1 L223.86 274.1 L224.79 275.73 L225.75 277.33 L226.75 278.92 L227.78 280.47 L228.84 282 L227.66 283.66 L231.99 289.23 L233.26 287.68 L234.45 289.04 L235.66 290.36 L236.89 291.64 L238.14 292.88 L239.4 294.07 L239.4 294.07 L240.58 295.14 L241.78 296.16 L242.98 297.13 L244.19 298.07 L245.41 298.96 L245.41 301.66 L251.44 305.33 L251.55 302.69 L252.78 303.28 L254 303.83 L255.21 304.32 L256.42 304.76 L257.62 305.14 L257.62 305.14 L258.61 305.42 L259.6 305.67 L260.58 305.87 L261.54 306.04 L262.5 306.17 L263.69 309.2 L270.73 308.85 L269.68 305.81 L270.51 305.59 L271.32 305.34 L272.11 305.05 L272.89 304.72 L273.64 304.35ZM270.9 298.1 L273.03 296.6 L274.9 294.7 L276.49 292.44 L277.79 289.83 L278.77 286.9 L279.43 283.69 L279.76 280.23 L279.76 276.55 L279.43 272.71 L278.77 268.73 L277.79 264.67 L276.49 260.56 L274.9 256.46 L273.03 252.41 L270.9 248.45 L268.53 244.62 L265.96 240.98 L263.2 237.55 L260.3 234.37 L257.27 231.49 L254.16 228.93 L250.99 226.72 L247.81 224.88 L244.64 223.44 L241.53 222.4 L238.5 221.79 L235.6 221.61 L232.84 221.85 L230.27 222.53 L227.9 223.62 L225.77 225.12 L223.9 227.02 L222.31 229.28 L221.01 231.89 L220.03 234.82 L219.37 238.03 L219.04 241.49 L219.04 245.17 L219.37 249.01 L220.03 252.99 L221.01 257.05 L222.31 261.16 L223.9 265.26 L225.77 269.31 L227.9 273.27 L230.27 277.1 L232.84 280.74 L235.6 284.17 L238.5 287.35 L241.53 290.23 L244.64 292.79 L247.81 295 L250.99 296.84 L254.16 298.28 L257.27 299.32 L260.3 299.93 L263.2 300.11 L265.96 299.87 L268.53 299.19Z" fill="#fff" stroke="#3a3a3a" stroke-width="0.98" fill-rule="evenodd"/>
<path d="M271.64 305.5 L272.36 305.11 L273.06 304.68 L273.74 304.21 L274.4 303.71 L275.03 303.18 L277.08 305.7 L281.36 300.11 L279.4 297.47 L279.8 296.64 L280.18 295.79 L280.54 294.9 L280.86 293.99 L281.16 293.06 L281.16 293.06 L281.49 291.9 L281.77 290.7 L282.01 289.47 L282.22 288.21 L282.38 286.91 L284.73 288.27 L284.89 281.22 L282.54 279.72 L282.45 278.27 L282.31 276.8 L282.13 275.31 L281.9 273.81 L281.64 272.29 L281.64 272.29 L281.31 270.62 L280.93 268.94 L280.5 267.26 L280.03 265.56 L279.51 263.86 L281.54 263.69 L279.1 257.07 L277.01 257.11 L276.28 255.42 L275.5 253.74 L274.69 252.07 L273.83 250.41 L272.94 248.77 L272.94 248.77 L272.01 247.15 L271.05 245.54 L270.05 243.96 L269.02 242.4 L267.96 240.87 L269.14 239.22 L264.81 233.65 L263.54 235.19 L262.35 233.83 L261.14 232.51 L259.91 231.23 L258.66 229.99 L257.4 228.8 L257.4 228.8 L256.22 227.74 L255.02 226.72 L253.82 225.74 L252.61 224.81 L251.39 223.92 L251.39 221.21 L245.36 217.55 L245.25 220.19 L244.02 219.59 L242.8 219.05 L241.59 218.55 L240.38 218.12 L239.18 217.73 L239.18 217.73 L238.19 217.45 L237.2 217.21 L236.22 217 L235.26 216.84 L234.3 216.71 L233.11 213.67 L226.07 214.02 L227.12 217.06 L226.29 217.28 L225.48 217.54 L224.69 217.83 L223.91 218.16 L223.16 218.53 L223.16 218.53 L222.44 218.92 L221.74 219.35 L221.06 219.82 L220.4 220.32 L219.77 220.85 L217.72 218.32 L213.44 223.92 L215.4 226.56 L215 227.39 L214.62 228.24 L214.26 229.13 L213.94 230.04 L213.64 230.97 L213.64 230.97 L213.31 232.13 L213.03 233.33 L212.79 234.56 L212.58 235.82 L212.42 237.12 L210.07 235.76 L209.91 242.81 L212.26 244.31 L212.35 245.76 L212.49 247.23 L212.67 248.72 L212.9 250.22 L213.16 251.74 L213.16 251.74 L213.49 253.41 L213.87 255.08 L214.3 256.77 L214.77 258.47 L215.29 260.17 L213.26 260.34 L215.7 266.96 L217.79 266.92 L218.52 268.61 L219.3 270.29 L220.11 271.96 L220.97 273.62 L221.86 275.26 L221.86 275.26 L222.79 276.88 L223.75 278.49 L224.75 280.07 L225.78 281.63 L226.84 283.16 L225.66 284.81 L229.99 290.38 L231.26 288.83 L232.45 290.2 L233.66 291.52 L234.89 292.8 L236.14 294.04 L237.4 295.23 L237.4 295.23 L238.58 296.29 L239.78 297.31 L240.98 298.29 L242.19 299.22 L243.41 300.11 L243.41 302.82 L249.44 306.48 L249.55 303.84 L250.78 304.44 L252 304.98 L253.21 305.47 L254.42 305.91 L255.62 306.3 L255.62 306.3 L256.61 306.58 L257.6 306.82 L258.58 307.03 L259.54 307.19 L260.5 307.32 L261.69 310.36 L268.73 310.01 L267.68 306.97 L268.51 306.75 L269.32 306.49 L270.11 306.2 L270.89 305.87 L271.64 305.5ZM268.9 299.25 L271.03 297.75 L272.9 295.86 L274.49 293.6 L275.79 290.99 L276.77 288.06 L277.43 284.85 L277.76 281.38 L277.76 277.71 L277.43 273.86 L276.77 269.88 L275.79 265.82 L274.49 261.72 L272.9 257.62 L271.03 253.56 L268.9 249.6 L266.53 245.78 L263.96 242.13 L261.2 238.7 L258.3 235.53 L255.27 232.65 L252.16 230.08 L248.99 227.87 L245.81 226.03 L242.64 224.59 L239.53 223.56 L236.5 222.95 L233.6 222.76 L230.84 223.01 L228.27 223.68 L225.9 224.78 L223.77 226.28 L221.9 228.17 L220.31 230.43 L219.01 233.04 L218.03 235.97 L217.37 239.18 L217.04 242.65 L217.04 246.32 L217.37 250.17 L218.03 254.15 L219.01 258.21 L220.31 262.31 L221.9 266.41 L223.77 270.47 L225.9 274.43 L228.27 278.25 L230.84 281.9 L233.6 285.33 L236.5 288.5 L239.53 291.38 L242.64 293.95 L245.81 296.16 L248.99 297.99 L252.16 299.44 L255.27 300.47 L258.3 301.08 L261.2 301.27 L263.96 301.02 L266.53 300.35Z" fill="#fff" stroke="#3a3a3a" stroke-width="1.1" fill-rule="evenodd"/>
<path d="M272.1 304.8 L269.1 299.6 M274.16 303.39 L270.91 298.37 M275.98 301.7 L272.51 296.88 M277.56 299.77 L273.9 295.19 M278.88 297.66 L275.06 293.33 M279.96 295.42 L276.01 291.36 M280.81 293.08 L276.75 289.3 M281.45 290.67 L277.32 287.19 M281.9 288.22 L277.71 285.04 M282.19 285.74 L277.96 282.86 M282.32 283.25 L278.08 280.68 M282.31 280.76 L278.07 278.49 M282.17 278.28 L277.95 276.3 M281.92 275.8 L277.73 274.12 M281.56 273.33 L277.41 271.96 M281.1 270.88 L277.01 269.8 M280.55 268.45 L276.53 267.67 M279.91 266.04 L275.96 265.55 M279.19 263.66 L275.33 263.46 M278.39 261.3 L274.63 261.38 M277.51 258.96 L273.86 259.33 M276.57 256.66 L273.02 257.31 M275.55 254.38 L272.13 255.31 M274.46 252.14 L271.18 253.34 M273.31 249.93 L270.17 251.4 M272.1 247.75 L269.1 249.49 M270.82 245.61 L267.98 247.61 M269.48 243.51 L266.8 245.76 M268.08 241.45 L265.57 243.95 M266.62 239.43 L264.29 242.18 M265.1 237.46 L262.95 240.44 M263.52 235.53 L261.56 238.75 M261.87 233.66 L260.12 237.11 M260.17 231.84 L258.62 235.51 M258.4 230.09 L257.07 233.96 M256.57 228.39 L255.46 232.48 M254.68 226.77 L253.8 231.05 M252.73 225.23 L252.08 229.7 M250.71 223.77 L250.3 228.41 M248.62 222.41 L248.47 227.22 M246.46 221.15 L246.58 226.12 M244.24 220.02 L244.63 225.12 M241.96 219.03 L242.62 224.25 M239.61 218.2 L240.56 223.52 M237.21 217.55 L238.44 222.95 M234.75 217.11 L236.29 222.57 M232.27 216.92 L234.11 222.4 M229.78 217.01 L231.92 222.48 M227.32 217.42 L229.76 222.83 M224.94 218.15 L227.67 223.48 M222.7 219.23 L225.7 224.43 M220.64 220.64 L223.89 225.66 M218.82 222.33 L222.29 227.15 M217.24 224.25 L220.9 228.84 M215.92 226.37 L219.74 230.7 M214.84 228.61 L218.79 232.67 M213.99 230.95 L218.05 234.73 M213.35 233.36 L217.48 236.84 M212.9 235.81 L217.09 238.99 M212.61 238.29 L216.84 241.17 M212.48 240.77 L216.72 243.35 M212.49 243.27 L216.73 245.54 M212.63 245.75 L216.85 247.73 M212.88 248.23 L217.07 249.91 M213.24 250.7 L217.39 252.07 M213.7 253.15 L217.79 254.23 M214.25 255.58 L218.27 256.36 M214.89 257.99 L218.84 258.48 M215.61 260.37 L219.47 260.57 M216.41 262.73 L220.17 262.65 M217.29 265.07 L220.94 264.7 M218.23 267.37 L221.78 266.72 M219.25 269.65 L222.67 268.72 M220.34 271.89 L223.62 270.69 M221.49 274.1 L224.63 272.63 M222.7 276.28 L225.7 274.54 M223.98 278.42 L226.82 276.42 M225.32 280.52 L228 278.27 M226.72 282.58 L229.23 280.08 M228.18 284.6 L230.51 281.85 M229.7 286.57 L231.85 283.59 M231.28 288.49 L233.24 285.28 M232.93 290.37 L234.68 286.92 M234.63 292.19 L236.18 288.52 M236.4 293.94 L237.73 290.07 M238.23 295.64 L239.34 291.55 M240.12 297.26 L241 292.98 M242.07 298.8 L242.72 294.33 M244.09 300.26 L244.5 295.62 M246.18 301.62 L246.33 296.81 M248.34 302.88 L248.22 297.91 M250.56 304.01 L250.17 298.91 M252.84 305 L252.18 299.78 M255.19 305.83 L254.24 300.51 M257.59 306.48 L256.36 301.08 M260.05 306.92 L258.51 301.46 M262.53 307.11 L260.69 301.63 M265.02 307.02 L262.88 301.55 M267.48 306.61 L265.04 301.2 M269.86 305.88 L267.13 300.55 " fill="none" stroke="#333" stroke-width="1.3" stroke-linecap="butt"/>
<path d="M272.3 305.14 A49.8 28.75 60 0 0 272.3 247.64 A49.8 28.75 60 0 0 222.5 218.89 A49.8 28.75 60 0 0 222.5 276.39 A49.8 28.75 60 0 0 272.3 305.14 Z" fill="none" stroke="#2e2e2e" stroke-width="1.37" />
<path d="M268.9 299.25 A43 24.83 60 0 0 268.9 249.6 A43 24.83 60 0 0 225.9 224.78 A43 24.83 60 0 0 225.9 274.43 A43 24.83 60 0 0 268.9 299.25 Z" fill="none" stroke="#2e2e2e" stroke-width="1.37" />
<path d="M259.65 312.45 A49.8 28.75 60 0 0 259.65 254.94 A49.8 28.75 60 0 0 209.85 226.19 A49.8 28.75 60 0 0 209.85 283.69 A49.8 28.75 60 0 0 259.65 312.45 ZM254.75 303.96 L255.65 303.39 L255.45 301.81 L255.19 300.24 L255.93 299.56 L257.2 300.21 L258.47 300.8 L259.16 299.92 L258.7 298.27 L258.19 296.64 L258.71 295.68 L259.93 296.01 L261.16 296.27 L261.59 295.1 L260.9 293.46 L260.16 291.85 L260.44 290.65 L261.57 290.64 L262.69 290.56 L262.86 289.17 L261.95 287.6 L261.02 286.07 L261.05 284.7 L262.04 284.35 L263 283.92 L262.9 282.36 L261.82 280.93 L260.73 279.57 L260.51 278.06 L261.31 277.39 L262.07 276.64 L261.7 274.98 L260.51 273.76 L259.31 272.61 L258.85 271.05 L259.42 270.08 L259.95 269.04 L259.33 267.36 L258.07 266.4 L256.81 265.51 L256.13 263.96 L256.46 262.74 L256.73 261.46 L255.89 259.82 L254.61 259.16 L253.35 258.58 L252.47 257.11 L252.54 255.69 L252.55 254.21 L251.52 252.7 L250.28 252.37 L249.08 252.12 L248.05 250.79 L247.85 249.23 L247.59 247.63 L246.42 246.3 L245.27 246.31 L244.18 246.4 L243.04 245.27 L242.58 243.65 L242.07 242 L240.8 240.91 L239.81 241.27 L238.86 241.69 L237.66 240.81 L236.98 239.19 L236.23 237.56 L234.93 236.76 L234.12 237.45 L233.37 238.19 L232.16 237.6 L231.27 236.05 L230.33 234.51 L229.04 234.04 L228.46 235.02 L227.94 236.05 L226.78 235.77 L225.72 234.36 L224.61 232.98 L223.41 232.85 L223.08 234.09 L222.81 235.36 L221.74 235.41 L220.56 234.2 L219.35 233.03 L218.27 233.26 L218.2 234.7 L218.2 236.16 L217.27 236.53 L216.02 235.58 L214.75 234.68 L213.85 235.25 L214.05 236.82 L214.31 238.4 L213.57 239.08 L212.3 238.43 L211.03 237.84 L210.34 238.72 L210.8 240.37 L211.31 242 L210.79 242.96 L209.57 242.63 L208.34 242.37 L207.91 243.53 L208.6 245.18 L209.34 246.79 L209.06 247.98 L207.93 247.99 L206.81 248.08 L206.64 249.47 L207.55 251.04 L208.48 252.56 L208.45 253.94 L207.46 254.29 L206.5 254.72 L206.6 256.28 L207.68 257.7 L208.77 259.07 L208.99 260.57 L208.19 261.24 L207.43 262 L207.8 263.65 L208.99 264.87 L210.19 266.03 L210.65 267.59 L210.08 268.55 L209.55 269.6 L210.17 271.28 L211.43 272.24 L212.69 273.12 L213.37 274.67 L213.04 275.89 L212.77 277.18 L213.61 278.82 L214.89 279.48 L216.15 280.06 L217.03 281.53 L216.96 282.95 L216.95 284.42 L217.98 285.94 L219.22 286.27 L220.42 286.52 L221.45 287.85 L221.65 289.41 L221.91 291 L223.08 292.33 L224.23 292.32 L225.32 292.23 L226.46 293.36 L226.92 294.99 L227.43 296.64 L228.7 297.73 L229.69 297.37 L230.64 296.94 L231.84 297.82 L232.52 299.44 L233.27 301.08 L234.57 301.87 L235.38 301.19 L236.13 300.45 L237.34 301.04 L238.23 302.59 L239.17 304.13 L240.46 304.6 L241.04 303.62 L241.56 302.59 L242.72 302.87 L243.78 304.27 L244.89 305.66 L246.09 305.79 L246.42 304.55 L246.69 303.28 L247.76 303.23 L248.94 304.43 L250.15 305.6 L251.23 305.38 L251.3 303.94 L251.3 302.48 L252.23 302.11 L253.48 303.06Z" fill="#fff" stroke="#3a3a3a" stroke-width="0.98" fill-rule="evenodd"/>
<path d="M258.45 313.14 A49.8 28.75 60 0 0 258.45 255.64 A49.8 28.75 60 0 0 208.65 226.88 A49.8 28.75 60 0 0 208.65 284.39 A49.8 28.75 60 0 0 258.45 313.14 ZM253.55 304.65 L254.45 304.08 L254.25 302.51 L253.99 300.93 L254.73 300.25 L256 300.9 L257.27 301.49 L257.96 300.61 L257.5 298.96 L256.99 297.33 L257.51 296.37 L258.73 296.7 L259.96 296.96 L260.39 295.8 L259.7 294.15 L258.96 292.54 L259.24 291.35 L260.37 291.34 L261.49 291.25 L261.66 289.86 L260.75 288.29 L259.82 286.77 L259.85 285.39 L260.84 285.04 L261.8 284.61 L261.7 283.05 L260.62 281.63 L259.53 280.26 L259.31 278.76 L260.11 278.08 L260.87 277.33 L260.5 275.68 L259.31 274.45 L258.11 273.3 L257.65 271.74 L258.22 270.78 L258.75 269.73 L258.13 268.05 L256.87 267.09 L255.61 266.21 L254.93 264.65 L255.26 263.44 L255.53 262.15 L254.69 260.51 L253.41 259.85 L252.15 259.27 L251.27 257.8 L251.34 256.38 L251.35 254.91 L250.32 253.39 L249.08 253.06 L247.88 252.81 L246.85 251.48 L246.65 249.92 L246.39 248.32 L245.22 246.99 L244.07 247.01 L242.98 247.1 L241.84 245.97 L241.38 244.34 L240.87 242.69 L239.6 241.6 L238.61 241.96 L237.66 242.39 L236.46 241.51 L235.78 239.89 L235.03 238.25 L233.73 237.45 L232.92 238.14 L232.17 238.88 L230.96 238.29 L230.07 236.74 L229.13 235.2 L227.84 234.73 L227.26 235.71 L226.74 236.74 L225.58 236.46 L224.52 235.06 L223.41 233.67 L222.21 233.54 L221.88 234.78 L221.61 236.05 L220.54 236.1 L219.36 234.9 L218.15 233.73 L217.07 233.95 L217 235.39 L217 236.85 L216.07 237.22 L214.82 236.27 L213.55 235.37 L212.65 235.94 L212.85 237.52 L213.11 239.09 L212.37 239.77 L211.1 239.12 L209.83 238.53 L209.14 239.41 L209.6 241.06 L210.11 242.69 L209.59 243.65 L208.37 243.32 L207.14 243.06 L206.71 244.23 L207.4 245.87 L208.14 247.48 L207.86 248.67 L206.73 248.68 L205.61 248.77 L205.44 250.16 L206.35 251.73 L207.28 253.26 L207.25 254.63 L206.26 254.98 L205.3 255.41 L205.4 256.97 L206.48 258.4 L207.57 259.76 L207.79 261.26 L206.99 261.94 L206.23 262.69 L206.6 264.35 L207.79 265.57 L208.99 266.72 L209.45 268.28 L208.88 269.25 L208.35 270.29 L208.97 271.97 L210.23 272.93 L211.49 273.82 L212.17 275.37 L211.84 276.59 L211.57 277.87 L212.41 279.51 L213.69 280.17 L214.95 280.75 L215.83 282.22 L215.76 283.64 L215.75 285.12 L216.78 286.63 L218.02 286.96 L219.22 287.21 L220.25 288.54 L220.45 290.1 L220.71 291.7 L221.88 293.03 L223.03 293.01 L224.12 292.92 L225.26 294.05 L225.72 295.68 L226.23 297.33 L227.5 298.42 L228.49 298.06 L229.44 297.64 L230.64 298.52 L231.32 300.14 L232.07 301.77 L233.37 302.57 L234.18 301.88 L234.93 301.14 L236.14 301.73 L237.03 303.28 L237.97 304.82 L239.26 305.29 L239.84 304.31 L240.36 303.28 L241.52 303.56 L242.58 304.97 L243.69 306.35 L244.89 306.48 L245.22 305.24 L245.49 303.97 L246.56 303.92 L247.74 305.13 L248.95 306.3 L250.03 306.07 L250.1 304.63 L250.1 303.17 L251.03 302.8 L252.28 303.75Z" fill="#fff" stroke="#3a3a3a" stroke-width="0.98" fill-rule="evenodd"/>
<path d="M245.94 320.34 L246.66 319.95 L247.36 319.51 L248.04 319.05 L248.7 318.55 L249.33 318.01 L251.38 320.54 L255.66 314.94 L253.7 312.31 L254.1 311.48 L254.48 310.62 L254.84 309.74 L255.16 308.83 L255.46 307.89 L255.46 307.89 L255.79 306.73 L256.07 305.54 L256.31 304.31 L256.52 303.04 L256.68 301.75 L259.03 303.11 L259.19 296.05 L256.84 294.56 L256.75 293.11 L256.61 291.64 L256.43 290.15 L256.2 288.65 L255.94 287.13 L255.94 287.13 L255.61 285.46 L255.23 283.78 L254.8 282.09 L254.33 280.4 L253.81 278.7 L255.84 278.53 L253.4 271.91 L251.31 271.95 L250.58 270.26 L249.8 268.58 L248.99 266.91 L248.13 265.25 L247.24 263.61 L247.24 263.61 L246.31 261.98 L245.35 260.38 L244.35 258.8 L243.32 257.24 L242.26 255.71 L243.44 254.06 L239.11 248.49 L237.84 250.03 L236.65 248.67 L235.44 247.35 L234.21 246.07 L232.96 244.83 L231.7 243.64 L231.7 243.64 L230.52 242.58 L229.32 241.56 L228.12 240.58 L226.91 239.65 L225.69 238.76 L225.69 236.05 L219.66 232.39 L219.55 235.02 L218.32 234.43 L217.1 233.88 L215.89 233.39 L214.68 232.95 L213.48 232.57 L213.48 232.57 L212.49 232.29 L211.5 232.05 L210.52 231.84 L209.56 231.67 L208.6 231.55 L207.41 228.51 L200.37 228.86 L201.42 231.9 L200.59 232.12 L199.78 232.37 L198.99 232.67 L198.21 233 L197.46 233.36 L197.46 233.36 L196.74 233.76 L196.04 234.19 L195.36 234.66 L194.7 235.16 L194.07 235.69 L192.02 233.16 L187.74 238.76 L189.7 241.4 L189.3 242.22 L188.92 243.08 L188.56 243.96 L188.24 244.87 L187.94 245.81 L187.94 245.81 L187.61 246.97 L187.33 248.17 L187.09 249.4 L186.88 250.66 L186.72 251.96 L184.37 250.6 L184.21 257.65 L186.56 259.14 L186.65 260.6 L186.79 262.07 L186.97 263.55 L187.2 265.06 L187.46 266.58 L187.46 266.58 L187.79 268.24 L188.17 269.92 L188.6 271.61 L189.07 273.31 L189.59 275.01 L187.56 275.18 L190 281.8 L192.09 281.76 L192.82 283.45 L193.6 285.13 L194.41 286.8 L195.27 288.46 L196.16 290.09 L196.16 290.09 L197.09 291.72 L198.05 293.33 L199.05 294.91 L200.08 296.47 L201.14 298 L199.96 299.65 L204.29 305.22 L205.56 303.67 L206.75 305.03 L207.96 306.36 L209.19 307.64 L210.44 308.87 L211.7 310.07 L211.7 310.07 L212.88 311.13 L214.08 312.15 L215.28 313.13 L216.49 314.06 L217.71 314.95 L217.71 317.66 L223.74 321.32 L223.85 318.68 L225.08 319.28 L226.3 319.82 L227.51 320.31 L228.72 320.75 L229.92 321.14 L229.92 321.14 L230.91 321.42 L231.9 321.66 L232.88 321.86 L233.84 322.03 L234.8 322.16 L235.99 325.2 L243.03 324.85 L241.98 321.8 L242.81 321.59 L243.62 321.33 L244.41 321.04 L245.19 320.71 L245.94 320.34ZM243.2 314.09 L245.33 312.59 L247.2 310.7 L248.79 308.43 L250.09 305.82 L251.07 302.9 L251.73 299.68 L252.06 296.22 L252.06 292.55 L251.73 288.7 L251.07 284.72 L250.09 280.66 L248.79 276.55 L247.2 272.45 L245.33 268.4 L243.2 264.44 L240.83 260.62 L238.26 256.97 L235.5 253.54 L232.6 250.37 L229.57 247.48 L226.46 244.92 L223.29 242.71 L220.11 240.87 L216.94 239.43 L213.83 238.4 L210.8 237.78 L207.9 237.6 L205.14 237.85 L202.57 238.52 L200.2 239.61 L198.07 241.12 L196.2 243.01 L194.61 245.27 L193.31 247.88 L192.33 250.81 L191.67 254.02 L191.34 257.48 L191.34 261.16 L191.67 265.01 L192.33 268.98 L193.31 273.05 L194.61 277.15 L196.2 281.25 L198.07 285.31 L200.2 289.27 L202.57 293.09 L205.14 296.74 L207.9 300.17 L210.8 303.34 L213.83 306.22 L216.94 308.78 L220.11 311 L223.29 312.83 L226.46 314.28 L229.57 315.31 L232.6 315.92 L235.5 316.11 L238.26 315.86 L240.83 315.19Z" fill="#fff" stroke="#3a3a3a" stroke-width="0.98" fill-rule="evenodd"/>
<path d="M243.94 321.5 L244.66 321.1 L245.36 320.67 L246.04 320.2 L246.7 319.7 L247.33 319.17 L249.38 321.7 L253.66 316.1 L251.7 313.46 L252.1 312.64 L252.48 311.78 L252.84 310.9 L253.16 309.99 L253.46 309.05 L253.46 309.05 L253.79 307.89 L254.07 306.69 L254.31 305.46 L254.52 304.2 L254.68 302.9 L257.03 304.26 L257.19 297.21 L254.84 295.72 L254.75 294.26 L254.61 292.79 L254.43 291.31 L254.2 289.8 L253.94 288.28 L253.94 288.28 L253.61 286.62 L253.23 284.94 L252.8 283.25 L252.33 281.55 L251.81 279.85 L253.84 279.68 L251.4 273.06 L249.31 273.1 L248.58 271.41 L247.8 269.73 L246.99 268.06 L246.13 266.4 L245.24 264.77 L245.24 264.77 L244.31 263.14 L243.35 261.53 L242.35 259.95 L241.32 258.39 L240.26 256.86 L241.44 255.21 L237.11 249.64 L235.84 251.19 L234.65 249.83 L233.44 248.5 L232.21 247.22 L230.96 245.99 L229.7 244.79 L229.7 244.79 L228.52 243.73 L227.32 242.71 L226.12 241.73 L224.91 240.8 L223.69 239.91 L223.69 237.2 L217.66 233.54 L217.55 236.18 L216.32 235.58 L215.1 235.04 L213.89 234.55 L212.68 234.11 L211.48 233.72 L211.48 233.72 L210.49 233.44 L209.5 233.2 L208.52 233 L207.56 232.83 L206.6 232.7 L205.41 229.66 L198.37 230.01 L199.42 233.06 L198.59 233.27 L197.78 233.53 L196.99 233.82 L196.21 234.15 L195.46 234.52 L195.46 234.52 L194.74 234.91 L194.04 235.35 L193.36 235.81 L192.7 236.31 L192.07 236.85 L190.02 234.32 L185.74 239.92 L187.7 242.55 L187.3 243.38 L186.92 244.24 L186.56 245.12 L186.24 246.03 L185.94 246.97 L185.94 246.97 L185.61 248.13 L185.33 249.32 L185.09 250.55 L184.88 251.82 L184.72 253.11 L182.37 251.75 L182.21 258.81 L184.56 260.3 L184.65 261.75 L184.79 263.22 L184.97 264.71 L185.2 266.21 L185.46 267.73 L185.46 267.73 L185.79 269.4 L186.17 271.08 L186.6 272.77 L187.07 274.46 L187.59 276.16 L185.56 276.33 L188 282.95 L190.09 282.91 L190.82 284.6 L191.6 286.28 L192.41 287.95 L193.27 289.61 L194.16 291.25 L194.16 291.25 L195.09 292.88 L196.05 294.48 L197.05 296.06 L198.08 297.62 L199.14 299.15 L197.96 300.8 L202.29 306.37 L203.56 304.83 L204.75 306.19 L205.96 307.51 L207.19 308.79 L208.44 310.03 L209.7 311.22 L209.7 311.22 L210.88 312.28 L212.08 313.3 L213.28 314.28 L214.49 315.21 L215.71 316.1 L215.71 318.81 L221.74 322.47 L221.85 319.84 L223.08 320.43 L224.3 320.98 L225.51 321.47 L226.72 321.91 L227.92 322.29 L227.92 322.29 L228.91 322.57 L229.9 322.81 L230.88 323.02 L231.84 323.19 L232.8 323.31 L233.99 326.35 L241.03 326 L239.98 322.96 L240.81 322.74 L241.62 322.49 L242.41 322.19 L243.19 321.86 L243.94 321.5ZM241.2 315.25 L243.33 313.74 L245.2 311.85 L246.79 309.59 L248.09 306.98 L249.07 304.05 L249.73 300.84 L250.06 297.38 L250.06 293.7 L249.73 289.85 L249.07 285.88 L248.09 281.81 L246.79 277.71 L245.2 273.61 L243.33 269.55 L241.2 265.59 L238.83 261.77 L236.26 258.12 L233.5 254.69 L230.6 251.52 L227.57 248.64 L224.46 246.08 L221.29 243.86 L218.11 242.03 L214.94 240.58 L211.83 239.55 L208.8 238.94 L205.9 238.76 L203.14 239 L200.57 239.67 L198.2 240.77 L196.07 242.27 L194.2 244.16 L192.61 246.43 L191.31 249.04 L190.33 251.96 L189.67 255.18 L189.34 258.64 L189.34 262.31 L189.67 266.16 L190.33 270.14 L191.31 274.2 L192.61 278.31 L194.2 282.41 L196.07 286.46 L198.2 290.42 L200.57 294.24 L203.14 297.89 L205.9 301.32 L208.8 304.49 L211.83 307.38 L214.94 309.94 L218.11 312.15 L221.29 313.99 L224.46 315.43 L227.57 316.46 L230.6 317.08 L233.5 317.26 L236.26 317.01 L238.83 316.34Z" fill="#fff" stroke="#3a3a3a" stroke-width="1.1" fill-rule="evenodd"/>
<path d="M244.4 320.79 L241.4 315.59 M246.46 319.39 L243.21 314.36 M248.28 317.69 L244.81 312.87 M249.86 315.77 L246.2 311.18 M251.18 313.66 L247.36 309.33 M252.26 311.41 L248.31 307.35 M253.11 309.07 L249.05 305.3 M253.75 306.66 L249.62 303.18 M254.2 304.21 L250.01 301.03 M254.49 301.74 L250.26 298.85 M254.62 299.25 L250.38 296.67 M254.61 296.76 L250.37 294.48 M254.47 294.27 L250.25 292.29 M254.22 291.79 L250.03 290.11 M253.86 289.32 L249.71 287.95 M253.4 286.87 L249.31 285.8 M252.85 284.44 L248.83 283.66 M252.21 282.03 L248.26 281.55 M251.49 279.65 L247.63 279.45 M250.69 277.29 L246.93 277.38 M249.81 274.96 L246.16 275.33 M248.87 272.65 L245.32 273.3 M247.85 270.38 L244.43 271.3 M246.76 268.13 L243.48 269.33 M245.61 265.92 L242.47 267.39 M244.4 263.75 L241.4 265.48 M243.12 261.61 L240.28 263.6 M241.78 259.51 L239.1 261.75 M240.38 257.44 L237.87 259.94 M238.92 255.43 L236.59 258.17 M237.4 253.45 L235.25 256.43 M235.82 251.53 L233.86 254.74 M234.17 249.65 L232.42 253.1 M232.47 247.84 L230.92 251.5 M230.7 246.08 L229.37 249.96 M228.87 244.39 L227.76 248.47 M226.98 242.76 L226.1 247.04 M225.03 241.22 L224.38 245.69 M223.01 239.76 L222.6 244.41 M220.92 238.4 L220.77 243.21 M218.76 237.15 L218.88 242.11 M216.54 236.02 L216.93 241.12 M214.26 235.02 L214.92 240.24 M211.91 234.19 L212.86 239.51 M209.51 233.54 L210.74 238.94 M207.05 233.11 L208.59 238.56 M204.57 232.92 L206.41 238.39 M202.08 233.01 L204.22 238.47 M199.62 233.41 L202.06 238.83 M197.24 234.15 L199.97 239.47 M195 235.23 L198 240.42 M192.94 236.63 L196.19 241.66 M191.12 238.32 L194.59 243.14 M189.54 240.25 L193.2 244.83 M188.22 242.36 L192.04 246.69 M187.14 244.6 L191.09 248.66 M186.29 246.95 L190.35 250.72 M185.65 249.35 L189.78 252.83 M185.2 251.8 L189.39 254.99 M184.91 254.28 L189.14 257.16 M184.78 256.77 L189.02 259.35 M184.79 259.26 L189.03 261.54 M184.93 261.75 L189.15 263.72 M185.18 264.23 L189.37 265.9 M185.54 266.69 L189.69 268.07 M186 269.14 L190.09 270.22 M186.55 271.57 L190.57 272.35 M187.19 273.98 L191.14 274.47 M187.91 276.37 L191.77 276.56 M188.71 278.73 L192.47 278.64 M189.59 281.06 L193.24 280.69 M190.53 283.36 L194.08 282.71 M191.55 285.64 L194.97 284.71 M192.64 287.88 L195.92 286.68 M193.79 290.09 L196.93 288.62 M195 292.27 L198 290.54 M196.28 294.41 L199.12 292.42 M197.62 296.51 L200.3 294.26 M199.02 298.57 L201.53 296.07 M200.48 300.59 L202.81 297.85 M202 302.56 L204.15 299.58 M203.58 304.49 L205.54 301.27 M205.23 306.36 L206.98 302.92 M206.93 308.18 L208.48 304.51 M208.7 309.94 L210.03 306.06 M210.53 311.63 L211.64 307.55 M212.42 313.25 L213.3 308.97 M214.37 314.8 L215.02 310.33 M216.39 316.25 L216.8 311.61 M218.48 317.61 L218.63 312.8 M220.64 318.87 L220.52 313.91 M222.86 320 L222.47 314.9 M225.14 320.99 L224.48 315.77 M227.49 321.82 L226.54 316.5 M229.89 322.47 L228.66 317.07 M232.35 322.91 L230.81 317.45 M234.83 323.1 L232.99 317.62 M237.32 323.01 L235.18 317.54 M239.78 322.61 L237.34 317.19 M242.16 321.87 L239.43 316.54 " fill="none" stroke="#333" stroke-width="1.3" stroke-linecap="butt"/>
<path d="M244.6 321.14 A49.8 28.75 60 0 0 244.6 263.63 A49.8 28.75 60 0 0 194.8 234.88 A49.8 28.75 60 0 0 194.8 292.38 A49.8 28.75 60 0 0 244.6 321.14 Z" fill="none" stroke="#2e2e2e" stroke-width="1.37" />
<path d="M241.2 315.25 A43 24.83 60 0 0 241.2 265.59 A43 24.83 60 0 0 198.2 240.77 A43 24.83 60 0 0 198.2 290.42 A43 24.83 60 0 0 241.2 315.25 Z" fill="none" stroke="#2e2e2e" stroke-width="1.37" />
<path d="M231.95 328.44 A49.8 28.75 60 0 0 231.95 270.93 A49.8 28.75 60 0 0 182.15 242.18 A49.8 28.75 60 0 0 182.15 299.69 A49.8 28.75 60 0 0 231.95 328.44 ZM227.05 319.95 L227.95 319.38 L227.75 317.81 L227.49 316.23 L228.23 315.55 L229.5 316.2 L230.77 316.79 L231.46 315.91 L231 314.26 L230.49 312.63 L231.01 311.67 L232.23 312 L233.46 312.26 L233.89 311.1 L233.2 309.45 L232.46 307.84 L232.74 306.65 L233.87 306.64 L234.99 306.55 L235.16 305.16 L234.25 303.59 L233.32 302.07 L233.35 300.69 L234.34 300.34 L235.3 299.91 L235.2 298.35 L234.12 296.93 L233.03 295.56 L232.81 294.06 L233.61 293.38 L234.37 292.63 L234 290.98 L232.81 289.75 L231.61 288.6 L231.15 287.04 L231.72 286.08 L232.25 285.03 L231.63 283.35 L230.37 282.39 L229.11 281.5 L228.43 279.95 L228.76 278.74 L229.03 277.45 L228.19 275.81 L226.91 275.15 L225.65 274.57 L224.77 273.1 L224.84 271.68 L224.85 270.21 L223.82 268.69 L222.58 268.36 L221.38 268.11 L220.35 266.78 L220.15 265.22 L219.89 263.62 L218.72 262.29 L217.57 262.31 L216.48 262.4 L215.34 261.27 L214.88 259.64 L214.37 257.99 L213.1 256.9 L212.11 257.26 L211.16 257.69 L209.96 256.81 L209.28 255.18 L208.53 253.55 L207.23 252.75 L206.42 253.44 L205.67 254.18 L204.46 253.59 L203.57 252.04 L202.63 250.5 L201.34 250.03 L200.76 251.01 L200.24 252.04 L199.08 251.76 L198.02 250.36 L196.91 248.97 L195.71 248.84 L195.38 250.08 L195.11 251.35 L194.04 251.4 L192.86 250.2 L191.65 249.03 L190.57 249.25 L190.5 250.69 L190.5 252.15 L189.57 252.52 L188.32 251.57 L187.05 250.67 L186.15 251.24 L186.35 252.82 L186.61 254.39 L185.87 255.07 L184.6 254.42 L183.33 253.83 L182.64 254.71 L183.1 256.36 L183.61 257.99 L183.09 258.95 L181.87 258.62 L180.64 258.36 L180.21 259.52 L180.9 261.17 L181.64 262.78 L181.36 263.97 L180.23 263.98 L179.11 264.07 L178.94 265.46 L179.85 267.03 L180.78 268.56 L180.75 269.93 L179.76 270.28 L178.8 270.71 L178.9 272.27 L179.98 273.7 L181.07 275.06 L181.29 276.56 L180.49 277.24 L179.73 277.99 L180.1 279.65 L181.29 280.87 L182.49 282.02 L182.95 283.58 L182.38 284.55 L181.85 285.59 L182.47 287.27 L183.73 288.23 L184.99 289.12 L185.67 290.67 L185.34 291.89 L185.07 293.17 L185.91 294.81 L187.19 295.47 L188.45 296.05 L189.33 297.52 L189.26 298.94 L189.25 300.42 L190.28 301.93 L191.52 302.26 L192.72 302.51 L193.75 303.84 L193.95 305.4 L194.21 307 L195.38 308.33 L196.53 308.31 L197.62 308.22 L198.76 309.35 L199.22 310.98 L199.73 312.63 L201 313.72 L201.99 313.36 L202.94 312.93 L204.14 313.82 L204.82 315.44 L205.57 317.07 L206.87 317.87 L207.68 317.18 L208.43 316.44 L209.64 317.03 L210.53 318.58 L211.47 320.12 L212.76 320.59 L213.34 319.61 L213.86 318.58 L215.02 318.86 L216.08 320.27 L217.19 321.65 L218.39 321.78 L218.72 320.54 L218.99 319.27 L220.06 319.22 L221.24 320.43 L222.45 321.6 L223.53 321.37 L223.6 319.93 L223.6 318.47 L224.53 318.1 L225.78 319.05Z" fill="#fff" stroke="#3a3a3a" stroke-width="0.98" fill-rule="evenodd"/>
<path d="M230.75 329.13 A49.8 28.75 60 0 0 230.75 271.63 A49.8 28.75 60 0 0 180.95 242.88 A49.8 28.75 60 0 0 180.95 300.38 A49.8 28.75 60 0 0 230.75 329.13 ZM225.85 320.64 L226.75 320.08 L226.55 318.5 L226.29 316.92 L227.03 316.24 L228.3 316.9 L229.57 317.49 L230.26 316.6 L229.8 314.95 L229.29 313.32 L229.81 312.37 L231.03 312.7 L232.26 312.95 L232.69 311.79 L232 310.15 L231.26 308.53 L231.54 307.34 L232.67 307.33 L233.79 307.24 L233.96 305.85 L233.05 304.28 L232.12 302.76 L232.15 301.38 L233.14 301.03 L234.1 300.6 L234 299.04 L232.92 297.62 L231.83 296.25 L231.61 294.75 L232.41 294.08 L233.17 293.32 L232.8 291.67 L231.61 290.45 L230.41 289.3 L229.95 287.74 L230.52 286.77 L231.05 285.73 L230.43 284.04 L229.17 283.08 L227.91 282.2 L227.23 280.65 L227.56 279.43 L227.83 278.14 L226.99 276.51 L225.71 275.85 L224.45 275.26 L223.57 273.79 L223.64 272.37 L223.65 270.9 L222.62 269.38 L221.38 269.05 L220.18 268.8 L219.15 267.47 L218.95 265.92 L218.69 264.32 L217.52 262.99 L216.37 263 L215.28 263.09 L214.14 261.96 L213.68 260.34 L213.17 258.68 L211.9 257.6 L210.91 257.95 L209.96 258.38 L208.76 257.5 L208.08 255.88 L207.33 254.24 L206.03 253.45 L205.22 254.13 L204.47 254.88 L203.26 254.28 L202.37 252.74 L201.43 251.19 L200.14 250.72 L199.56 251.7 L199.04 252.73 L197.88 252.46 L196.82 251.05 L195.71 249.66 L194.51 249.54 L194.18 250.78 L193.91 252.05 L192.84 252.09 L191.66 250.89 L190.45 249.72 L189.37 249.95 L189.3 251.39 L189.3 252.84 L188.37 253.21 L187.12 252.26 L185.85 251.36 L184.95 251.93 L185.15 253.51 L185.41 255.09 L184.67 255.77 L183.4 255.11 L182.13 254.52 L181.44 255.41 L181.9 257.05 L182.41 258.68 L181.89 259.64 L180.67 259.31 L179.44 259.05 L179.01 260.22 L179.7 261.86 L180.44 263.47 L180.16 264.67 L179.03 264.68 L177.91 264.77 L177.74 266.16 L178.65 267.73 L179.58 269.25 L179.55 270.63 L178.56 270.98 L177.6 271.41 L177.7 272.96 L178.78 274.39 L179.87 275.76 L180.09 277.26 L179.29 277.93 L178.53 278.68 L178.9 280.34 L180.09 281.56 L181.29 282.71 L181.75 284.27 L181.18 285.24 L180.65 286.28 L181.27 287.96 L182.53 288.92 L183.79 289.81 L184.47 291.36 L184.14 292.58 L183.87 293.87 L184.71 295.5 L185.99 296.16 L187.25 296.74 L188.13 298.21 L188.06 299.63 L188.05 301.11 L189.08 302.62 L190.32 302.95 L191.52 303.21 L192.55 304.54 L192.75 306.09 L193.01 307.69 L194.18 309.02 L195.33 309.01 L196.42 308.92 L197.56 310.05 L198.02 311.67 L198.53 313.32 L199.8 314.41 L200.79 314.05 L201.74 313.63 L202.94 314.51 L203.62 316.13 L204.37 317.76 L205.67 318.56 L206.48 317.88 L207.23 317.13 L208.44 317.72 L209.33 319.27 L210.27 320.82 L211.56 321.29 L212.14 320.3 L212.66 319.27 L213.82 319.55 L214.88 320.96 L215.99 322.35 L217.19 322.47 L217.52 321.23 L217.79 319.96 L218.86 319.91 L220.04 321.12 L221.25 322.29 L222.33 322.06 L222.4 320.62 L222.4 319.17 L223.33 318.79 L224.58 319.74Z" fill="#fff" stroke="#3a3a3a" stroke-width="0.98" fill-rule="evenodd"/>
<path d="M218.24 336.33 L218.96 335.94 L219.66 335.51 L220.34 335.04 L221 334.54 L221.63 334.01 L223.68 336.54 L227.96 330.94 L226 328.3 L226.4 327.47 L226.78 326.62 L227.14 325.73 L227.46 324.82 L227.76 323.89 L227.76 323.89 L228.09 322.73 L228.37 321.53 L228.61 320.3 L228.82 319.04 L228.98 317.74 L231.33 319.1 L231.49 312.05 L229.14 310.55 L229.05 309.1 L228.91 307.63 L228.73 306.14 L228.5 304.64 L228.24 303.12 L228.24 303.12 L227.91 301.45 L227.53 299.78 L227.1 298.09 L226.63 296.39 L226.11 294.69 L228.14 294.52 L225.7 287.9 L223.61 287.94 L222.88 286.25 L222.1 284.57 L221.29 282.9 L220.43 281.24 L219.54 279.6 L219.54 279.6 L218.61 277.98 L217.65 276.37 L216.65 274.79 L215.62 273.23 L214.56 271.7 L215.74 270.05 L211.41 264.48 L210.14 266.03 L208.95 264.66 L207.74 263.34 L206.51 262.06 L205.26 260.82 L204 259.63 L204 259.63 L202.82 258.57 L201.62 257.55 L200.42 256.57 L199.21 255.64 L197.99 254.75 L197.99 252.04 L191.96 248.38 L191.85 251.02 L190.62 250.42 L189.4 249.88 L188.19 249.39 L186.98 248.95 L185.78 248.56 L185.78 248.56 L184.79 248.28 L183.8 248.04 L182.82 247.83 L181.86 247.67 L180.9 247.54 L179.71 244.5 L172.67 244.85 L173.72 247.89 L172.89 248.11 L172.08 248.37 L171.29 248.66 L170.51 248.99 L169.76 249.36 L169.76 249.36 L169.04 249.75 L168.34 250.18 L167.66 250.65 L167 251.15 L166.37 251.68 L164.32 249.16 L160.04 254.75 L162 257.39 L161.6 258.22 L161.22 259.07 L160.86 259.96 L160.54 260.87 L160.24 261.8 L160.24 261.8 L159.91 262.96 L159.63 264.16 L159.39 265.39 L159.18 266.65 L159.02 267.95 L156.67 266.59 L156.51 273.64 L158.86 275.14 L158.95 276.59 L159.09 278.06 L159.27 279.55 L159.5 281.05 L159.76 282.57 L159.76 282.57 L160.09 284.24 L160.47 285.92 L160.9 287.6 L161.37 289.3 L161.89 291 L159.86 291.17 L162.3 297.79 L164.39 297.75 L165.12 299.44 L165.9 301.12 L166.71 302.79 L167.57 304.45 L168.46 306.09 L168.46 306.09 L169.39 307.71 L170.35 309.32 L171.35 310.9 L172.38 312.46 L173.44 313.99 L172.26 315.64 L176.59 321.21 L177.86 319.67 L179.05 321.03 L180.26 322.35 L181.49 323.63 L182.74 324.87 L184 326.06 L184 326.06 L185.18 327.12 L186.38 328.14 L187.58 329.12 L188.79 330.05 L190.01 330.94 L190.01 333.65 L196.04 337.31 L196.15 334.67 L197.38 335.27 L198.6 335.81 L199.81 336.31 L201.02 336.74 L202.22 337.13 L202.22 337.13 L203.21 337.41 L204.2 337.65 L205.18 337.86 L206.14 338.02 L207.1 338.15 L208.29 341.19 L215.33 340.84 L214.28 337.8 L215.11 337.58 L215.92 337.32 L216.71 337.03 L217.49 336.7 L218.24 336.33ZM215.5 330.08 L217.63 328.58 L219.5 326.69 L221.09 324.43 L222.39 321.82 L223.37 318.89 L224.03 315.68 L224.36 312.21 L224.36 308.54 L224.03 304.69 L223.37 300.71 L222.39 296.65 L221.09 292.55 L219.5 288.45 L217.63 284.39 L215.5 280.43 L213.13 276.61 L210.56 272.96 L207.8 269.53 L204.9 266.36 L201.87 263.48 L198.76 260.91 L195.59 258.7 L192.41 256.87 L189.24 255.42 L186.13 254.39 L183.1 253.78 L180.2 253.59 L177.44 253.84 L174.87 254.51 L172.5 255.61 L170.37 257.11 L168.5 259 L166.91 261.26 L165.61 263.87 L164.63 266.8 L163.97 270.01 L163.64 273.48 L163.64 277.15 L163.97 281 L164.63 284.98 L165.61 289.04 L166.91 293.14 L168.5 297.24 L170.37 301.3 L172.5 305.26 L174.87 309.08 L177.44 312.73 L180.2 316.16 L183.1 319.33 L186.13 322.21 L189.24 324.78 L192.41 326.99 L195.59 328.83 L198.76 330.27 L201.87 331.3 L204.9 331.91 L207.8 332.1 L210.56 331.85 L213.13 331.18Z" fill="#fff" stroke="#3a3a3a" stroke-width="0.98" fill-rule="evenodd"/>
<path d="M216.24 337.49 L216.96 337.09 L217.66 336.66 L218.34 336.2 L219 335.7 L219.63 335.16 L221.68 337.69 L225.96 332.09 L224 329.46 L224.4 328.63 L224.78 327.77 L225.14 326.89 L225.46 325.98 L225.76 325.04 L225.76 325.04 L226.09 323.88 L226.37 322.68 L226.61 321.45 L226.82 320.19 L226.98 318.9 L229.33 320.25 L229.49 313.2 L227.14 311.71 L227.05 310.26 L226.91 308.79 L226.73 307.3 L226.5 305.79 L226.24 304.28 L226.24 304.28 L225.91 302.61 L225.53 300.93 L225.1 299.24 L224.63 297.54 L224.11 295.84 L226.14 295.68 L223.7 289.06 L221.61 289.1 L220.88 287.41 L220.1 285.72 L219.29 284.05 L218.43 282.4 L217.54 280.76 L217.54 280.76 L216.61 279.13 L215.65 277.53 L214.65 275.94 L213.62 274.39 L212.56 272.86 L213.74 271.2 L209.41 265.63 L208.14 267.18 L206.95 265.82 L205.74 264.5 L204.51 263.22 L203.26 261.98 L202 260.79 L202 260.79 L200.82 259.72 L199.62 258.7 L198.42 257.73 L197.21 256.79 L195.99 255.9 L195.99 253.2 L189.96 249.53 L189.85 252.17 L188.62 251.58 L187.4 251.03 L186.19 250.54 L184.98 250.1 L183.78 249.72 L183.78 249.72 L182.79 249.44 L181.8 249.19 L180.82 248.99 L179.86 248.82 L178.9 248.69 L177.71 245.66 L170.67 246.01 L171.72 249.05 L170.89 249.27 L170.08 249.52 L169.29 249.81 L168.51 250.14 L167.76 250.51 L167.76 250.51 L167.04 250.91 L166.34 251.34 L165.66 251.8 L165 252.3 L164.37 252.84 L162.32 250.31 L158.04 255.91 L160 258.54 L159.6 259.37 L159.22 260.23 L158.86 261.11 L158.54 262.02 L158.24 262.96 L158.24 262.96 L157.91 264.12 L157.63 265.32 L157.39 266.55 L157.18 267.81 L157.02 269.1 L154.67 267.75 L154.51 274.8 L156.86 276.29 L156.95 277.74 L157.09 279.21 L157.27 280.7 L157.5 282.21 L157.76 283.72 L157.76 283.72 L158.09 285.39 L158.47 287.07 L158.9 288.76 L159.37 290.46 L159.89 292.16 L157.86 292.32 L160.3 298.94 L162.39 298.9 L163.12 300.59 L163.9 302.28 L164.71 303.95 L165.57 305.6 L166.46 307.24 L166.46 307.24 L167.39 308.87 L168.35 310.47 L169.35 312.06 L170.38 313.61 L171.44 315.14 L170.26 316.8 L174.59 322.37 L175.86 320.82 L177.05 322.18 L178.26 323.5 L179.49 324.78 L180.74 326.02 L182 327.21 L182 327.21 L183.18 328.28 L184.38 329.3 L185.58 330.27 L186.79 331.21 L188.01 332.1 L188.01 334.8 L194.04 338.47 L194.15 335.83 L195.38 336.42 L196.6 336.97 L197.81 337.46 L199.02 337.9 L200.22 338.28 L200.22 338.28 L201.21 338.56 L202.2 338.81 L203.18 339.01 L204.14 339.18 L205.1 339.31 L206.29 342.34 L213.33 341.99 L212.28 338.95 L213.11 338.73 L213.92 338.48 L214.71 338.19 L215.49 337.86 L216.24 337.49ZM213.5 331.24 L215.63 329.74 L217.5 327.84 L219.09 325.58 L220.39 322.97 L221.37 320.04 L222.03 316.83 L222.36 313.37 L222.36 309.69 L222.03 305.85 L221.37 301.87 L220.39 297.81 L219.09 293.7 L217.5 289.6 L215.63 285.55 L213.5 281.59 L211.13 277.76 L208.56 274.12 L205.8 270.69 L202.9 267.51 L199.87 264.63 L196.76 262.07 L193.59 259.86 L190.41 258.02 L187.24 256.58 L184.13 255.54 L181.1 254.93 L178.2 254.75 L175.44 254.99 L172.87 255.67 L170.5 256.76 L168.37 258.26 L166.5 260.16 L164.91 262.42 L163.61 265.03 L162.63 267.96 L161.97 271.17 L161.64 274.63 L161.64 278.31 L161.97 282.15 L162.63 286.13 L163.61 290.19 L164.91 294.3 L166.5 298.4 L168.37 302.45 L170.5 306.41 L172.87 310.24 L175.44 313.88 L178.2 317.31 L181.1 320.49 L184.13 323.37 L187.24 325.93 L190.41 328.14 L193.59 329.98 L196.76 331.42 L199.87 332.46 L202.9 333.07 L205.8 333.25 L208.56 333.01 L211.13 332.33Z" fill="#fff" stroke="#3a3a3a" stroke-width="1.1" fill-rule="evenodd"/>
<path d="M216.7 336.78 L213.7 331.59 M218.76 335.38 L215.51 330.35 M220.58 333.69 L217.11 328.87 M222.16 331.76 L218.5 327.17 M223.48 329.65 L219.66 325.32 M224.56 327.4 L220.61 323.35 M225.41 325.06 L221.35 321.29 M226.05 322.65 L221.92 319.17 M226.5 320.2 L222.31 317.02 M226.79 317.73 L222.56 314.85 M226.92 315.24 L222.68 312.66 M226.91 312.75 L222.67 310.47 M226.77 310.26 L222.55 308.29 M226.52 307.78 L222.33 306.11 M226.16 305.32 L222.01 303.94 M225.7 302.87 L221.61 301.79 M225.15 300.44 L221.13 299.65 M224.51 298.03 L220.56 297.54 M223.79 295.64 L219.93 295.44 M222.99 293.28 L219.23 293.37 M222.11 290.95 L218.46 291.32 M221.17 288.64 L217.62 289.29 M220.15 286.37 L216.73 287.3 M219.06 284.13 L215.78 285.33 M217.91 281.92 L214.77 283.38 M216.7 279.74 L213.7 281.47 M215.42 277.6 L212.58 279.59 M214.08 275.5 L211.4 277.75 M212.68 273.44 L210.17 275.93 M211.22 271.42 L208.89 274.16 M209.7 269.45 L207.55 272.43 M208.12 267.52 L206.16 270.74 M206.47 265.65 L204.72 269.09 M204.77 263.83 L203.22 267.49 M203 262.07 L201.67 265.95 M201.17 260.38 L200.06 264.46 M199.28 258.76 L198.4 263.04 M197.33 257.21 L196.68 261.68 M195.31 255.75 L194.9 260.4 M193.22 254.39 L193.07 259.2 M191.06 253.14 L191.18 258.1 M188.84 252.01 L189.23 257.11 M186.56 251.02 L187.22 256.24 M184.21 250.18 L185.16 255.51 M181.81 249.54 L183.04 254.94 M179.35 249.1 L180.89 254.55 M176.87 248.91 L178.71 254.39 M174.38 249 L176.52 254.47 M171.92 249.4 L174.36 254.82 M169.54 250.14 L172.27 255.47 M167.3 251.22 L170.3 256.41 M165.24 252.62 L168.49 257.65 M163.42 254.31 L166.89 259.13 M161.84 256.24 L165.5 260.83 M160.52 258.35 L164.34 262.68 M159.44 260.6 L163.39 264.65 M158.59 262.94 L162.65 266.71 M157.95 265.35 L162.08 268.83 M157.5 267.8 L161.69 270.98 M157.21 270.27 L161.44 273.15 M157.08 272.76 L161.32 275.34 M157.09 275.25 L161.33 277.53 M157.23 277.74 L161.45 279.71 M157.48 280.22 L161.67 281.89 M157.84 282.68 L161.99 284.06 M158.3 285.13 L162.39 286.21 M158.85 287.56 L162.87 288.35 M159.49 289.97 L163.44 290.46 M160.21 292.36 L164.07 292.56 M161.01 294.72 L164.77 294.63 M161.89 297.05 L165.54 296.68 M162.83 299.36 L166.38 298.71 M163.85 301.63 L167.27 300.7 M164.94 303.87 L168.22 302.67 M166.09 306.08 L169.23 304.62 M167.3 308.26 L170.3 306.53 M168.58 310.4 L171.42 308.41 M169.92 312.5 L172.6 310.25 M171.32 314.56 L173.83 312.07 M172.78 316.58 L175.11 313.84 M174.3 318.55 L176.45 315.57 M175.88 320.48 L177.84 317.26 M177.53 322.35 L179.28 318.91 M179.23 324.17 L180.78 320.51 M181 325.93 L182.33 322.05 M182.83 327.62 L183.94 323.54 M184.72 329.24 L185.6 324.96 M186.67 330.79 L187.32 326.32 M188.69 332.25 L189.1 327.6 M190.78 333.61 L190.93 328.8 M192.94 334.86 L192.82 329.9 M195.16 335.99 L194.77 330.89 M197.44 336.98 L196.78 331.76 M199.79 337.82 L198.84 332.49 M202.19 338.46 L200.96 333.06 M204.65 338.9 L203.11 333.45 M207.13 339.09 L205.29 333.61 M209.62 339 L207.48 333.53 M212.08 338.6 L209.64 333.18 M214.46 337.86 L211.73 332.53 " fill="none" stroke="#333" stroke-width="1.3" stroke-linecap="butt"/>
<path d="M216.9 337.13 A49.8 28.75 60 0 0 216.9 279.62 A49.8 28.75 60 0 0 167.1 250.87 A49.8 28.75 60 0 0 167.1 308.38 A49.8 28.75 60 0 0 216.9 337.13 Z" fill="none" stroke="#2e2e2e" stroke-width="1.37" />
<path d="M213.5 331.24 A43 24.83 60 0 0 213.5 281.59 A43 24.83 60 0 0 170.5 256.76 A43 24.83 60 0 0 170.5 306.41 A43 24.83 60 0 0 213.5 331.24 Z" fill="none" stroke="#2e2e2e" stroke-width="1.37" />
<path d="M59.4 369.5 L203 286.59" fill="none" stroke="#4a4a4a" stroke-width="0.85" stroke-dasharray="12.5 1.8 1.3 1.8" stroke-linecap="butt"/>
<path d="M495 118.01 L541 91.45" fill="none" stroke="#4a4a4a" stroke-width="0.85" stroke-dasharray="12.5 1.8 1.3 1.8" stroke-linecap="butt"/>
<path d="M580 68.93 L620.6 45.49" fill="none" stroke="#4a4a4a" stroke-width="0.85" stroke-dasharray="12.5 1.8 1.3 1.8" stroke-linecap="butt"/>
<path d="M251.8 435.5 L331 389.77" fill="none" stroke="#4a4a4a" stroke-width="0.85" stroke-dasharray="12.5 1.8 1.3 1.8" stroke-linecap="butt"/>
<path d="M381 360.9 L392.6 354.2" fill="none" stroke="#4a4a4a" stroke-width="0.85" stroke-dasharray="12.5 1.8 1.3 1.8" stroke-linecap="butt"/>
<path d="M426 334.92 L441.5 325.97" fill="none" stroke="#4a4a4a" stroke-width="0.85" stroke-dasharray="12.5 1.8 1.3 1.8" stroke-linecap="butt"/>
<path d="M460.5 315 L475 306.63" fill="none" stroke="#4a4a4a" stroke-width="0.85" stroke-dasharray="12.5 1.8 1.3 1.8" stroke-linecap="butt"/>
<path d="M489 298.54 L495 295.08" fill="none" stroke="#4a4a4a" stroke-width="0.85" stroke-dasharray="12.5 1.8 1.3 1.8" stroke-linecap="butt"/>
<path d="M648.5 206.45 L664 197.5" fill="none" stroke="#4a4a4a" stroke-width="0.85" stroke-dasharray="12.5 1.8 1.3 1.8" stroke-linecap="butt"/>
<path d="M322.6 29.6 L290 48.42" fill="none" stroke="#4a4a4a" stroke-width="0.85" stroke-dasharray="12.5 1.8 1.3 1.8" stroke-linecap="butt"/>
<path d="M282 53.04 L277 55.93" fill="none" stroke="#4a4a4a" stroke-width="0.85" stroke-dasharray="12.5 1.8 1.3 1.8" stroke-linecap="butt"/>
<path d="M272 58.81 L267 61.7" fill="none" stroke="#4a4a4a" stroke-width="0.85" stroke-dasharray="12.5 1.8 1.3 1.8" stroke-linecap="butt"/>
<path d="M243 75.56 L219 89.41" fill="none" stroke="#4a4a4a" stroke-width="0.85" stroke-dasharray="12.5 1.8 1.3 1.8" stroke-linecap="butt"/>
<path d="M103 184.86 L115.4 177.68" fill="none" stroke="#4a4a4a" stroke-width="0.85" stroke-dasharray="12.5 1.8 1.3 1.8" stroke-linecap="butt"/>
<path d="M121 174.43 L125.5 171.83" fill="none" stroke="#4a4a4a" stroke-width="0.85" stroke-dasharray="12.5 1.8 1.3 1.8" stroke-linecap="butt"/>
<path d="M148.5 158.51 L206 125.2" fill="none" stroke="#4a4a4a" stroke-width="0.85" stroke-dasharray="12.5 1.8 1.3 1.8" stroke-linecap="butt"/>
<path d="M436 404.76 L454 394.52" fill="none" stroke="#4a4a4a" stroke-width="0.85" stroke-dasharray="12.5 1.8 1.3 1.8" stroke-linecap="butt"/>
<path d="M480 379.71 L494 371.74" fill="none" stroke="#4a4a4a" stroke-width="0.85" stroke-dasharray="12.5 1.8 1.3 1.8" stroke-linecap="butt"/>
<path d="M414.3 417.8 L401.7 427.2 L436.8 449.5 L423.2 456.7" fill="none" stroke="#4a4a4a" stroke-width="0.85" stroke-dasharray="12.5 1.8 1.3 1.8" stroke-linecap="butt"/>
<path d="M152.6 233.6 L153.1 231.6 L443.4 63.6 L444.6 65.2" fill="none" stroke="#1a1a1a" stroke-width="1.52" />
<path d="M300.5 146.3 L299.5 141.5" fill="none" stroke="#1a1a1a" stroke-width="1.22" />
<path d="M163.45 225.61 L174.12 245.65" fill="none" stroke="#444" stroke-width="0.85" />
<path d="M176.29 218.18 L188.24 240.62" fill="none" stroke="#444" stroke-width="0.85" />
<path d="M191.14 209.59 L201.82 229.65" fill="none" stroke="#444" stroke-width="0.85" />
<path d="M203.98 202.16 L215.94 224.63" fill="none" stroke="#444" stroke-width="0.85" />
<path d="M218.82 193.57 L229.52 213.66" fill="none" stroke="#444" stroke-width="0.85" />
<path d="M231.66 186.13 L243.64 208.64" fill="none" stroke="#444" stroke-width="0.85" />
<path d="M246.51 177.54 L257.22 197.67" fill="none" stroke="#444" stroke-width="0.85" />
<path d="M259.35 170.11 L271.34 192.65" fill="none" stroke="#444" stroke-width="0.85" />
<path d="M274.19 161.52 L284.92 181.68" fill="none" stroke="#444" stroke-width="0.85" />
<path d="M287.03 154.09 L299.04 176.65" fill="none" stroke="#444" stroke-width="0.85" />
<path d="M301.88 145.5 L312.62 165.68" fill="none" stroke="#444" stroke-width="0.85" />
<path d="M314.72 138.07 L326.74 160.66" fill="none" stroke="#444" stroke-width="0.85" />
<path d="M329.56 129.48 L340.32 149.69" fill="none" stroke="#444" stroke-width="0.85" />
<path d="M342.4 122.05 L354.44 144.67" fill="none" stroke="#444" stroke-width="0.85" />
<path d="M357.25 113.46 L368.02 133.7" fill="none" stroke="#444" stroke-width="0.85" />
<path d="M370.09 106.03 L382.14 128.68" fill="none" stroke="#444" stroke-width="0.85" />
<path d="M384.93 97.44 L395.72 117.7" fill="none" stroke="#444" stroke-width="0.85" />
<path d="M397.77 90.01 L409.84 112.68" fill="none" stroke="#444" stroke-width="0.85" />
<path d="M412.61 81.42 L423.42 101.71" fill="none" stroke="#444" stroke-width="0.85" />
<text transform="translate(183.6 35.1) scale(0.93 1)" font-size="11.5" fill="#686868" text-anchor="middle">5</text>
<text transform="translate(208.6 33.7) scale(0.93 1)" font-size="11.5" fill="#686868" text-anchor="middle">8</text>
<text transform="translate(236 33.7) scale(0.93 1)" font-size="11.5" fill="#686868" text-anchor="middle">18</text>
<text transform="translate(292.4 101.6) scale(0.93 1)" font-size="11.5" fill="#686868" text-anchor="middle">16</text>
<text transform="translate(313.2 88.9) scale(0.93 1)" font-size="11.5" fill="#686868" text-anchor="middle">19</text>
<text transform="translate(299.2 137.3) scale(0.93 1)" font-size="11.5" fill="#686868" text-anchor="middle">3</text>
<text transform="translate(171.8 180.6) scale(0.93 1)" font-size="11.5" fill="#686868" text-anchor="middle">13</text>
<text transform="translate(146.6 199.1) scale(0.93 1)" font-size="11.5" fill="#686868" text-anchor="middle">12</text>
<text transform="translate(119.5 213.8) scale(0.93 1)" font-size="11.5" fill="#686868" text-anchor="middle">4</text>
<text transform="translate(97.3 227.1) scale(0.93 1)" font-size="11.5" fill="#686868" text-anchor="middle">11</text>
<text transform="translate(492.2 48.8) scale(0.93 1)" font-size="11.5" fill="#686868" text-anchor="middle">6</text>
<text transform="translate(560.5 34.3) scale(0.93 1)" font-size="11.5" fill="#686868" text-anchor="middle">9</text>
<text transform="translate(433.2 81.9) scale(0.93 1)" font-size="11.5" fill="#686868" text-anchor="middle">23</text>
<text transform="translate(447.7 75.6) scale(0.93 1)" font-size="11.5" fill="#686868" text-anchor="middle">24</text>
<text transform="translate(461.3 250.4) scale(0.93 1)" font-size="11.5" fill="#686868" text-anchor="middle">1</text>
<text transform="translate(433.2 268) scale(0.93 1)" font-size="11.5" fill="#686868" text-anchor="middle">15</text>
<text transform="translate(410.4 280.6) scale(0.93 1)" font-size="11.5" fill="#686868" text-anchor="middle">14</text>
<text transform="translate(391.4 291.4) scale(0.93 1)" font-size="11.5" fill="#686868" text-anchor="middle">10</text>
<text transform="translate(358.2 304.6) scale(0.93 1)" font-size="11.5" fill="#686868" text-anchor="middle">7</text>
<text transform="translate(403.5 382.3) scale(0.93 1)" font-size="11.5" fill="#686868" text-anchor="middle">21</text>
<text transform="translate(534.5 383.4) scale(0.93 1)" font-size="11.5" fill="#686868" text-anchor="middle">20</text>
<text transform="translate(534.5 405.1) scale(0.93 1)" font-size="11.5" fill="#686868" text-anchor="middle">2</text>
<text transform="translate(562.3 464.4) scale(0.93 1)" font-size="11.5" fill="#686868" text-anchor="middle">22</text>
<text transform="translate(368.2 469.9) scale(0.93 1)" font-size="11.5" fill="#686868" text-anchor="middle">17</text>
<text transform="translate(726.2 488.8) scale(0.93 1)" font-size="11.5" fill="#686868" text-anchor="middle">CMB00563</text>
<path d="M182 35.5 L178.2 61.8" fill="none" stroke="#555" stroke-width="0.85" />
<path d="M211.3 34.5 L229.2 70.8" fill="none" stroke="#555" stroke-width="0.85" />
<path d="M238.1 34.5 L257.2 60" fill="none" stroke="#555" stroke-width="0.85" />
<path d="M285.2 65.7 L290.3 89.9" fill="none" stroke="#555" stroke-width="0.85" />
<path d="M306.9 54.2 L313.2 77.1" fill="none" stroke="#555" stroke-width="0.85" />
<path d="M159.9 159.7 L167 171" fill="none" stroke="#555" stroke-width="0.85" />
<path d="M138.5 172 L144 186.2" fill="none" stroke="#555" stroke-width="0.85" />
<path d="M117.7 181.1 L119.1 202.5" fill="none" stroke="#555" stroke-width="0.85" />
<path d="M92.6 194.4 L96.7 215.8" fill="none" stroke="#555" stroke-width="0.85" />
<path d="M499 46.2 L518.2 52.6" fill="none" stroke="#555" stroke-width="0.85" />
<path d="M566.6 34 L579.9 41.7" fill="none" stroke="#555" stroke-width="0.85" />
<path d="M437 84.2 L445.9 103.3" fill="none" stroke="#555" stroke-width="0.85" />
<path d="M451 79.1 L457.4 94.4" fill="none" stroke="#555" stroke-width="0.85" />
<path d="M466.4 251.4 L499 289.3" fill="none" stroke="#555" stroke-width="0.85" />
<path d="M438.3 268.3 L464.8 295.9" fill="none" stroke="#555" stroke-width="0.85" />
<path d="M413.8 281.6 L431.1 310.1" fill="none" stroke="#555" stroke-width="0.85" />
<path d="M395.5 292.8 L407.7 324.4" fill="none" stroke="#555" stroke-width="0.85" />
<path d="M355.3 309.7 L349 328.5" fill="none" stroke="#555" stroke-width="0.85" />
<path d="M408 384.6 L418.2 401.2" fill="none" stroke="#555" stroke-width="0.85" />
<path d="M505 378.2 L527.9 378.8" fill="none" stroke="#555" stroke-width="0.85" />
<path d="M488.4 402.5 L527.9 401.2" fill="none" stroke="#555" stroke-width="0.85" />
<path d="M522.8 462.4 L556 459.8" fill="none" stroke="#555" stroke-width="0.85" />
<path d="M375.5 466.3 L397.3 468.3" fill="none" stroke="#555" stroke-width="0.85" />
</g>
</svg>
</body></html>
